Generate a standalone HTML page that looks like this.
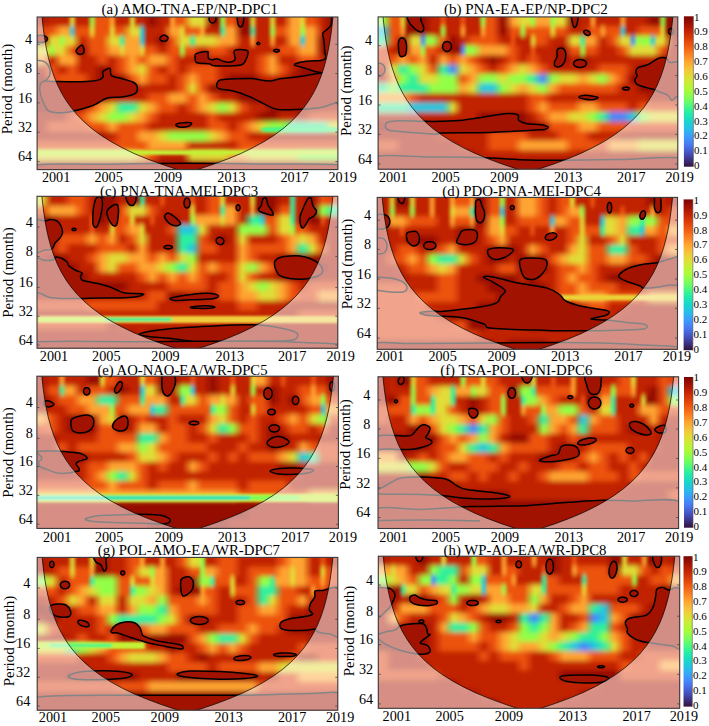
<!DOCTYPE html><html><head><meta charset="utf-8"><style>html,body{margin:0;padding:0;background:#fff;}svg{display:block;}text{font-family:"Liberation Serif",serif;fill:#000;}</style></head><body>
<svg width="709" height="726" viewBox="0 0 709 726">
<defs>
<linearGradient id="cbg" x1="0" y1="0" x2="0" y2="1"><stop offset="0.000" stop-color="#7a0403"/><stop offset="0.050" stop-color="#a11201"/><stop offset="0.100" stop-color="#c32503"/><stop offset="0.150" stop-color="#dd3d08"/><stop offset="0.200" stop-color="#f05b12"/><stop offset="0.250" stop-color="#fb7e21"/><stop offset="0.300" stop-color="#fea431"/><stop offset="0.350" stop-color="#f6c33a"/><stop offset="0.400" stop-color="#e1dd37"/><stop offset="0.450" stop-color="#c3f134"/><stop offset="0.500" stop-color="#a4fc3c"/><stop offset="0.550" stop-color="#79fe59"/><stop offset="0.600" stop-color="#46f884"/><stop offset="0.650" stop-color="#20eaac"/><stop offset="0.700" stop-color="#19d5cd"/><stop offset="0.750" stop-color="#28bceb"/><stop offset="0.800" stop-color="#3e9bfe"/><stop offset="0.850" stop-color="#477bf2"/><stop offset="0.900" stop-color="#4559cb"/><stop offset="0.950" stop-color="#3d358b"/><stop offset="1.000" stop-color="#30123b"/></linearGradient>
<filter id="bl" x="-5%" y="-5%" width="110%" height="110%"><feGaussianBlur stdDeviation="1.2 2.9"/></filter>
<filter id="bl2" x="-5%" y="-50%" width="110%" height="200%"><feGaussianBlur stdDeviation="1.5 1"/></filter>
<clipPath id="cp0"><rect x="37.1" y="17.0" width="300.79999999999995" height="152.6"/></clipPath>
<linearGradient id="g0_0" gradientUnits="userSpaceOnUse" x1="37.1" y1="0" x2="337.9" y2="0"><stop offset="0.017" stop-color="#ac1701"/><stop offset="0.050" stop-color="#c12302"/><stop offset="0.102" stop-color="#c12302"/><stop offset="0.117" stop-color="#e1dd37"/><stop offset="0.132" stop-color="#c12302"/><stop offset="0.168" stop-color="#c12302"/><stop offset="0.183" stop-color="#92ff47"/><stop offset="0.198" stop-color="#ec530f"/><stop offset="0.235" stop-color="#ec530f"/><stop offset="0.250" stop-color="#fea431"/><stop offset="0.265" stop-color="#c12302"/><stop offset="0.302" stop-color="#c12302"/><stop offset="0.317" stop-color="#e1dd37"/><stop offset="0.332" stop-color="#c12302"/><stop offset="0.350" stop-color="#c12302"/><stop offset="0.383" stop-color="#950d01"/><stop offset="0.417" stop-color="#c12302"/><stop offset="0.435" stop-color="#c12302"/><stop offset="0.450" stop-color="#fea431"/><stop offset="0.465" stop-color="#ec530f"/><stop offset="0.483" stop-color="#ec530f"/><stop offset="0.517" stop-color="#e1dd37"/><stop offset="0.550" stop-color="#e1dd37"/><stop offset="0.583" stop-color="#950d01"/><stop offset="0.602" stop-color="#950d01"/><stop offset="0.617" stop-color="#92ff47"/><stop offset="0.632" stop-color="#ec530f"/><stop offset="0.650" stop-color="#ec530f"/><stop offset="0.683" stop-color="#950d01"/><stop offset="0.702" stop-color="#950d01"/><stop offset="0.717" stop-color="#e1dd37"/><stop offset="0.732" stop-color="#c12302"/><stop offset="0.768" stop-color="#c12302"/><stop offset="0.783" stop-color="#e1dd37"/><stop offset="0.798" stop-color="#c12302"/><stop offset="0.817" stop-color="#c12302"/><stop offset="0.850" stop-color="#fea431"/><stop offset="0.868" stop-color="#fea431"/><stop offset="0.883" stop-color="#e1dd37"/><stop offset="0.898" stop-color="#ec530f"/><stop offset="0.917" stop-color="#ec530f"/><stop offset="0.950" stop-color="#c12302"/><stop offset="0.983" stop-color="#8e0a01"/></linearGradient>
<linearGradient id="g0_1" gradientUnits="userSpaceOnUse" x1="37.1" y1="0" x2="337.9" y2="0"><stop offset="0.017" stop-color="#ac1701"/><stop offset="0.050" stop-color="#c12302"/><stop offset="0.102" stop-color="#c12302"/><stop offset="0.117" stop-color="#e1dd37"/><stop offset="0.132" stop-color="#c12302"/><stop offset="0.168" stop-color="#c12302"/><stop offset="0.183" stop-color="#92ff47"/><stop offset="0.198" stop-color="#ec530f"/><stop offset="0.235" stop-color="#ec530f"/><stop offset="0.250" stop-color="#fea431"/><stop offset="0.265" stop-color="#c12302"/><stop offset="0.302" stop-color="#c12302"/><stop offset="0.317" stop-color="#e1dd37"/><stop offset="0.332" stop-color="#c12302"/><stop offset="0.350" stop-color="#c12302"/><stop offset="0.383" stop-color="#950d01"/><stop offset="0.417" stop-color="#c12302"/><stop offset="0.435" stop-color="#c12302"/><stop offset="0.450" stop-color="#fea431"/><stop offset="0.465" stop-color="#ec530f"/><stop offset="0.483" stop-color="#ec530f"/><stop offset="0.517" stop-color="#e1dd37"/><stop offset="0.550" stop-color="#e1dd37"/><stop offset="0.583" stop-color="#950d01"/><stop offset="0.602" stop-color="#950d01"/><stop offset="0.617" stop-color="#92ff47"/><stop offset="0.632" stop-color="#ec530f"/><stop offset="0.650" stop-color="#ec530f"/><stop offset="0.683" stop-color="#950d01"/><stop offset="0.702" stop-color="#950d01"/><stop offset="0.717" stop-color="#e1dd37"/><stop offset="0.732" stop-color="#c12302"/><stop offset="0.768" stop-color="#c12302"/><stop offset="0.783" stop-color="#e1dd37"/><stop offset="0.798" stop-color="#c12302"/><stop offset="0.817" stop-color="#c12302"/><stop offset="0.850" stop-color="#fea431"/><stop offset="0.868" stop-color="#fea431"/><stop offset="0.883" stop-color="#e1dd37"/><stop offset="0.898" stop-color="#ec530f"/><stop offset="0.917" stop-color="#ec530f"/><stop offset="0.950" stop-color="#c12302"/><stop offset="0.983" stop-color="#8e0a01"/></linearGradient>
<linearGradient id="g0_2" gradientUnits="userSpaceOnUse" x1="37.1" y1="0" x2="337.9" y2="0"><stop offset="0.017" stop-color="#e14109"/><stop offset="0.050" stop-color="#ec530f"/><stop offset="0.083" stop-color="#fea431"/><stop offset="0.102" stop-color="#fea431"/><stop offset="0.117" stop-color="#20c7df"/><stop offset="0.132" stop-color="#ec530f"/><stop offset="0.168" stop-color="#ec530f"/><stop offset="0.183" stop-color="#e1dd37"/><stop offset="0.198" stop-color="#ec530f"/><stop offset="0.235" stop-color="#ec530f"/><stop offset="0.250" stop-color="#e1dd37"/><stop offset="0.265" stop-color="#ec530f"/><stop offset="0.283" stop-color="#ec530f"/><stop offset="0.317" stop-color="#e1dd37"/><stop offset="0.335" stop-color="#e1dd37"/><stop offset="0.350" stop-color="#20c7df"/><stop offset="0.365" stop-color="#c12302"/><stop offset="0.417" stop-color="#c12302"/><stop offset="0.450" stop-color="#fea431"/><stop offset="0.468" stop-color="#fea431"/><stop offset="0.483" stop-color="#e1dd37"/><stop offset="0.498" stop-color="#ec530f"/><stop offset="0.535" stop-color="#ec530f"/><stop offset="0.550" stop-color="#fea431"/><stop offset="0.565" stop-color="#c12302"/><stop offset="0.602" stop-color="#c12302"/><stop offset="0.617" stop-color="#2cf09e"/><stop offset="0.632" stop-color="#fea431"/><stop offset="0.650" stop-color="#fea431"/><stop offset="0.683" stop-color="#950d01"/><stop offset="0.702" stop-color="#950d01"/><stop offset="0.717" stop-color="#2cf09e"/><stop offset="0.732" stop-color="#c12302"/><stop offset="0.768" stop-color="#c12302"/><stop offset="0.783" stop-color="#92ff47"/><stop offset="0.798" stop-color="#ec530f"/><stop offset="0.817" stop-color="#ec530f"/><stop offset="0.850" stop-color="#fea431"/><stop offset="0.868" stop-color="#fea431"/><stop offset="0.883" stop-color="#92ff47"/><stop offset="0.898" stop-color="#fea431"/><stop offset="0.917" stop-color="#fea431"/><stop offset="0.950" stop-color="#c12302"/><stop offset="0.983" stop-color="#8e0a01"/></linearGradient>
<linearGradient id="g0_3" gradientUnits="userSpaceOnUse" x1="37.1" y1="0" x2="337.9" y2="0"><stop offset="0.017" stop-color="#8e0a01"/><stop offset="0.050" stop-color="#e1dd37"/><stop offset="0.068" stop-color="#e1dd37"/><stop offset="0.083" stop-color="#92ff47"/><stop offset="0.098" stop-color="#e1dd37"/><stop offset="0.117" stop-color="#e1dd37"/><stop offset="0.150" stop-color="#c12302"/><stop offset="0.183" stop-color="#ec530f"/><stop offset="0.217" stop-color="#ec530f"/><stop offset="0.250" stop-color="#e1dd37"/><stop offset="0.268" stop-color="#e1dd37"/><stop offset="0.283" stop-color="#2cf09e"/><stop offset="0.298" stop-color="#fea431"/><stop offset="0.335" stop-color="#fea431"/><stop offset="0.350" stop-color="#20c7df"/><stop offset="0.365" stop-color="#c12302"/><stop offset="0.383" stop-color="#c12302"/><stop offset="0.417" stop-color="#950d01"/><stop offset="0.450" stop-color="#ec530f"/><stop offset="0.483" stop-color="#e1dd37"/><stop offset="0.502" stop-color="#e1dd37"/><stop offset="0.517" stop-color="#2cf09e"/><stop offset="0.532" stop-color="#e1dd37"/><stop offset="0.583" stop-color="#e1dd37"/><stop offset="0.617" stop-color="#fea431"/><stop offset="0.650" stop-color="#fea431"/><stop offset="0.683" stop-color="#c12302"/><stop offset="0.702" stop-color="#c12302"/><stop offset="0.717" stop-color="#fea431"/><stop offset="0.732" stop-color="#c12302"/><stop offset="0.768" stop-color="#c12302"/><stop offset="0.783" stop-color="#fea431"/><stop offset="0.798" stop-color="#c12302"/><stop offset="0.817" stop-color="#c12302"/><stop offset="0.850" stop-color="#fea431"/><stop offset="0.868" stop-color="#fea431"/><stop offset="0.883" stop-color="#20c7df"/><stop offset="0.898" stop-color="#fea431"/><stop offset="0.917" stop-color="#fea431"/><stop offset="0.950" stop-color="#950d01"/><stop offset="0.983" stop-color="#8e0a01"/></linearGradient>
<linearGradient id="g0_4" gradientUnits="userSpaceOnUse" x1="37.1" y1="0" x2="337.9" y2="0"><stop offset="0.017" stop-color="#e1dd37"/><stop offset="0.035" stop-color="#e1dd37"/><stop offset="0.050" stop-color="#92ff47"/><stop offset="0.065" stop-color="#e1dd37"/><stop offset="0.083" stop-color="#e1dd37"/><stop offset="0.117" stop-color="#ec530f"/><stop offset="0.150" stop-color="#950d01"/><stop offset="0.183" stop-color="#ec530f"/><stop offset="0.217" stop-color="#ec530f"/><stop offset="0.250" stop-color="#fea431"/><stop offset="0.268" stop-color="#fea431"/><stop offset="0.283" stop-color="#e1dd37"/><stop offset="0.298" stop-color="#fea431"/><stop offset="0.335" stop-color="#fea431"/><stop offset="0.350" stop-color="#e1dd37"/><stop offset="0.365" stop-color="#ec530f"/><stop offset="0.383" stop-color="#ec530f"/><stop offset="0.417" stop-color="#c12302"/><stop offset="0.450" stop-color="#ec530f"/><stop offset="0.468" stop-color="#ec530f"/><stop offset="0.483" stop-color="#92ff47"/><stop offset="0.498" stop-color="#ec530f"/><stop offset="0.517" stop-color="#ec530f"/><stop offset="0.550" stop-color="#c12302"/><stop offset="0.583" stop-color="#ec530f"/><stop offset="0.617" stop-color="#ec530f"/><stop offset="0.650" stop-color="#c12302"/><stop offset="0.783" stop-color="#c12302"/><stop offset="0.817" stop-color="#ec530f"/><stop offset="0.850" stop-color="#ec530f"/><stop offset="0.883" stop-color="#fea431"/><stop offset="0.917" stop-color="#fea431"/><stop offset="0.950" stop-color="#950d01"/><stop offset="0.983" stop-color="#8e0a01"/></linearGradient>
<linearGradient id="g0_5" gradientUnits="userSpaceOnUse" x1="37.1" y1="0" x2="337.9" y2="0"><stop offset="0.017" stop-color="#fea431"/><stop offset="0.050" stop-color="#c12302"/><stop offset="0.083" stop-color="#fea431"/><stop offset="0.117" stop-color="#fea431"/><stop offset="0.150" stop-color="#c12302"/><stop offset="0.183" stop-color="#c12302"/><stop offset="0.217" stop-color="#ec530f"/><stop offset="0.250" stop-color="#c12302"/><stop offset="0.283" stop-color="#ec530f"/><stop offset="0.317" stop-color="#fea431"/><stop offset="0.350" stop-color="#ec530f"/><stop offset="0.383" stop-color="#fea431"/><stop offset="0.417" stop-color="#fea431"/><stop offset="0.450" stop-color="#ec530f"/><stop offset="0.483" stop-color="#c12302"/><stop offset="0.717" stop-color="#c12302"/><stop offset="0.750" stop-color="#ec530f"/><stop offset="0.783" stop-color="#fea431"/><stop offset="0.817" stop-color="#c12302"/><stop offset="0.850" stop-color="#c12302"/><stop offset="0.883" stop-color="#ec530f"/><stop offset="0.917" stop-color="#ec530f"/><stop offset="0.950" stop-color="#c12302"/><stop offset="0.983" stop-color="#8e0a01"/></linearGradient>
<linearGradient id="g0_6" gradientUnits="userSpaceOnUse" x1="37.1" y1="0" x2="337.9" y2="0"><stop offset="0.017" stop-color="#ac1701"/><stop offset="0.050" stop-color="#ec530f"/><stop offset="0.083" stop-color="#c12302"/><stop offset="0.117" stop-color="#ec530f"/><stop offset="0.150" stop-color="#c12302"/><stop offset="0.183" stop-color="#c12302"/><stop offset="0.217" stop-color="#950d01"/><stop offset="0.250" stop-color="#c12302"/><stop offset="0.283" stop-color="#ec530f"/><stop offset="0.317" stop-color="#fea431"/><stop offset="0.350" stop-color="#e1dd37"/><stop offset="0.383" stop-color="#ec530f"/><stop offset="0.417" stop-color="#c12302"/><stop offset="0.450" stop-color="#ec530f"/><stop offset="0.483" stop-color="#c12302"/><stop offset="0.517" stop-color="#ec530f"/><stop offset="0.583" stop-color="#ec530f"/><stop offset="0.617" stop-color="#c12302"/><stop offset="0.717" stop-color="#c12302"/><stop offset="0.750" stop-color="#ec530f"/><stop offset="0.783" stop-color="#fea431"/><stop offset="0.817" stop-color="#ec530f"/><stop offset="0.850" stop-color="#c12302"/><stop offset="0.883" stop-color="#950d01"/><stop offset="0.950" stop-color="#950d01"/><stop offset="0.983" stop-color="#8e0a01"/></linearGradient>
<linearGradient id="g0_7" gradientUnits="userSpaceOnUse" x1="37.1" y1="0" x2="337.9" y2="0"><stop offset="0.017" stop-color="#8e0a01"/><stop offset="0.050" stop-color="#e14109"/><stop offset="0.083" stop-color="#ec530f"/><stop offset="0.150" stop-color="#ec530f"/><stop offset="0.183" stop-color="#c12302"/><stop offset="0.217" stop-color="#950d01"/><stop offset="0.283" stop-color="#950d01"/><stop offset="0.317" stop-color="#ec530f"/><stop offset="0.350" stop-color="#fea431"/><stop offset="0.383" stop-color="#ec530f"/><stop offset="0.417" stop-color="#ec530f"/><stop offset="0.450" stop-color="#c12302"/><stop offset="0.483" stop-color="#ec530f"/><stop offset="0.517" stop-color="#fea431"/><stop offset="0.550" stop-color="#ec530f"/><stop offset="0.583" stop-color="#ec530f"/><stop offset="0.617" stop-color="#c12302"/><stop offset="0.650" stop-color="#950d01"/><stop offset="0.717" stop-color="#950d01"/><stop offset="0.750" stop-color="#c12302"/><stop offset="0.817" stop-color="#c12302"/><stop offset="0.850" stop-color="#950d01"/><stop offset="0.917" stop-color="#950d01"/><stop offset="0.950" stop-color="#8e0a01"/><stop offset="0.983" stop-color="#8e0a01"/></linearGradient>
<linearGradient id="g0_8" gradientUnits="userSpaceOnUse" x1="37.1" y1="0" x2="337.9" y2="0"><stop offset="0.017" stop-color="#8e0a01"/><stop offset="0.050" stop-color="#8e0a01"/><stop offset="0.083" stop-color="#950d01"/><stop offset="0.317" stop-color="#950d01"/><stop offset="0.350" stop-color="#c12302"/><stop offset="0.450" stop-color="#c12302"/><stop offset="0.483" stop-color="#ec530f"/><stop offset="0.517" stop-color="#e1dd37"/><stop offset="0.550" stop-color="#ec530f"/><stop offset="0.583" stop-color="#950d01"/><stop offset="0.917" stop-color="#950d01"/><stop offset="0.950" stop-color="#8e0a01"/><stop offset="0.983" stop-color="#8e0a01"/></linearGradient>
<linearGradient id="g0_9" gradientUnits="userSpaceOnUse" x1="37.1" y1="0" x2="337.9" y2="0"><stop offset="0.017" stop-color="#8e0a01"/><stop offset="0.083" stop-color="#8e0a01"/><stop offset="0.117" stop-color="#950d01"/><stop offset="0.217" stop-color="#950d01"/><stop offset="0.250" stop-color="#c12302"/><stop offset="0.350" stop-color="#c12302"/><stop offset="0.383" stop-color="#ec530f"/><stop offset="0.417" stop-color="#ec530f"/><stop offset="0.450" stop-color="#fea431"/><stop offset="0.483" stop-color="#fea431"/><stop offset="0.517" stop-color="#ec530f"/><stop offset="0.550" stop-color="#fea431"/><stop offset="0.583" stop-color="#ec530f"/><stop offset="0.617" stop-color="#c12302"/><stop offset="0.650" stop-color="#c12302"/><stop offset="0.683" stop-color="#950d01"/><stop offset="0.883" stop-color="#950d01"/><stop offset="0.917" stop-color="#8e0a01"/><stop offset="0.983" stop-color="#8e0a01"/></linearGradient>
<linearGradient id="g0_10" gradientUnits="userSpaceOnUse" x1="37.1" y1="0" x2="337.9" y2="0"><stop offset="0.017" stop-color="#8e0a01"/><stop offset="0.083" stop-color="#8e0a01"/><stop offset="0.117" stop-color="#950d01"/><stop offset="0.150" stop-color="#c12302"/><stop offset="0.183" stop-color="#ec530f"/><stop offset="0.217" stop-color="#fea431"/><stop offset="0.250" stop-color="#e1dd37"/><stop offset="0.283" stop-color="#2cf09e"/><stop offset="0.317" stop-color="#2cf09e"/><stop offset="0.350" stop-color="#e1dd37"/><stop offset="0.383" stop-color="#fea431"/><stop offset="0.417" stop-color="#ec530f"/><stop offset="0.450" stop-color="#ec530f"/><stop offset="0.483" stop-color="#c12302"/><stop offset="0.517" stop-color="#ec530f"/><stop offset="0.550" stop-color="#fea431"/><stop offset="0.583" stop-color="#e1dd37"/><stop offset="0.617" stop-color="#92ff47"/><stop offset="0.650" stop-color="#e1dd37"/><stop offset="0.683" stop-color="#ec530f"/><stop offset="0.717" stop-color="#c12302"/><stop offset="0.750" stop-color="#c12302"/><stop offset="0.783" stop-color="#950d01"/><stop offset="0.883" stop-color="#950d01"/><stop offset="0.917" stop-color="#8e0a01"/><stop offset="0.950" stop-color="#ac1701"/><stop offset="0.983" stop-color="#ac1701"/></linearGradient>
<linearGradient id="g0_11" gradientUnits="userSpaceOnUse" x1="37.1" y1="0" x2="337.9" y2="0"><stop offset="0.017" stop-color="#ac1701"/><stop offset="0.083" stop-color="#ac1701"/><stop offset="0.117" stop-color="#e14109"/><stop offset="0.150" stop-color="#ec530f"/><stop offset="0.183" stop-color="#fea431"/><stop offset="0.217" stop-color="#e1dd37"/><stop offset="0.250" stop-color="#92ff47"/><stop offset="0.283" stop-color="#92ff47"/><stop offset="0.317" stop-color="#e1dd37"/><stop offset="0.350" stop-color="#fea431"/><stop offset="0.383" stop-color="#ec530f"/><stop offset="0.417" stop-color="#c12302"/><stop offset="0.550" stop-color="#c12302"/><stop offset="0.583" stop-color="#ec530f"/><stop offset="0.617" stop-color="#c12302"/><stop offset="0.717" stop-color="#c12302"/><stop offset="0.750" stop-color="#950d01"/><stop offset="0.783" stop-color="#950d01"/><stop offset="0.817" stop-color="#c12302"/><stop offset="0.850" stop-color="#c12302"/><stop offset="0.883" stop-color="#ac1701"/><stop offset="0.917" stop-color="#e14109"/><stop offset="0.983" stop-color="#e14109"/></linearGradient>
<linearGradient id="g0_12" gradientUnits="userSpaceOnUse" x1="37.1" y1="0" x2="337.9" y2="0"><stop offset="0.017" stop-color="#ac1701"/><stop offset="0.050" stop-color="#e14109"/><stop offset="0.150" stop-color="#e14109"/><stop offset="0.183" stop-color="#ec530f"/><stop offset="0.217" stop-color="#ec530f"/><stop offset="0.250" stop-color="#fea431"/><stop offset="0.283" stop-color="#ec530f"/><stop offset="0.350" stop-color="#ec530f"/><stop offset="0.383" stop-color="#c12302"/><stop offset="0.550" stop-color="#c12302"/><stop offset="0.583" stop-color="#ec530f"/><stop offset="0.617" stop-color="#ec530f"/><stop offset="0.650" stop-color="#c12302"/><stop offset="0.683" stop-color="#ec530f"/><stop offset="0.717" stop-color="#fea431"/><stop offset="0.750" stop-color="#e1dd37"/><stop offset="0.783" stop-color="#92ff47"/><stop offset="0.817" stop-color="#92ff47"/><stop offset="0.850" stop-color="#2cf09e"/><stop offset="0.950" stop-color="#2cf09e"/><stop offset="0.983" stop-color="#e1dd37"/></linearGradient>
<linearGradient id="g0_13" gradientUnits="userSpaceOnUse" x1="37.1" y1="0" x2="337.9" y2="0"><stop offset="0.017" stop-color="#ac1701"/><stop offset="0.217" stop-color="#ac1701"/><stop offset="0.250" stop-color="#c12302"/><stop offset="0.283" stop-color="#ec530f"/><stop offset="0.317" stop-color="#ec530f"/><stop offset="0.350" stop-color="#fea431"/><stop offset="0.383" stop-color="#fea431"/><stop offset="0.417" stop-color="#e1dd37"/><stop offset="0.450" stop-color="#92ff47"/><stop offset="0.550" stop-color="#92ff47"/><stop offset="0.583" stop-color="#e1dd37"/><stop offset="0.617" stop-color="#fea431"/><stop offset="0.650" stop-color="#ec530f"/><stop offset="0.683" stop-color="#ec530f"/><stop offset="0.717" stop-color="#c12302"/><stop offset="0.750" stop-color="#c12302"/><stop offset="0.783" stop-color="#ac1701"/><stop offset="0.983" stop-color="#ac1701"/></linearGradient>
<linearGradient id="g0_14" gradientUnits="userSpaceOnUse" x1="37.1" y1="0" x2="337.9" y2="0"><stop offset="0.017" stop-color="#e14109"/><stop offset="0.250" stop-color="#e14109"/><stop offset="0.283" stop-color="#ec530f"/><stop offset="0.350" stop-color="#ec530f"/><stop offset="0.383" stop-color="#fea431"/><stop offset="0.483" stop-color="#fea431"/><stop offset="0.517" stop-color="#c12302"/><stop offset="0.650" stop-color="#c12302"/><stop offset="0.683" stop-color="#ec530f"/><stop offset="0.717" stop-color="#ec530f"/><stop offset="0.750" stop-color="#e14109"/><stop offset="0.983" stop-color="#e14109"/></linearGradient>
<linearGradient id="g0_15" gradientUnits="userSpaceOnUse" x1="37.1" y1="0" x2="337.9" y2="0"><stop offset="0.017" stop-color="#e1dd37"/><stop offset="0.317" stop-color="#e1dd37"/><stop offset="0.350" stop-color="#fea431"/><stop offset="0.383" stop-color="#ec530f"/><stop offset="0.417" stop-color="#c12302"/><stop offset="0.483" stop-color="#c12302"/><stop offset="0.517" stop-color="#e1dd37"/><stop offset="0.617" stop-color="#e1dd37"/><stop offset="0.650" stop-color="#fea431"/><stop offset="0.683" stop-color="#fea431"/><stop offset="0.717" stop-color="#e1dd37"/><stop offset="0.850" stop-color="#e1dd37"/><stop offset="0.883" stop-color="#92ff47"/><stop offset="0.983" stop-color="#92ff47"/></linearGradient>
<linearGradient id="g0_16" gradientUnits="userSpaceOnUse" x1="37.1" y1="0" x2="337.9" y2="0"><stop offset="0.017" stop-color="#ac1701"/><stop offset="0.383" stop-color="#ac1701"/><stop offset="0.417" stop-color="#8e0a01"/><stop offset="0.450" stop-color="#950d01"/><stop offset="0.550" stop-color="#950d01"/><stop offset="0.583" stop-color="#ac1701"/><stop offset="0.983" stop-color="#ac1701"/></linearGradient>
<linearGradient id="g0_17" gradientUnits="userSpaceOnUse" x1="37.1" y1="0" x2="337.9" y2="0"><stop offset="0.017" stop-color="#ac1701"/><stop offset="0.383" stop-color="#ac1701"/><stop offset="0.417" stop-color="#8e0a01"/><stop offset="0.450" stop-color="#950d01"/><stop offset="0.550" stop-color="#950d01"/><stop offset="0.583" stop-color="#ac1701"/><stop offset="0.983" stop-color="#ac1701"/></linearGradient>
<clipPath id="cp1"><rect x="378.1" y="16.9" width="299.69999999999993" height="152.29999999999998"/></clipPath>
<linearGradient id="g1_0" gradientUnits="userSpaceOnUse" x1="378.1" y1="0" x2="677.8" y2="0"><stop offset="0.017" stop-color="#92ff47"/><stop offset="0.050" stop-color="#ec530f"/><stop offset="0.068" stop-color="#ec530f"/><stop offset="0.083" stop-color="#e1dd37"/><stop offset="0.098" stop-color="#950d01"/><stop offset="0.150" stop-color="#950d01"/><stop offset="0.183" stop-color="#c12302"/><stop offset="0.202" stop-color="#c12302"/><stop offset="0.217" stop-color="#ec530f"/><stop offset="0.232" stop-color="#c12302"/><stop offset="0.268" stop-color="#c12302"/><stop offset="0.283" stop-color="#ec530f"/><stop offset="0.298" stop-color="#c12302"/><stop offset="0.335" stop-color="#c12302"/><stop offset="0.350" stop-color="#92ff47"/><stop offset="0.365" stop-color="#ec530f"/><stop offset="0.383" stop-color="#ec530f"/><stop offset="0.417" stop-color="#950d01"/><stop offset="0.450" stop-color="#fea431"/><stop offset="0.483" stop-color="#e1dd37"/><stop offset="0.502" stop-color="#e1dd37"/><stop offset="0.517" stop-color="#92ff47"/><stop offset="0.532" stop-color="#fea431"/><stop offset="0.568" stop-color="#fea431"/><stop offset="0.583" stop-color="#92ff47"/><stop offset="0.598" stop-color="#e1dd37"/><stop offset="0.617" stop-color="#e1dd37"/><stop offset="0.650" stop-color="#950d01"/><stop offset="0.683" stop-color="#c12302"/><stop offset="0.702" stop-color="#c12302"/><stop offset="0.717" stop-color="#fea431"/><stop offset="0.732" stop-color="#c12302"/><stop offset="0.802" stop-color="#c12302"/><stop offset="0.817" stop-color="#fea431"/><stop offset="0.832" stop-color="#c12302"/><stop offset="0.883" stop-color="#c12302"/><stop offset="0.917" stop-color="#950d01"/><stop offset="0.935" stop-color="#950d01"/><stop offset="0.950" stop-color="#92ff47"/><stop offset="0.965" stop-color="#950d01"/><stop offset="0.983" stop-color="#8e0a01"/></linearGradient>
<linearGradient id="g1_1" gradientUnits="userSpaceOnUse" x1="378.1" y1="0" x2="677.8" y2="0"><stop offset="0.017" stop-color="#92ff47"/><stop offset="0.050" stop-color="#ec530f"/><stop offset="0.068" stop-color="#ec530f"/><stop offset="0.083" stop-color="#e1dd37"/><stop offset="0.098" stop-color="#950d01"/><stop offset="0.150" stop-color="#950d01"/><stop offset="0.183" stop-color="#c12302"/><stop offset="0.202" stop-color="#c12302"/><stop offset="0.217" stop-color="#ec530f"/><stop offset="0.232" stop-color="#c12302"/><stop offset="0.268" stop-color="#c12302"/><stop offset="0.283" stop-color="#ec530f"/><stop offset="0.298" stop-color="#c12302"/><stop offset="0.335" stop-color="#c12302"/><stop offset="0.350" stop-color="#92ff47"/><stop offset="0.365" stop-color="#ec530f"/><stop offset="0.383" stop-color="#ec530f"/><stop offset="0.417" stop-color="#950d01"/><stop offset="0.450" stop-color="#fea431"/><stop offset="0.483" stop-color="#e1dd37"/><stop offset="0.502" stop-color="#e1dd37"/><stop offset="0.517" stop-color="#92ff47"/><stop offset="0.532" stop-color="#fea431"/><stop offset="0.568" stop-color="#fea431"/><stop offset="0.583" stop-color="#92ff47"/><stop offset="0.598" stop-color="#e1dd37"/><stop offset="0.617" stop-color="#e1dd37"/><stop offset="0.650" stop-color="#950d01"/><stop offset="0.683" stop-color="#c12302"/><stop offset="0.702" stop-color="#c12302"/><stop offset="0.717" stop-color="#fea431"/><stop offset="0.732" stop-color="#c12302"/><stop offset="0.802" stop-color="#c12302"/><stop offset="0.817" stop-color="#fea431"/><stop offset="0.832" stop-color="#c12302"/><stop offset="0.883" stop-color="#c12302"/><stop offset="0.917" stop-color="#950d01"/><stop offset="0.935" stop-color="#950d01"/><stop offset="0.950" stop-color="#92ff47"/><stop offset="0.965" stop-color="#950d01"/><stop offset="0.983" stop-color="#8e0a01"/></linearGradient>
<linearGradient id="g1_2" gradientUnits="userSpaceOnUse" x1="378.1" y1="0" x2="677.8" y2="0"><stop offset="0.017" stop-color="#20c7df"/><stop offset="0.050" stop-color="#ec530f"/><stop offset="0.068" stop-color="#ec530f"/><stop offset="0.083" stop-color="#fea431"/><stop offset="0.098" stop-color="#950d01"/><stop offset="0.150" stop-color="#950d01"/><stop offset="0.183" stop-color="#c12302"/><stop offset="0.202" stop-color="#c12302"/><stop offset="0.217" stop-color="#92ff47"/><stop offset="0.232" stop-color="#c12302"/><stop offset="0.268" stop-color="#c12302"/><stop offset="0.283" stop-color="#fea431"/><stop offset="0.298" stop-color="#c12302"/><stop offset="0.335" stop-color="#c12302"/><stop offset="0.350" stop-color="#fea431"/><stop offset="0.365" stop-color="#ec530f"/><stop offset="0.383" stop-color="#ec530f"/><stop offset="0.417" stop-color="#950d01"/><stop offset="0.450" stop-color="#ec530f"/><stop offset="0.468" stop-color="#ec530f"/><stop offset="0.483" stop-color="#92ff47"/><stop offset="0.498" stop-color="#ec530f"/><stop offset="0.568" stop-color="#ec530f"/><stop offset="0.583" stop-color="#e1dd37"/><stop offset="0.598" stop-color="#ec530f"/><stop offset="0.617" stop-color="#ec530f"/><stop offset="0.650" stop-color="#c12302"/><stop offset="0.683" stop-color="#c12302"/><stop offset="0.717" stop-color="#ec530f"/><stop offset="0.735" stop-color="#ec530f"/><stop offset="0.750" stop-color="#fea431"/><stop offset="0.765" stop-color="#ec530f"/><stop offset="0.802" stop-color="#ec530f"/><stop offset="0.817" stop-color="#20c7df"/><stop offset="0.832" stop-color="#c12302"/><stop offset="0.850" stop-color="#c12302"/><stop offset="0.883" stop-color="#ec530f"/><stop offset="0.935" stop-color="#ec530f"/><stop offset="0.950" stop-color="#e1dd37"/><stop offset="0.965" stop-color="#950d01"/><stop offset="0.983" stop-color="#8e0a01"/></linearGradient>
<linearGradient id="g1_3" gradientUnits="userSpaceOnUse" x1="378.1" y1="0" x2="677.8" y2="0"><stop offset="0.017" stop-color="#2cf09e"/><stop offset="0.050" stop-color="#ec530f"/><stop offset="0.083" stop-color="#950d01"/><stop offset="0.117" stop-color="#e1dd37"/><stop offset="0.135" stop-color="#e1dd37"/><stop offset="0.150" stop-color="#4687fb"/><stop offset="0.165" stop-color="#92ff47"/><stop offset="0.183" stop-color="#92ff47"/><stop offset="0.217" stop-color="#ec530f"/><stop offset="0.250" stop-color="#950d01"/><stop offset="0.283" stop-color="#c12302"/><stop offset="0.317" stop-color="#ec530f"/><stop offset="0.383" stop-color="#ec530f"/><stop offset="0.417" stop-color="#c12302"/><stop offset="0.435" stop-color="#c12302"/><stop offset="0.450" stop-color="#ec530f"/><stop offset="0.465" stop-color="#c12302"/><stop offset="0.502" stop-color="#c12302"/><stop offset="0.517" stop-color="#e1dd37"/><stop offset="0.532" stop-color="#ec530f"/><stop offset="0.550" stop-color="#ec530f"/><stop offset="0.583" stop-color="#c12302"/><stop offset="0.617" stop-color="#c12302"/><stop offset="0.650" stop-color="#e1dd37"/><stop offset="0.668" stop-color="#e1dd37"/><stop offset="0.683" stop-color="#2cf09e"/><stop offset="0.698" stop-color="#fea431"/><stop offset="0.717" stop-color="#fea431"/><stop offset="0.750" stop-color="#c12302"/><stop offset="0.783" stop-color="#ec530f"/><stop offset="0.817" stop-color="#e1dd37"/><stop offset="0.835" stop-color="#e1dd37"/><stop offset="0.850" stop-color="#4687fb"/><stop offset="0.865" stop-color="#92ff47"/><stop offset="0.902" stop-color="#92ff47"/><stop offset="0.917" stop-color="#20c7df"/><stop offset="0.932" stop-color="#e1dd37"/><stop offset="0.950" stop-color="#e1dd37"/><stop offset="0.983" stop-color="#ac1701"/></linearGradient>
<linearGradient id="g1_4" gradientUnits="userSpaceOnUse" x1="378.1" y1="0" x2="677.8" y2="0"><stop offset="0.017" stop-color="#e14109"/><stop offset="0.050" stop-color="#c12302"/><stop offset="0.083" stop-color="#950d01"/><stop offset="0.117" stop-color="#fea431"/><stop offset="0.135" stop-color="#fea431"/><stop offset="0.150" stop-color="#92ff47"/><stop offset="0.165" stop-color="#ec530f"/><stop offset="0.183" stop-color="#ec530f"/><stop offset="0.217" stop-color="#c12302"/><stop offset="0.250" stop-color="#950d01"/><stop offset="0.268" stop-color="#950d01"/><stop offset="0.283" stop-color="#4687fb"/><stop offset="0.298" stop-color="#92ff47"/><stop offset="0.317" stop-color="#92ff47"/><stop offset="0.350" stop-color="#fea431"/><stop offset="0.417" stop-color="#fea431"/><stop offset="0.450" stop-color="#ec530f"/><stop offset="0.483" stop-color="#c12302"/><stop offset="0.502" stop-color="#c12302"/><stop offset="0.517" stop-color="#ec530f"/><stop offset="0.532" stop-color="#c12302"/><stop offset="0.583" stop-color="#c12302"/><stop offset="0.617" stop-color="#950d01"/><stop offset="0.650" stop-color="#ec530f"/><stop offset="0.668" stop-color="#ec530f"/><stop offset="0.683" stop-color="#92ff47"/><stop offset="0.698" stop-color="#ec530f"/><stop offset="0.717" stop-color="#ec530f"/><stop offset="0.750" stop-color="#c12302"/><stop offset="0.783" stop-color="#c12302"/><stop offset="0.817" stop-color="#ec530f"/><stop offset="0.850" stop-color="#e1dd37"/><stop offset="0.917" stop-color="#e1dd37"/><stop offset="0.950" stop-color="#ec530f"/><stop offset="0.983" stop-color="#ac1701"/></linearGradient>
<linearGradient id="g1_5" gradientUnits="userSpaceOnUse" x1="378.1" y1="0" x2="677.8" y2="0"><stop offset="0.017" stop-color="#e14109"/><stop offset="0.050" stop-color="#ec530f"/><stop offset="0.083" stop-color="#fea431"/><stop offset="0.117" stop-color="#ec530f"/><stop offset="0.150" stop-color="#fea431"/><stop offset="0.183" stop-color="#c12302"/><stop offset="0.217" stop-color="#fea431"/><stop offset="0.250" stop-color="#ec530f"/><stop offset="0.283" stop-color="#fea431"/><stop offset="0.317" stop-color="#ec530f"/><stop offset="0.350" stop-color="#c12302"/><stop offset="0.383" stop-color="#950d01"/><stop offset="0.417" stop-color="#c12302"/><stop offset="0.450" stop-color="#ec530f"/><stop offset="0.483" stop-color="#c12302"/><stop offset="0.517" stop-color="#ec530f"/><stop offset="0.550" stop-color="#c12302"/><stop offset="0.583" stop-color="#c12302"/><stop offset="0.617" stop-color="#950d01"/><stop offset="0.650" stop-color="#c12302"/><stop offset="0.683" stop-color="#950d01"/><stop offset="0.717" stop-color="#c12302"/><stop offset="0.917" stop-color="#c12302"/><stop offset="0.950" stop-color="#950d01"/><stop offset="0.983" stop-color="#ac1701"/></linearGradient>
<linearGradient id="g1_6" gradientUnits="userSpaceOnUse" x1="378.1" y1="0" x2="677.8" y2="0"><stop offset="0.017" stop-color="#ac1701"/><stop offset="0.050" stop-color="#e1dd37"/><stop offset="0.083" stop-color="#2cf09e"/><stop offset="0.117" stop-color="#92ff47"/><stop offset="0.150" stop-color="#e1dd37"/><stop offset="0.183" stop-color="#ec530f"/><stop offset="0.217" stop-color="#2cf09e"/><stop offset="0.250" stop-color="#4687fb"/><stop offset="0.283" stop-color="#e1dd37"/><stop offset="0.317" stop-color="#fea431"/><stop offset="0.350" stop-color="#ec530f"/><stop offset="0.383" stop-color="#c12302"/><stop offset="0.417" stop-color="#ec530f"/><stop offset="0.450" stop-color="#fea431"/><stop offset="0.483" stop-color="#e1dd37"/><stop offset="0.517" stop-color="#fea431"/><stop offset="0.550" stop-color="#ec530f"/><stop offset="0.583" stop-color="#c12302"/><stop offset="0.717" stop-color="#c12302"/><stop offset="0.750" stop-color="#ec530f"/><stop offset="0.817" stop-color="#ec530f"/><stop offset="0.850" stop-color="#c12302"/><stop offset="0.883" stop-color="#950d01"/><stop offset="0.950" stop-color="#950d01"/><stop offset="0.983" stop-color="#ac1701"/></linearGradient>
<linearGradient id="g1_7" gradientUnits="userSpaceOnUse" x1="378.1" y1="0" x2="677.8" y2="0"><stop offset="0.017" stop-color="#ac1701"/><stop offset="0.050" stop-color="#fea431"/><stop offset="0.083" stop-color="#92ff47"/><stop offset="0.117" stop-color="#2cf09e"/><stop offset="0.150" stop-color="#e1dd37"/><stop offset="0.183" stop-color="#e1dd37"/><stop offset="0.217" stop-color="#92ff47"/><stop offset="0.250" stop-color="#92ff47"/><stop offset="0.283" stop-color="#ec530f"/><stop offset="0.317" stop-color="#fea431"/><stop offset="0.350" stop-color="#92ff47"/><stop offset="0.383" stop-color="#92ff47"/><stop offset="0.417" stop-color="#e1dd37"/><stop offset="0.450" stop-color="#92ff47"/><stop offset="0.483" stop-color="#92ff47"/><stop offset="0.517" stop-color="#2cf09e"/><stop offset="0.550" stop-color="#4687fb"/><stop offset="0.583" stop-color="#92ff47"/><stop offset="0.617" stop-color="#e1dd37"/><stop offset="0.650" stop-color="#e1dd37"/><stop offset="0.683" stop-color="#fea431"/><stop offset="0.717" stop-color="#e1dd37"/><stop offset="0.750" stop-color="#92ff47"/><stop offset="0.783" stop-color="#fea431"/><stop offset="0.817" stop-color="#ec530f"/><stop offset="0.850" stop-color="#950d01"/><stop offset="0.917" stop-color="#950d01"/><stop offset="0.950" stop-color="#8e0a01"/><stop offset="0.983" stop-color="#ac1701"/></linearGradient>
<linearGradient id="g1_8" gradientUnits="userSpaceOnUse" x1="378.1" y1="0" x2="677.8" y2="0"><stop offset="0.017" stop-color="#2cf09e"/><stop offset="0.050" stop-color="#92ff47"/><stop offset="0.083" stop-color="#2cf09e"/><stop offset="0.150" stop-color="#2cf09e"/><stop offset="0.183" stop-color="#92ff47"/><stop offset="0.250" stop-color="#92ff47"/><stop offset="0.283" stop-color="#fea431"/><stop offset="0.317" stop-color="#e1dd37"/><stop offset="0.350" stop-color="#20c7df"/><stop offset="0.383" stop-color="#20c7df"/><stop offset="0.417" stop-color="#92ff47"/><stop offset="0.450" stop-color="#e1dd37"/><stop offset="0.483" stop-color="#fea431"/><stop offset="0.517" stop-color="#e1dd37"/><stop offset="0.550" stop-color="#92ff47"/><stop offset="0.583" stop-color="#fea431"/><stop offset="0.617" stop-color="#ec530f"/><stop offset="0.783" stop-color="#ec530f"/><stop offset="0.817" stop-color="#c12302"/><stop offset="0.850" stop-color="#c12302"/><stop offset="0.883" stop-color="#950d01"/><stop offset="0.917" stop-color="#950d01"/><stop offset="0.950" stop-color="#ac1701"/><stop offset="0.983" stop-color="#ac1701"/></linearGradient>
<linearGradient id="g1_9" gradientUnits="userSpaceOnUse" x1="378.1" y1="0" x2="677.8" y2="0"><stop offset="0.017" stop-color="#fea431"/><stop offset="0.083" stop-color="#fea431"/><stop offset="0.117" stop-color="#ec530f"/><stop offset="0.150" stop-color="#c12302"/><stop offset="0.483" stop-color="#c12302"/><stop offset="0.517" stop-color="#ec530f"/><stop offset="0.550" stop-color="#ec530f"/><stop offset="0.583" stop-color="#c12302"/><stop offset="0.883" stop-color="#c12302"/><stop offset="0.917" stop-color="#ac1701"/><stop offset="0.983" stop-color="#ac1701"/></linearGradient>
<linearGradient id="g1_10" gradientUnits="userSpaceOnUse" x1="378.1" y1="0" x2="677.8" y2="0"><stop offset="0.017" stop-color="#2cf09e"/><stop offset="0.083" stop-color="#2cf09e"/><stop offset="0.117" stop-color="#20c7df"/><stop offset="0.217" stop-color="#20c7df"/><stop offset="0.250" stop-color="#e1dd37"/><stop offset="0.283" stop-color="#c12302"/><stop offset="0.483" stop-color="#c12302"/><stop offset="0.517" stop-color="#ec530f"/><stop offset="0.550" stop-color="#fea431"/><stop offset="0.583" stop-color="#ec530f"/><stop offset="0.650" stop-color="#ec530f"/><stop offset="0.683" stop-color="#fea431"/><stop offset="0.717" stop-color="#fea431"/><stop offset="0.750" stop-color="#ec530f"/><stop offset="0.817" stop-color="#ec530f"/><stop offset="0.850" stop-color="#c12302"/><stop offset="0.883" stop-color="#ec530f"/><stop offset="0.917" stop-color="#e14109"/><stop offset="0.983" stop-color="#e14109"/></linearGradient>
<linearGradient id="g1_11" gradientUnits="userSpaceOnUse" x1="378.1" y1="0" x2="677.8" y2="0"><stop offset="0.017" stop-color="#ac1701"/><stop offset="0.117" stop-color="#ac1701"/><stop offset="0.150" stop-color="#c12302"/><stop offset="0.317" stop-color="#c12302"/><stop offset="0.350" stop-color="#950d01"/><stop offset="0.483" stop-color="#950d01"/><stop offset="0.517" stop-color="#c12302"/><stop offset="0.550" stop-color="#ec530f"/><stop offset="0.583" stop-color="#fea431"/><stop offset="0.617" stop-color="#fea431"/><stop offset="0.650" stop-color="#e1dd37"/><stop offset="0.683" stop-color="#e1dd37"/><stop offset="0.717" stop-color="#92ff47"/><stop offset="0.750" stop-color="#2cf09e"/><stop offset="0.783" stop-color="#4687fb"/><stop offset="0.817" stop-color="#4687fb"/><stop offset="0.850" stop-color="#20c7df"/><stop offset="0.883" stop-color="#92ff47"/><stop offset="0.917" stop-color="#e1dd37"/><stop offset="0.983" stop-color="#e1dd37"/></linearGradient>
<linearGradient id="g1_12" gradientUnits="userSpaceOnUse" x1="378.1" y1="0" x2="677.8" y2="0"><stop offset="0.017" stop-color="#8e0a01"/><stop offset="0.150" stop-color="#8e0a01"/><stop offset="0.183" stop-color="#950d01"/><stop offset="0.550" stop-color="#950d01"/><stop offset="0.583" stop-color="#ec530f"/><stop offset="0.650" stop-color="#ec530f"/><stop offset="0.683" stop-color="#fea431"/><stop offset="0.717" stop-color="#fea431"/><stop offset="0.750" stop-color="#ec530f"/><stop offset="0.817" stop-color="#ec530f"/><stop offset="0.850" stop-color="#e14109"/><stop offset="0.983" stop-color="#e14109"/></linearGradient>
<linearGradient id="g1_13" gradientUnits="userSpaceOnUse" x1="378.1" y1="0" x2="677.8" y2="0"><stop offset="0.017" stop-color="#ac1701"/><stop offset="0.183" stop-color="#ac1701"/><stop offset="0.217" stop-color="#c12302"/><stop offset="0.350" stop-color="#c12302"/><stop offset="0.383" stop-color="#ec530f"/><stop offset="0.483" stop-color="#ec530f"/><stop offset="0.517" stop-color="#c12302"/><stop offset="0.583" stop-color="#c12302"/><stop offset="0.617" stop-color="#ec530f"/><stop offset="0.683" stop-color="#ec530f"/><stop offset="0.717" stop-color="#c12302"/><stop offset="0.783" stop-color="#c12302"/><stop offset="0.817" stop-color="#ac1701"/><stop offset="0.983" stop-color="#ac1701"/></linearGradient>
<linearGradient id="g1_14" gradientUnits="userSpaceOnUse" x1="378.1" y1="0" x2="677.8" y2="0"><stop offset="0.017" stop-color="#e14109"/><stop offset="0.050" stop-color="#e14109"/><stop offset="0.083" stop-color="#ac1701"/><stop offset="0.250" stop-color="#ac1701"/><stop offset="0.283" stop-color="#c12302"/><stop offset="0.350" stop-color="#c12302"/><stop offset="0.383" stop-color="#ec530f"/><stop offset="0.450" stop-color="#ec530f"/><stop offset="0.483" stop-color="#fea431"/><stop offset="0.617" stop-color="#fea431"/><stop offset="0.650" stop-color="#ec530f"/><stop offset="0.717" stop-color="#ec530f"/><stop offset="0.750" stop-color="#e14109"/><stop offset="0.783" stop-color="#fea431"/><stop offset="0.850" stop-color="#fea431"/><stop offset="0.883" stop-color="#e1dd37"/><stop offset="0.983" stop-color="#e1dd37"/></linearGradient>
<linearGradient id="g1_15" gradientUnits="userSpaceOnUse" x1="378.1" y1="0" x2="677.8" y2="0"><stop offset="0.017" stop-color="#ac1701"/><stop offset="0.317" stop-color="#ac1701"/><stop offset="0.350" stop-color="#c12302"/><stop offset="0.650" stop-color="#c12302"/><stop offset="0.683" stop-color="#ac1701"/><stop offset="0.983" stop-color="#ac1701"/></linearGradient>
<linearGradient id="g1_16" gradientUnits="userSpaceOnUse" x1="378.1" y1="0" x2="677.8" y2="0"><stop offset="0.017" stop-color="#8e0a01"/><stop offset="0.417" stop-color="#8e0a01"/><stop offset="0.450" stop-color="#950d01"/><stop offset="0.550" stop-color="#950d01"/><stop offset="0.583" stop-color="#8e0a01"/><stop offset="0.983" stop-color="#8e0a01"/></linearGradient>
<linearGradient id="g1_17" gradientUnits="userSpaceOnUse" x1="378.1" y1="0" x2="677.8" y2="0"><stop offset="0.017" stop-color="#8e0a01"/><stop offset="0.417" stop-color="#8e0a01"/><stop offset="0.450" stop-color="#950d01"/><stop offset="0.550" stop-color="#950d01"/><stop offset="0.583" stop-color="#8e0a01"/><stop offset="0.983" stop-color="#8e0a01"/></linearGradient>
<clipPath id="cp2"><rect x="37.0" y="196.3" width="300.8" height="151.89999999999998"/></clipPath>
<linearGradient id="g2_0" gradientUnits="userSpaceOnUse" x1="37.0" y1="0" x2="337.8" y2="0"><stop offset="0.017" stop-color="#e1dd37"/><stop offset="0.050" stop-color="#c12302"/><stop offset="0.083" stop-color="#c12302"/><stop offset="0.117" stop-color="#ec530f"/><stop offset="0.150" stop-color="#ec530f"/><stop offset="0.183" stop-color="#c12302"/><stop offset="0.217" stop-color="#950d01"/><stop offset="0.250" stop-color="#950d01"/><stop offset="0.283" stop-color="#c12302"/><stop offset="0.317" stop-color="#950d01"/><stop offset="0.335" stop-color="#950d01"/><stop offset="0.350" stop-color="#2cf09e"/><stop offset="0.365" stop-color="#c12302"/><stop offset="0.402" stop-color="#c12302"/><stop offset="0.417" stop-color="#ec530f"/><stop offset="0.432" stop-color="#c12302"/><stop offset="0.502" stop-color="#c12302"/><stop offset="0.517" stop-color="#ec530f"/><stop offset="0.532" stop-color="#c12302"/><stop offset="0.550" stop-color="#c12302"/><stop offset="0.583" stop-color="#ec530f"/><stop offset="0.602" stop-color="#ec530f"/><stop offset="0.617" stop-color="#e1dd37"/><stop offset="0.632" stop-color="#c12302"/><stop offset="0.702" stop-color="#c12302"/><stop offset="0.717" stop-color="#e1dd37"/><stop offset="0.732" stop-color="#950d01"/><stop offset="0.783" stop-color="#950d01"/><stop offset="0.817" stop-color="#c12302"/><stop offset="0.835" stop-color="#c12302"/><stop offset="0.850" stop-color="#2cf09e"/><stop offset="0.865" stop-color="#c12302"/><stop offset="0.883" stop-color="#c12302"/><stop offset="0.917" stop-color="#950d01"/><stop offset="0.950" stop-color="#ec530f"/><stop offset="0.983" stop-color="#e14109"/></linearGradient>
<linearGradient id="g2_1" gradientUnits="userSpaceOnUse" x1="37.0" y1="0" x2="337.8" y2="0"><stop offset="0.017" stop-color="#e1dd37"/><stop offset="0.050" stop-color="#c12302"/><stop offset="0.083" stop-color="#c12302"/><stop offset="0.117" stop-color="#ec530f"/><stop offset="0.150" stop-color="#ec530f"/><stop offset="0.183" stop-color="#c12302"/><stop offset="0.217" stop-color="#950d01"/><stop offset="0.250" stop-color="#950d01"/><stop offset="0.283" stop-color="#c12302"/><stop offset="0.317" stop-color="#950d01"/><stop offset="0.335" stop-color="#950d01"/><stop offset="0.350" stop-color="#2cf09e"/><stop offset="0.365" stop-color="#c12302"/><stop offset="0.402" stop-color="#c12302"/><stop offset="0.417" stop-color="#ec530f"/><stop offset="0.432" stop-color="#c12302"/><stop offset="0.502" stop-color="#c12302"/><stop offset="0.517" stop-color="#ec530f"/><stop offset="0.532" stop-color="#c12302"/><stop offset="0.550" stop-color="#c12302"/><stop offset="0.583" stop-color="#ec530f"/><stop offset="0.602" stop-color="#ec530f"/><stop offset="0.617" stop-color="#e1dd37"/><stop offset="0.632" stop-color="#c12302"/><stop offset="0.702" stop-color="#c12302"/><stop offset="0.717" stop-color="#e1dd37"/><stop offset="0.732" stop-color="#950d01"/><stop offset="0.783" stop-color="#950d01"/><stop offset="0.817" stop-color="#c12302"/><stop offset="0.835" stop-color="#c12302"/><stop offset="0.850" stop-color="#2cf09e"/><stop offset="0.865" stop-color="#c12302"/><stop offset="0.883" stop-color="#c12302"/><stop offset="0.917" stop-color="#950d01"/><stop offset="0.950" stop-color="#ec530f"/><stop offset="0.983" stop-color="#e14109"/></linearGradient>
<linearGradient id="g2_2" gradientUnits="userSpaceOnUse" x1="37.0" y1="0" x2="337.8" y2="0"><stop offset="0.017" stop-color="#e14109"/><stop offset="0.050" stop-color="#fea431"/><stop offset="0.117" stop-color="#fea431"/><stop offset="0.150" stop-color="#ec530f"/><stop offset="0.183" stop-color="#c12302"/><stop offset="0.217" stop-color="#950d01"/><stop offset="0.250" stop-color="#950d01"/><stop offset="0.283" stop-color="#ec530f"/><stop offset="0.317" stop-color="#e1dd37"/><stop offset="0.350" stop-color="#e1dd37"/><stop offset="0.383" stop-color="#ec530f"/><stop offset="0.417" stop-color="#c12302"/><stop offset="0.502" stop-color="#c12302"/><stop offset="0.517" stop-color="#e1dd37"/><stop offset="0.532" stop-color="#c12302"/><stop offset="0.550" stop-color="#c12302"/><stop offset="0.583" stop-color="#ec530f"/><stop offset="0.602" stop-color="#ec530f"/><stop offset="0.617" stop-color="#2cf09e"/><stop offset="0.632" stop-color="#fea431"/><stop offset="0.650" stop-color="#fea431"/><stop offset="0.683" stop-color="#c12302"/><stop offset="0.702" stop-color="#c12302"/><stop offset="0.717" stop-color="#fea431"/><stop offset="0.732" stop-color="#950d01"/><stop offset="0.783" stop-color="#950d01"/><stop offset="0.817" stop-color="#ec530f"/><stop offset="0.835" stop-color="#ec530f"/><stop offset="0.850" stop-color="#2cf09e"/><stop offset="0.865" stop-color="#c12302"/><stop offset="0.883" stop-color="#c12302"/><stop offset="0.917" stop-color="#950d01"/><stop offset="0.950" stop-color="#92ff47"/><stop offset="0.983" stop-color="#2cf09e"/></linearGradient>
<linearGradient id="g2_3" gradientUnits="userSpaceOnUse" x1="37.0" y1="0" x2="337.8" y2="0"><stop offset="0.017" stop-color="#8e0a01"/><stop offset="0.050" stop-color="#950d01"/><stop offset="0.083" stop-color="#c12302"/><stop offset="0.168" stop-color="#c12302"/><stop offset="0.183" stop-color="#ec530f"/><stop offset="0.198" stop-color="#950d01"/><stop offset="0.217" stop-color="#950d01"/><stop offset="0.250" stop-color="#c12302"/><stop offset="0.283" stop-color="#ec530f"/><stop offset="0.302" stop-color="#ec530f"/><stop offset="0.317" stop-color="#e1dd37"/><stop offset="0.332" stop-color="#c12302"/><stop offset="0.368" stop-color="#c12302"/><stop offset="0.383" stop-color="#ec530f"/><stop offset="0.398" stop-color="#c12302"/><stop offset="0.417" stop-color="#c12302"/><stop offset="0.450" stop-color="#950d01"/><stop offset="0.483" stop-color="#c12302"/><stop offset="0.502" stop-color="#c12302"/><stop offset="0.517" stop-color="#92ff47"/><stop offset="0.532" stop-color="#fea431"/><stop offset="0.602" stop-color="#fea431"/><stop offset="0.617" stop-color="#e1dd37"/><stop offset="0.632" stop-color="#fea431"/><stop offset="0.650" stop-color="#fea431"/><stop offset="0.683" stop-color="#c12302"/><stop offset="0.717" stop-color="#2cf09e"/><stop offset="0.735" stop-color="#2cf09e"/><stop offset="0.750" stop-color="#20c7df"/><stop offset="0.765" stop-color="#ec530f"/><stop offset="0.783" stop-color="#ec530f"/><stop offset="0.817" stop-color="#e1dd37"/><stop offset="0.835" stop-color="#e1dd37"/><stop offset="0.850" stop-color="#2cf09e"/><stop offset="0.865" stop-color="#c12302"/><stop offset="0.883" stop-color="#c12302"/><stop offset="0.917" stop-color="#950d01"/><stop offset="0.935" stop-color="#950d01"/><stop offset="0.950" stop-color="#ec530f"/><stop offset="0.965" stop-color="#c12302"/><stop offset="0.983" stop-color="#ac1701"/></linearGradient>
<linearGradient id="g2_4" gradientUnits="userSpaceOnUse" x1="37.0" y1="0" x2="337.8" y2="0"><stop offset="0.017" stop-color="#8e0a01"/><stop offset="0.050" stop-color="#950d01"/><stop offset="0.083" stop-color="#c12302"/><stop offset="0.168" stop-color="#c12302"/><stop offset="0.183" stop-color="#ec530f"/><stop offset="0.198" stop-color="#c12302"/><stop offset="0.235" stop-color="#c12302"/><stop offset="0.250" stop-color="#e1dd37"/><stop offset="0.265" stop-color="#ec530f"/><stop offset="0.283" stop-color="#ec530f"/><stop offset="0.317" stop-color="#fea431"/><stop offset="0.335" stop-color="#fea431"/><stop offset="0.350" stop-color="#e1dd37"/><stop offset="0.365" stop-color="#c12302"/><stop offset="0.417" stop-color="#c12302"/><stop offset="0.450" stop-color="#ec530f"/><stop offset="0.483" stop-color="#20c7df"/><stop offset="0.517" stop-color="#20c7df"/><stop offset="0.550" stop-color="#e1dd37"/><stop offset="0.583" stop-color="#c12302"/><stop offset="0.650" stop-color="#c12302"/><stop offset="0.683" stop-color="#92ff47"/><stop offset="0.750" stop-color="#92ff47"/><stop offset="0.783" stop-color="#ec530f"/><stop offset="0.817" stop-color="#e1dd37"/><stop offset="0.835" stop-color="#e1dd37"/><stop offset="0.850" stop-color="#92ff47"/><stop offset="0.865" stop-color="#ec530f"/><stop offset="0.883" stop-color="#ec530f"/><stop offset="0.917" stop-color="#c12302"/><stop offset="0.950" stop-color="#c12302"/><stop offset="0.983" stop-color="#ac1701"/></linearGradient>
<linearGradient id="g2_5" gradientUnits="userSpaceOnUse" x1="37.0" y1="0" x2="337.8" y2="0"><stop offset="0.017" stop-color="#8e0a01"/><stop offset="0.050" stop-color="#950d01"/><stop offset="0.083" stop-color="#ec530f"/><stop offset="0.150" stop-color="#ec530f"/><stop offset="0.183" stop-color="#fea431"/><stop offset="0.217" stop-color="#ec530f"/><stop offset="0.250" stop-color="#fea431"/><stop offset="0.283" stop-color="#c12302"/><stop offset="0.317" stop-color="#ec530f"/><stop offset="0.350" stop-color="#e1dd37"/><stop offset="0.383" stop-color="#c12302"/><stop offset="0.450" stop-color="#c12302"/><stop offset="0.483" stop-color="#2cf09e"/><stop offset="0.517" stop-color="#2cf09e"/><stop offset="0.550" stop-color="#ec530f"/><stop offset="0.583" stop-color="#c12302"/><stop offset="0.617" stop-color="#950d01"/><stop offset="0.650" stop-color="#c12302"/><stop offset="0.683" stop-color="#e1dd37"/><stop offset="0.717" stop-color="#c12302"/><stop offset="0.783" stop-color="#c12302"/><stop offset="0.817" stop-color="#ec530f"/><stop offset="0.850" stop-color="#fea431"/><stop offset="0.883" stop-color="#e1dd37"/><stop offset="0.917" stop-color="#fea431"/><stop offset="0.950" stop-color="#c12302"/><stop offset="0.983" stop-color="#ac1701"/></linearGradient>
<linearGradient id="g2_6" gradientUnits="userSpaceOnUse" x1="37.0" y1="0" x2="337.8" y2="0"><stop offset="0.017" stop-color="#ac1701"/><stop offset="0.050" stop-color="#c12302"/><stop offset="0.083" stop-color="#ec530f"/><stop offset="0.117" stop-color="#c12302"/><stop offset="0.183" stop-color="#c12302"/><stop offset="0.217" stop-color="#ec530f"/><stop offset="0.283" stop-color="#ec530f"/><stop offset="0.317" stop-color="#c12302"/><stop offset="0.350" stop-color="#fea431"/><stop offset="0.383" stop-color="#c12302"/><stop offset="0.450" stop-color="#c12302"/><stop offset="0.483" stop-color="#2cf09e"/><stop offset="0.517" stop-color="#20c7df"/><stop offset="0.550" stop-color="#ec530f"/><stop offset="0.583" stop-color="#ec530f"/><stop offset="0.617" stop-color="#c12302"/><stop offset="0.650" stop-color="#c12302"/><stop offset="0.683" stop-color="#fea431"/><stop offset="0.717" stop-color="#ec530f"/><stop offset="0.817" stop-color="#ec530f"/><stop offset="0.850" stop-color="#fea431"/><stop offset="0.883" stop-color="#2cf09e"/><stop offset="0.917" stop-color="#e1dd37"/><stop offset="0.950" stop-color="#ec530f"/><stop offset="0.983" stop-color="#ac1701"/></linearGradient>
<linearGradient id="g2_7" gradientUnits="userSpaceOnUse" x1="37.0" y1="0" x2="337.8" y2="0"><stop offset="0.017" stop-color="#ac1701"/><stop offset="0.050" stop-color="#8e0a01"/><stop offset="0.083" stop-color="#950d01"/><stop offset="0.117" stop-color="#c12302"/><stop offset="0.150" stop-color="#c12302"/><stop offset="0.183" stop-color="#ec530f"/><stop offset="0.217" stop-color="#fea431"/><stop offset="0.250" stop-color="#e1dd37"/><stop offset="0.283" stop-color="#e1dd37"/><stop offset="0.317" stop-color="#fea431"/><stop offset="0.350" stop-color="#fea431"/><stop offset="0.383" stop-color="#ec530f"/><stop offset="0.417" stop-color="#fea431"/><stop offset="0.450" stop-color="#ec530f"/><stop offset="0.483" stop-color="#e1dd37"/><stop offset="0.517" stop-color="#92ff47"/><stop offset="0.550" stop-color="#c12302"/><stop offset="0.650" stop-color="#c12302"/><stop offset="0.683" stop-color="#fea431"/><stop offset="0.717" stop-color="#ec530f"/><stop offset="0.750" stop-color="#c12302"/><stop offset="0.783" stop-color="#c12302"/><stop offset="0.817" stop-color="#950d01"/><stop offset="0.917" stop-color="#950d01"/><stop offset="0.950" stop-color="#ac1701"/><stop offset="0.983" stop-color="#ac1701"/></linearGradient>
<linearGradient id="g2_8" gradientUnits="userSpaceOnUse" x1="37.0" y1="0" x2="337.8" y2="0"><stop offset="0.017" stop-color="#8e0a01"/><stop offset="0.050" stop-color="#8e0a01"/><stop offset="0.083" stop-color="#950d01"/><stop offset="0.117" stop-color="#950d01"/><stop offset="0.150" stop-color="#c12302"/><stop offset="0.183" stop-color="#c12302"/><stop offset="0.217" stop-color="#fea431"/><stop offset="0.250" stop-color="#e1dd37"/><stop offset="0.283" stop-color="#ec530f"/><stop offset="0.317" stop-color="#ec530f"/><stop offset="0.350" stop-color="#fea431"/><stop offset="0.383" stop-color="#fea431"/><stop offset="0.417" stop-color="#e1dd37"/><stop offset="0.450" stop-color="#92ff47"/><stop offset="0.483" stop-color="#2cf09e"/><stop offset="0.517" stop-color="#e1dd37"/><stop offset="0.550" stop-color="#ec530f"/><stop offset="0.583" stop-color="#fea431"/><stop offset="0.617" stop-color="#ec530f"/><stop offset="0.650" stop-color="#ec530f"/><stop offset="0.683" stop-color="#e1dd37"/><stop offset="0.717" stop-color="#92ff47"/><stop offset="0.750" stop-color="#fea431"/><stop offset="0.783" stop-color="#ec530f"/><stop offset="0.817" stop-color="#950d01"/><stop offset="0.917" stop-color="#950d01"/><stop offset="0.950" stop-color="#8e0a01"/><stop offset="0.983" stop-color="#ac1701"/></linearGradient>
<linearGradient id="g2_9" gradientUnits="userSpaceOnUse" x1="37.0" y1="0" x2="337.8" y2="0"><stop offset="0.017" stop-color="#8e0a01"/><stop offset="0.083" stop-color="#8e0a01"/><stop offset="0.117" stop-color="#950d01"/><stop offset="0.150" stop-color="#950d01"/><stop offset="0.183" stop-color="#c12302"/><stop offset="0.317" stop-color="#c12302"/><stop offset="0.350" stop-color="#ec530f"/><stop offset="0.383" stop-color="#fea431"/><stop offset="0.417" stop-color="#ec530f"/><stop offset="0.450" stop-color="#fea431"/><stop offset="0.483" stop-color="#ec530f"/><stop offset="0.517" stop-color="#fea431"/><stop offset="0.550" stop-color="#ec530f"/><stop offset="0.583" stop-color="#c12302"/><stop offset="0.617" stop-color="#c12302"/><stop offset="0.650" stop-color="#ec530f"/><stop offset="0.683" stop-color="#e1dd37"/><stop offset="0.717" stop-color="#ec530f"/><stop offset="0.750" stop-color="#c12302"/><stop offset="0.783" stop-color="#c12302"/><stop offset="0.817" stop-color="#950d01"/><stop offset="0.883" stop-color="#950d01"/><stop offset="0.917" stop-color="#8e0a01"/><stop offset="0.950" stop-color="#ac1701"/><stop offset="0.983" stop-color="#ac1701"/></linearGradient>
<linearGradient id="g2_10" gradientUnits="userSpaceOnUse" x1="37.0" y1="0" x2="337.8" y2="0"><stop offset="0.017" stop-color="#8e0a01"/><stop offset="0.083" stop-color="#8e0a01"/><stop offset="0.117" stop-color="#950d01"/><stop offset="0.283" stop-color="#950d01"/><stop offset="0.317" stop-color="#c12302"/><stop offset="0.417" stop-color="#c12302"/><stop offset="0.450" stop-color="#ec530f"/><stop offset="0.550" stop-color="#ec530f"/><stop offset="0.583" stop-color="#c12302"/><stop offset="0.617" stop-color="#ec530f"/><stop offset="0.650" stop-color="#ec530f"/><stop offset="0.683" stop-color="#fea431"/><stop offset="0.717" stop-color="#e1dd37"/><stop offset="0.750" stop-color="#92ff47"/><stop offset="0.783" stop-color="#e1dd37"/><stop offset="0.817" stop-color="#fea431"/><stop offset="0.850" stop-color="#ec530f"/><stop offset="0.883" stop-color="#c12302"/><stop offset="0.917" stop-color="#e14109"/><stop offset="0.983" stop-color="#e14109"/></linearGradient>
<linearGradient id="g2_11" gradientUnits="userSpaceOnUse" x1="37.0" y1="0" x2="337.8" y2="0"><stop offset="0.017" stop-color="#ac1701"/><stop offset="0.117" stop-color="#ac1701"/><stop offset="0.150" stop-color="#c12302"/><stop offset="0.350" stop-color="#c12302"/><stop offset="0.383" stop-color="#ec530f"/><stop offset="0.417" stop-color="#ec530f"/><stop offset="0.450" stop-color="#950d01"/><stop offset="0.483" stop-color="#950d01"/><stop offset="0.517" stop-color="#c12302"/><stop offset="0.550" stop-color="#950d01"/><stop offset="0.583" stop-color="#c12302"/><stop offset="0.617" stop-color="#ec530f"/><stop offset="0.650" stop-color="#ec530f"/><stop offset="0.683" stop-color="#fea431"/><stop offset="0.717" stop-color="#fea431"/><stop offset="0.750" stop-color="#e1dd37"/><stop offset="0.783" stop-color="#e1dd37"/><stop offset="0.817" stop-color="#fea431"/><stop offset="0.850" stop-color="#ec530f"/><stop offset="0.883" stop-color="#e14109"/><stop offset="0.917" stop-color="#e14109"/><stop offset="0.950" stop-color="#fea431"/><stop offset="0.983" stop-color="#fea431"/></linearGradient>
<linearGradient id="g2_12" gradientUnits="userSpaceOnUse" x1="37.0" y1="0" x2="337.8" y2="0"><stop offset="0.017" stop-color="#e14109"/><stop offset="0.150" stop-color="#e14109"/><stop offset="0.183" stop-color="#ec530f"/><stop offset="0.383" stop-color="#ec530f"/><stop offset="0.417" stop-color="#c12302"/><stop offset="0.650" stop-color="#c12302"/><stop offset="0.683" stop-color="#ec530f"/><stop offset="0.717" stop-color="#ec530f"/><stop offset="0.750" stop-color="#c12302"/><stop offset="0.817" stop-color="#c12302"/><stop offset="0.850" stop-color="#ac1701"/><stop offset="0.983" stop-color="#ac1701"/></linearGradient>
<linearGradient id="g2_13" gradientUnits="userSpaceOnUse" x1="37.0" y1="0" x2="337.8" y2="0"><stop offset="0.017" stop-color="#ac1701"/><stop offset="0.183" stop-color="#ac1701"/><stop offset="0.217" stop-color="#c12302"/><stop offset="0.783" stop-color="#c12302"/><stop offset="0.817" stop-color="#ac1701"/><stop offset="0.850" stop-color="#ac1701"/><stop offset="0.883" stop-color="#e14109"/><stop offset="0.983" stop-color="#e14109"/></linearGradient>
<linearGradient id="g2_14" gradientUnits="userSpaceOnUse" x1="37.0" y1="0" x2="337.8" y2="0"><stop offset="0.017" stop-color="#e14109"/><stop offset="0.217" stop-color="#e14109"/><stop offset="0.250" stop-color="#ac1701"/><stop offset="0.283" stop-color="#c12302"/><stop offset="0.717" stop-color="#c12302"/><stop offset="0.750" stop-color="#ac1701"/><stop offset="0.983" stop-color="#ac1701"/></linearGradient>
<linearGradient id="g2_15" gradientUnits="userSpaceOnUse" x1="37.0" y1="0" x2="337.8" y2="0"><stop offset="0.017" stop-color="#ac1701"/><stop offset="0.317" stop-color="#ac1701"/><stop offset="0.350" stop-color="#c12302"/><stop offset="0.383" stop-color="#950d01"/><stop offset="0.650" stop-color="#950d01"/><stop offset="0.683" stop-color="#8e0a01"/><stop offset="0.717" stop-color="#ac1701"/><stop offset="0.983" stop-color="#ac1701"/></linearGradient>
<linearGradient id="g2_16" gradientUnits="userSpaceOnUse" x1="37.0" y1="0" x2="337.8" y2="0"><stop offset="0.017" stop-color="#ac1701"/><stop offset="0.383" stop-color="#ac1701"/><stop offset="0.417" stop-color="#c12302"/><stop offset="0.450" stop-color="#950d01"/><stop offset="0.550" stop-color="#950d01"/><stop offset="0.583" stop-color="#c12302"/><stop offset="0.617" stop-color="#ac1701"/><stop offset="0.983" stop-color="#ac1701"/></linearGradient>
<linearGradient id="g2_17" gradientUnits="userSpaceOnUse" x1="37.0" y1="0" x2="337.8" y2="0"><stop offset="0.017" stop-color="#ac1701"/><stop offset="0.383" stop-color="#ac1701"/><stop offset="0.417" stop-color="#c12302"/><stop offset="0.450" stop-color="#950d01"/><stop offset="0.550" stop-color="#950d01"/><stop offset="0.583" stop-color="#c12302"/><stop offset="0.617" stop-color="#ac1701"/><stop offset="0.983" stop-color="#ac1701"/></linearGradient>
<clipPath id="cp3"><rect x="377.2" y="197.4" width="300.3" height="151.9"/></clipPath>
<linearGradient id="g3_0" gradientUnits="userSpaceOnUse" x1="377.2" y1="0" x2="677.5" y2="0"><stop offset="0.017" stop-color="#ac1701"/><stop offset="0.035" stop-color="#c12302"/><stop offset="0.050" stop-color="#e1dd37"/><stop offset="0.065" stop-color="#950d01"/><stop offset="0.102" stop-color="#950d01"/><stop offset="0.117" stop-color="#e1dd37"/><stop offset="0.132" stop-color="#c12302"/><stop offset="0.168" stop-color="#c12302"/><stop offset="0.183" stop-color="#fea431"/><stop offset="0.198" stop-color="#c12302"/><stop offset="0.235" stop-color="#c12302"/><stop offset="0.250" stop-color="#fea431"/><stop offset="0.265" stop-color="#ec530f"/><stop offset="0.302" stop-color="#ec530f"/><stop offset="0.317" stop-color="#fea431"/><stop offset="0.332" stop-color="#950d01"/><stop offset="0.350" stop-color="#950d01"/><stop offset="0.383" stop-color="#ec530f"/><stop offset="0.402" stop-color="#ec530f"/><stop offset="0.417" stop-color="#92ff47"/><stop offset="0.432" stop-color="#c12302"/><stop offset="0.450" stop-color="#c12302"/><stop offset="0.483" stop-color="#fea431"/><stop offset="0.517" stop-color="#fea431"/><stop offset="0.550" stop-color="#ec530f"/><stop offset="0.583" stop-color="#c12302"/><stop offset="0.617" stop-color="#ec530f"/><stop offset="0.635" stop-color="#ec530f"/><stop offset="0.650" stop-color="#e1dd37"/><stop offset="0.665" stop-color="#c12302"/><stop offset="0.702" stop-color="#c12302"/><stop offset="0.717" stop-color="#ec530f"/><stop offset="0.732" stop-color="#c12302"/><stop offset="0.883" stop-color="#c12302"/><stop offset="0.917" stop-color="#950d01"/><stop offset="0.950" stop-color="#c12302"/><stop offset="0.983" stop-color="#ac1701"/></linearGradient>
<linearGradient id="g3_1" gradientUnits="userSpaceOnUse" x1="377.2" y1="0" x2="677.5" y2="0"><stop offset="0.017" stop-color="#ac1701"/><stop offset="0.035" stop-color="#c12302"/><stop offset="0.050" stop-color="#e1dd37"/><stop offset="0.065" stop-color="#950d01"/><stop offset="0.102" stop-color="#950d01"/><stop offset="0.117" stop-color="#e1dd37"/><stop offset="0.132" stop-color="#c12302"/><stop offset="0.168" stop-color="#c12302"/><stop offset="0.183" stop-color="#fea431"/><stop offset="0.198" stop-color="#c12302"/><stop offset="0.235" stop-color="#c12302"/><stop offset="0.250" stop-color="#fea431"/><stop offset="0.265" stop-color="#ec530f"/><stop offset="0.302" stop-color="#ec530f"/><stop offset="0.317" stop-color="#fea431"/><stop offset="0.332" stop-color="#950d01"/><stop offset="0.350" stop-color="#950d01"/><stop offset="0.383" stop-color="#ec530f"/><stop offset="0.402" stop-color="#ec530f"/><stop offset="0.417" stop-color="#92ff47"/><stop offset="0.432" stop-color="#c12302"/><stop offset="0.450" stop-color="#c12302"/><stop offset="0.483" stop-color="#fea431"/><stop offset="0.517" stop-color="#fea431"/><stop offset="0.550" stop-color="#ec530f"/><stop offset="0.583" stop-color="#c12302"/><stop offset="0.617" stop-color="#ec530f"/><stop offset="0.635" stop-color="#ec530f"/><stop offset="0.650" stop-color="#e1dd37"/><stop offset="0.665" stop-color="#c12302"/><stop offset="0.702" stop-color="#c12302"/><stop offset="0.717" stop-color="#ec530f"/><stop offset="0.732" stop-color="#c12302"/><stop offset="0.883" stop-color="#c12302"/><stop offset="0.917" stop-color="#950d01"/><stop offset="0.950" stop-color="#c12302"/><stop offset="0.983" stop-color="#ac1701"/></linearGradient>
<linearGradient id="g3_2" gradientUnits="userSpaceOnUse" x1="377.2" y1="0" x2="677.5" y2="0"><stop offset="0.017" stop-color="#ac1701"/><stop offset="0.035" stop-color="#c12302"/><stop offset="0.050" stop-color="#92ff47"/><stop offset="0.065" stop-color="#c12302"/><stop offset="0.102" stop-color="#c12302"/><stop offset="0.117" stop-color="#92ff47"/><stop offset="0.132" stop-color="#c12302"/><stop offset="0.168" stop-color="#c12302"/><stop offset="0.183" stop-color="#fea431"/><stop offset="0.198" stop-color="#c12302"/><stop offset="0.235" stop-color="#c12302"/><stop offset="0.250" stop-color="#e1dd37"/><stop offset="0.265" stop-color="#fea431"/><stop offset="0.302" stop-color="#fea431"/><stop offset="0.317" stop-color="#2cf09e"/><stop offset="0.332" stop-color="#950d01"/><stop offset="0.350" stop-color="#950d01"/><stop offset="0.383" stop-color="#ec530f"/><stop offset="0.402" stop-color="#ec530f"/><stop offset="0.417" stop-color="#20c7df"/><stop offset="0.432" stop-color="#c12302"/><stop offset="0.450" stop-color="#c12302"/><stop offset="0.483" stop-color="#fea431"/><stop offset="0.517" stop-color="#fea431"/><stop offset="0.550" stop-color="#ec530f"/><stop offset="0.583" stop-color="#c12302"/><stop offset="0.617" stop-color="#ec530f"/><stop offset="0.650" stop-color="#fea431"/><stop offset="0.668" stop-color="#fea431"/><stop offset="0.683" stop-color="#92ff47"/><stop offset="0.698" stop-color="#c12302"/><stop offset="0.802" stop-color="#c12302"/><stop offset="0.817" stop-color="#ec530f"/><stop offset="0.832" stop-color="#c12302"/><stop offset="0.902" stop-color="#c12302"/><stop offset="0.917" stop-color="#fea431"/><stop offset="0.932" stop-color="#c12302"/><stop offset="0.950" stop-color="#c12302"/><stop offset="0.983" stop-color="#e14109"/></linearGradient>
<linearGradient id="g3_3" gradientUnits="userSpaceOnUse" x1="377.2" y1="0" x2="677.5" y2="0"><stop offset="0.017" stop-color="#8e0a01"/><stop offset="0.050" stop-color="#fea431"/><stop offset="0.083" stop-color="#fea431"/><stop offset="0.117" stop-color="#ec530f"/><stop offset="0.183" stop-color="#ec530f"/><stop offset="0.217" stop-color="#c12302"/><stop offset="0.235" stop-color="#c12302"/><stop offset="0.250" stop-color="#fea431"/><stop offset="0.265" stop-color="#ec530f"/><stop offset="0.302" stop-color="#ec530f"/><stop offset="0.317" stop-color="#fea431"/><stop offset="0.332" stop-color="#950d01"/><stop offset="0.350" stop-color="#950d01"/><stop offset="0.383" stop-color="#fea431"/><stop offset="0.402" stop-color="#fea431"/><stop offset="0.417" stop-color="#92ff47"/><stop offset="0.432" stop-color="#c12302"/><stop offset="0.450" stop-color="#c12302"/><stop offset="0.483" stop-color="#ec530f"/><stop offset="0.568" stop-color="#ec530f"/><stop offset="0.583" stop-color="#20c7df"/><stop offset="0.598" stop-color="#fea431"/><stop offset="0.617" stop-color="#fea431"/><stop offset="0.650" stop-color="#ec530f"/><stop offset="0.668" stop-color="#ec530f"/><stop offset="0.683" stop-color="#e1dd37"/><stop offset="0.698" stop-color="#c12302"/><stop offset="0.735" stop-color="#c12302"/><stop offset="0.750" stop-color="#20c7df"/><stop offset="0.765" stop-color="#e1dd37"/><stop offset="0.783" stop-color="#e1dd37"/><stop offset="0.817" stop-color="#fea431"/><stop offset="0.850" stop-color="#92ff47"/><stop offset="0.868" stop-color="#92ff47"/><stop offset="0.883" stop-color="#2cf09e"/><stop offset="0.898" stop-color="#92ff47"/><stop offset="0.917" stop-color="#92ff47"/><stop offset="0.950" stop-color="#ec530f"/><stop offset="0.983" stop-color="#e14109"/></linearGradient>
<linearGradient id="g3_4" gradientUnits="userSpaceOnUse" x1="377.2" y1="0" x2="677.5" y2="0"><stop offset="0.017" stop-color="#ac1701"/><stop offset="0.050" stop-color="#c12302"/><stop offset="0.068" stop-color="#c12302"/><stop offset="0.083" stop-color="#ec530f"/><stop offset="0.098" stop-color="#c12302"/><stop offset="0.250" stop-color="#c12302"/><stop offset="0.283" stop-color="#950d01"/><stop offset="0.317" stop-color="#950d01"/><stop offset="0.350" stop-color="#c12302"/><stop offset="0.383" stop-color="#fea431"/><stop offset="0.402" stop-color="#fea431"/><stop offset="0.417" stop-color="#e1dd37"/><stop offset="0.432" stop-color="#ec530f"/><stop offset="0.450" stop-color="#ec530f"/><stop offset="0.483" stop-color="#c12302"/><stop offset="0.502" stop-color="#c12302"/><stop offset="0.517" stop-color="#ec530f"/><stop offset="0.532" stop-color="#c12302"/><stop offset="0.568" stop-color="#c12302"/><stop offset="0.583" stop-color="#fea431"/><stop offset="0.598" stop-color="#c12302"/><stop offset="0.617" stop-color="#c12302"/><stop offset="0.650" stop-color="#ec530f"/><stop offset="0.668" stop-color="#ec530f"/><stop offset="0.683" stop-color="#e1dd37"/><stop offset="0.698" stop-color="#ec530f"/><stop offset="0.735" stop-color="#ec530f"/><stop offset="0.750" stop-color="#2cf09e"/><stop offset="0.765" stop-color="#e1dd37"/><stop offset="0.783" stop-color="#e1dd37"/><stop offset="0.817" stop-color="#fea431"/><stop offset="0.850" stop-color="#2cf09e"/><stop offset="0.868" stop-color="#2cf09e"/><stop offset="0.883" stop-color="#20c7df"/><stop offset="0.898" stop-color="#fea431"/><stop offset="0.917" stop-color="#fea431"/><stop offset="0.950" stop-color="#ec530f"/><stop offset="0.983" stop-color="#fea431"/></linearGradient>
<linearGradient id="g3_5" gradientUnits="userSpaceOnUse" x1="377.2" y1="0" x2="677.5" y2="0"><stop offset="0.017" stop-color="#ac1701"/><stop offset="0.050" stop-color="#c12302"/><stop offset="0.083" stop-color="#c12302"/><stop offset="0.117" stop-color="#950d01"/><stop offset="0.183" stop-color="#950d01"/><stop offset="0.217" stop-color="#c12302"/><stop offset="0.250" stop-color="#c12302"/><stop offset="0.283" stop-color="#950d01"/><stop offset="0.317" stop-color="#950d01"/><stop offset="0.350" stop-color="#c12302"/><stop offset="0.383" stop-color="#ec530f"/><stop offset="0.417" stop-color="#fea431"/><stop offset="0.450" stop-color="#c12302"/><stop offset="0.617" stop-color="#c12302"/><stop offset="0.650" stop-color="#ec530f"/><stop offset="0.683" stop-color="#e1dd37"/><stop offset="0.717" stop-color="#c12302"/><stop offset="0.750" stop-color="#c12302"/><stop offset="0.783" stop-color="#ec530f"/><stop offset="0.817" stop-color="#e1dd37"/><stop offset="0.850" stop-color="#c12302"/><stop offset="0.917" stop-color="#c12302"/><stop offset="0.950" stop-color="#ec530f"/><stop offset="0.983" stop-color="#e14109"/></linearGradient>
<linearGradient id="g3_6" gradientUnits="userSpaceOnUse" x1="377.2" y1="0" x2="677.5" y2="0"><stop offset="0.017" stop-color="#ac1701"/><stop offset="0.050" stop-color="#c12302"/><stop offset="0.083" stop-color="#ec530f"/><stop offset="0.117" stop-color="#ec530f"/><stop offset="0.150" stop-color="#c12302"/><stop offset="0.183" stop-color="#c12302"/><stop offset="0.217" stop-color="#ec530f"/><stop offset="0.250" stop-color="#fea431"/><stop offset="0.283" stop-color="#c12302"/><stop offset="0.350" stop-color="#c12302"/><stop offset="0.383" stop-color="#950d01"/><stop offset="0.450" stop-color="#950d01"/><stop offset="0.483" stop-color="#c12302"/><stop offset="0.517" stop-color="#fea431"/><stop offset="0.550" stop-color="#ec530f"/><stop offset="0.583" stop-color="#c12302"/><stop offset="0.617" stop-color="#c12302"/><stop offset="0.650" stop-color="#fea431"/><stop offset="0.683" stop-color="#e1dd37"/><stop offset="0.717" stop-color="#ec530f"/><stop offset="0.750" stop-color="#ec530f"/><stop offset="0.783" stop-color="#2cf09e"/><stop offset="0.817" stop-color="#2cf09e"/><stop offset="0.850" stop-color="#ec530f"/><stop offset="0.883" stop-color="#c12302"/><stop offset="0.917" stop-color="#c12302"/><stop offset="0.950" stop-color="#ec530f"/><stop offset="0.983" stop-color="#fea431"/></linearGradient>
<linearGradient id="g3_7" gradientUnits="userSpaceOnUse" x1="377.2" y1="0" x2="677.5" y2="0"><stop offset="0.017" stop-color="#ac1701"/><stop offset="0.050" stop-color="#e14109"/><stop offset="0.083" stop-color="#ec530f"/><stop offset="0.117" stop-color="#fea431"/><stop offset="0.150" stop-color="#ec530f"/><stop offset="0.183" stop-color="#92ff47"/><stop offset="0.217" stop-color="#2cf09e"/><stop offset="0.250" stop-color="#2cf09e"/><stop offset="0.283" stop-color="#e1dd37"/><stop offset="0.317" stop-color="#ec530f"/><stop offset="0.350" stop-color="#c12302"/><stop offset="0.383" stop-color="#950d01"/><stop offset="0.417" stop-color="#950d01"/><stop offset="0.450" stop-color="#c12302"/><stop offset="0.483" stop-color="#950d01"/><stop offset="0.550" stop-color="#950d01"/><stop offset="0.583" stop-color="#ec530f"/><stop offset="0.617" stop-color="#fea431"/><stop offset="0.650" stop-color="#e1dd37"/><stop offset="0.683" stop-color="#e1dd37"/><stop offset="0.717" stop-color="#ec530f"/><stop offset="0.750" stop-color="#ec530f"/><stop offset="0.783" stop-color="#fea431"/><stop offset="0.817" stop-color="#fea431"/><stop offset="0.850" stop-color="#ec530f"/><stop offset="0.883" stop-color="#ec530f"/><stop offset="0.917" stop-color="#c12302"/><stop offset="0.950" stop-color="#8e0a01"/><stop offset="0.983" stop-color="#ac1701"/></linearGradient>
<linearGradient id="g3_8" gradientUnits="userSpaceOnUse" x1="377.2" y1="0" x2="677.5" y2="0"><stop offset="0.017" stop-color="#ac1701"/><stop offset="0.050" stop-color="#ac1701"/><stop offset="0.083" stop-color="#c12302"/><stop offset="0.117" stop-color="#ec530f"/><stop offset="0.150" stop-color="#ec530f"/><stop offset="0.183" stop-color="#fea431"/><stop offset="0.217" stop-color="#e1dd37"/><stop offset="0.250" stop-color="#fea431"/><stop offset="0.283" stop-color="#c12302"/><stop offset="0.383" stop-color="#c12302"/><stop offset="0.417" stop-color="#ec530f"/><stop offset="0.450" stop-color="#ec530f"/><stop offset="0.483" stop-color="#950d01"/><stop offset="0.550" stop-color="#950d01"/><stop offset="0.583" stop-color="#c12302"/><stop offset="0.617" stop-color="#ec530f"/><stop offset="0.650" stop-color="#ec530f"/><stop offset="0.683" stop-color="#fea431"/><stop offset="0.717" stop-color="#ec530f"/><stop offset="0.750" stop-color="#c12302"/><stop offset="0.817" stop-color="#c12302"/><stop offset="0.850" stop-color="#950d01"/><stop offset="0.917" stop-color="#950d01"/><stop offset="0.950" stop-color="#8e0a01"/><stop offset="0.983" stop-color="#ac1701"/></linearGradient>
<linearGradient id="g3_9" gradientUnits="userSpaceOnUse" x1="377.2" y1="0" x2="677.5" y2="0"><stop offset="0.017" stop-color="#ac1701"/><stop offset="0.083" stop-color="#ac1701"/><stop offset="0.117" stop-color="#c12302"/><stop offset="0.183" stop-color="#c12302"/><stop offset="0.217" stop-color="#ec530f"/><stop offset="0.250" stop-color="#ec530f"/><stop offset="0.283" stop-color="#c12302"/><stop offset="0.317" stop-color="#c12302"/><stop offset="0.350" stop-color="#950d01"/><stop offset="0.450" stop-color="#950d01"/><stop offset="0.483" stop-color="#c12302"/><stop offset="0.517" stop-color="#950d01"/><stop offset="0.550" stop-color="#c12302"/><stop offset="0.583" stop-color="#c12302"/><stop offset="0.617" stop-color="#ec530f"/><stop offset="0.650" stop-color="#fea431"/><stop offset="0.683" stop-color="#ec530f"/><stop offset="0.717" stop-color="#ec530f"/><stop offset="0.750" stop-color="#c12302"/><stop offset="0.783" stop-color="#950d01"/><stop offset="0.883" stop-color="#950d01"/><stop offset="0.917" stop-color="#8e0a01"/><stop offset="0.983" stop-color="#8e0a01"/></linearGradient>
<linearGradient id="g3_10" gradientUnits="userSpaceOnUse" x1="377.2" y1="0" x2="677.5" y2="0"><stop offset="0.017" stop-color="#e14109"/><stop offset="0.083" stop-color="#e14109"/><stop offset="0.117" stop-color="#c12302"/><stop offset="0.183" stop-color="#c12302"/><stop offset="0.217" stop-color="#ec530f"/><stop offset="0.250" stop-color="#ec530f"/><stop offset="0.283" stop-color="#c12302"/><stop offset="0.350" stop-color="#c12302"/><stop offset="0.383" stop-color="#950d01"/><stop offset="0.550" stop-color="#950d01"/><stop offset="0.583" stop-color="#c12302"/><stop offset="0.617" stop-color="#ec530f"/><stop offset="0.650" stop-color="#ec530f"/><stop offset="0.683" stop-color="#fea431"/><stop offset="0.717" stop-color="#ec530f"/><stop offset="0.783" stop-color="#ec530f"/><stop offset="0.817" stop-color="#c12302"/><stop offset="0.883" stop-color="#c12302"/><stop offset="0.917" stop-color="#ac1701"/><stop offset="0.983" stop-color="#ac1701"/></linearGradient>
<linearGradient id="g3_11" gradientUnits="userSpaceOnUse" x1="377.2" y1="0" x2="677.5" y2="0"><stop offset="0.017" stop-color="#e14109"/><stop offset="0.117" stop-color="#e14109"/><stop offset="0.150" stop-color="#ec530f"/><stop offset="0.250" stop-color="#ec530f"/><stop offset="0.283" stop-color="#c12302"/><stop offset="0.383" stop-color="#c12302"/><stop offset="0.417" stop-color="#950d01"/><stop offset="0.550" stop-color="#950d01"/><stop offset="0.583" stop-color="#c12302"/><stop offset="0.617" stop-color="#ec530f"/><stop offset="0.650" stop-color="#ec530f"/><stop offset="0.683" stop-color="#fea431"/><stop offset="0.750" stop-color="#fea431"/><stop offset="0.783" stop-color="#ec530f"/><stop offset="0.850" stop-color="#ec530f"/><stop offset="0.883" stop-color="#e14109"/><stop offset="0.917" stop-color="#fea431"/><stop offset="0.983" stop-color="#fea431"/></linearGradient>
<linearGradient id="g3_12" gradientUnits="userSpaceOnUse" x1="377.2" y1="0" x2="677.5" y2="0"><stop offset="0.017" stop-color="#e14109"/><stop offset="0.150" stop-color="#e14109"/><stop offset="0.183" stop-color="#c12302"/><stop offset="0.317" stop-color="#c12302"/><stop offset="0.350" stop-color="#950d01"/><stop offset="0.617" stop-color="#950d01"/><stop offset="0.650" stop-color="#c12302"/><stop offset="0.683" stop-color="#c12302"/><stop offset="0.717" stop-color="#ec530f"/><stop offset="0.750" stop-color="#ec530f"/><stop offset="0.783" stop-color="#c12302"/><stop offset="0.817" stop-color="#c12302"/><stop offset="0.850" stop-color="#ac1701"/><stop offset="0.983" stop-color="#ac1701"/></linearGradient>
<linearGradient id="g3_13" gradientUnits="userSpaceOnUse" x1="377.2" y1="0" x2="677.5" y2="0"><stop offset="0.017" stop-color="#e14109"/><stop offset="0.183" stop-color="#e14109"/><stop offset="0.217" stop-color="#c12302"/><stop offset="0.250" stop-color="#950d01"/><stop offset="0.717" stop-color="#950d01"/><stop offset="0.750" stop-color="#c12302"/><stop offset="0.783" stop-color="#c12302"/><stop offset="0.817" stop-color="#ac1701"/><stop offset="0.983" stop-color="#ac1701"/></linearGradient>
<linearGradient id="g3_14" gradientUnits="userSpaceOnUse" x1="377.2" y1="0" x2="677.5" y2="0"><stop offset="0.017" stop-color="#e14109"/><stop offset="0.250" stop-color="#e14109"/><stop offset="0.283" stop-color="#ec530f"/><stop offset="0.317" stop-color="#950d01"/><stop offset="0.350" stop-color="#950d01"/><stop offset="0.383" stop-color="#c12302"/><stop offset="0.483" stop-color="#c12302"/><stop offset="0.517" stop-color="#950d01"/><stop offset="0.650" stop-color="#950d01"/><stop offset="0.683" stop-color="#c12302"/><stop offset="0.717" stop-color="#c12302"/><stop offset="0.750" stop-color="#ac1701"/><stop offset="0.983" stop-color="#ac1701"/></linearGradient>
<linearGradient id="g3_15" gradientUnits="userSpaceOnUse" x1="377.2" y1="0" x2="677.5" y2="0"><stop offset="0.017" stop-color="#e14109"/><stop offset="0.317" stop-color="#e14109"/><stop offset="0.350" stop-color="#c12302"/><stop offset="0.650" stop-color="#c12302"/><stop offset="0.683" stop-color="#ac1701"/><stop offset="0.983" stop-color="#ac1701"/></linearGradient>
<linearGradient id="g3_16" gradientUnits="userSpaceOnUse" x1="377.2" y1="0" x2="677.5" y2="0"><stop offset="0.017" stop-color="#ac1701"/><stop offset="0.383" stop-color="#ac1701"/><stop offset="0.417" stop-color="#c12302"/><stop offset="0.450" stop-color="#950d01"/><stop offset="0.550" stop-color="#950d01"/><stop offset="0.583" stop-color="#c12302"/><stop offset="0.617" stop-color="#ac1701"/><stop offset="0.983" stop-color="#ac1701"/></linearGradient>
<linearGradient id="g3_17" gradientUnits="userSpaceOnUse" x1="377.2" y1="0" x2="677.5" y2="0"><stop offset="0.017" stop-color="#ac1701"/><stop offset="0.383" stop-color="#ac1701"/><stop offset="0.417" stop-color="#c12302"/><stop offset="0.450" stop-color="#950d01"/><stop offset="0.550" stop-color="#950d01"/><stop offset="0.583" stop-color="#c12302"/><stop offset="0.617" stop-color="#ac1701"/><stop offset="0.983" stop-color="#ac1701"/></linearGradient>
<clipPath id="cp4"><rect x="36.9" y="376.2" width="301.5" height="152.2"/></clipPath>
<linearGradient id="g4_0" gradientUnits="userSpaceOnUse" x1="36.9" y1="0" x2="338.4" y2="0"><stop offset="0.017" stop-color="#ac1701"/><stop offset="0.050" stop-color="#c12302"/><stop offset="0.068" stop-color="#c12302"/><stop offset="0.083" stop-color="#fea431"/><stop offset="0.098" stop-color="#c12302"/><stop offset="0.150" stop-color="#c12302"/><stop offset="0.183" stop-color="#950d01"/><stop offset="0.202" stop-color="#950d01"/><stop offset="0.217" stop-color="#e1dd37"/><stop offset="0.232" stop-color="#ec530f"/><stop offset="0.250" stop-color="#ec530f"/><stop offset="0.283" stop-color="#c12302"/><stop offset="0.335" stop-color="#c12302"/><stop offset="0.350" stop-color="#e1dd37"/><stop offset="0.365" stop-color="#ec530f"/><stop offset="0.383" stop-color="#ec530f"/><stop offset="0.417" stop-color="#950d01"/><stop offset="0.450" stop-color="#950d01"/><stop offset="0.483" stop-color="#c12302"/><stop offset="0.502" stop-color="#c12302"/><stop offset="0.517" stop-color="#ec530f"/><stop offset="0.532" stop-color="#c12302"/><stop offset="0.550" stop-color="#c12302"/><stop offset="0.583" stop-color="#950d01"/><stop offset="0.617" stop-color="#c12302"/><stop offset="0.635" stop-color="#c12302"/><stop offset="0.650" stop-color="#ec530f"/><stop offset="0.665" stop-color="#c12302"/><stop offset="0.702" stop-color="#c12302"/><stop offset="0.717" stop-color="#e1dd37"/><stop offset="0.732" stop-color="#fea431"/><stop offset="0.750" stop-color="#fea431"/><stop offset="0.783" stop-color="#c12302"/><stop offset="0.802" stop-color="#c12302"/><stop offset="0.817" stop-color="#ec530f"/><stop offset="0.832" stop-color="#c12302"/><stop offset="0.902" stop-color="#c12302"/><stop offset="0.917" stop-color="#ec530f"/><stop offset="0.932" stop-color="#c12302"/><stop offset="0.950" stop-color="#c12302"/><stop offset="0.983" stop-color="#8e0a01"/></linearGradient>
<linearGradient id="g4_1" gradientUnits="userSpaceOnUse" x1="36.9" y1="0" x2="338.4" y2="0"><stop offset="0.017" stop-color="#ac1701"/><stop offset="0.050" stop-color="#c12302"/><stop offset="0.068" stop-color="#c12302"/><stop offset="0.083" stop-color="#fea431"/><stop offset="0.098" stop-color="#c12302"/><stop offset="0.150" stop-color="#c12302"/><stop offset="0.183" stop-color="#950d01"/><stop offset="0.202" stop-color="#950d01"/><stop offset="0.217" stop-color="#e1dd37"/><stop offset="0.232" stop-color="#ec530f"/><stop offset="0.250" stop-color="#ec530f"/><stop offset="0.283" stop-color="#c12302"/><stop offset="0.335" stop-color="#c12302"/><stop offset="0.350" stop-color="#e1dd37"/><stop offset="0.365" stop-color="#ec530f"/><stop offset="0.383" stop-color="#ec530f"/><stop offset="0.417" stop-color="#950d01"/><stop offset="0.450" stop-color="#950d01"/><stop offset="0.483" stop-color="#c12302"/><stop offset="0.502" stop-color="#c12302"/><stop offset="0.517" stop-color="#ec530f"/><stop offset="0.532" stop-color="#c12302"/><stop offset="0.550" stop-color="#c12302"/><stop offset="0.583" stop-color="#950d01"/><stop offset="0.617" stop-color="#c12302"/><stop offset="0.635" stop-color="#c12302"/><stop offset="0.650" stop-color="#ec530f"/><stop offset="0.665" stop-color="#c12302"/><stop offset="0.702" stop-color="#c12302"/><stop offset="0.717" stop-color="#e1dd37"/><stop offset="0.732" stop-color="#fea431"/><stop offset="0.750" stop-color="#fea431"/><stop offset="0.783" stop-color="#c12302"/><stop offset="0.802" stop-color="#c12302"/><stop offset="0.817" stop-color="#ec530f"/><stop offset="0.832" stop-color="#c12302"/><stop offset="0.902" stop-color="#c12302"/><stop offset="0.917" stop-color="#ec530f"/><stop offset="0.932" stop-color="#c12302"/><stop offset="0.950" stop-color="#c12302"/><stop offset="0.983" stop-color="#8e0a01"/></linearGradient>
<linearGradient id="g4_2" gradientUnits="userSpaceOnUse" x1="36.9" y1="0" x2="338.4" y2="0"><stop offset="0.017" stop-color="#ac1701"/><stop offset="0.050" stop-color="#ec530f"/><stop offset="0.068" stop-color="#ec530f"/><stop offset="0.083" stop-color="#2cf09e"/><stop offset="0.098" stop-color="#fea431"/><stop offset="0.117" stop-color="#fea431"/><stop offset="0.150" stop-color="#c12302"/><stop offset="0.183" stop-color="#ec530f"/><stop offset="0.217" stop-color="#ec530f"/><stop offset="0.250" stop-color="#c12302"/><stop offset="0.283" stop-color="#950d01"/><stop offset="0.317" stop-color="#c12302"/><stop offset="0.335" stop-color="#c12302"/><stop offset="0.350" stop-color="#20c7df"/><stop offset="0.365" stop-color="#e1dd37"/><stop offset="0.383" stop-color="#e1dd37"/><stop offset="0.417" stop-color="#950d01"/><stop offset="0.450" stop-color="#c12302"/><stop offset="0.483" stop-color="#92ff47"/><stop offset="0.502" stop-color="#92ff47"/><stop offset="0.517" stop-color="#20c7df"/><stop offset="0.532" stop-color="#c12302"/><stop offset="0.550" stop-color="#c12302"/><stop offset="0.583" stop-color="#950d01"/><stop offset="0.617" stop-color="#c12302"/><stop offset="0.635" stop-color="#c12302"/><stop offset="0.650" stop-color="#e1dd37"/><stop offset="0.665" stop-color="#c12302"/><stop offset="0.702" stop-color="#c12302"/><stop offset="0.717" stop-color="#92ff47"/><stop offset="0.732" stop-color="#c12302"/><stop offset="0.750" stop-color="#c12302"/><stop offset="0.783" stop-color="#950d01"/><stop offset="0.817" stop-color="#c12302"/><stop offset="0.850" stop-color="#c12302"/><stop offset="0.883" stop-color="#ec530f"/><stop offset="0.902" stop-color="#ec530f"/><stop offset="0.917" stop-color="#fea431"/><stop offset="0.932" stop-color="#ec530f"/><stop offset="0.950" stop-color="#ec530f"/><stop offset="0.983" stop-color="#8e0a01"/></linearGradient>
<linearGradient id="g4_3" gradientUnits="userSpaceOnUse" x1="36.9" y1="0" x2="338.4" y2="0"><stop offset="0.017" stop-color="#8e0a01"/><stop offset="0.050" stop-color="#c12302"/><stop offset="0.083" stop-color="#ec530f"/><stop offset="0.117" stop-color="#ec530f"/><stop offset="0.150" stop-color="#fea431"/><stop offset="0.183" stop-color="#fea431"/><stop offset="0.217" stop-color="#2cf09e"/><stop offset="0.250" stop-color="#2cf09e"/><stop offset="0.283" stop-color="#ec530f"/><stop offset="0.335" stop-color="#ec530f"/><stop offset="0.350" stop-color="#2cf09e"/><stop offset="0.365" stop-color="#fea431"/><stop offset="0.417" stop-color="#fea431"/><stop offset="0.450" stop-color="#c12302"/><stop offset="0.468" stop-color="#c12302"/><stop offset="0.483" stop-color="#2cf09e"/><stop offset="0.498" stop-color="#e1dd37"/><stop offset="0.517" stop-color="#e1dd37"/><stop offset="0.550" stop-color="#ec530f"/><stop offset="0.583" stop-color="#fea431"/><stop offset="0.602" stop-color="#fea431"/><stop offset="0.617" stop-color="#e1dd37"/><stop offset="0.632" stop-color="#fea431"/><stop offset="0.650" stop-color="#fea431"/><stop offset="0.683" stop-color="#c12302"/><stop offset="0.717" stop-color="#ec530f"/><stop offset="0.750" stop-color="#ec530f"/><stop offset="0.783" stop-color="#950d01"/><stop offset="0.817" stop-color="#c12302"/><stop offset="0.850" stop-color="#950d01"/><stop offset="0.883" stop-color="#ec530f"/><stop offset="0.917" stop-color="#fea431"/><stop offset="0.935" stop-color="#fea431"/><stop offset="0.950" stop-color="#92ff47"/><stop offset="0.965" stop-color="#ec530f"/><stop offset="0.983" stop-color="#e14109"/></linearGradient>
<linearGradient id="g4_4" gradientUnits="userSpaceOnUse" x1="36.9" y1="0" x2="338.4" y2="0"><stop offset="0.017" stop-color="#ac1701"/><stop offset="0.050" stop-color="#c12302"/><stop offset="0.083" stop-color="#c12302"/><stop offset="0.117" stop-color="#ec530f"/><stop offset="0.150" stop-color="#ec530f"/><stop offset="0.183" stop-color="#fea431"/><stop offset="0.235" stop-color="#fea431"/><stop offset="0.250" stop-color="#92ff47"/><stop offset="0.265" stop-color="#ec530f"/><stop offset="0.283" stop-color="#ec530f"/><stop offset="0.317" stop-color="#fea431"/><stop offset="0.368" stop-color="#fea431"/><stop offset="0.383" stop-color="#20c7df"/><stop offset="0.398" stop-color="#2cf09e"/><stop offset="0.417" stop-color="#2cf09e"/><stop offset="0.450" stop-color="#ec530f"/><stop offset="0.568" stop-color="#ec530f"/><stop offset="0.583" stop-color="#2cf09e"/><stop offset="0.598" stop-color="#92ff47"/><stop offset="0.617" stop-color="#92ff47"/><stop offset="0.650" stop-color="#ec530f"/><stop offset="0.683" stop-color="#c12302"/><stop offset="0.702" stop-color="#c12302"/><stop offset="0.717" stop-color="#e1dd37"/><stop offset="0.732" stop-color="#ec530f"/><stop offset="0.750" stop-color="#ec530f"/><stop offset="0.783" stop-color="#c12302"/><stop offset="0.883" stop-color="#c12302"/><stop offset="0.917" stop-color="#ec530f"/><stop offset="0.935" stop-color="#ec530f"/><stop offset="0.950" stop-color="#20c7df"/><stop offset="0.965" stop-color="#fea431"/><stop offset="0.983" stop-color="#fea431"/></linearGradient>
<linearGradient id="g4_5" gradientUnits="userSpaceOnUse" x1="36.9" y1="0" x2="338.4" y2="0"><stop offset="0.017" stop-color="#fea431"/><stop offset="0.050" stop-color="#ec530f"/><stop offset="0.083" stop-color="#c12302"/><stop offset="0.117" stop-color="#950d01"/><stop offset="0.183" stop-color="#950d01"/><stop offset="0.217" stop-color="#fea431"/><stop offset="0.250" stop-color="#e1dd37"/><stop offset="0.283" stop-color="#950d01"/><stop offset="0.317" stop-color="#c12302"/><stop offset="0.350" stop-color="#ec530f"/><stop offset="0.383" stop-color="#c12302"/><stop offset="0.417" stop-color="#c12302"/><stop offset="0.450" stop-color="#ec530f"/><stop offset="0.483" stop-color="#c12302"/><stop offset="0.550" stop-color="#c12302"/><stop offset="0.583" stop-color="#fea431"/><stop offset="0.617" stop-color="#e1dd37"/><stop offset="0.650" stop-color="#ec530f"/><stop offset="0.683" stop-color="#c12302"/><stop offset="0.717" stop-color="#ec530f"/><stop offset="0.750" stop-color="#c12302"/><stop offset="0.783" stop-color="#c12302"/><stop offset="0.817" stop-color="#ec530f"/><stop offset="0.850" stop-color="#fea431"/><stop offset="0.883" stop-color="#ec530f"/><stop offset="0.917" stop-color="#e1dd37"/><stop offset="0.950" stop-color="#92ff47"/><stop offset="0.983" stop-color="#e14109"/></linearGradient>
<linearGradient id="g4_6" gradientUnits="userSpaceOnUse" x1="36.9" y1="0" x2="338.4" y2="0"><stop offset="0.017" stop-color="#e14109"/><stop offset="0.050" stop-color="#ec530f"/><stop offset="0.083" stop-color="#c12302"/><stop offset="0.117" stop-color="#950d01"/><stop offset="0.183" stop-color="#950d01"/><stop offset="0.217" stop-color="#ec530f"/><stop offset="0.250" stop-color="#ec530f"/><stop offset="0.283" stop-color="#950d01"/><stop offset="0.317" stop-color="#c12302"/><stop offset="0.350" stop-color="#fea431"/><stop offset="0.383" stop-color="#fea431"/><stop offset="0.417" stop-color="#c12302"/><stop offset="0.450" stop-color="#ec530f"/><stop offset="0.483" stop-color="#ec530f"/><stop offset="0.517" stop-color="#c12302"/><stop offset="0.550" stop-color="#ec530f"/><stop offset="0.583" stop-color="#e1dd37"/><stop offset="0.617" stop-color="#2cf09e"/><stop offset="0.650" stop-color="#92ff47"/><stop offset="0.683" stop-color="#ec530f"/><stop offset="0.717" stop-color="#ec530f"/><stop offset="0.750" stop-color="#c12302"/><stop offset="0.783" stop-color="#950d01"/><stop offset="0.817" stop-color="#c12302"/><stop offset="0.850" stop-color="#ec530f"/><stop offset="0.883" stop-color="#ec530f"/><stop offset="0.917" stop-color="#c12302"/><stop offset="0.950" stop-color="#ec530f"/><stop offset="0.983" stop-color="#ac1701"/></linearGradient>
<linearGradient id="g4_7" gradientUnits="userSpaceOnUse" x1="36.9" y1="0" x2="338.4" y2="0"><stop offset="0.017" stop-color="#ac1701"/><stop offset="0.050" stop-color="#ac1701"/><stop offset="0.083" stop-color="#c12302"/><stop offset="0.183" stop-color="#c12302"/><stop offset="0.217" stop-color="#ec530f"/><stop offset="0.317" stop-color="#ec530f"/><stop offset="0.350" stop-color="#2cf09e"/><stop offset="0.383" stop-color="#2cf09e"/><stop offset="0.417" stop-color="#fea431"/><stop offset="0.450" stop-color="#ec530f"/><stop offset="0.483" stop-color="#ec530f"/><stop offset="0.517" stop-color="#c12302"/><stop offset="0.550" stop-color="#c12302"/><stop offset="0.583" stop-color="#ec530f"/><stop offset="0.617" stop-color="#c12302"/><stop offset="0.683" stop-color="#c12302"/><stop offset="0.717" stop-color="#ec530f"/><stop offset="0.750" stop-color="#c12302"/><stop offset="0.783" stop-color="#950d01"/><stop offset="0.817" stop-color="#950d01"/><stop offset="0.850" stop-color="#c12302"/><stop offset="0.917" stop-color="#c12302"/><stop offset="0.950" stop-color="#ac1701"/><stop offset="0.983" stop-color="#ac1701"/></linearGradient>
<linearGradient id="g4_8" gradientUnits="userSpaceOnUse" x1="36.9" y1="0" x2="338.4" y2="0"><stop offset="0.017" stop-color="#ac1701"/><stop offset="0.050" stop-color="#ac1701"/><stop offset="0.083" stop-color="#ec530f"/><stop offset="0.117" stop-color="#c12302"/><stop offset="0.150" stop-color="#ec530f"/><stop offset="0.250" stop-color="#ec530f"/><stop offset="0.283" stop-color="#fea431"/><stop offset="0.317" stop-color="#fea431"/><stop offset="0.350" stop-color="#92ff47"/><stop offset="0.383" stop-color="#e1dd37"/><stop offset="0.417" stop-color="#ec530f"/><stop offset="0.550" stop-color="#ec530f"/><stop offset="0.583" stop-color="#c12302"/><stop offset="0.650" stop-color="#c12302"/><stop offset="0.683" stop-color="#ec530f"/><stop offset="0.717" stop-color="#c12302"/><stop offset="0.750" stop-color="#c12302"/><stop offset="0.783" stop-color="#950d01"/><stop offset="0.817" stop-color="#c12302"/><stop offset="0.850" stop-color="#c12302"/><stop offset="0.883" stop-color="#fea431"/><stop offset="0.917" stop-color="#ec530f"/><stop offset="0.950" stop-color="#e14109"/><stop offset="0.983" stop-color="#e14109"/></linearGradient>
<linearGradient id="g4_9" gradientUnits="userSpaceOnUse" x1="36.9" y1="0" x2="338.4" y2="0"><stop offset="0.017" stop-color="#8e0a01"/><stop offset="0.083" stop-color="#8e0a01"/><stop offset="0.117" stop-color="#950d01"/><stop offset="0.150" stop-color="#950d01"/><stop offset="0.183" stop-color="#c12302"/><stop offset="0.283" stop-color="#c12302"/><stop offset="0.317" stop-color="#ec530f"/><stop offset="0.350" stop-color="#e1dd37"/><stop offset="0.383" stop-color="#e1dd37"/><stop offset="0.417" stop-color="#fea431"/><stop offset="0.450" stop-color="#ec530f"/><stop offset="0.483" stop-color="#c12302"/><stop offset="0.550" stop-color="#c12302"/><stop offset="0.583" stop-color="#ec530f"/><stop offset="0.617" stop-color="#c12302"/><stop offset="0.650" stop-color="#ec530f"/><stop offset="0.683" stop-color="#c12302"/><stop offset="0.717" stop-color="#ec530f"/><stop offset="0.783" stop-color="#ec530f"/><stop offset="0.817" stop-color="#fea431"/><stop offset="0.850" stop-color="#e1dd37"/><stop offset="0.883" stop-color="#20c7df"/><stop offset="0.917" stop-color="#2cf09e"/><stop offset="0.950" stop-color="#e14109"/><stop offset="0.983" stop-color="#e14109"/></linearGradient>
<linearGradient id="g4_10" gradientUnits="userSpaceOnUse" x1="36.9" y1="0" x2="338.4" y2="0"><stop offset="0.017" stop-color="#8e0a01"/><stop offset="0.083" stop-color="#8e0a01"/><stop offset="0.117" stop-color="#c12302"/><stop offset="0.150" stop-color="#c12302"/><stop offset="0.183" stop-color="#ec530f"/><stop offset="0.217" stop-color="#ec530f"/><stop offset="0.250" stop-color="#fea431"/><stop offset="0.317" stop-color="#fea431"/><stop offset="0.350" stop-color="#ec530f"/><stop offset="0.383" stop-color="#c12302"/><stop offset="0.417" stop-color="#ec530f"/><stop offset="0.450" stop-color="#c12302"/><stop offset="0.483" stop-color="#c12302"/><stop offset="0.517" stop-color="#fea431"/><stop offset="0.550" stop-color="#ec530f"/><stop offset="0.583" stop-color="#c12302"/><stop offset="0.783" stop-color="#c12302"/><stop offset="0.817" stop-color="#950d01"/><stop offset="0.850" stop-color="#950d01"/><stop offset="0.883" stop-color="#c12302"/><stop offset="0.917" stop-color="#ac1701"/><stop offset="0.983" stop-color="#ac1701"/></linearGradient>
<linearGradient id="g4_11" gradientUnits="userSpaceOnUse" x1="36.9" y1="0" x2="338.4" y2="0"><stop offset="0.017" stop-color="#ac1701"/><stop offset="0.117" stop-color="#ac1701"/><stop offset="0.150" stop-color="#c12302"/><stop offset="0.183" stop-color="#ec530f"/><stop offset="0.217" stop-color="#fea431"/><stop offset="0.250" stop-color="#92ff47"/><stop offset="0.283" stop-color="#2cf09e"/><stop offset="0.317" stop-color="#e1dd37"/><stop offset="0.350" stop-color="#ec530f"/><stop offset="0.383" stop-color="#c12302"/><stop offset="0.850" stop-color="#c12302"/><stop offset="0.883" stop-color="#ac1701"/><stop offset="0.983" stop-color="#ac1701"/></linearGradient>
<linearGradient id="g4_12" gradientUnits="userSpaceOnUse" x1="36.9" y1="0" x2="338.4" y2="0"><stop offset="0.017" stop-color="#e14109"/><stop offset="0.150" stop-color="#e14109"/><stop offset="0.183" stop-color="#ec530f"/><stop offset="0.217" stop-color="#ec530f"/><stop offset="0.250" stop-color="#fea431"/><stop offset="0.283" stop-color="#ec530f"/><stop offset="0.350" stop-color="#ec530f"/><stop offset="0.383" stop-color="#c12302"/><stop offset="0.417" stop-color="#ec530f"/><stop offset="0.483" stop-color="#ec530f"/><stop offset="0.517" stop-color="#fea431"/><stop offset="0.550" stop-color="#ec530f"/><stop offset="0.650" stop-color="#ec530f"/><stop offset="0.683" stop-color="#c12302"/><stop offset="0.717" stop-color="#ec530f"/><stop offset="0.817" stop-color="#ec530f"/><stop offset="0.850" stop-color="#ac1701"/><stop offset="0.983" stop-color="#ac1701"/></linearGradient>
<linearGradient id="g4_13" gradientUnits="userSpaceOnUse" x1="36.9" y1="0" x2="338.4" y2="0"><stop offset="0.017" stop-color="#fea431"/><stop offset="0.650" stop-color="#fea431"/><stop offset="0.683" stop-color="#ec530f"/><stop offset="0.783" stop-color="#ec530f"/><stop offset="0.817" stop-color="#e14109"/><stop offset="0.883" stop-color="#e14109"/><stop offset="0.917" stop-color="#fea431"/><stop offset="0.983" stop-color="#fea431"/></linearGradient>
<linearGradient id="g4_14" gradientUnits="userSpaceOnUse" x1="36.9" y1="0" x2="338.4" y2="0"><stop offset="0.017" stop-color="#ac1701"/><stop offset="0.250" stop-color="#ac1701"/><stop offset="0.283" stop-color="#950d01"/><stop offset="0.717" stop-color="#950d01"/><stop offset="0.750" stop-color="#ac1701"/><stop offset="0.983" stop-color="#ac1701"/></linearGradient>
<linearGradient id="g4_15" gradientUnits="userSpaceOnUse" x1="36.9" y1="0" x2="338.4" y2="0"><stop offset="0.017" stop-color="#ac1701"/><stop offset="0.283" stop-color="#ac1701"/><stop offset="0.317" stop-color="#8e0a01"/><stop offset="0.350" stop-color="#950d01"/><stop offset="0.650" stop-color="#950d01"/><stop offset="0.683" stop-color="#8e0a01"/><stop offset="0.717" stop-color="#ac1701"/><stop offset="0.983" stop-color="#ac1701"/></linearGradient>
<linearGradient id="g4_16" gradientUnits="userSpaceOnUse" x1="36.9" y1="0" x2="338.4" y2="0"><stop offset="0.017" stop-color="#ac1701"/><stop offset="0.350" stop-color="#ac1701"/><stop offset="0.383" stop-color="#8e0a01"/><stop offset="0.417" stop-color="#950d01"/><stop offset="0.583" stop-color="#950d01"/><stop offset="0.617" stop-color="#8e0a01"/><stop offset="0.650" stop-color="#ac1701"/><stop offset="0.983" stop-color="#ac1701"/></linearGradient>
<linearGradient id="g4_17" gradientUnits="userSpaceOnUse" x1="36.9" y1="0" x2="338.4" y2="0"><stop offset="0.017" stop-color="#ac1701"/><stop offset="0.350" stop-color="#ac1701"/><stop offset="0.383" stop-color="#8e0a01"/><stop offset="0.417" stop-color="#950d01"/><stop offset="0.583" stop-color="#950d01"/><stop offset="0.617" stop-color="#8e0a01"/><stop offset="0.650" stop-color="#ac1701"/><stop offset="0.983" stop-color="#ac1701"/></linearGradient>
<clipPath id="cp5"><rect x="378.0" y="376.8" width="300.6" height="151.7"/></clipPath>
<linearGradient id="g5_0" gradientUnits="userSpaceOnUse" x1="378.0" y1="0" x2="678.6" y2="0"><stop offset="0.017" stop-color="#ac1701"/><stop offset="0.050" stop-color="#c12302"/><stop offset="0.083" stop-color="#950d01"/><stop offset="0.102" stop-color="#950d01"/><stop offset="0.117" stop-color="#e1dd37"/><stop offset="0.132" stop-color="#ec530f"/><stop offset="0.150" stop-color="#ec530f"/><stop offset="0.183" stop-color="#c12302"/><stop offset="0.268" stop-color="#c12302"/><stop offset="0.283" stop-color="#92ff47"/><stop offset="0.298" stop-color="#ec530f"/><stop offset="0.335" stop-color="#ec530f"/><stop offset="0.350" stop-color="#e1dd37"/><stop offset="0.365" stop-color="#ec530f"/><stop offset="0.383" stop-color="#ec530f"/><stop offset="0.417" stop-color="#c12302"/><stop offset="0.502" stop-color="#c12302"/><stop offset="0.517" stop-color="#e1dd37"/><stop offset="0.532" stop-color="#c12302"/><stop offset="0.568" stop-color="#c12302"/><stop offset="0.583" stop-color="#ec530f"/><stop offset="0.598" stop-color="#c12302"/><stop offset="0.635" stop-color="#c12302"/><stop offset="0.650" stop-color="#fea431"/><stop offset="0.665" stop-color="#c12302"/><stop offset="0.683" stop-color="#c12302"/><stop offset="0.717" stop-color="#950d01"/><stop offset="0.750" stop-color="#c12302"/><stop offset="0.783" stop-color="#c12302"/><stop offset="0.817" stop-color="#ec530f"/><stop offset="0.835" stop-color="#ec530f"/><stop offset="0.850" stop-color="#e1dd37"/><stop offset="0.865" stop-color="#c12302"/><stop offset="0.917" stop-color="#c12302"/><stop offset="0.950" stop-color="#ec530f"/><stop offset="0.983" stop-color="#e14109"/></linearGradient>
<linearGradient id="g5_1" gradientUnits="userSpaceOnUse" x1="378.0" y1="0" x2="678.6" y2="0"><stop offset="0.017" stop-color="#ac1701"/><stop offset="0.050" stop-color="#c12302"/><stop offset="0.083" stop-color="#950d01"/><stop offset="0.102" stop-color="#950d01"/><stop offset="0.117" stop-color="#e1dd37"/><stop offset="0.132" stop-color="#ec530f"/><stop offset="0.150" stop-color="#ec530f"/><stop offset="0.183" stop-color="#c12302"/><stop offset="0.268" stop-color="#c12302"/><stop offset="0.283" stop-color="#92ff47"/><stop offset="0.298" stop-color="#ec530f"/><stop offset="0.335" stop-color="#ec530f"/><stop offset="0.350" stop-color="#e1dd37"/><stop offset="0.365" stop-color="#ec530f"/><stop offset="0.383" stop-color="#ec530f"/><stop offset="0.417" stop-color="#c12302"/><stop offset="0.502" stop-color="#c12302"/><stop offset="0.517" stop-color="#e1dd37"/><stop offset="0.532" stop-color="#c12302"/><stop offset="0.568" stop-color="#c12302"/><stop offset="0.583" stop-color="#ec530f"/><stop offset="0.598" stop-color="#c12302"/><stop offset="0.635" stop-color="#c12302"/><stop offset="0.650" stop-color="#fea431"/><stop offset="0.665" stop-color="#c12302"/><stop offset="0.683" stop-color="#c12302"/><stop offset="0.717" stop-color="#950d01"/><stop offset="0.750" stop-color="#c12302"/><stop offset="0.783" stop-color="#c12302"/><stop offset="0.817" stop-color="#ec530f"/><stop offset="0.835" stop-color="#ec530f"/><stop offset="0.850" stop-color="#e1dd37"/><stop offset="0.865" stop-color="#c12302"/><stop offset="0.917" stop-color="#c12302"/><stop offset="0.950" stop-color="#ec530f"/><stop offset="0.983" stop-color="#e14109"/></linearGradient>
<linearGradient id="g5_2" gradientUnits="userSpaceOnUse" x1="378.0" y1="0" x2="678.6" y2="0"><stop offset="0.017" stop-color="#ac1701"/><stop offset="0.050" stop-color="#c12302"/><stop offset="0.102" stop-color="#c12302"/><stop offset="0.117" stop-color="#92ff47"/><stop offset="0.132" stop-color="#ec530f"/><stop offset="0.150" stop-color="#ec530f"/><stop offset="0.183" stop-color="#fea431"/><stop offset="0.217" stop-color="#e1dd37"/><stop offset="0.235" stop-color="#e1dd37"/><stop offset="0.250" stop-color="#2cf09e"/><stop offset="0.265" stop-color="#fea431"/><stop offset="0.302" stop-color="#fea431"/><stop offset="0.317" stop-color="#92ff47"/><stop offset="0.332" stop-color="#e1dd37"/><stop offset="0.350" stop-color="#e1dd37"/><stop offset="0.383" stop-color="#ec530f"/><stop offset="0.417" stop-color="#ec530f"/><stop offset="0.450" stop-color="#950d01"/><stop offset="0.483" stop-color="#92ff47"/><stop offset="0.502" stop-color="#92ff47"/><stop offset="0.517" stop-color="#2cf09e"/><stop offset="0.532" stop-color="#ec530f"/><stop offset="0.635" stop-color="#ec530f"/><stop offset="0.650" stop-color="#fea431"/><stop offset="0.665" stop-color="#c12302"/><stop offset="0.683" stop-color="#c12302"/><stop offset="0.717" stop-color="#950d01"/><stop offset="0.750" stop-color="#ec530f"/><stop offset="0.768" stop-color="#ec530f"/><stop offset="0.783" stop-color="#92ff47"/><stop offset="0.798" stop-color="#ec530f"/><stop offset="0.835" stop-color="#ec530f"/><stop offset="0.850" stop-color="#fea431"/><stop offset="0.865" stop-color="#c12302"/><stop offset="0.883" stop-color="#c12302"/><stop offset="0.917" stop-color="#950d01"/><stop offset="0.950" stop-color="#ec530f"/><stop offset="0.983" stop-color="#20c7df"/></linearGradient>
<linearGradient id="g5_3" gradientUnits="userSpaceOnUse" x1="378.0" y1="0" x2="678.6" y2="0"><stop offset="0.017" stop-color="#ac1701"/><stop offset="0.050" stop-color="#950d01"/><stop offset="0.083" stop-color="#ec530f"/><stop offset="0.102" stop-color="#ec530f"/><stop offset="0.117" stop-color="#92ff47"/><stop offset="0.132" stop-color="#ec530f"/><stop offset="0.168" stop-color="#ec530f"/><stop offset="0.183" stop-color="#2cf09e"/><stop offset="0.198" stop-color="#e1dd37"/><stop offset="0.235" stop-color="#e1dd37"/><stop offset="0.250" stop-color="#2cf09e"/><stop offset="0.265" stop-color="#c12302"/><stop offset="0.283" stop-color="#c12302"/><stop offset="0.317" stop-color="#950d01"/><stop offset="0.350" stop-color="#c12302"/><stop offset="0.383" stop-color="#ec530f"/><stop offset="0.402" stop-color="#ec530f"/><stop offset="0.417" stop-color="#92ff47"/><stop offset="0.432" stop-color="#c12302"/><stop offset="0.468" stop-color="#c12302"/><stop offset="0.483" stop-color="#2cf09e"/><stop offset="0.498" stop-color="#92ff47"/><stop offset="0.517" stop-color="#92ff47"/><stop offset="0.550" stop-color="#fea431"/><stop offset="0.583" stop-color="#ec530f"/><stop offset="0.617" stop-color="#c12302"/><stop offset="0.668" stop-color="#c12302"/><stop offset="0.683" stop-color="#ec530f"/><stop offset="0.698" stop-color="#950d01"/><stop offset="0.717" stop-color="#950d01"/><stop offset="0.750" stop-color="#fea431"/><stop offset="0.768" stop-color="#fea431"/><stop offset="0.783" stop-color="#2cf09e"/><stop offset="0.798" stop-color="#c12302"/><stop offset="0.868" stop-color="#c12302"/><stop offset="0.883" stop-color="#e1dd37"/><stop offset="0.898" stop-color="#950d01"/><stop offset="0.917" stop-color="#950d01"/><stop offset="0.950" stop-color="#ec530f"/><stop offset="0.983" stop-color="#92ff47"/></linearGradient>
<linearGradient id="g5_4" gradientUnits="userSpaceOnUse" x1="378.0" y1="0" x2="678.6" y2="0"><stop offset="0.017" stop-color="#e14109"/><stop offset="0.050" stop-color="#ec530f"/><stop offset="0.102" stop-color="#ec530f"/><stop offset="0.117" stop-color="#2cf09e"/><stop offset="0.132" stop-color="#92ff47"/><stop offset="0.168" stop-color="#92ff47"/><stop offset="0.183" stop-color="#2cf09e"/><stop offset="0.198" stop-color="#e1dd37"/><stop offset="0.217" stop-color="#e1dd37"/><stop offset="0.250" stop-color="#ec530f"/><stop offset="0.283" stop-color="#c12302"/><stop offset="0.317" stop-color="#950d01"/><stop offset="0.350" stop-color="#c12302"/><stop offset="0.383" stop-color="#ec530f"/><stop offset="0.402" stop-color="#ec530f"/><stop offset="0.417" stop-color="#92ff47"/><stop offset="0.432" stop-color="#c12302"/><stop offset="0.468" stop-color="#c12302"/><stop offset="0.483" stop-color="#fea431"/><stop offset="0.498" stop-color="#ec530f"/><stop offset="0.535" stop-color="#ec530f"/><stop offset="0.550" stop-color="#92ff47"/><stop offset="0.565" stop-color="#fea431"/><stop offset="0.583" stop-color="#fea431"/><stop offset="0.617" stop-color="#92ff47"/><stop offset="0.650" stop-color="#92ff47"/><stop offset="0.683" stop-color="#ec530f"/><stop offset="0.717" stop-color="#c12302"/><stop offset="0.750" stop-color="#e1dd37"/><stop offset="0.768" stop-color="#e1dd37"/><stop offset="0.783" stop-color="#2cf09e"/><stop offset="0.798" stop-color="#c12302"/><stop offset="0.850" stop-color="#c12302"/><stop offset="0.883" stop-color="#fea431"/><stop offset="0.917" stop-color="#fea431"/><stop offset="0.950" stop-color="#ec530f"/><stop offset="0.983" stop-color="#e14109"/></linearGradient>
<linearGradient id="g5_5" gradientUnits="userSpaceOnUse" x1="378.0" y1="0" x2="678.6" y2="0"><stop offset="0.017" stop-color="#e14109"/><stop offset="0.050" stop-color="#c12302"/><stop offset="0.083" stop-color="#c12302"/><stop offset="0.117" stop-color="#fea431"/><stop offset="0.150" stop-color="#ec530f"/><stop offset="0.183" stop-color="#fea431"/><stop offset="0.217" stop-color="#e1dd37"/><stop offset="0.250" stop-color="#e1dd37"/><stop offset="0.283" stop-color="#fea431"/><stop offset="0.317" stop-color="#ec530f"/><stop offset="0.350" stop-color="#e1dd37"/><stop offset="0.383" stop-color="#92ff47"/><stop offset="0.417" stop-color="#ec530f"/><stop offset="0.450" stop-color="#c12302"/><stop offset="0.483" stop-color="#c12302"/><stop offset="0.517" stop-color="#ec530f"/><stop offset="0.550" stop-color="#2cf09e"/><stop offset="0.583" stop-color="#fea431"/><stop offset="0.617" stop-color="#fea431"/><stop offset="0.650" stop-color="#ec530f"/><stop offset="0.683" stop-color="#20c7df"/><stop offset="0.717" stop-color="#fea431"/><stop offset="0.750" stop-color="#ec530f"/><stop offset="0.783" stop-color="#ec530f"/><stop offset="0.817" stop-color="#c12302"/><stop offset="0.883" stop-color="#c12302"/><stop offset="0.917" stop-color="#fea431"/><stop offset="0.950" stop-color="#c12302"/><stop offset="0.983" stop-color="#ac1701"/></linearGradient>
<linearGradient id="g5_6" gradientUnits="userSpaceOnUse" x1="378.0" y1="0" x2="678.6" y2="0"><stop offset="0.017" stop-color="#ac1701"/><stop offset="0.050" stop-color="#c12302"/><stop offset="0.083" stop-color="#c12302"/><stop offset="0.117" stop-color="#950d01"/><stop offset="0.150" stop-color="#950d01"/><stop offset="0.183" stop-color="#ec530f"/><stop offset="0.217" stop-color="#e1dd37"/><stop offset="0.250" stop-color="#92ff47"/><stop offset="0.283" stop-color="#2cf09e"/><stop offset="0.317" stop-color="#4687fb"/><stop offset="0.350" stop-color="#2cf09e"/><stop offset="0.383" stop-color="#fea431"/><stop offset="0.417" stop-color="#ec530f"/><stop offset="0.450" stop-color="#c12302"/><stop offset="0.517" stop-color="#c12302"/><stop offset="0.550" stop-color="#92ff47"/><stop offset="0.583" stop-color="#fea431"/><stop offset="0.617" stop-color="#ec530f"/><stop offset="0.650" stop-color="#fea431"/><stop offset="0.683" stop-color="#2cf09e"/><stop offset="0.717" stop-color="#ec530f"/><stop offset="0.783" stop-color="#ec530f"/><stop offset="0.817" stop-color="#c12302"/><stop offset="0.850" stop-color="#950d01"/><stop offset="0.883" stop-color="#950d01"/><stop offset="0.917" stop-color="#c12302"/><stop offset="0.950" stop-color="#950d01"/><stop offset="0.983" stop-color="#ac1701"/></linearGradient>
<linearGradient id="g5_7" gradientUnits="userSpaceOnUse" x1="378.0" y1="0" x2="678.6" y2="0"><stop offset="0.017" stop-color="#8e0a01"/><stop offset="0.050" stop-color="#8e0a01"/><stop offset="0.083" stop-color="#950d01"/><stop offset="0.183" stop-color="#950d01"/><stop offset="0.217" stop-color="#ec530f"/><stop offset="0.250" stop-color="#fea431"/><stop offset="0.283" stop-color="#ec530f"/><stop offset="0.317" stop-color="#fea431"/><stop offset="0.350" stop-color="#92ff47"/><stop offset="0.383" stop-color="#fea431"/><stop offset="0.417" stop-color="#c12302"/><stop offset="0.450" stop-color="#950d01"/><stop offset="0.483" stop-color="#950d01"/><stop offset="0.517" stop-color="#ec530f"/><stop offset="0.550" stop-color="#ec530f"/><stop offset="0.583" stop-color="#c12302"/><stop offset="0.617" stop-color="#c12302"/><stop offset="0.650" stop-color="#ec530f"/><stop offset="0.683" stop-color="#c12302"/><stop offset="0.917" stop-color="#c12302"/><stop offset="0.950" stop-color="#ac1701"/><stop offset="0.983" stop-color="#ac1701"/></linearGradient>
<linearGradient id="g5_8" gradientUnits="userSpaceOnUse" x1="378.0" y1="0" x2="678.6" y2="0"><stop offset="0.017" stop-color="#ac1701"/><stop offset="0.050" stop-color="#8e0a01"/><stop offset="0.083" stop-color="#950d01"/><stop offset="0.150" stop-color="#950d01"/><stop offset="0.183" stop-color="#c12302"/><stop offset="0.217" stop-color="#ec530f"/><stop offset="0.250" stop-color="#ec530f"/><stop offset="0.283" stop-color="#e1dd37"/><stop offset="0.317" stop-color="#2cf09e"/><stop offset="0.350" stop-color="#20c7df"/><stop offset="0.383" stop-color="#2cf09e"/><stop offset="0.417" stop-color="#fea431"/><stop offset="0.450" stop-color="#ec530f"/><stop offset="0.550" stop-color="#ec530f"/><stop offset="0.583" stop-color="#c12302"/><stop offset="0.617" stop-color="#950d01"/><stop offset="0.650" stop-color="#950d01"/><stop offset="0.683" stop-color="#c12302"/><stop offset="0.717" stop-color="#ec530f"/><stop offset="0.817" stop-color="#ec530f"/><stop offset="0.850" stop-color="#c12302"/><stop offset="0.917" stop-color="#c12302"/><stop offset="0.950" stop-color="#ac1701"/><stop offset="0.983" stop-color="#ac1701"/></linearGradient>
<linearGradient id="g5_9" gradientUnits="userSpaceOnUse" x1="378.0" y1="0" x2="678.6" y2="0"><stop offset="0.017" stop-color="#fea431"/><stop offset="0.050" stop-color="#fea431"/><stop offset="0.083" stop-color="#ac1701"/><stop offset="0.117" stop-color="#c12302"/><stop offset="0.150" stop-color="#ec530f"/><stop offset="0.183" stop-color="#c12302"/><stop offset="0.217" stop-color="#ec530f"/><stop offset="0.250" stop-color="#fea431"/><stop offset="0.283" stop-color="#fea431"/><stop offset="0.317" stop-color="#ec530f"/><stop offset="0.350" stop-color="#ec530f"/><stop offset="0.383" stop-color="#c12302"/><stop offset="0.417" stop-color="#ec530f"/><stop offset="0.450" stop-color="#c12302"/><stop offset="0.517" stop-color="#c12302"/><stop offset="0.550" stop-color="#950d01"/><stop offset="0.617" stop-color="#950d01"/><stop offset="0.650" stop-color="#c12302"/><stop offset="0.683" stop-color="#ec530f"/><stop offset="0.717" stop-color="#fea431"/><stop offset="0.750" stop-color="#ec530f"/><stop offset="0.783" stop-color="#c12302"/><stop offset="0.817" stop-color="#ec530f"/><stop offset="0.850" stop-color="#c12302"/><stop offset="0.883" stop-color="#ec530f"/><stop offset="0.917" stop-color="#ac1701"/><stop offset="0.983" stop-color="#ac1701"/></linearGradient>
<linearGradient id="g5_10" gradientUnits="userSpaceOnUse" x1="378.0" y1="0" x2="678.6" y2="0"><stop offset="0.017" stop-color="#e1dd37"/><stop offset="0.083" stop-color="#e1dd37"/><stop offset="0.117" stop-color="#92ff47"/><stop offset="0.150" stop-color="#92ff47"/><stop offset="0.183" stop-color="#e1dd37"/><stop offset="0.217" stop-color="#ec530f"/><stop offset="0.250" stop-color="#c12302"/><stop offset="0.283" stop-color="#c12302"/><stop offset="0.317" stop-color="#ec530f"/><stop offset="0.383" stop-color="#ec530f"/><stop offset="0.417" stop-color="#c12302"/><stop offset="0.450" stop-color="#c12302"/><stop offset="0.483" stop-color="#ec530f"/><stop offset="0.517" stop-color="#c12302"/><stop offset="0.583" stop-color="#c12302"/><stop offset="0.617" stop-color="#ec530f"/><stop offset="0.650" stop-color="#ec530f"/><stop offset="0.683" stop-color="#c12302"/><stop offset="0.717" stop-color="#ec530f"/><stop offset="0.750" stop-color="#ec530f"/><stop offset="0.783" stop-color="#c12302"/><stop offset="0.817" stop-color="#c12302"/><stop offset="0.850" stop-color="#ec530f"/><stop offset="0.883" stop-color="#c12302"/><stop offset="0.917" stop-color="#ac1701"/><stop offset="0.983" stop-color="#ac1701"/></linearGradient>
<linearGradient id="g5_11" gradientUnits="userSpaceOnUse" x1="378.0" y1="0" x2="678.6" y2="0"><stop offset="0.017" stop-color="#ac1701"/><stop offset="0.117" stop-color="#ac1701"/><stop offset="0.150" stop-color="#950d01"/><stop offset="0.183" stop-color="#c12302"/><stop offset="0.217" stop-color="#c12302"/><stop offset="0.250" stop-color="#ec530f"/><stop offset="0.283" stop-color="#ec530f"/><stop offset="0.317" stop-color="#c12302"/><stop offset="0.350" stop-color="#ec530f"/><stop offset="0.383" stop-color="#c12302"/><stop offset="0.417" stop-color="#c12302"/><stop offset="0.450" stop-color="#ec530f"/><stop offset="0.483" stop-color="#c12302"/><stop offset="0.517" stop-color="#c12302"/><stop offset="0.550" stop-color="#ec530f"/><stop offset="0.583" stop-color="#fea431"/><stop offset="0.683" stop-color="#fea431"/><stop offset="0.717" stop-color="#ec530f"/><stop offset="0.783" stop-color="#ec530f"/><stop offset="0.817" stop-color="#c12302"/><stop offset="0.850" stop-color="#ec530f"/><stop offset="0.883" stop-color="#e14109"/><stop offset="0.983" stop-color="#e14109"/></linearGradient>
<linearGradient id="g5_12" gradientUnits="userSpaceOnUse" x1="378.0" y1="0" x2="678.6" y2="0"><stop offset="0.017" stop-color="#8e0a01"/><stop offset="0.150" stop-color="#8e0a01"/><stop offset="0.183" stop-color="#950d01"/><stop offset="0.250" stop-color="#950d01"/><stop offset="0.283" stop-color="#c12302"/><stop offset="0.817" stop-color="#c12302"/><stop offset="0.850" stop-color="#ac1701"/><stop offset="0.983" stop-color="#ac1701"/></linearGradient>
<linearGradient id="g5_13" gradientUnits="userSpaceOnUse" x1="378.0" y1="0" x2="678.6" y2="0"><stop offset="0.017" stop-color="#ac1701"/><stop offset="0.183" stop-color="#ac1701"/><stop offset="0.217" stop-color="#950d01"/><stop offset="0.417" stop-color="#950d01"/><stop offset="0.450" stop-color="#c12302"/><stop offset="0.783" stop-color="#c12302"/><stop offset="0.817" stop-color="#ac1701"/><stop offset="0.950" stop-color="#ac1701"/><stop offset="0.983" stop-color="#e14109"/></linearGradient>
<linearGradient id="g5_14" gradientUnits="userSpaceOnUse" x1="378.0" y1="0" x2="678.6" y2="0"><stop offset="0.017" stop-color="#ac1701"/><stop offset="0.250" stop-color="#ac1701"/><stop offset="0.283" stop-color="#950d01"/><stop offset="0.683" stop-color="#950d01"/><stop offset="0.717" stop-color="#c12302"/><stop offset="0.750" stop-color="#ac1701"/><stop offset="0.983" stop-color="#ac1701"/></linearGradient>
<linearGradient id="g5_15" gradientUnits="userSpaceOnUse" x1="378.0" y1="0" x2="678.6" y2="0"><stop offset="0.017" stop-color="#ac1701"/><stop offset="0.283" stop-color="#ac1701"/><stop offset="0.317" stop-color="#8e0a01"/><stop offset="0.350" stop-color="#950d01"/><stop offset="0.650" stop-color="#950d01"/><stop offset="0.683" stop-color="#ac1701"/><stop offset="0.983" stop-color="#ac1701"/></linearGradient>
<linearGradient id="g5_16" gradientUnits="userSpaceOnUse" x1="378.0" y1="0" x2="678.6" y2="0"><stop offset="0.017" stop-color="#ac1701"/><stop offset="0.383" stop-color="#ac1701"/><stop offset="0.417" stop-color="#950d01"/><stop offset="0.583" stop-color="#950d01"/><stop offset="0.617" stop-color="#ac1701"/><stop offset="0.983" stop-color="#ac1701"/></linearGradient>
<linearGradient id="g5_17" gradientUnits="userSpaceOnUse" x1="378.0" y1="0" x2="678.6" y2="0"><stop offset="0.017" stop-color="#ac1701"/><stop offset="0.383" stop-color="#ac1701"/><stop offset="0.417" stop-color="#950d01"/><stop offset="0.583" stop-color="#950d01"/><stop offset="0.617" stop-color="#ac1701"/><stop offset="0.983" stop-color="#ac1701"/></linearGradient>
<clipPath id="cp6"><rect x="37.2" y="557.4" width="300.6" height="152.80000000000007"/></clipPath>
<linearGradient id="g6_0" gradientUnits="userSpaceOnUse" x1="37.2" y1="0" x2="337.8" y2="0"><stop offset="0.017" stop-color="#ac1701"/><stop offset="0.050" stop-color="#c12302"/><stop offset="0.102" stop-color="#c12302"/><stop offset="0.117" stop-color="#e1dd37"/><stop offset="0.132" stop-color="#c12302"/><stop offset="0.168" stop-color="#c12302"/><stop offset="0.183" stop-color="#e1dd37"/><stop offset="0.198" stop-color="#950d01"/><stop offset="0.217" stop-color="#950d01"/><stop offset="0.250" stop-color="#c12302"/><stop offset="0.283" stop-color="#c12302"/><stop offset="0.317" stop-color="#ec530f"/><stop offset="0.335" stop-color="#ec530f"/><stop offset="0.350" stop-color="#fea431"/><stop offset="0.365" stop-color="#c12302"/><stop offset="0.402" stop-color="#c12302"/><stop offset="0.417" stop-color="#fea431"/><stop offset="0.432" stop-color="#c12302"/><stop offset="0.450" stop-color="#c12302"/><stop offset="0.483" stop-color="#ec530f"/><stop offset="0.517" stop-color="#e1dd37"/><stop offset="0.535" stop-color="#e1dd37"/><stop offset="0.550" stop-color="#92ff47"/><stop offset="0.565" stop-color="#c12302"/><stop offset="0.583" stop-color="#c12302"/><stop offset="0.617" stop-color="#ec530f"/><stop offset="0.650" stop-color="#ec530f"/><stop offset="0.683" stop-color="#c12302"/><stop offset="0.783" stop-color="#c12302"/><stop offset="0.817" stop-color="#ec530f"/><stop offset="0.850" stop-color="#fea431"/><stop offset="0.883" stop-color="#fea431"/><stop offset="0.917" stop-color="#c12302"/><stop offset="0.935" stop-color="#c12302"/><stop offset="0.950" stop-color="#ec530f"/><stop offset="0.965" stop-color="#c12302"/><stop offset="0.983" stop-color="#ac1701"/></linearGradient>
<linearGradient id="g6_1" gradientUnits="userSpaceOnUse" x1="37.2" y1="0" x2="337.8" y2="0"><stop offset="0.017" stop-color="#ac1701"/><stop offset="0.050" stop-color="#c12302"/><stop offset="0.102" stop-color="#c12302"/><stop offset="0.117" stop-color="#e1dd37"/><stop offset="0.132" stop-color="#c12302"/><stop offset="0.168" stop-color="#c12302"/><stop offset="0.183" stop-color="#e1dd37"/><stop offset="0.198" stop-color="#950d01"/><stop offset="0.217" stop-color="#950d01"/><stop offset="0.250" stop-color="#c12302"/><stop offset="0.283" stop-color="#c12302"/><stop offset="0.317" stop-color="#ec530f"/><stop offset="0.335" stop-color="#ec530f"/><stop offset="0.350" stop-color="#fea431"/><stop offset="0.365" stop-color="#c12302"/><stop offset="0.402" stop-color="#c12302"/><stop offset="0.417" stop-color="#fea431"/><stop offset="0.432" stop-color="#c12302"/><stop offset="0.450" stop-color="#c12302"/><stop offset="0.483" stop-color="#ec530f"/><stop offset="0.517" stop-color="#e1dd37"/><stop offset="0.535" stop-color="#e1dd37"/><stop offset="0.550" stop-color="#92ff47"/><stop offset="0.565" stop-color="#c12302"/><stop offset="0.583" stop-color="#c12302"/><stop offset="0.617" stop-color="#ec530f"/><stop offset="0.650" stop-color="#ec530f"/><stop offset="0.683" stop-color="#c12302"/><stop offset="0.783" stop-color="#c12302"/><stop offset="0.817" stop-color="#ec530f"/><stop offset="0.850" stop-color="#fea431"/><stop offset="0.883" stop-color="#fea431"/><stop offset="0.917" stop-color="#c12302"/><stop offset="0.935" stop-color="#c12302"/><stop offset="0.950" stop-color="#ec530f"/><stop offset="0.965" stop-color="#c12302"/><stop offset="0.983" stop-color="#ac1701"/></linearGradient>
<linearGradient id="g6_2" gradientUnits="userSpaceOnUse" x1="37.2" y1="0" x2="337.8" y2="0"><stop offset="0.017" stop-color="#ac1701"/><stop offset="0.050" stop-color="#c12302"/><stop offset="0.083" stop-color="#ec530f"/><stop offset="0.102" stop-color="#ec530f"/><stop offset="0.117" stop-color="#e1dd37"/><stop offset="0.132" stop-color="#ec530f"/><stop offset="0.168" stop-color="#ec530f"/><stop offset="0.183" stop-color="#fea431"/><stop offset="0.198" stop-color="#950d01"/><stop offset="0.217" stop-color="#950d01"/><stop offset="0.250" stop-color="#c12302"/><stop offset="0.283" stop-color="#c12302"/><stop offset="0.317" stop-color="#ec530f"/><stop offset="0.350" stop-color="#e1dd37"/><stop offset="0.368" stop-color="#e1dd37"/><stop offset="0.383" stop-color="#92ff47"/><stop offset="0.398" stop-color="#fea431"/><stop offset="0.417" stop-color="#fea431"/><stop offset="0.450" stop-color="#c12302"/><stop offset="0.483" stop-color="#c12302"/><stop offset="0.517" stop-color="#ec530f"/><stop offset="0.535" stop-color="#ec530f"/><stop offset="0.550" stop-color="#92ff47"/><stop offset="0.565" stop-color="#fea431"/><stop offset="0.583" stop-color="#fea431"/><stop offset="0.617" stop-color="#ec530f"/><stop offset="0.650" stop-color="#ec530f"/><stop offset="0.683" stop-color="#c12302"/><stop offset="0.717" stop-color="#ec530f"/><stop offset="0.783" stop-color="#ec530f"/><stop offset="0.817" stop-color="#fea431"/><stop offset="0.835" stop-color="#fea431"/><stop offset="0.850" stop-color="#e1dd37"/><stop offset="0.865" stop-color="#fea431"/><stop offset="0.883" stop-color="#fea431"/><stop offset="0.917" stop-color="#c12302"/><stop offset="0.935" stop-color="#c12302"/><stop offset="0.950" stop-color="#e1dd37"/><stop offset="0.965" stop-color="#ec530f"/><stop offset="0.983" stop-color="#e14109"/></linearGradient>
<linearGradient id="g6_3" gradientUnits="userSpaceOnUse" x1="37.2" y1="0" x2="337.8" y2="0"><stop offset="0.017" stop-color="#92ff47"/><stop offset="0.050" stop-color="#e1dd37"/><stop offset="0.083" stop-color="#c12302"/><stop offset="0.117" stop-color="#ec530f"/><stop offset="0.168" stop-color="#ec530f"/><stop offset="0.183" stop-color="#2cf09e"/><stop offset="0.198" stop-color="#92ff47"/><stop offset="0.250" stop-color="#92ff47"/><stop offset="0.283" stop-color="#ec530f"/><stop offset="0.302" stop-color="#ec530f"/><stop offset="0.317" stop-color="#e1dd37"/><stop offset="0.332" stop-color="#ec530f"/><stop offset="0.368" stop-color="#ec530f"/><stop offset="0.383" stop-color="#e1dd37"/><stop offset="0.398" stop-color="#fea431"/><stop offset="0.417" stop-color="#fea431"/><stop offset="0.450" stop-color="#c12302"/><stop offset="0.483" stop-color="#c12302"/><stop offset="0.517" stop-color="#950d01"/><stop offset="0.550" stop-color="#92ff47"/><stop offset="0.568" stop-color="#92ff47"/><stop offset="0.583" stop-color="#2cf09e"/><stop offset="0.598" stop-color="#ec530f"/><stop offset="0.635" stop-color="#ec530f"/><stop offset="0.650" stop-color="#e1dd37"/><stop offset="0.665" stop-color="#c12302"/><stop offset="0.683" stop-color="#c12302"/><stop offset="0.717" stop-color="#ec530f"/><stop offset="0.750" stop-color="#92ff47"/><stop offset="0.768" stop-color="#92ff47"/><stop offset="0.783" stop-color="#2cf09e"/><stop offset="0.798" stop-color="#fea431"/><stop offset="0.835" stop-color="#fea431"/><stop offset="0.850" stop-color="#e1dd37"/><stop offset="0.865" stop-color="#fea431"/><stop offset="0.883" stop-color="#fea431"/><stop offset="0.917" stop-color="#ec530f"/><stop offset="0.935" stop-color="#ec530f"/><stop offset="0.950" stop-color="#fea431"/><stop offset="0.965" stop-color="#ec530f"/><stop offset="0.983" stop-color="#e14109"/></linearGradient>
<linearGradient id="g6_4" gradientUnits="userSpaceOnUse" x1="37.2" y1="0" x2="337.8" y2="0"><stop offset="0.017" stop-color="#e14109"/><stop offset="0.050" stop-color="#ec530f"/><stop offset="0.083" stop-color="#c12302"/><stop offset="0.117" stop-color="#ec530f"/><stop offset="0.150" stop-color="#fea431"/><stop offset="0.183" stop-color="#e1dd37"/><stop offset="0.217" stop-color="#92ff47"/><stop offset="0.250" stop-color="#92ff47"/><stop offset="0.283" stop-color="#ec530f"/><stop offset="0.302" stop-color="#ec530f"/><stop offset="0.317" stop-color="#2cf09e"/><stop offset="0.332" stop-color="#92ff47"/><stop offset="0.350" stop-color="#92ff47"/><stop offset="0.383" stop-color="#e1dd37"/><stop offset="0.417" stop-color="#fea431"/><stop offset="0.450" stop-color="#c12302"/><stop offset="0.483" stop-color="#950d01"/><stop offset="0.535" stop-color="#950d01"/><stop offset="0.550" stop-color="#fea431"/><stop offset="0.565" stop-color="#ec530f"/><stop offset="0.583" stop-color="#ec530f"/><stop offset="0.617" stop-color="#c12302"/><stop offset="0.635" stop-color="#c12302"/><stop offset="0.650" stop-color="#e1dd37"/><stop offset="0.665" stop-color="#ec530f"/><stop offset="0.717" stop-color="#ec530f"/><stop offset="0.750" stop-color="#2cf09e"/><stop offset="0.783" stop-color="#2cf09e"/><stop offset="0.817" stop-color="#ec530f"/><stop offset="0.850" stop-color="#ec530f"/><stop offset="0.883" stop-color="#c12302"/><stop offset="0.902" stop-color="#c12302"/><stop offset="0.917" stop-color="#fea431"/><stop offset="0.932" stop-color="#ec530f"/><stop offset="0.950" stop-color="#ec530f"/><stop offset="0.983" stop-color="#ac1701"/></linearGradient>
<linearGradient id="g6_5" gradientUnits="userSpaceOnUse" x1="37.2" y1="0" x2="337.8" y2="0"><stop offset="0.017" stop-color="#ac1701"/><stop offset="0.050" stop-color="#c12302"/><stop offset="0.083" stop-color="#ec530f"/><stop offset="0.117" stop-color="#e1dd37"/><stop offset="0.150" stop-color="#fea431"/><stop offset="0.183" stop-color="#c12302"/><stop offset="0.217" stop-color="#e1dd37"/><stop offset="0.250" stop-color="#e1dd37"/><stop offset="0.283" stop-color="#c12302"/><stop offset="0.317" stop-color="#e1dd37"/><stop offset="0.350" stop-color="#e1dd37"/><stop offset="0.383" stop-color="#fea431"/><stop offset="0.417" stop-color="#92ff47"/><stop offset="0.450" stop-color="#ec530f"/><stop offset="0.517" stop-color="#ec530f"/><stop offset="0.550" stop-color="#fea431"/><stop offset="0.583" stop-color="#ec530f"/><stop offset="0.617" stop-color="#c12302"/><stop offset="0.683" stop-color="#c12302"/><stop offset="0.717" stop-color="#ec530f"/><stop offset="0.750" stop-color="#2cf09e"/><stop offset="0.783" stop-color="#e1dd37"/><stop offset="0.817" stop-color="#ec530f"/><stop offset="0.850" stop-color="#ec530f"/><stop offset="0.883" stop-color="#fea431"/><stop offset="0.917" stop-color="#c12302"/><stop offset="0.950" stop-color="#950d01"/><stop offset="0.983" stop-color="#8e0a01"/></linearGradient>
<linearGradient id="g6_6" gradientUnits="userSpaceOnUse" x1="37.2" y1="0" x2="337.8" y2="0"><stop offset="0.017" stop-color="#8e0a01"/><stop offset="0.050" stop-color="#950d01"/><stop offset="0.083" stop-color="#950d01"/><stop offset="0.117" stop-color="#c12302"/><stop offset="0.150" stop-color="#ec530f"/><stop offset="0.183" stop-color="#ec530f"/><stop offset="0.217" stop-color="#fea431"/><stop offset="0.250" stop-color="#fea431"/><stop offset="0.283" stop-color="#c12302"/><stop offset="0.317" stop-color="#fea431"/><stop offset="0.350" stop-color="#92ff47"/><stop offset="0.383" stop-color="#92ff47"/><stop offset="0.417" stop-color="#2cf09e"/><stop offset="0.450" stop-color="#fea431"/><stop offset="0.483" stop-color="#ec530f"/><stop offset="0.583" stop-color="#ec530f"/><stop offset="0.617" stop-color="#c12302"/><stop offset="0.650" stop-color="#c12302"/><stop offset="0.683" stop-color="#ec530f"/><stop offset="0.717" stop-color="#ec530f"/><stop offset="0.750" stop-color="#fea431"/><stop offset="0.783" stop-color="#fea431"/><stop offset="0.817" stop-color="#ec530f"/><stop offset="0.850" stop-color="#c12302"/><stop offset="0.883" stop-color="#c12302"/><stop offset="0.917" stop-color="#950d01"/><stop offset="0.950" stop-color="#950d01"/><stop offset="0.983" stop-color="#8e0a01"/></linearGradient>
<linearGradient id="g6_7" gradientUnits="userSpaceOnUse" x1="37.2" y1="0" x2="337.8" y2="0"><stop offset="0.017" stop-color="#ac1701"/><stop offset="0.050" stop-color="#8e0a01"/><stop offset="0.083" stop-color="#c12302"/><stop offset="0.183" stop-color="#c12302"/><stop offset="0.217" stop-color="#ec530f"/><stop offset="0.250" stop-color="#92ff47"/><stop offset="0.283" stop-color="#2cf09e"/><stop offset="0.383" stop-color="#2cf09e"/><stop offset="0.417" stop-color="#92ff47"/><stop offset="0.450" stop-color="#e1dd37"/><stop offset="0.483" stop-color="#ec530f"/><stop offset="0.517" stop-color="#950d01"/><stop offset="0.550" stop-color="#950d01"/><stop offset="0.583" stop-color="#c12302"/><stop offset="0.650" stop-color="#c12302"/><stop offset="0.683" stop-color="#ec530f"/><stop offset="0.817" stop-color="#ec530f"/><stop offset="0.850" stop-color="#950d01"/><stop offset="0.917" stop-color="#950d01"/><stop offset="0.950" stop-color="#8e0a01"/><stop offset="0.983" stop-color="#8e0a01"/></linearGradient>
<linearGradient id="g6_8" gradientUnits="userSpaceOnUse" x1="37.2" y1="0" x2="337.8" y2="0"><stop offset="0.017" stop-color="#e1dd37"/><stop offset="0.050" stop-color="#e14109"/><stop offset="0.083" stop-color="#c12302"/><stop offset="0.183" stop-color="#c12302"/><stop offset="0.217" stop-color="#ec530f"/><stop offset="0.250" stop-color="#c12302"/><stop offset="0.283" stop-color="#950d01"/><stop offset="0.317" stop-color="#950d01"/><stop offset="0.350" stop-color="#ec530f"/><stop offset="0.383" stop-color="#fea431"/><stop offset="0.417" stop-color="#fea431"/><stop offset="0.450" stop-color="#ec530f"/><stop offset="0.517" stop-color="#ec530f"/><stop offset="0.550" stop-color="#c12302"/><stop offset="0.583" stop-color="#c12302"/><stop offset="0.617" stop-color="#ec530f"/><stop offset="0.683" stop-color="#ec530f"/><stop offset="0.717" stop-color="#fea431"/><stop offset="0.750" stop-color="#ec530f"/><stop offset="0.783" stop-color="#ec530f"/><stop offset="0.817" stop-color="#c12302"/><stop offset="0.850" stop-color="#950d01"/><stop offset="0.917" stop-color="#950d01"/><stop offset="0.950" stop-color="#8e0a01"/><stop offset="0.983" stop-color="#ac1701"/></linearGradient>
<linearGradient id="g6_9" gradientUnits="userSpaceOnUse" x1="37.2" y1="0" x2="337.8" y2="0"><stop offset="0.017" stop-color="#ac1701"/><stop offset="0.083" stop-color="#ac1701"/><stop offset="0.117" stop-color="#c12302"/><stop offset="0.150" stop-color="#ec530f"/><stop offset="0.183" stop-color="#c12302"/><stop offset="0.217" stop-color="#c12302"/><stop offset="0.250" stop-color="#ec530f"/><stop offset="0.283" stop-color="#950d01"/><stop offset="0.317" stop-color="#950d01"/><stop offset="0.350" stop-color="#c12302"/><stop offset="0.383" stop-color="#950d01"/><stop offset="0.483" stop-color="#950d01"/><stop offset="0.517" stop-color="#ec530f"/><stop offset="0.550" stop-color="#fea431"/><stop offset="0.583" stop-color="#92ff47"/><stop offset="0.617" stop-color="#2cf09e"/><stop offset="0.650" stop-color="#2cf09e"/><stop offset="0.683" stop-color="#e1dd37"/><stop offset="0.717" stop-color="#ec530f"/><stop offset="0.750" stop-color="#c12302"/><stop offset="0.883" stop-color="#c12302"/><stop offset="0.917" stop-color="#ac1701"/><stop offset="0.983" stop-color="#ac1701"/></linearGradient>
<linearGradient id="g6_10" gradientUnits="userSpaceOnUse" x1="37.2" y1="0" x2="337.8" y2="0"><stop offset="0.017" stop-color="#e1dd37"/><stop offset="0.083" stop-color="#e1dd37"/><stop offset="0.117" stop-color="#2cf09e"/><stop offset="0.150" stop-color="#92ff47"/><stop offset="0.183" stop-color="#e1dd37"/><stop offset="0.217" stop-color="#fea431"/><stop offset="0.250" stop-color="#ec530f"/><stop offset="0.350" stop-color="#ec530f"/><stop offset="0.383" stop-color="#c12302"/><stop offset="0.417" stop-color="#c12302"/><stop offset="0.450" stop-color="#950d01"/><stop offset="0.483" stop-color="#c12302"/><stop offset="0.517" stop-color="#c12302"/><stop offset="0.550" stop-color="#ec530f"/><stop offset="0.583" stop-color="#fea431"/><stop offset="0.617" stop-color="#ec530f"/><stop offset="0.650" stop-color="#fea431"/><stop offset="0.683" stop-color="#ec530f"/><stop offset="0.717" stop-color="#c12302"/><stop offset="0.850" stop-color="#c12302"/><stop offset="0.883" stop-color="#ec530f"/><stop offset="0.917" stop-color="#e14109"/><stop offset="0.983" stop-color="#e14109"/></linearGradient>
<linearGradient id="g6_11" gradientUnits="userSpaceOnUse" x1="37.2" y1="0" x2="337.8" y2="0"><stop offset="0.017" stop-color="#e14109"/><stop offset="0.117" stop-color="#e14109"/><stop offset="0.150" stop-color="#c12302"/><stop offset="0.217" stop-color="#c12302"/><stop offset="0.250" stop-color="#ec530f"/><stop offset="0.283" stop-color="#fea431"/><stop offset="0.317" stop-color="#e1dd37"/><stop offset="0.383" stop-color="#e1dd37"/><stop offset="0.417" stop-color="#fea431"/><stop offset="0.450" stop-color="#ec530f"/><stop offset="0.483" stop-color="#ec530f"/><stop offset="0.517" stop-color="#c12302"/><stop offset="0.550" stop-color="#950d01"/><stop offset="0.583" stop-color="#c12302"/><stop offset="0.817" stop-color="#c12302"/><stop offset="0.850" stop-color="#ec530f"/><stop offset="0.883" stop-color="#ac1701"/><stop offset="0.917" stop-color="#ac1701"/><stop offset="0.950" stop-color="#e14109"/><stop offset="0.983" stop-color="#e14109"/></linearGradient>
<linearGradient id="g6_12" gradientUnits="userSpaceOnUse" x1="37.2" y1="0" x2="337.8" y2="0"><stop offset="0.017" stop-color="#ac1701"/><stop offset="0.150" stop-color="#ac1701"/><stop offset="0.183" stop-color="#c12302"/><stop offset="0.417" stop-color="#c12302"/><stop offset="0.450" stop-color="#ec530f"/><stop offset="0.550" stop-color="#ec530f"/><stop offset="0.583" stop-color="#c12302"/><stop offset="0.617" stop-color="#ec530f"/><stop offset="0.717" stop-color="#ec530f"/><stop offset="0.750" stop-color="#fea431"/><stop offset="0.783" stop-color="#fea431"/><stop offset="0.817" stop-color="#e1dd37"/><stop offset="0.983" stop-color="#e1dd37"/></linearGradient>
<linearGradient id="g6_13" gradientUnits="userSpaceOnUse" x1="37.2" y1="0" x2="337.8" y2="0"><stop offset="0.017" stop-color="#ac1701"/><stop offset="0.083" stop-color="#ac1701"/><stop offset="0.117" stop-color="#8e0a01"/><stop offset="0.217" stop-color="#8e0a01"/><stop offset="0.250" stop-color="#950d01"/><stop offset="0.317" stop-color="#950d01"/><stop offset="0.350" stop-color="#c12302"/><stop offset="0.450" stop-color="#c12302"/><stop offset="0.483" stop-color="#950d01"/><stop offset="0.717" stop-color="#950d01"/><stop offset="0.750" stop-color="#c12302"/><stop offset="0.783" stop-color="#ac1701"/><stop offset="0.817" stop-color="#e14109"/><stop offset="0.850" stop-color="#e14109"/><stop offset="0.883" stop-color="#fea431"/><stop offset="0.983" stop-color="#fea431"/></linearGradient>
<linearGradient id="g6_14" gradientUnits="userSpaceOnUse" x1="37.2" y1="0" x2="337.8" y2="0"><stop offset="0.017" stop-color="#e14109"/><stop offset="0.250" stop-color="#e14109"/><stop offset="0.283" stop-color="#ec530f"/><stop offset="0.350" stop-color="#ec530f"/><stop offset="0.383" stop-color="#fea431"/><stop offset="0.717" stop-color="#fea431"/><stop offset="0.750" stop-color="#e14109"/><stop offset="0.983" stop-color="#e14109"/></linearGradient>
<linearGradient id="g6_15" gradientUnits="userSpaceOnUse" x1="37.2" y1="0" x2="337.8" y2="0"><stop offset="0.017" stop-color="#ac1701"/><stop offset="0.283" stop-color="#ac1701"/><stop offset="0.317" stop-color="#8e0a01"/><stop offset="0.350" stop-color="#950d01"/><stop offset="0.650" stop-color="#950d01"/><stop offset="0.683" stop-color="#8e0a01"/><stop offset="0.717" stop-color="#ac1701"/><stop offset="0.983" stop-color="#ac1701"/></linearGradient>
<linearGradient id="g6_16" gradientUnits="userSpaceOnUse" x1="37.2" y1="0" x2="337.8" y2="0"><stop offset="0.017" stop-color="#ac1701"/><stop offset="0.383" stop-color="#ac1701"/><stop offset="0.417" stop-color="#8e0a01"/><stop offset="0.450" stop-color="#950d01"/><stop offset="0.550" stop-color="#950d01"/><stop offset="0.583" stop-color="#8e0a01"/><stop offset="0.650" stop-color="#8e0a01"/><stop offset="0.683" stop-color="#ac1701"/><stop offset="0.983" stop-color="#ac1701"/></linearGradient>
<linearGradient id="g6_17" gradientUnits="userSpaceOnUse" x1="37.2" y1="0" x2="337.8" y2="0"><stop offset="0.017" stop-color="#ac1701"/><stop offset="0.383" stop-color="#ac1701"/><stop offset="0.417" stop-color="#8e0a01"/><stop offset="0.450" stop-color="#950d01"/><stop offset="0.550" stop-color="#950d01"/><stop offset="0.583" stop-color="#8e0a01"/><stop offset="0.650" stop-color="#8e0a01"/><stop offset="0.683" stop-color="#ac1701"/><stop offset="0.983" stop-color="#ac1701"/></linearGradient>
<clipPath id="cp7"><rect x="378.3" y="556.2" width="301.40000000000003" height="152.0999999999999"/></clipPath>
<linearGradient id="g7_0" gradientUnits="userSpaceOnUse" x1="378.3" y1="0" x2="679.7" y2="0"><stop offset="0.017" stop-color="#ac1701"/><stop offset="0.050" stop-color="#c12302"/><stop offset="0.117" stop-color="#c12302"/><stop offset="0.150" stop-color="#950d01"/><stop offset="0.183" stop-color="#c12302"/><stop offset="0.202" stop-color="#c12302"/><stop offset="0.217" stop-color="#e1dd37"/><stop offset="0.232" stop-color="#c12302"/><stop offset="0.302" stop-color="#c12302"/><stop offset="0.317" stop-color="#92ff47"/><stop offset="0.332" stop-color="#ec530f"/><stop offset="0.350" stop-color="#ec530f"/><stop offset="0.383" stop-color="#c12302"/><stop offset="0.402" stop-color="#c12302"/><stop offset="0.417" stop-color="#fea431"/><stop offset="0.432" stop-color="#c12302"/><stop offset="0.502" stop-color="#c12302"/><stop offset="0.517" stop-color="#fea431"/><stop offset="0.532" stop-color="#c12302"/><stop offset="0.550" stop-color="#c12302"/><stop offset="0.583" stop-color="#950d01"/><stop offset="0.617" stop-color="#c12302"/><stop offset="0.635" stop-color="#c12302"/><stop offset="0.650" stop-color="#ec530f"/><stop offset="0.665" stop-color="#c12302"/><stop offset="0.750" stop-color="#c12302"/><stop offset="0.783" stop-color="#950d01"/><stop offset="0.802" stop-color="#950d01"/><stop offset="0.817" stop-color="#e1dd37"/><stop offset="0.832" stop-color="#c12302"/><stop offset="0.868" stop-color="#c12302"/><stop offset="0.883" stop-color="#fea431"/><stop offset="0.898" stop-color="#950d01"/><stop offset="0.917" stop-color="#950d01"/><stop offset="0.950" stop-color="#c12302"/><stop offset="0.983" stop-color="#ac1701"/></linearGradient>
<linearGradient id="g7_1" gradientUnits="userSpaceOnUse" x1="378.3" y1="0" x2="679.7" y2="0"><stop offset="0.017" stop-color="#ac1701"/><stop offset="0.050" stop-color="#c12302"/><stop offset="0.117" stop-color="#c12302"/><stop offset="0.150" stop-color="#950d01"/><stop offset="0.183" stop-color="#c12302"/><stop offset="0.202" stop-color="#c12302"/><stop offset="0.217" stop-color="#e1dd37"/><stop offset="0.232" stop-color="#c12302"/><stop offset="0.302" stop-color="#c12302"/><stop offset="0.317" stop-color="#92ff47"/><stop offset="0.332" stop-color="#ec530f"/><stop offset="0.350" stop-color="#ec530f"/><stop offset="0.383" stop-color="#c12302"/><stop offset="0.402" stop-color="#c12302"/><stop offset="0.417" stop-color="#fea431"/><stop offset="0.432" stop-color="#c12302"/><stop offset="0.502" stop-color="#c12302"/><stop offset="0.517" stop-color="#fea431"/><stop offset="0.532" stop-color="#c12302"/><stop offset="0.550" stop-color="#c12302"/><stop offset="0.583" stop-color="#950d01"/><stop offset="0.617" stop-color="#c12302"/><stop offset="0.635" stop-color="#c12302"/><stop offset="0.650" stop-color="#ec530f"/><stop offset="0.665" stop-color="#c12302"/><stop offset="0.750" stop-color="#c12302"/><stop offset="0.783" stop-color="#950d01"/><stop offset="0.802" stop-color="#950d01"/><stop offset="0.817" stop-color="#e1dd37"/><stop offset="0.832" stop-color="#c12302"/><stop offset="0.868" stop-color="#c12302"/><stop offset="0.883" stop-color="#fea431"/><stop offset="0.898" stop-color="#950d01"/><stop offset="0.917" stop-color="#950d01"/><stop offset="0.950" stop-color="#c12302"/><stop offset="0.983" stop-color="#ac1701"/></linearGradient>
<linearGradient id="g7_2" gradientUnits="userSpaceOnUse" x1="378.3" y1="0" x2="679.7" y2="0"><stop offset="0.017" stop-color="#fea431"/><stop offset="0.035" stop-color="#fea431"/><stop offset="0.050" stop-color="#e1dd37"/><stop offset="0.065" stop-color="#fea431"/><stop offset="0.083" stop-color="#fea431"/><stop offset="0.117" stop-color="#c12302"/><stop offset="0.150" stop-color="#c12302"/><stop offset="0.183" stop-color="#92ff47"/><stop offset="0.217" stop-color="#2cf09e"/><stop offset="0.250" stop-color="#2cf09e"/><stop offset="0.283" stop-color="#ec530f"/><stop offset="0.317" stop-color="#e1dd37"/><stop offset="0.350" stop-color="#e1dd37"/><stop offset="0.383" stop-color="#c12302"/><stop offset="0.402" stop-color="#c12302"/><stop offset="0.417" stop-color="#fea431"/><stop offset="0.432" stop-color="#ec530f"/><stop offset="0.450" stop-color="#ec530f"/><stop offset="0.483" stop-color="#c12302"/><stop offset="0.535" stop-color="#c12302"/><stop offset="0.550" stop-color="#ec530f"/><stop offset="0.565" stop-color="#950d01"/><stop offset="0.583" stop-color="#950d01"/><stop offset="0.617" stop-color="#c12302"/><stop offset="0.635" stop-color="#c12302"/><stop offset="0.650" stop-color="#fea431"/><stop offset="0.665" stop-color="#ec530f"/><stop offset="0.750" stop-color="#ec530f"/><stop offset="0.783" stop-color="#950d01"/><stop offset="0.817" stop-color="#e1dd37"/><stop offset="0.850" stop-color="#e1dd37"/><stop offset="0.883" stop-color="#ec530f"/><stop offset="0.917" stop-color="#c12302"/><stop offset="0.950" stop-color="#ec530f"/><stop offset="0.983" stop-color="#e14109"/></linearGradient>
<linearGradient id="g7_3" gradientUnits="userSpaceOnUse" x1="378.3" y1="0" x2="679.7" y2="0"><stop offset="0.017" stop-color="#92ff47"/><stop offset="0.050" stop-color="#e1dd37"/><stop offset="0.083" stop-color="#fea431"/><stop offset="0.117" stop-color="#ec530f"/><stop offset="0.150" stop-color="#92ff47"/><stop offset="0.168" stop-color="#92ff47"/><stop offset="0.183" stop-color="#4687fb"/><stop offset="0.198" stop-color="#2cf09e"/><stop offset="0.217" stop-color="#2cf09e"/><stop offset="0.250" stop-color="#92ff47"/><stop offset="0.283" stop-color="#c12302"/><stop offset="0.317" stop-color="#92ff47"/><stop offset="0.335" stop-color="#92ff47"/><stop offset="0.350" stop-color="#20c7df"/><stop offset="0.365" stop-color="#ec530f"/><stop offset="0.435" stop-color="#ec530f"/><stop offset="0.450" stop-color="#fea431"/><stop offset="0.465" stop-color="#c12302"/><stop offset="0.535" stop-color="#c12302"/><stop offset="0.550" stop-color="#2cf09e"/><stop offset="0.565" stop-color="#ec530f"/><stop offset="0.583" stop-color="#ec530f"/><stop offset="0.617" stop-color="#c12302"/><stop offset="0.668" stop-color="#c12302"/><stop offset="0.683" stop-color="#2cf09e"/><stop offset="0.698" stop-color="#ec530f"/><stop offset="0.835" stop-color="#ec530f"/><stop offset="0.850" stop-color="#92ff47"/><stop offset="0.865" stop-color="#c12302"/><stop offset="0.883" stop-color="#c12302"/><stop offset="0.917" stop-color="#ec530f"/><stop offset="0.950" stop-color="#ec530f"/><stop offset="0.983" stop-color="#fea431"/></linearGradient>
<linearGradient id="g7_4" gradientUnits="userSpaceOnUse" x1="378.3" y1="0" x2="679.7" y2="0"><stop offset="0.017" stop-color="#8e0a01"/><stop offset="0.050" stop-color="#950d01"/><stop offset="0.068" stop-color="#950d01"/><stop offset="0.083" stop-color="#2cf09e"/><stop offset="0.098" stop-color="#e1dd37"/><stop offset="0.117" stop-color="#e1dd37"/><stop offset="0.150" stop-color="#ec530f"/><stop offset="0.183" stop-color="#fea431"/><stop offset="0.217" stop-color="#e1dd37"/><stop offset="0.235" stop-color="#e1dd37"/><stop offset="0.250" stop-color="#2cf09e"/><stop offset="0.265" stop-color="#92ff47"/><stop offset="0.283" stop-color="#92ff47"/><stop offset="0.317" stop-color="#e1dd37"/><stop offset="0.335" stop-color="#e1dd37"/><stop offset="0.350" stop-color="#20c7df"/><stop offset="0.365" stop-color="#fea431"/><stop offset="0.402" stop-color="#fea431"/><stop offset="0.417" stop-color="#92ff47"/><stop offset="0.432" stop-color="#ec530f"/><stop offset="0.483" stop-color="#ec530f"/><stop offset="0.517" stop-color="#e1dd37"/><stop offset="0.535" stop-color="#e1dd37"/><stop offset="0.550" stop-color="#2cf09e"/><stop offset="0.565" stop-color="#ec530f"/><stop offset="0.668" stop-color="#ec530f"/><stop offset="0.683" stop-color="#e1dd37"/><stop offset="0.698" stop-color="#ec530f"/><stop offset="0.783" stop-color="#ec530f"/><stop offset="0.817" stop-color="#c12302"/><stop offset="0.917" stop-color="#c12302"/><stop offset="0.950" stop-color="#950d01"/><stop offset="0.983" stop-color="#8e0a01"/></linearGradient>
<linearGradient id="g7_5" gradientUnits="userSpaceOnUse" x1="378.3" y1="0" x2="679.7" y2="0"><stop offset="0.017" stop-color="#8e0a01"/><stop offset="0.050" stop-color="#950d01"/><stop offset="0.083" stop-color="#c12302"/><stop offset="0.117" stop-color="#950d01"/><stop offset="0.150" stop-color="#950d01"/><stop offset="0.183" stop-color="#c12302"/><stop offset="0.217" stop-color="#ec530f"/><stop offset="0.250" stop-color="#92ff47"/><stop offset="0.283" stop-color="#c12302"/><stop offset="0.317" stop-color="#950d01"/><stop offset="0.350" stop-color="#c12302"/><stop offset="0.383" stop-color="#fea431"/><stop offset="0.417" stop-color="#fea431"/><stop offset="0.450" stop-color="#ec530f"/><stop offset="0.483" stop-color="#ec530f"/><stop offset="0.517" stop-color="#92ff47"/><stop offset="0.550" stop-color="#fea431"/><stop offset="0.583" stop-color="#c12302"/><stop offset="0.617" stop-color="#c12302"/><stop offset="0.650" stop-color="#ec530f"/><stop offset="0.683" stop-color="#fea431"/><stop offset="0.717" stop-color="#c12302"/><stop offset="0.917" stop-color="#c12302"/><stop offset="0.950" stop-color="#950d01"/><stop offset="0.983" stop-color="#8e0a01"/></linearGradient>
<linearGradient id="g7_6" gradientUnits="userSpaceOnUse" x1="378.3" y1="0" x2="679.7" y2="0"><stop offset="0.017" stop-color="#ac1701"/><stop offset="0.050" stop-color="#c12302"/><stop offset="0.083" stop-color="#fea431"/><stop offset="0.150" stop-color="#fea431"/><stop offset="0.183" stop-color="#ec530f"/><stop offset="0.250" stop-color="#ec530f"/><stop offset="0.283" stop-color="#c12302"/><stop offset="0.317" stop-color="#ec530f"/><stop offset="0.350" stop-color="#fea431"/><stop offset="0.383" stop-color="#e1dd37"/><stop offset="0.417" stop-color="#e1dd37"/><stop offset="0.450" stop-color="#fea431"/><stop offset="0.483" stop-color="#fea431"/><stop offset="0.517" stop-color="#e1dd37"/><stop offset="0.550" stop-color="#c12302"/><stop offset="0.583" stop-color="#c12302"/><stop offset="0.617" stop-color="#ec530f"/><stop offset="0.650" stop-color="#fea431"/><stop offset="0.683" stop-color="#fea431"/><stop offset="0.717" stop-color="#2cf09e"/><stop offset="0.750" stop-color="#20c7df"/><stop offset="0.783" stop-color="#ec530f"/><stop offset="0.850" stop-color="#ec530f"/><stop offset="0.883" stop-color="#c12302"/><stop offset="0.917" stop-color="#950d01"/><stop offset="0.950" stop-color="#950d01"/><stop offset="0.983" stop-color="#8e0a01"/></linearGradient>
<linearGradient id="g7_7" gradientUnits="userSpaceOnUse" x1="378.3" y1="0" x2="679.7" y2="0"><stop offset="0.017" stop-color="#ac1701"/><stop offset="0.050" stop-color="#fea431"/><stop offset="0.083" stop-color="#ec530f"/><stop offset="0.117" stop-color="#c12302"/><stop offset="0.183" stop-color="#c12302"/><stop offset="0.217" stop-color="#ec530f"/><stop offset="0.250" stop-color="#e1dd37"/><stop offset="0.283" stop-color="#fea431"/><stop offset="0.317" stop-color="#ec530f"/><stop offset="0.350" stop-color="#c12302"/><stop offset="0.383" stop-color="#950d01"/><stop offset="0.417" stop-color="#950d01"/><stop offset="0.450" stop-color="#c12302"/><stop offset="0.483" stop-color="#2cf09e"/><stop offset="0.517" stop-color="#4687fb"/><stop offset="0.550" stop-color="#2cf09e"/><stop offset="0.583" stop-color="#fea431"/><stop offset="0.617" stop-color="#c12302"/><stop offset="0.650" stop-color="#c12302"/><stop offset="0.683" stop-color="#ec530f"/><stop offset="0.717" stop-color="#4687fb"/><stop offset="0.750" stop-color="#20c7df"/><stop offset="0.783" stop-color="#fea431"/><stop offset="0.817" stop-color="#ec530f"/><stop offset="0.850" stop-color="#950d01"/><stop offset="0.917" stop-color="#950d01"/><stop offset="0.950" stop-color="#8e0a01"/><stop offset="0.983" stop-color="#8e0a01"/></linearGradient>
<linearGradient id="g7_8" gradientUnits="userSpaceOnUse" x1="378.3" y1="0" x2="679.7" y2="0"><stop offset="0.017" stop-color="#ac1701"/><stop offset="0.050" stop-color="#ac1701"/><stop offset="0.083" stop-color="#950d01"/><stop offset="0.150" stop-color="#950d01"/><stop offset="0.183" stop-color="#c12302"/><stop offset="0.217" stop-color="#fea431"/><stop offset="0.250" stop-color="#2cf09e"/><stop offset="0.283" stop-color="#2cf09e"/><stop offset="0.317" stop-color="#92ff47"/><stop offset="0.350" stop-color="#ec530f"/><stop offset="0.383" stop-color="#c12302"/><stop offset="0.417" stop-color="#c12302"/><stop offset="0.450" stop-color="#ec530f"/><stop offset="0.483" stop-color="#92ff47"/><stop offset="0.517" stop-color="#2cf09e"/><stop offset="0.550" stop-color="#92ff47"/><stop offset="0.583" stop-color="#fea431"/><stop offset="0.617" stop-color="#c12302"/><stop offset="0.650" stop-color="#ec530f"/><stop offset="0.683" stop-color="#fea431"/><stop offset="0.717" stop-color="#2cf09e"/><stop offset="0.750" stop-color="#2cf09e"/><stop offset="0.783" stop-color="#ec530f"/><stop offset="0.817" stop-color="#c12302"/><stop offset="0.850" stop-color="#950d01"/><stop offset="0.917" stop-color="#950d01"/><stop offset="0.950" stop-color="#8e0a01"/><stop offset="0.983" stop-color="#8e0a01"/></linearGradient>
<linearGradient id="g7_9" gradientUnits="userSpaceOnUse" x1="378.3" y1="0" x2="679.7" y2="0"><stop offset="0.017" stop-color="#8e0a01"/><stop offset="0.083" stop-color="#8e0a01"/><stop offset="0.117" stop-color="#950d01"/><stop offset="0.150" stop-color="#950d01"/><stop offset="0.183" stop-color="#c12302"/><stop offset="0.217" stop-color="#ec530f"/><stop offset="0.283" stop-color="#ec530f"/><stop offset="0.317" stop-color="#fea431"/><stop offset="0.350" stop-color="#ec530f"/><stop offset="0.383" stop-color="#ec530f"/><stop offset="0.417" stop-color="#fea431"/><stop offset="0.450" stop-color="#e1dd37"/><stop offset="0.483" stop-color="#92ff47"/><stop offset="0.517" stop-color="#92ff47"/><stop offset="0.550" stop-color="#e1dd37"/><stop offset="0.583" stop-color="#fea431"/><stop offset="0.617" stop-color="#e1dd37"/><stop offset="0.650" stop-color="#92ff47"/><stop offset="0.683" stop-color="#2cf09e"/><stop offset="0.717" stop-color="#2cf09e"/><stop offset="0.750" stop-color="#92ff47"/><stop offset="0.783" stop-color="#fea431"/><stop offset="0.817" stop-color="#ec530f"/><stop offset="0.850" stop-color="#c12302"/><stop offset="0.883" stop-color="#950d01"/><stop offset="0.917" stop-color="#8e0a01"/><stop offset="0.983" stop-color="#8e0a01"/></linearGradient>
<linearGradient id="g7_10" gradientUnits="userSpaceOnUse" x1="378.3" y1="0" x2="679.7" y2="0"><stop offset="0.017" stop-color="#8e0a01"/><stop offset="0.083" stop-color="#8e0a01"/><stop offset="0.117" stop-color="#950d01"/><stop offset="0.150" stop-color="#950d01"/><stop offset="0.183" stop-color="#c12302"/><stop offset="0.217" stop-color="#ec530f"/><stop offset="0.317" stop-color="#ec530f"/><stop offset="0.350" stop-color="#c12302"/><stop offset="0.383" stop-color="#ec530f"/><stop offset="0.417" stop-color="#fea431"/><stop offset="0.450" stop-color="#e1dd37"/><stop offset="0.483" stop-color="#fea431"/><stop offset="0.517" stop-color="#fea431"/><stop offset="0.550" stop-color="#e1dd37"/><stop offset="0.583" stop-color="#92ff47"/><stop offset="0.617" stop-color="#2cf09e"/><stop offset="0.650" stop-color="#20c7df"/><stop offset="0.683" stop-color="#4687fb"/><stop offset="0.717" stop-color="#20c7df"/><stop offset="0.750" stop-color="#2cf09e"/><stop offset="0.783" stop-color="#e1dd37"/><stop offset="0.817" stop-color="#ec530f"/><stop offset="0.850" stop-color="#c12302"/><stop offset="0.883" stop-color="#c12302"/><stop offset="0.917" stop-color="#ac1701"/><stop offset="0.983" stop-color="#ac1701"/></linearGradient>
<linearGradient id="g7_11" gradientUnits="userSpaceOnUse" x1="378.3" y1="0" x2="679.7" y2="0"><stop offset="0.017" stop-color="#e14109"/><stop offset="0.050" stop-color="#ac1701"/><stop offset="0.117" stop-color="#ac1701"/><stop offset="0.150" stop-color="#c12302"/><stop offset="0.317" stop-color="#c12302"/><stop offset="0.350" stop-color="#ec530f"/><stop offset="0.383" stop-color="#c12302"/><stop offset="0.417" stop-color="#ec530f"/><stop offset="0.483" stop-color="#ec530f"/><stop offset="0.517" stop-color="#c12302"/><stop offset="0.550" stop-color="#c12302"/><stop offset="0.583" stop-color="#ec530f"/><stop offset="0.617" stop-color="#fea431"/><stop offset="0.683" stop-color="#fea431"/><stop offset="0.717" stop-color="#ec530f"/><stop offset="0.783" stop-color="#ec530f"/><stop offset="0.817" stop-color="#c12302"/><stop offset="0.850" stop-color="#c12302"/><stop offset="0.883" stop-color="#e14109"/><stop offset="0.983" stop-color="#e14109"/></linearGradient>
<linearGradient id="g7_12" gradientUnits="userSpaceOnUse" x1="378.3" y1="0" x2="679.7" y2="0"><stop offset="0.017" stop-color="#e14109"/><stop offset="0.050" stop-color="#ac1701"/><stop offset="0.150" stop-color="#ac1701"/><stop offset="0.183" stop-color="#c12302"/><stop offset="0.450" stop-color="#c12302"/><stop offset="0.483" stop-color="#ec530f"/><stop offset="0.517" stop-color="#c12302"/><stop offset="0.783" stop-color="#c12302"/><stop offset="0.817" stop-color="#ec530f"/><stop offset="0.850" stop-color="#e14109"/><stop offset="0.917" stop-color="#e14109"/><stop offset="0.950" stop-color="#fea431"/><stop offset="0.983" stop-color="#fea431"/></linearGradient>
<linearGradient id="g7_13" gradientUnits="userSpaceOnUse" x1="378.3" y1="0" x2="679.7" y2="0"><stop offset="0.017" stop-color="#e14109"/><stop offset="0.183" stop-color="#e14109"/><stop offset="0.217" stop-color="#c12302"/><stop offset="0.583" stop-color="#c12302"/><stop offset="0.617" stop-color="#950d01"/><stop offset="0.783" stop-color="#950d01"/><stop offset="0.817" stop-color="#e14109"/><stop offset="0.983" stop-color="#e14109"/></linearGradient>
<linearGradient id="g7_14" gradientUnits="userSpaceOnUse" x1="378.3" y1="0" x2="679.7" y2="0"><stop offset="0.017" stop-color="#ac1701"/><stop offset="0.250" stop-color="#ac1701"/><stop offset="0.283" stop-color="#c12302"/><stop offset="0.717" stop-color="#c12302"/><stop offset="0.750" stop-color="#ac1701"/><stop offset="0.983" stop-color="#ac1701"/></linearGradient>
<linearGradient id="g7_15" gradientUnits="userSpaceOnUse" x1="378.3" y1="0" x2="679.7" y2="0"><stop offset="0.017" stop-color="#ac1701"/><stop offset="0.317" stop-color="#ac1701"/><stop offset="0.350" stop-color="#c12302"/><stop offset="0.650" stop-color="#c12302"/><stop offset="0.683" stop-color="#ac1701"/><stop offset="0.983" stop-color="#ac1701"/></linearGradient>
<linearGradient id="g7_16" gradientUnits="userSpaceOnUse" x1="378.3" y1="0" x2="679.7" y2="0"><stop offset="0.017" stop-color="#ac1701"/><stop offset="0.383" stop-color="#ac1701"/><stop offset="0.417" stop-color="#c12302"/><stop offset="0.583" stop-color="#c12302"/><stop offset="0.617" stop-color="#ac1701"/><stop offset="0.983" stop-color="#ac1701"/></linearGradient>
<linearGradient id="g7_17" gradientUnits="userSpaceOnUse" x1="378.3" y1="0" x2="679.7" y2="0"><stop offset="0.017" stop-color="#ac1701"/><stop offset="0.383" stop-color="#ac1701"/><stop offset="0.417" stop-color="#c12302"/><stop offset="0.583" stop-color="#c12302"/><stop offset="0.617" stop-color="#ac1701"/><stop offset="0.983" stop-color="#ac1701"/></linearGradient>
</defs>
<g clip-path="url(#cp0)">
<rect x="37.1" y="17.0" width="300.79999999999995" height="152.6" fill="#f05b12"/>
<g filter="url(#bl)">
<rect x="33.1" y="7.46" width="308.79999999999995" height="10.04" fill="url(#g0_0)"/>
<rect x="33.1" y="17.00" width="308.79999999999995" height="10.04" fill="url(#g0_1)"/>
<rect x="33.1" y="26.54" width="308.79999999999995" height="10.04" fill="url(#g0_2)"/>
<rect x="33.1" y="36.08" width="308.79999999999995" height="10.04" fill="url(#g0_3)"/>
<rect x="33.1" y="45.61" width="308.79999999999995" height="10.04" fill="url(#g0_4)"/>
<rect x="33.1" y="55.15" width="308.79999999999995" height="10.04" fill="url(#g0_5)"/>
<rect x="33.1" y="64.69" width="308.79999999999995" height="10.04" fill="url(#g0_6)"/>
<rect x="33.1" y="74.22" width="308.79999999999995" height="10.04" fill="url(#g0_7)"/>
<rect x="33.1" y="83.76" width="308.79999999999995" height="10.04" fill="url(#g0_8)"/>
<rect x="33.1" y="93.30" width="308.79999999999995" height="10.04" fill="url(#g0_9)"/>
<rect x="33.1" y="102.84" width="308.79999999999995" height="10.04" fill="url(#g0_10)"/>
<rect x="33.1" y="112.38" width="308.79999999999995" height="10.04" fill="url(#g0_11)"/>
<rect x="33.1" y="121.91" width="308.79999999999995" height="10.04" fill="url(#g0_12)"/>
<rect x="33.1" y="131.45" width="308.79999999999995" height="10.04" fill="url(#g0_13)"/>
<rect x="33.1" y="140.99" width="308.79999999999995" height="10.04" fill="url(#g0_14)"/>
<rect x="33.1" y="150.53" width="308.79999999999995" height="10.04" fill="url(#g0_15)"/>
<rect x="33.1" y="160.06" width="308.79999999999995" height="10.04" fill="url(#g0_16)"/>
<rect x="33.1" y="169.60" width="308.79999999999995" height="10.04" fill="url(#g0_17)"/>
</g>
<g filter="url(#bl2)">
<rect x="37" y="150.2" width="301" height="4.6" fill="#c3f134"/>
<rect x="262" y="127.3" width="76" height="4.4" fill="#46f884"/>
</g>
<path d="M37.0,36.5 C38.0,35.5 41.3,35.3 43.0,35.5 C44.7,35.7 46.3,36.7 47.0,37.5 C47.7,38.3 47.4,39.8 47.0,40.5 C46.6,41.2 45.5,41.7 44.5,42.0 C43.5,42.3 42.2,42.6 41.0,42.5 C39.8,42.4 37.7,42.5 37.0,41.5 C36.3,40.5 36.0,37.5 37.0,36.5 Z" fill="#a11201" stroke="none"/>
<path d="M37.0,36.5 C38.0,35.5 41.3,35.3 43.0,35.5 C44.7,35.7 46.3,36.7 47.0,37.5 C47.7,38.3 47.4,39.8 47.0,40.5 C46.6,41.2 45.5,41.7 44.5,42.0 C43.5,42.3 42.2,42.6 41.0,42.5 C39.8,42.4 37.7,42.5 37.0,41.5 C36.3,40.5 36.0,37.5 37.0,36.5 Z" fill="none" stroke="#000" stroke-width="1.5" stroke-linejoin="round"/>
<path d="M76.0,51.0 C76.3,49.4 80.7,44.8 82.0,45.0 C83.3,45.2 84.3,50.4 84.0,52.0 C83.7,53.6 81.3,54.7 80.0,54.5 C78.7,54.3 75.7,52.6 76.0,51.0 Z" fill="#a11201" stroke="none"/>
<path d="M76.0,51.0 C76.3,49.4 80.7,44.8 82.0,45.0 C83.3,45.2 84.3,50.4 84.0,52.0 C83.7,53.6 81.3,54.7 80.0,54.5 C78.7,54.3 75.7,52.6 76.0,51.0 Z" fill="none" stroke="#000" stroke-width="1.5" stroke-linejoin="round"/>
<path d="M160.0,38.0 C160.5,37.1 162.7,35.1 164.0,35.0 C165.3,34.9 167.7,36.5 168.0,37.5 C168.3,38.5 167.2,40.5 166.0,41.0 C164.8,41.5 162.0,41.0 161.0,40.5 C160.0,40.0 159.5,38.9 160.0,38.0 Z" fill="#a11201" stroke="none"/>
<path d="M160.0,38.0 C160.5,37.1 162.7,35.1 164.0,35.0 C165.3,34.9 167.7,36.5 168.0,37.5 C168.3,38.5 167.2,40.5 166.0,41.0 C164.8,41.5 162.0,41.0 161.0,40.5 C160.0,40.0 159.5,38.9 160.0,38.0 Z" fill="none" stroke="#000" stroke-width="1.5" stroke-linejoin="round"/>
<path d="M209.0,16.0 C209.1,16.8 208.9,19.8 209.5,21.0 C210.1,22.2 211.5,23.0 212.5,23.0 C213.5,23.0 214.9,22.2 215.5,21.0 C216.1,19.8 215.9,16.8 216.0,16.0" fill="#a11201" stroke="none"/>
<path d="M209.0,16.0 C209.1,16.8 208.9,19.8 209.5,21.0 C210.1,22.2 211.5,23.0 212.5,23.0 C213.5,23.0 214.9,22.2 215.5,21.0 C216.1,19.8 215.9,16.8 216.0,16.0" fill="none" stroke="#000" stroke-width="1.5" stroke-linejoin="round"/>
<path d="M237.0,16.0 C237.2,17.3 237.4,22.2 238.0,24.0 C238.6,25.8 239.7,27.0 240.5,27.0 C241.3,27.0 242.4,25.8 243.0,24.0 C243.6,22.2 243.8,17.3 244.0,16.0" fill="#a11201" stroke="none"/>
<path d="M237.0,16.0 C237.2,17.3 237.4,22.2 238.0,24.0 C238.6,25.8 239.7,27.0 240.5,27.0 C241.3,27.0 242.4,25.8 243.0,24.0 C243.6,22.2 243.8,17.3 244.0,16.0" fill="none" stroke="#000" stroke-width="1.5" stroke-linejoin="round"/>
<path d="M196.2,53.6 C198.2,52.6 204.9,51.5 206.9,51.4 C208.9,51.3 207.8,51.8 208.1,53.0 C208.4,54.2 207.8,57.6 208.6,58.7 C209.3,59.8 211.2,59.8 212.6,59.8 C214.0,59.8 215.2,58.4 217.1,58.7 C219.0,59.0 221.7,60.9 223.9,61.5 C226.2,62.1 228.7,62.5 230.6,62.1 C232.5,61.7 234.5,61.0 235.1,59.3 C235.7,57.6 233.8,53.5 234.0,51.9 C234.2,50.3 234.2,50.0 236.3,49.7 C238.4,49.4 244.4,49.7 246.4,50.2 C248.4,50.8 248.3,51.2 248.1,53.0 C247.9,54.8 246.5,59.0 245.3,61.0 C244.1,63.0 244.4,64.1 240.8,64.9 C237.2,65.7 228.6,65.9 223.9,66.0 C219.2,66.1 215.1,65.9 212.6,65.5 C210.1,65.1 211.8,64.3 209.2,63.8 C206.6,63.3 199.2,63.7 196.8,62.7 C194.5,61.7 195.2,59.1 195.1,57.6 C195.0,56.1 194.2,54.6 196.2,53.6 Z" fill="#a11201" stroke="none"/>
<path d="M196.2,53.6 C198.2,52.6 204.9,51.5 206.9,51.4 C208.9,51.3 207.8,51.8 208.1,53.0 C208.4,54.2 207.8,57.6 208.6,58.7 C209.3,59.8 211.2,59.8 212.6,59.8 C214.0,59.8 215.2,58.4 217.1,58.7 C219.0,59.0 221.7,60.9 223.9,61.5 C226.2,62.1 228.7,62.5 230.6,62.1 C232.5,61.7 234.5,61.0 235.1,59.3 C235.7,57.6 233.8,53.5 234.0,51.9 C234.2,50.3 234.2,50.0 236.3,49.7 C238.4,49.4 244.4,49.7 246.4,50.2 C248.4,50.8 248.3,51.2 248.1,53.0 C247.9,54.8 246.5,59.0 245.3,61.0 C244.1,63.0 244.4,64.1 240.8,64.9 C237.2,65.7 228.6,65.9 223.9,66.0 C219.2,66.1 215.1,65.9 212.6,65.5 C210.1,65.1 211.8,64.3 209.2,63.8 C206.6,63.3 199.2,63.7 196.8,62.7 C194.5,61.7 195.2,59.1 195.1,57.6 C195.0,56.1 194.2,54.6 196.2,53.6 Z" fill="none" stroke="#000" stroke-width="1.5" stroke-linejoin="round"/>
<path d="M256.8,43.5 C256.8,43.1 257.8,42.3 258.3,42.3 C258.8,42.3 259.8,43.1 259.8,43.5 C259.8,43.9 258.8,44.7 258.3,44.7 C257.8,44.7 256.8,43.9 256.8,43.5 Z" fill="#a11201" stroke="none"/>
<path d="M256.8,43.5 C256.8,43.1 257.8,42.3 258.3,42.3 C258.8,42.3 259.8,43.1 259.8,43.5 C259.8,43.9 258.8,44.7 258.3,44.7 C257.8,44.7 256.8,43.9 256.8,43.5 Z" fill="none" stroke="#000" stroke-width="1.5" stroke-linejoin="round"/>
<path d="M273.5,50.7 C273.5,50.2 275.6,49.2 276.6,49.2 C277.6,49.2 279.5,50.2 279.5,50.7 C279.5,51.2 277.6,52.2 276.6,52.2 C275.6,52.2 273.5,51.2 273.5,50.7 Z" fill="#a11201" stroke="none"/>
<path d="M273.5,50.7 C273.5,50.2 275.6,49.2 276.6,49.2 C277.6,49.2 279.5,50.2 279.5,50.7 C279.5,51.2 277.6,52.2 276.6,52.2 C275.6,52.2 273.5,51.2 273.5,50.7 Z" fill="none" stroke="#000" stroke-width="1.5" stroke-linejoin="round"/>
<path d="M176.0,124.5 C176.7,123.8 180.4,123.0 183.0,122.8 C185.6,122.5 190.7,122.4 191.5,123.0 C192.3,123.6 190.1,125.8 188.0,126.5 C185.9,127.2 181.0,127.3 179.0,127.0 C177.0,126.7 175.3,125.2 176.0,124.5 Z" fill="#a11201" stroke="none"/>
<path d="M176.0,124.5 C176.7,123.8 180.4,123.0 183.0,122.8 C185.6,122.5 190.7,122.4 191.5,123.0 C192.3,123.6 190.1,125.8 188.0,126.5 C185.9,127.2 181.0,127.3 179.0,127.0 C177.0,126.7 175.3,125.2 176.0,124.5 Z" fill="none" stroke="#000" stroke-width="1.5" stroke-linejoin="round"/>
<path d="M45.3,80.8 C46.6,80.8 49.1,81.4 50.8,81.5 C52.5,81.6 52.6,81.5 55.6,81.5 C58.6,81.5 63.1,81.8 68.8,81.7 C74.5,81.7 84.9,81.6 90.0,81.2 C95.1,80.8 97.4,80.4 99.6,79.6 C101.8,78.8 102.8,77.7 103.3,76.4 C103.8,75.2 102.2,73.2 102.7,72.1 C103.2,70.9 104.8,70.1 106.0,69.5 C107.2,68.9 109.3,67.4 110.2,68.4 C111.1,69.4 109.5,73.9 111.5,75.6 C113.5,77.3 118.7,77.7 122.2,78.8 C125.8,79.9 130.3,80.8 132.8,82.0 C135.3,83.2 136.7,84.3 137.1,86.3 C137.5,88.2 137.5,91.9 135.0,93.7 C132.5,95.5 126.8,96.2 122.2,96.9 C117.6,97.6 111.5,96.9 107.3,98.0 C103.1,99.1 99.8,102.1 97.0,103.5 C94.2,104.9 94.1,105.2 90.2,106.5 C86.3,107.8 77.8,110.1 73.5,111.1 C69.2,112.1 67.6,112.3 64.5,112.5 C61.4,112.7 57.6,112.8 54.9,112.5 C52.1,112.2 49.8,111.9 48.0,110.4 C46.2,108.9 45.0,105.8 43.9,103.5 C42.8,101.2 41.8,98.9 41.1,96.6 C40.4,94.3 39.9,91.8 39.8,89.7 C39.7,87.6 39.8,85.6 40.4,84.2 C41.0,82.8 42.4,82.1 43.2,81.5 C44.0,80.9 44.0,80.8 45.3,80.8 Z" fill="#a11201" stroke="none"/>
<path d="M45.3,80.8 C46.6,80.8 49.1,81.4 50.8,81.5 C52.5,81.6 52.6,81.5 55.6,81.5 C58.6,81.5 63.1,81.8 68.8,81.7 C74.5,81.7 84.9,81.6 90.0,81.2 C95.1,80.8 97.4,80.4 99.6,79.6 C101.8,78.8 102.8,77.7 103.3,76.4 C103.8,75.2 102.2,73.2 102.7,72.1 C103.2,70.9 104.8,70.1 106.0,69.5 C107.2,68.9 109.3,67.4 110.2,68.4 C111.1,69.4 109.5,73.9 111.5,75.6 C113.5,77.3 118.7,77.7 122.2,78.8 C125.8,79.9 130.3,80.8 132.8,82.0 C135.3,83.2 136.7,84.3 137.1,86.3 C137.5,88.2 137.5,91.9 135.0,93.7 C132.5,95.5 126.8,96.2 122.2,96.9 C117.6,97.6 111.5,96.9 107.3,98.0 C103.1,99.1 99.8,102.1 97.0,103.5 C94.2,104.9 94.1,105.2 90.2,106.5 C86.3,107.8 77.8,110.1 73.5,111.1 C69.2,112.1 67.6,112.3 64.5,112.5 C61.4,112.7 57.6,112.8 54.9,112.5 C52.1,112.2 49.8,111.9 48.0,110.4 C46.2,108.9 45.0,105.8 43.9,103.5 C42.8,101.2 41.8,98.9 41.1,96.6 C40.4,94.3 39.9,91.8 39.8,89.7 C39.7,87.6 39.8,85.6 40.4,84.2 C41.0,82.8 42.4,82.1 43.2,81.5 C44.0,80.9 44.0,80.8 45.3,80.8 Z" fill="none" stroke="#000" stroke-width="1.5" stroke-linejoin="round"/>
<path d="M35.0,60.1 C36.5,60.3 41.7,60.7 43.9,61.5 C46.1,62.3 47.0,63.5 48.0,65.0 C49.0,66.5 49.8,68.7 50.0,70.5 C50.2,72.3 50.0,74.5 49.4,76.0 C48.8,77.5 47.3,78.6 46.6,79.4 C45.9,80.2 45.5,80.6 45.3,80.8" fill="none" stroke="#000" stroke-width="1.5" stroke-linejoin="round"/>
<path d="M217.9,81.7 C219.0,80.5 217.7,80.1 223.2,79.6 C228.7,79.1 245.1,78.5 250.9,78.5 C256.7,78.5 254.8,79.2 258.0,79.6 C261.2,80.0 266.9,81.1 270.4,81.0 C273.8,80.9 275.0,79.6 278.7,79.0 C282.4,78.4 287.1,78.3 292.4,77.6 C297.7,76.9 306.2,75.5 310.3,74.8 C314.4,74.1 315.1,73.8 317.2,73.5 C319.3,73.2 322.7,73.0 322.7,72.8 C322.7,72.6 319.9,72.8 317.2,72.1 C314.4,71.4 309.6,69.6 306.2,68.6 C302.8,67.6 298.6,66.6 296.6,65.9 C294.7,65.2 294.1,65.1 294.5,64.5 C294.9,63.9 296.7,63.0 299.3,62.4 C301.9,61.8 306.6,61.4 310.3,61.1 C314.0,60.8 318.8,60.9 321.3,60.4 C323.8,59.9 324.9,59.8 325.5,58.3 C326.1,56.8 325.0,54.1 324.8,51.4 C324.6,48.6 324.5,44.8 324.1,41.8 C323.8,38.8 322.5,35.3 322.7,33.5 C322.9,31.7 324.1,32.2 325.5,30.8 C326.9,29.4 329.9,27.8 331.0,25.3 C332.1,22.8 330.9,17.6 332.4,16.0 C333.9,14.4 338.7,1.7 340.0,16.0 C341.3,30.3 340.7,87.6 340.0,102.0 C339.3,116.4 338.8,101.8 336.0,102.6 C333.2,103.4 328.2,105.8 323.3,106.9 C318.4,108.0 311.3,108.5 306.3,109.0 C301.3,109.5 298.1,109.5 293.5,109.6 C288.9,109.7 282.5,110.0 278.6,109.6 C274.7,109.1 273.2,108.2 270.0,106.9 C266.8,105.6 262.6,103.1 259.4,101.5 C256.2,99.9 254.1,98.7 250.9,97.3 C247.7,95.9 243.8,94.2 240.2,93.0 C236.6,91.8 232.8,90.9 229.6,90.3 C226.4,89.7 223.1,89.8 221.0,89.2 C218.9,88.7 217.3,88.2 216.8,87.0 C216.3,85.8 216.8,82.9 217.9,81.7 Z" fill="#a11201" stroke="none"/>
<path d="M217.9,81.7 C219.0,80.5 217.7,80.1 223.2,79.6 C228.7,79.1 245.1,78.5 250.9,78.5 C256.7,78.5 254.8,79.2 258.0,79.6 C261.2,80.0 266.9,81.1 270.4,81.0 C273.8,80.9 275.0,79.6 278.7,79.0 C282.4,78.4 287.1,78.3 292.4,77.6 C297.7,76.9 306.2,75.5 310.3,74.8 C314.4,74.1 315.1,73.8 317.2,73.5 C319.3,73.2 322.7,73.0 322.7,72.8 C322.7,72.6 319.9,72.8 317.2,72.1 C314.4,71.4 309.6,69.6 306.2,68.6 C302.8,67.6 298.6,66.6 296.6,65.9 C294.7,65.2 294.1,65.1 294.5,64.5 C294.9,63.9 296.7,63.0 299.3,62.4 C301.9,61.8 306.6,61.4 310.3,61.1 C314.0,60.8 318.8,60.9 321.3,60.4 C323.8,59.9 324.9,59.8 325.5,58.3 C326.1,56.8 325.0,54.1 324.8,51.4 C324.6,48.6 324.5,44.8 324.1,41.8 C323.8,38.8 322.5,35.3 322.7,33.5 C322.9,31.7 324.1,32.2 325.5,30.8 C326.9,29.4 329.9,27.8 331.0,25.3 C332.1,22.8 330.9,17.6 332.4,16.0 C333.9,14.4 338.7,1.7 340.0,16.0 C341.3,30.3 340.7,87.6 340.0,102.0 C339.3,116.4 338.8,101.8 336.0,102.6 C333.2,103.4 328.2,105.8 323.3,106.9 C318.4,108.0 311.3,108.5 306.3,109.0 C301.3,109.5 298.1,109.5 293.5,109.6 C288.9,109.7 282.5,110.0 278.6,109.6 C274.7,109.1 273.2,108.2 270.0,106.9 C266.8,105.6 262.6,103.1 259.4,101.5 C256.2,99.9 254.1,98.7 250.9,97.3 C247.7,95.9 243.8,94.2 240.2,93.0 C236.6,91.8 232.8,90.9 229.6,90.3 C226.4,89.7 223.1,89.8 221.0,89.2 C218.9,88.7 217.3,88.2 216.8,87.0 C216.3,85.8 216.8,82.9 217.9,81.7 Z" fill="none" stroke="#000" stroke-width="1.5" stroke-linejoin="round"/>
<path d="M35.0,164.9 C45.8,163.1 74.7,164.5 100.0,164.2 C125.3,163.9 160.3,163.3 187.0,163.3 C213.7,163.3 234.5,163.7 260.0,164.0 C285.5,164.3 326.7,163.2 340.0,165.0 C353.3,166.8 390.8,173.3 340.0,175.0 C289.2,176.7 85.8,176.7 35.0,175.0 C-15.8,173.3 24.2,166.7 35.0,164.9 Z" fill="#a11201" stroke="none"/>
<path d="M35.0,164.9 C45.8,163.1 74.7,164.5 100.0,164.2 C125.3,163.9 160.3,163.3 187.0,163.3 C213.7,163.3 234.5,163.7 260.0,164.0 C285.5,164.3 326.7,163.2 340.0,165.0 C353.3,166.8 390.8,173.3 340.0,175.0 C289.2,176.7 85.8,176.7 35.0,175.0 C-15.8,173.3 24.2,166.7 35.0,164.9 Z" fill="none" stroke="#000" stroke-width="1.5" stroke-linejoin="round"/>
<path d="M38.3,-13.0 L38.7,-13.0 L39.2,-13.0 L39.8,-13.0 L40.5,-3.6 L41.3,8.3 L42.3,19.8 L43.5,30.4 L44.9,40.1 L46.6,49.6 L48.6,58.6 L51.1,67.7 L54.1,76.6 L57.6,85.1 L61.6,93.1 L66.1,100.6 L71.1,107.6 L77.1,114.8 L84.1,121.9 L92.1,128.8 L101.1,135.4 L111.1,141.7 L122.1,147.7 L134.1,153.5 L147.1,158.9 L161.1,164.1 L175.1,168.8 L187.5,172.5 L199.9,168.8 L213.9,164.1 L227.9,158.9 L240.9,153.5 L252.9,147.7 L263.9,141.7 L273.9,135.4 L282.9,128.8 L290.9,121.9 L297.9,114.8 L303.9,107.6 L308.9,100.6 L313.4,93.1 L317.4,85.1 L320.9,76.6 L323.9,67.7 L326.4,58.6 L328.4,49.6 L330.1,40.1 L331.5,30.4 L332.7,19.8 L333.7,8.3 L334.5,-3.6 L335.2,-13.0 L335.8,-13.0 L336.3,-13.0 L336.7,-13.0 L342.9,-13.0 L342.9,174.6 L32.1,174.6 L32.1,-13.0 Z" fill="#fff" fill-opacity="0.52" fill-rule="evenodd"/>
<path d="M38.3,-13.0 L38.7,-13.0 L39.2,-13.0 L39.8,-13.0 L40.5,-3.6 L41.3,8.3 L42.3,19.8 L43.5,30.4 L44.9,40.1 L46.6,49.6 L48.6,58.6 L51.1,67.7 L54.1,76.6 L57.6,85.1 L61.6,93.1 L66.1,100.6 L71.1,107.6 L77.1,114.8 L84.1,121.9 L92.1,128.8 L101.1,135.4 L111.1,141.7 L122.1,147.7 L134.1,153.5 L147.1,158.9 L161.1,164.1 L175.1,168.8 L187.5,172.5 L199.9,168.8 L213.9,164.1 L227.9,158.9 L240.9,153.5 L252.9,147.7 L263.9,141.7 L273.9,135.4 L282.9,128.8 L290.9,121.9 L297.9,114.8 L303.9,107.6 L308.9,100.6 L313.4,93.1 L317.4,85.1 L320.9,76.6 L323.9,67.7 L326.4,58.6 L328.4,49.6 L330.1,40.1 L331.5,30.4 L332.7,19.8 L333.7,8.3 L334.5,-3.6 L335.2,-13.0 L335.8,-13.0 L336.3,-13.0 L336.7,-13.0" fill="none" stroke="#000" stroke-width="0.7"/>
</g>
<rect x="37.1" y="17.0" width="300.79999999999995" height="152.6" fill="none" stroke="#3a3a3a" stroke-width="1.1"/>
<path d="M37.1,44.3h2.5M337.9,44.3h-2.5M37.1,73.6h2.5M337.9,73.6h-2.5M37.1,102.9h2.5M337.9,102.9h-2.5M37.1,132.2h2.5M337.9,132.2h-2.5M37.1,161.6h2.5M337.9,161.6h-2.5" stroke="#444" stroke-width="0.8" fill="none"/>
<text x="32.2" y="44.0" font-size="14.2" text-anchor="end">4</text>
<text x="32.2" y="73.3" font-size="14.2" text-anchor="end">8</text>
<text x="32.2" y="102.6" font-size="14.2" text-anchor="end">16</text>
<text x="32.2" y="131.9" font-size="14.2" text-anchor="end">32</text>
<text x="32.2" y="161.3" font-size="14.2" text-anchor="end">64</text>
<text transform="translate(12.1,134.2) rotate(-90)" font-size="14.4" textLength="90.4" lengthAdjust="spacingAndGlyphs">Period (month)</text>
<text x="56.1" y="181.8" font-size="14.2" text-anchor="middle">2001</text>
<text x="108.6" y="181.8" font-size="14.2" text-anchor="middle">2005</text>
<text x="167.9" y="181.8" font-size="14.2" text-anchor="middle">2009</text>
<text x="231.5" y="181.8" font-size="14.2" text-anchor="middle">2013</text>
<text x="294.7" y="181.8" font-size="14.2" text-anchor="middle">2017</text>
<text x="342.7" y="181.8" font-size="14.2" text-anchor="middle">2019</text>
<text x="101.6" y="13.8" font-size="14.6" textLength="176.4" lengthAdjust="spacingAndGlyphs">(a) AMO-TNA-EP/NP-DPC1</text>
<g clip-path="url(#cp1)">
<rect x="378.1" y="16.9" width="299.69999999999993" height="152.29999999999998" fill="#f05b12"/>
<g filter="url(#bl)">
<rect x="374.1" y="7.38" width="307.69999999999993" height="10.02" fill="url(#g1_0)"/>
<rect x="374.1" y="16.90" width="307.69999999999993" height="10.02" fill="url(#g1_1)"/>
<rect x="374.1" y="26.42" width="307.69999999999993" height="10.02" fill="url(#g1_2)"/>
<rect x="374.1" y="35.94" width="307.69999999999993" height="10.02" fill="url(#g1_3)"/>
<rect x="374.1" y="45.46" width="307.69999999999993" height="10.02" fill="url(#g1_4)"/>
<rect x="374.1" y="54.97" width="307.69999999999993" height="10.02" fill="url(#g1_5)"/>
<rect x="374.1" y="64.49" width="307.69999999999993" height="10.02" fill="url(#g1_6)"/>
<rect x="374.1" y="74.01" width="307.69999999999993" height="10.02" fill="url(#g1_7)"/>
<rect x="374.1" y="83.53" width="307.69999999999993" height="10.02" fill="url(#g1_8)"/>
<rect x="374.1" y="93.05" width="307.69999999999993" height="10.02" fill="url(#g1_9)"/>
<rect x="374.1" y="102.57" width="307.69999999999993" height="10.02" fill="url(#g1_10)"/>
<rect x="374.1" y="112.09" width="307.69999999999993" height="10.02" fill="url(#g1_11)"/>
<rect x="374.1" y="121.61" width="307.69999999999993" height="10.02" fill="url(#g1_12)"/>
<rect x="374.1" y="131.12" width="307.69999999999993" height="10.02" fill="url(#g1_13)"/>
<rect x="374.1" y="140.64" width="307.69999999999993" height="10.02" fill="url(#g1_14)"/>
<rect x="374.1" y="150.16" width="307.69999999999993" height="10.02" fill="url(#g1_15)"/>
<rect x="374.1" y="159.68" width="307.69999999999993" height="10.02" fill="url(#g1_16)"/>
<rect x="374.1" y="169.20" width="307.69999999999993" height="10.02" fill="url(#g1_17)"/>
</g>
<path d="M407.5,15.0 C405.8,16.2 408.1,20.0 409.0,22.0 C409.9,24.0 411.5,25.5 413.0,27.0 C414.5,28.5 416.4,30.2 418.0,31.0 C419.6,31.8 421.6,32.2 422.5,31.5 C423.4,30.8 423.8,28.8 423.5,27.0 C423.2,25.2 421.7,23.0 421.0,21.0 C420.3,19.0 421.8,16.0 419.5,15.0 C417.2,14.0 409.2,13.8 407.5,15.0 Z" fill="#a11201" stroke="none"/>
<path d="M407.5,15.0 C405.8,16.2 408.1,20.0 409.0,22.0 C409.9,24.0 411.5,25.5 413.0,27.0 C414.5,28.5 416.4,30.2 418.0,31.0 C419.6,31.8 421.6,32.2 422.5,31.5 C423.4,30.8 423.8,28.8 423.5,27.0 C423.2,25.2 421.7,23.0 421.0,21.0 C420.3,19.0 421.8,16.0 419.5,15.0 C417.2,14.0 409.2,13.8 407.5,15.0 Z" fill="none" stroke="#000" stroke-width="1.5" stroke-linejoin="round"/>
<path d="M399.0,40.0 C399.8,38.3 401.8,37.7 403.0,38.0 C404.2,38.3 405.4,40.0 406.0,42.0 C406.6,44.0 406.7,47.8 406.5,50.0 C406.3,52.2 406.1,54.5 405.0,55.5 C403.9,56.5 401.1,57.2 400.0,56.0 C398.9,54.8 398.7,50.7 398.5,48.0 C398.3,45.3 398.2,41.7 399.0,40.0 Z" fill="#a11201" stroke="none"/>
<path d="M399.0,40.0 C399.8,38.3 401.8,37.7 403.0,38.0 C404.2,38.3 405.4,40.0 406.0,42.0 C406.6,44.0 406.7,47.8 406.5,50.0 C406.3,52.2 406.1,54.5 405.0,55.5 C403.9,56.5 401.1,57.2 400.0,56.0 C398.9,54.8 398.7,50.7 398.5,48.0 C398.3,45.3 398.2,41.7 399.0,40.0 Z" fill="none" stroke="#000" stroke-width="1.5" stroke-linejoin="round"/>
<path d="M451.5,46.5 C451.5,47.5 451.2,48.6 450.6,49.4 C450.1,50.2 449.2,51.0 448.4,51.3 C447.6,51.6 446.4,51.6 445.6,51.3 C444.8,51.0 443.9,50.2 443.4,49.4 C442.8,48.6 442.5,47.5 442.5,46.5 C442.5,45.5 442.8,44.4 443.4,43.6 C443.9,42.8 444.8,42.0 445.6,41.7 C446.4,41.4 447.6,41.4 448.4,41.7 C449.2,42.0 450.1,42.8 450.6,43.6 C451.2,44.4 451.5,45.5 451.5,46.5 Z" fill="#a11201" stroke="none"/>
<path d="M451.5,46.5 C451.5,47.5 451.2,48.6 450.6,49.4 C450.1,50.2 449.2,51.0 448.4,51.3 C447.6,51.6 446.4,51.6 445.6,51.3 C444.8,51.0 443.9,50.2 443.4,49.4 C442.8,48.6 442.5,47.5 442.5,46.5 C442.5,45.5 442.8,44.4 443.4,43.6 C443.9,42.8 444.8,42.0 445.6,41.7 C446.4,41.4 447.6,41.4 448.4,41.7 C449.2,42.0 450.1,42.8 450.6,43.6 C451.2,44.4 451.5,45.5 451.5,46.5 Z" fill="none" stroke="#000" stroke-width="1.5" stroke-linejoin="round"/>
<path d="M571.5,15.0 C570.7,16.3 572.0,20.9 572.5,23.0 C573.0,25.1 573.8,27.3 574.5,27.5 C575.2,27.7 576.5,26.1 577.0,24.0 C577.5,21.9 578.4,16.5 577.5,15.0 C576.6,13.5 572.3,13.7 571.5,15.0 Z" fill="#a11201" stroke="none"/>
<path d="M571.5,15.0 C570.7,16.3 572.0,20.9 572.5,23.0 C573.0,25.1 573.8,27.3 574.5,27.5 C575.2,27.7 576.5,26.1 577.0,24.0 C577.5,21.9 578.4,16.5 577.5,15.0 C576.6,13.5 572.3,13.7 571.5,15.0 Z" fill="none" stroke="#000" stroke-width="1.5" stroke-linejoin="round"/>
<path d="M590.1,34.5 C589.9,34.9 589.4,35.2 588.8,35.3 C588.3,35.5 587.5,35.4 586.9,35.2 C586.3,35.0 585.5,34.6 585.0,34.2 C584.5,33.8 584.0,33.1 583.9,32.6 C583.7,32.1 583.7,31.5 583.9,31.1 C584.1,30.7 584.6,30.4 585.2,30.3 C585.7,30.1 586.5,30.2 587.1,30.4 C587.7,30.6 588.5,31.0 589.0,31.4 C589.5,31.8 590.0,32.5 590.1,33.0 C590.3,33.5 590.3,34.1 590.1,34.5 Z" fill="#a11201" stroke="none"/>
<path d="M590.1,34.5 C589.9,34.9 589.4,35.2 588.8,35.3 C588.3,35.5 587.5,35.4 586.9,35.2 C586.3,35.0 585.5,34.6 585.0,34.2 C584.5,33.8 584.0,33.1 583.9,32.6 C583.7,32.1 583.7,31.5 583.9,31.1 C584.1,30.7 584.6,30.4 585.2,30.3 C585.7,30.1 586.5,30.2 587.1,30.4 C587.7,30.6 588.5,31.0 589.0,31.4 C589.5,31.8 590.0,32.5 590.1,33.0 C590.3,33.5 590.3,34.1 590.1,34.5 Z" fill="none" stroke="#000" stroke-width="1.5" stroke-linejoin="round"/>
<path d="M558.0,49.0 C559.0,48.4 561.8,48.0 563.0,48.5 C564.2,49.0 565.1,50.4 565.5,52.0 C565.9,53.6 565.8,56.2 565.5,58.0 C565.2,59.8 564.9,61.6 564.0,63.0 C563.1,64.4 561.5,66.0 560.0,66.5 C558.5,67.0 555.9,66.8 555.0,66.0 C554.1,65.2 554.2,63.5 554.5,62.0 C554.8,60.5 556.6,58.7 557.0,57.0 C557.4,55.3 556.8,53.3 557.0,52.0 C557.2,50.7 557.0,49.6 558.0,49.0 Z" fill="#a11201" stroke="none"/>
<path d="M558.0,49.0 C559.0,48.4 561.8,48.0 563.0,48.5 C564.2,49.0 565.1,50.4 565.5,52.0 C565.9,53.6 565.8,56.2 565.5,58.0 C565.2,59.8 564.9,61.6 564.0,63.0 C563.1,64.4 561.5,66.0 560.0,66.5 C558.5,67.0 555.9,66.8 555.0,66.0 C554.1,65.2 554.2,63.5 554.5,62.0 C554.8,60.5 556.6,58.7 557.0,57.0 C557.4,55.3 556.8,53.3 557.0,52.0 C557.2,50.7 557.0,49.6 558.0,49.0 Z" fill="none" stroke="#000" stroke-width="1.5" stroke-linejoin="round"/>
<path d="M586.5,63.5 C586.5,64.3 586.0,65.2 585.3,65.9 C584.5,66.5 583.2,67.1 582.0,67.3 C580.8,67.5 579.2,67.5 578.0,67.3 C576.8,67.1 575.5,66.5 574.7,65.9 C574.0,65.2 573.5,64.3 573.5,63.5 C573.5,62.7 574.0,61.8 574.7,61.1 C575.5,60.5 576.8,59.9 578.0,59.7 C579.2,59.5 580.8,59.5 582.0,59.7 C583.2,59.9 584.5,60.5 585.3,61.1 C586.0,61.8 586.5,62.7 586.5,63.5 Z" fill="#a11201" stroke="none"/>
<path d="M586.5,63.5 C586.5,64.3 586.0,65.2 585.3,65.9 C584.5,66.5 583.2,67.1 582.0,67.3 C580.8,67.5 579.2,67.5 578.0,67.3 C576.8,67.1 575.5,66.5 574.7,65.9 C574.0,65.2 573.5,64.3 573.5,63.5 C573.5,62.7 574.0,61.8 574.7,61.1 C575.5,60.5 576.8,59.9 578.0,59.7 C579.2,59.5 580.8,59.5 582.0,59.7 C583.2,59.9 584.5,60.5 585.3,61.1 C586.0,61.8 586.5,62.7 586.5,63.5 Z" fill="none" stroke="#000" stroke-width="1.5" stroke-linejoin="round"/>
<path d="M673.5,31.5 C673.5,32.1 673.3,32.8 673.0,33.3 C672.7,33.7 672.2,34.2 671.8,34.4 C671.3,34.5 670.7,34.5 670.2,34.4 C669.8,34.2 669.3,33.7 669.0,33.3 C668.7,32.8 668.5,32.1 668.5,31.5 C668.5,30.9 668.7,30.2 669.0,29.7 C669.3,29.3 669.8,28.8 670.2,28.6 C670.7,28.5 671.3,28.5 671.8,28.6 C672.2,28.8 672.7,29.3 673.0,29.7 C673.3,30.2 673.5,30.9 673.5,31.5 Z" fill="#a11201" stroke="none"/>
<path d="M673.5,31.5 C673.5,32.1 673.3,32.8 673.0,33.3 C672.7,33.7 672.2,34.2 671.8,34.4 C671.3,34.5 670.7,34.5 670.2,34.4 C669.8,34.2 669.3,33.7 669.0,33.3 C668.7,32.8 668.5,32.1 668.5,31.5 C668.5,30.9 668.7,30.2 669.0,29.7 C669.3,29.3 669.8,28.8 670.2,28.6 C670.7,28.5 671.3,28.5 671.8,28.6 C672.2,28.8 672.7,29.3 673.0,29.7 C673.3,30.2 673.5,30.9 673.5,31.5 Z" fill="none" stroke="#000" stroke-width="1.5" stroke-linejoin="round"/>
<path d="M681.0,64.4 C679.1,59.3 672.0,63.3 669.6,62.3 C667.2,61.2 668.2,58.8 666.4,58.1 C664.6,57.4 662.0,57.0 659.0,58.1 C656.0,59.2 652.0,62.8 648.5,64.4 C645.0,66.0 640.1,66.4 638.0,67.6 C635.9,68.8 636.1,70.4 635.9,71.8 C635.7,73.2 637.2,74.6 637.0,76.0 C636.8,77.4 634.8,78.8 634.8,80.2 C634.8,81.6 635.1,83.2 637.0,84.4 C638.9,85.6 643.4,86.7 646.4,87.6 C649.4,88.5 652.7,89.0 654.8,89.7 C656.9,90.4 656.9,90.9 659.0,91.8 C661.1,92.7 665.4,93.6 667.5,95.0 C669.6,96.4 670.3,99.9 671.7,100.2 C673.1,100.5 674.4,98.3 675.9,97.1 C677.4,95.9 680.1,98.4 681.0,92.9 C681.9,87.5 682.9,69.5 681.0,64.4 Z" fill="#a11201" stroke="none"/>
<path d="M681.0,64.4 C679.1,59.3 672.0,63.3 669.6,62.3 C667.2,61.2 668.2,58.8 666.4,58.1 C664.6,57.4 662.0,57.0 659.0,58.1 C656.0,59.2 652.0,62.8 648.5,64.4 C645.0,66.0 640.1,66.4 638.0,67.6 C635.9,68.8 636.1,70.4 635.9,71.8 C635.7,73.2 637.2,74.6 637.0,76.0 C636.8,77.4 634.8,78.8 634.8,80.2 C634.8,81.6 635.1,83.2 637.0,84.4 C638.9,85.6 643.4,86.7 646.4,87.6 C649.4,88.5 652.7,89.0 654.8,89.7 C656.9,90.4 656.9,90.9 659.0,91.8 C661.1,92.7 665.4,93.6 667.5,95.0 C669.6,96.4 670.3,99.9 671.7,100.2 C673.1,100.5 674.4,98.3 675.9,97.1 C677.4,95.9 680.1,98.4 681.0,92.9 C681.9,87.5 682.9,69.5 681.0,64.4 Z" fill="none" stroke="#000" stroke-width="1.5" stroke-linejoin="round"/>
<path d="M629.5,88.6 C629.5,88.9 629.2,89.2 628.8,89.5 C628.4,89.7 627.7,89.9 627.1,90.0 C626.4,90.1 625.6,90.1 624.9,90.0 C624.3,89.9 623.6,89.7 623.2,89.5 C622.8,89.2 622.5,88.9 622.5,88.6 C622.5,88.3 622.8,88.0 623.2,87.7 C623.6,87.5 624.3,87.3 624.9,87.2 C625.6,87.1 626.4,87.1 627.1,87.2 C627.7,87.3 628.4,87.5 628.8,87.7 C629.2,88.0 629.5,88.3 629.5,88.6 Z" fill="#a11201" stroke="none"/>
<path d="M629.5,88.6 C629.5,88.9 629.2,89.2 628.8,89.5 C628.4,89.7 627.7,89.9 627.1,90.0 C626.4,90.1 625.6,90.1 624.9,90.0 C624.3,89.9 623.6,89.7 623.2,89.5 C622.8,89.2 622.5,88.9 622.5,88.6 C622.5,88.3 622.8,88.0 623.2,87.7 C623.6,87.5 624.3,87.3 624.9,87.2 C625.6,87.1 626.4,87.1 627.1,87.2 C627.7,87.3 628.4,87.5 628.8,87.7 C629.2,88.0 629.5,88.3 629.5,88.6 Z" fill="none" stroke="#000" stroke-width="1.5" stroke-linejoin="round"/>
<path d="M579.0,97.0 C579.0,96.3 582.8,95.5 585.0,95.3 C587.2,95.1 589.8,95.6 592.0,96.0 C594.2,96.4 597.7,96.9 598.0,97.5 C598.3,98.1 596.2,99.2 594.0,99.5 C591.8,99.8 587.5,99.6 585.0,99.2 C582.5,98.8 579.0,97.7 579.0,97.0 Z" fill="#a11201" stroke="none"/>
<path d="M579.0,97.0 C579.0,96.3 582.8,95.5 585.0,95.3 C587.2,95.1 589.8,95.6 592.0,96.0 C594.2,96.4 597.7,96.9 598.0,97.5 C598.3,98.1 596.2,99.2 594.0,99.5 C591.8,99.8 587.5,99.6 585.0,99.2 C582.5,98.8 579.0,97.7 579.0,97.0 Z" fill="none" stroke="#000" stroke-width="1.5" stroke-linejoin="round"/>
<path d="M385.4,126.7 C385.2,125.4 385.2,123.3 387.5,122.3 C389.8,121.3 393.4,121.0 399.2,120.8 C405.0,120.6 415.3,121.2 422.4,121.3 C429.4,121.4 434.8,121.5 441.5,121.3 C448.2,121.1 455.6,120.9 462.6,120.2 C469.7,119.5 476.7,118.1 483.8,117.0 C490.9,115.9 499.4,114.1 505.0,113.7 C510.6,113.3 515.3,113.7 517.6,114.8 C519.9,115.9 517.3,118.8 518.7,120.2 C520.1,121.6 522.3,122.7 526.0,123.4 C529.7,124.2 537.0,124.1 540.7,124.7 C544.4,125.3 547.3,126.0 548.0,126.8 C548.7,127.6 546.9,128.9 545.0,129.4 C543.1,129.9 539.3,129.8 536.5,130.0 C533.7,130.2 535.8,130.1 528.0,130.5 C520.2,130.9 504.4,132.1 490.0,132.5 C475.6,132.9 450.7,132.8 441.5,133.1 C432.3,133.4 442.8,134.5 435.0,134.2 C427.2,133.8 402.7,131.7 395.0,131.0 C387.3,130.3 390.2,130.7 388.6,130.0 C387.0,129.3 385.6,128.0 385.4,126.7 Z" fill="#a11201" stroke="none"/>
<path d="M385.4,126.7 C385.2,125.4 385.2,123.3 387.5,122.3 C389.8,121.3 393.4,121.0 399.2,120.8 C405.0,120.6 415.3,121.2 422.4,121.3 C429.4,121.4 434.8,121.5 441.5,121.3 C448.2,121.1 455.6,120.9 462.6,120.2 C469.7,119.5 476.7,118.1 483.8,117.0 C490.9,115.9 499.4,114.1 505.0,113.7 C510.6,113.3 515.3,113.7 517.6,114.8 C519.9,115.9 517.3,118.8 518.7,120.2 C520.1,121.6 522.3,122.7 526.0,123.4 C529.7,124.2 537.0,124.1 540.7,124.7 C544.4,125.3 547.3,126.0 548.0,126.8 C548.7,127.6 546.9,128.9 545.0,129.4 C543.1,129.9 539.3,129.8 536.5,130.0 C533.7,130.2 535.8,130.1 528.0,130.5 C520.2,130.9 504.4,132.1 490.0,132.5 C475.6,132.9 450.7,132.8 441.5,133.1 C432.3,133.4 442.8,134.5 435.0,134.2 C427.2,133.8 402.7,131.7 395.0,131.0 C387.3,130.3 390.2,130.7 388.6,130.0 C387.0,129.3 385.6,128.0 385.4,126.7 Z" fill="none" stroke="#000" stroke-width="1.5" stroke-linejoin="round"/>
<path d="M376.0,156.5 C385.0,153.5 412.7,156.8 430.0,157.0 C447.3,157.2 463.3,157.0 479.6,157.5 C495.9,158.0 513.6,159.6 528.0,160.0 C542.4,160.4 550.7,160.3 566.0,160.2 C581.3,160.1 600.8,159.8 620.0,159.5 C639.2,159.2 670.8,155.7 681.0,158.3 C691.2,160.9 731.8,172.2 681.0,175.0 C630.2,177.8 426.8,178.1 376.0,175.0 C325.2,171.9 367.0,159.5 376.0,156.5 Z" fill="#a11201" stroke="none"/>
<path d="M376.0,156.5 C385.0,153.5 412.7,156.8 430.0,157.0 C447.3,157.2 463.3,157.0 479.6,157.5 C495.9,158.0 513.6,159.6 528.0,160.0 C542.4,160.4 550.7,160.3 566.0,160.2 C581.3,160.1 600.8,159.8 620.0,159.5 C639.2,159.2 670.8,155.7 681.0,158.3 C691.2,160.9 731.8,172.2 681.0,175.0 C630.2,177.8 426.8,178.1 376.0,175.0 C325.2,171.9 367.0,159.5 376.0,156.5 Z" fill="none" stroke="#000" stroke-width="1.5" stroke-linejoin="round"/>
<path d="M376.0,64.0 C376.8,63.9 379.6,63.0 381.0,63.5 C382.4,64.0 384.0,65.4 384.5,67.0 C385.0,68.6 384.8,71.5 384.0,73.0 C383.2,74.5 381.3,75.5 380.0,76.0 C378.7,76.5 376.7,76.0 376.0,76.0" fill="none" stroke="#000" stroke-width="1.5" stroke-linejoin="round"/>
<path d="M379.3,-13.1 L379.7,-13.1 L380.2,-13.1 L380.8,-13.1 L381.5,-3.7 L382.3,8.2 L383.3,19.7 L384.5,30.3 L385.9,40.0 L387.6,49.5 L389.6,58.5 L392.1,67.6 L395.1,76.5 L398.6,85.0 L402.6,93.0 L407.1,100.5 L412.1,107.5 L418.1,114.7 L425.1,121.8 L433.1,128.7 L442.1,135.3 L452.1,141.6 L463.1,147.6 L475.1,153.4 L488.1,158.8 L502.1,164.0 L516.1,168.7 L528.0,172.2 L539.8,168.7 L553.8,164.0 L567.8,158.8 L580.8,153.4 L592.8,147.6 L603.8,141.6 L613.8,135.3 L622.8,128.7 L630.8,121.8 L637.8,114.7 L643.8,107.5 L648.8,100.5 L653.3,93.0 L657.3,85.0 L660.8,76.5 L663.8,67.6 L666.3,58.5 L668.3,49.5 L670.0,40.0 L671.4,30.3 L672.6,19.7 L673.6,8.2 L674.4,-3.7 L675.1,-13.1 L675.7,-13.1 L676.2,-13.1 L676.6,-13.1 L682.8,-13.100000000000001 L682.8,174.2 L373.1,174.2 L373.1,-13.100000000000001 Z" fill="#fff" fill-opacity="0.52" fill-rule="evenodd"/>
<path d="M379.3,-13.1 L379.7,-13.1 L380.2,-13.1 L380.8,-13.1 L381.5,-3.7 L382.3,8.2 L383.3,19.7 L384.5,30.3 L385.9,40.0 L387.6,49.5 L389.6,58.5 L392.1,67.6 L395.1,76.5 L398.6,85.0 L402.6,93.0 L407.1,100.5 L412.1,107.5 L418.1,114.7 L425.1,121.8 L433.1,128.7 L442.1,135.3 L452.1,141.6 L463.1,147.6 L475.1,153.4 L488.1,158.8 L502.1,164.0 L516.1,168.7 L528.0,172.2 L539.8,168.7 L553.8,164.0 L567.8,158.8 L580.8,153.4 L592.8,147.6 L603.8,141.6 L613.8,135.3 L622.8,128.7 L630.8,121.8 L637.8,114.7 L643.8,107.5 L648.8,100.5 L653.3,93.0 L657.3,85.0 L660.8,76.5 L663.8,67.6 L666.3,58.5 L668.3,49.5 L670.0,40.0 L671.4,30.3 L672.6,19.7 L673.6,8.2 L674.4,-3.7 L675.1,-13.1 L675.7,-13.1 L676.2,-13.1 L676.6,-13.1" fill="none" stroke="#000" stroke-width="0.7"/>
</g>
<rect x="378.1" y="16.9" width="299.69999999999993" height="152.29999999999998" fill="none" stroke="#3a3a3a" stroke-width="1.1"/>
<path d="M378.1,45.6h2.5M677.8,45.6h-2.5M378.1,75.6h2.5M677.8,75.6h-2.5M378.1,105.0h2.5M677.8,105.0h-2.5M378.1,134.3h2.5M677.8,134.3h-2.5M378.1,164.0h2.5M677.8,164.0h-2.5" stroke="#444" stroke-width="0.8" fill="none"/>
<text x="372.2" y="45.3" font-size="14.2" text-anchor="end">4</text>
<text x="372.2" y="75.3" font-size="14.2" text-anchor="end">8</text>
<text x="372.2" y="104.7" font-size="14.2" text-anchor="end">16</text>
<text x="372.2" y="134.0" font-size="14.2" text-anchor="end">32</text>
<text x="372.2" y="163.7" font-size="14.2" text-anchor="end">64</text>
<text transform="translate(351.3,135.9) rotate(-90)" font-size="14.4" textLength="90.4" lengthAdjust="spacingAndGlyphs">Period (month)</text>
<text x="393.2" y="181.8" font-size="14.2" text-anchor="middle">2001</text>
<text x="445.6" y="181.8" font-size="14.2" text-anchor="middle">2005</text>
<text x="504.3" y="181.8" font-size="14.2" text-anchor="middle">2009</text>
<text x="568.2" y="181.8" font-size="14.2" text-anchor="middle">2013</text>
<text x="631.3" y="181.8" font-size="14.2" text-anchor="middle">2017</text>
<text x="679.6" y="181.8" font-size="14.2" text-anchor="middle">2019</text>
<text x="443.9" y="13.8" font-size="14.6" textLength="163.9" lengthAdjust="spacingAndGlyphs">(b) PNA-EA-EP/NP-DPC2</text>
<g clip-path="url(#cp2)">
<rect x="37.0" y="196.3" width="300.8" height="151.89999999999998" fill="#f05b12"/>
<g filter="url(#bl)">
<rect x="33.0" y="186.81" width="308.8" height="9.99" fill="url(#g2_0)"/>
<rect x="33.0" y="196.30" width="308.8" height="9.99" fill="url(#g2_1)"/>
<rect x="33.0" y="205.79" width="308.8" height="9.99" fill="url(#g2_2)"/>
<rect x="33.0" y="215.29" width="308.8" height="9.99" fill="url(#g2_3)"/>
<rect x="33.0" y="224.78" width="308.8" height="9.99" fill="url(#g2_4)"/>
<rect x="33.0" y="234.28" width="308.8" height="9.99" fill="url(#g2_5)"/>
<rect x="33.0" y="243.77" width="308.8" height="9.99" fill="url(#g2_6)"/>
<rect x="33.0" y="253.26" width="308.8" height="9.99" fill="url(#g2_7)"/>
<rect x="33.0" y="262.76" width="308.8" height="9.99" fill="url(#g2_8)"/>
<rect x="33.0" y="272.25" width="308.8" height="9.99" fill="url(#g2_9)"/>
<rect x="33.0" y="281.74" width="308.8" height="9.99" fill="url(#g2_10)"/>
<rect x="33.0" y="291.24" width="308.8" height="9.99" fill="url(#g2_11)"/>
<rect x="33.0" y="300.73" width="308.8" height="9.99" fill="url(#g2_12)"/>
<rect x="33.0" y="310.23" width="308.8" height="9.99" fill="url(#g2_13)"/>
<rect x="33.0" y="319.72" width="308.8" height="9.99" fill="url(#g2_14)"/>
<rect x="33.0" y="329.21" width="308.8" height="9.99" fill="url(#g2_15)"/>
<rect x="33.0" y="338.71" width="308.8" height="9.99" fill="url(#g2_16)"/>
<rect x="33.0" y="348.20" width="308.8" height="9.99" fill="url(#g2_17)"/>
</g>
<g filter="url(#bl2)">
<rect x="37" y="315.9" width="301" height="7.2" fill="#efcd3a"/>
<rect x="37" y="317.7" width="68" height="3.6" fill="#b1f936"/>
<rect x="105" y="317.7" width="67" height="3.6" fill="#35f394"/>
</g>
<path d="M96.5,198.0 C97.6,197.1 100.0,196.7 101.0,197.5 C102.0,198.3 102.4,200.6 102.5,203.0 C102.6,205.4 102.1,208.8 101.5,212.0 C100.9,215.2 99.9,219.4 99.0,222.0 C98.1,224.6 97.0,227.2 96.0,227.5 C95.0,227.8 93.5,226.6 93.0,224.0 C92.5,221.4 92.8,215.5 93.0,212.0 C93.2,208.5 93.9,205.3 94.5,203.0 C95.1,200.7 95.4,198.9 96.5,198.0 Z" fill="#a11201" stroke="none"/>
<path d="M96.5,198.0 C97.6,197.1 100.0,196.7 101.0,197.5 C102.0,198.3 102.4,200.6 102.5,203.0 C102.6,205.4 102.1,208.8 101.5,212.0 C100.9,215.2 99.9,219.4 99.0,222.0 C98.1,224.6 97.0,227.2 96.0,227.5 C95.0,227.8 93.5,226.6 93.0,224.0 C92.5,221.4 92.8,215.5 93.0,212.0 C93.2,208.5 93.9,205.3 94.5,203.0 C95.1,200.7 95.4,198.9 96.5,198.0 Z" fill="none" stroke="#000" stroke-width="1.5" stroke-linejoin="round"/>
<path d="M107.0,211.0 C107.8,209.3 110.3,207.1 112.0,206.0 C113.7,204.9 115.9,204.0 117.0,204.5 C118.1,205.0 118.3,206.8 118.5,209.0 C118.7,211.2 118.3,215.3 118.0,218.0 C117.7,220.7 117.3,223.8 116.5,225.0 C115.7,226.2 114.2,226.3 113.0,225.5 C111.8,224.7 109.9,221.6 109.0,220.0 C108.1,218.4 107.8,217.5 107.5,216.0 C107.2,214.5 106.2,212.7 107.0,211.0 Z" fill="#a11201" stroke="none"/>
<path d="M107.0,211.0 C107.8,209.3 110.3,207.1 112.0,206.0 C113.7,204.9 115.9,204.0 117.0,204.5 C118.1,205.0 118.3,206.8 118.5,209.0 C118.7,211.2 118.3,215.3 118.0,218.0 C117.7,220.7 117.3,223.8 116.5,225.0 C115.7,226.2 114.2,226.3 113.0,225.5 C111.8,224.7 109.9,221.6 109.0,220.0 C108.1,218.4 107.8,217.5 107.5,216.0 C107.2,214.5 106.2,212.7 107.0,211.0 Z" fill="none" stroke="#000" stroke-width="1.5" stroke-linejoin="round"/>
<path d="M126.0,194.0 C124.6,195.2 126.2,199.1 127.0,201.0 C127.8,202.9 129.7,205.2 131.0,205.5 C132.3,205.8 134.2,204.9 135.0,203.0 C135.8,201.1 137.0,195.5 135.5,194.0 C134.0,192.5 127.4,192.8 126.0,194.0 Z" fill="#a11201" stroke="none"/>
<path d="M126.0,194.0 C124.6,195.2 126.2,199.1 127.0,201.0 C127.8,202.9 129.7,205.2 131.0,205.5 C132.3,205.8 134.2,204.9 135.0,203.0 C135.8,201.1 137.0,195.5 135.5,194.0 C134.0,192.5 127.4,192.8 126.0,194.0 Z" fill="none" stroke="#000" stroke-width="1.5" stroke-linejoin="round"/>
<path d="M164.5,216.0 C164.7,214.7 166.8,213.2 168.0,213.0 C169.2,212.8 170.5,214.0 172.0,215.0 C173.5,216.0 175.6,217.7 177.0,219.0 C178.4,220.3 180.3,221.9 180.5,223.0 C180.7,224.1 179.4,225.2 178.0,225.5 C176.6,225.8 173.8,225.8 172.0,225.0 C170.2,224.2 168.2,222.5 167.0,221.0 C165.8,219.5 164.3,217.3 164.5,216.0 Z" fill="#a11201" stroke="none"/>
<path d="M164.5,216.0 C164.7,214.7 166.8,213.2 168.0,213.0 C169.2,212.8 170.5,214.0 172.0,215.0 C173.5,216.0 175.6,217.7 177.0,219.0 C178.4,220.3 180.3,221.9 180.5,223.0 C180.7,224.1 179.4,225.2 178.0,225.5 C176.6,225.8 173.8,225.8 172.0,225.0 C170.2,224.2 168.2,222.5 167.0,221.0 C165.8,219.5 164.3,217.3 164.5,216.0 Z" fill="none" stroke="#000" stroke-width="1.5" stroke-linejoin="round"/>
<path d="M35.0,222.0 C36.8,217.1 43.0,221.4 45.5,221.0 C48.0,220.6 48.1,219.5 50.0,219.5 C51.9,219.5 55.2,219.9 57.0,221.0 C58.8,222.1 60.1,224.0 61.0,226.0 C61.9,228.0 62.7,231.0 62.5,233.0 C62.3,235.0 61.2,236.3 60.0,238.0 C58.8,239.7 56.3,241.2 55.0,243.0 C53.7,244.8 53.7,247.8 52.0,249.0 C50.3,250.2 47.8,249.8 45.0,250.0 C42.2,250.2 36.7,255.2 35.0,250.5 C33.3,245.8 33.2,226.9 35.0,222.0 Z" fill="#a11201" stroke="none"/>
<path d="M35.0,222.0 C36.8,217.1 43.0,221.4 45.5,221.0 C48.0,220.6 48.1,219.5 50.0,219.5 C51.9,219.5 55.2,219.9 57.0,221.0 C58.8,222.1 60.1,224.0 61.0,226.0 C61.9,228.0 62.7,231.0 62.5,233.0 C62.3,235.0 61.2,236.3 60.0,238.0 C58.8,239.7 56.3,241.2 55.0,243.0 C53.7,244.8 53.7,247.8 52.0,249.0 C50.3,250.2 47.8,249.8 45.0,250.0 C42.2,250.2 36.7,255.2 35.0,250.5 C33.3,245.8 33.2,226.9 35.0,222.0 Z" fill="none" stroke="#000" stroke-width="1.5" stroke-linejoin="round"/>
<path d="M76.0,229.4 C76.0,229.6 75.8,229.9 75.6,230.1 C75.4,230.3 75.0,230.5 74.6,230.5 C74.2,230.6 73.8,230.6 73.4,230.5 C73.0,230.5 72.6,230.3 72.4,230.1 C72.2,229.9 72.0,229.6 72.0,229.4 C72.0,229.2 72.2,228.9 72.4,228.7 C72.6,228.5 73.0,228.3 73.4,228.3 C73.8,228.2 74.2,228.2 74.6,228.3 C75.0,228.3 75.4,228.5 75.6,228.7 C75.8,228.9 76.0,229.2 76.0,229.4 Z" fill="#a11201" stroke="none"/>
<path d="M76.0,229.4 C76.0,229.6 75.8,229.9 75.6,230.1 C75.4,230.3 75.0,230.5 74.6,230.5 C74.2,230.6 73.8,230.6 73.4,230.5 C73.0,230.5 72.6,230.3 72.4,230.1 C72.2,229.9 72.0,229.6 72.0,229.4 C72.0,229.2 72.2,228.9 72.4,228.7 C72.6,228.5 73.0,228.3 73.4,228.3 C73.8,228.2 74.2,228.2 74.6,228.3 C75.0,228.3 75.4,228.5 75.6,228.7 C75.8,228.9 76.0,229.2 76.0,229.4 Z" fill="none" stroke="#000" stroke-width="1.5" stroke-linejoin="round"/>
<path d="M190.0,203.0 C190.0,204.0 189.8,205.1 189.4,205.9 C189.1,206.7 188.5,207.5 187.9,207.8 C187.4,208.1 186.6,208.1 186.1,207.8 C185.5,207.5 184.9,206.7 184.6,205.9 C184.2,205.1 184.0,204.0 184.0,203.0 C184.0,202.0 184.2,200.9 184.6,200.1 C184.9,199.3 185.5,198.5 186.1,198.2 C186.6,197.9 187.4,197.9 187.9,198.2 C188.5,198.5 189.1,199.3 189.4,200.1 C189.8,200.9 190.0,202.0 190.0,203.0 Z" fill="#a11201" stroke="none"/>
<path d="M190.0,203.0 C190.0,204.0 189.8,205.1 189.4,205.9 C189.1,206.7 188.5,207.5 187.9,207.8 C187.4,208.1 186.6,208.1 186.1,207.8 C185.5,207.5 184.9,206.7 184.6,205.9 C184.2,205.1 184.0,204.0 184.0,203.0 C184.0,202.0 184.2,200.9 184.6,200.1 C184.9,199.3 185.5,198.5 186.1,198.2 C186.6,197.9 187.4,197.9 187.9,198.2 C188.5,198.5 189.1,199.3 189.4,200.1 C189.8,200.9 190.0,202.0 190.0,203.0 Z" fill="none" stroke="#000" stroke-width="1.5" stroke-linejoin="round"/>
<path d="M240.1,207.7 C240.1,208.3 239.9,209.0 239.7,209.5 C239.5,209.9 239.1,210.4 238.7,210.6 C238.3,210.7 237.9,210.7 237.5,210.6 C237.1,210.4 236.7,209.9 236.5,209.5 C236.3,209.0 236.1,208.3 236.1,207.7 C236.1,207.1 236.3,206.4 236.5,205.9 C236.7,205.5 237.1,205.0 237.5,204.8 C237.9,204.7 238.3,204.7 238.7,204.8 C239.1,205.0 239.5,205.5 239.7,205.9 C239.9,206.4 240.1,207.1 240.1,207.7 Z" fill="#a11201" stroke="none"/>
<path d="M240.1,207.7 C240.1,208.3 239.9,209.0 239.7,209.5 C239.5,209.9 239.1,210.4 238.7,210.6 C238.3,210.7 237.9,210.7 237.5,210.6 C237.1,210.4 236.7,209.9 236.5,209.5 C236.3,209.0 236.1,208.3 236.1,207.7 C236.1,207.1 236.3,206.4 236.5,205.9 C236.7,205.5 237.1,205.0 237.5,204.8 C237.9,204.7 238.3,204.7 238.7,204.8 C239.1,205.0 239.5,205.5 239.7,205.9 C239.9,206.4 240.1,207.1 240.1,207.7 Z" fill="none" stroke="#000" stroke-width="1.5" stroke-linejoin="round"/>
<path d="M263.0,199.0 C263.8,197.7 265.2,197.0 266.0,198.0 C266.8,199.0 267.0,202.8 268.0,205.0 C269.0,207.2 271.2,209.3 272.0,211.0 C272.8,212.7 273.8,214.5 273.0,215.0 C272.2,215.5 269.2,214.6 267.0,214.0 C264.8,213.4 261.4,212.3 260.0,211.5 C258.6,210.7 258.3,209.9 258.5,209.0 C258.7,208.1 260.2,207.7 261.0,206.0 C261.8,204.3 262.2,200.3 263.0,199.0 Z" fill="#a11201" stroke="none"/>
<path d="M263.0,199.0 C263.8,197.7 265.2,197.0 266.0,198.0 C266.8,199.0 267.0,202.8 268.0,205.0 C269.0,207.2 271.2,209.3 272.0,211.0 C272.8,212.7 273.8,214.5 273.0,215.0 C272.2,215.5 269.2,214.6 267.0,214.0 C264.8,213.4 261.4,212.3 260.0,211.5 C258.6,210.7 258.3,209.9 258.5,209.0 C258.7,208.1 260.2,207.7 261.0,206.0 C261.8,204.3 262.2,200.3 263.0,199.0 Z" fill="none" stroke="#000" stroke-width="1.5" stroke-linejoin="round"/>
<path d="M308.0,198.5 C309.0,197.5 310.2,196.8 311.0,198.0 C311.8,199.2 312.1,203.8 313.0,206.0 C313.9,208.2 316.3,209.3 316.5,211.0 C316.7,212.7 315.2,214.7 314.0,216.0 C312.8,217.3 310.3,217.7 309.0,219.0 C307.7,220.3 307.0,222.5 306.0,224.0 C305.0,225.5 303.9,227.8 303.0,228.0 C302.1,228.2 301.0,226.8 300.5,225.0 C300.0,223.2 299.8,219.3 300.0,217.0 C300.2,214.7 301.2,213.2 302.0,211.0 C302.8,208.8 304.0,206.1 305.0,204.0 C306.0,201.9 307.0,199.5 308.0,198.5 Z" fill="#a11201" stroke="none"/>
<path d="M308.0,198.5 C309.0,197.5 310.2,196.8 311.0,198.0 C311.8,199.2 312.1,203.8 313.0,206.0 C313.9,208.2 316.3,209.3 316.5,211.0 C316.7,212.7 315.2,214.7 314.0,216.0 C312.8,217.3 310.3,217.7 309.0,219.0 C307.7,220.3 307.0,222.5 306.0,224.0 C305.0,225.5 303.9,227.8 303.0,228.0 C302.1,228.2 301.0,226.8 300.5,225.0 C300.0,223.2 299.8,219.3 300.0,217.0 C300.2,214.7 301.2,213.2 302.0,211.0 C302.8,208.8 304.0,206.1 305.0,204.0 C306.0,201.9 307.0,199.5 308.0,198.5 Z" fill="none" stroke="#000" stroke-width="1.5" stroke-linejoin="round"/>
<path d="M172.4,247.2 C172.4,247.5 172.1,247.9 171.6,248.2 C171.1,248.5 170.3,248.7 169.5,248.8 C168.7,248.9 167.7,248.9 166.9,248.8 C166.1,248.7 165.3,248.5 164.8,248.2 C164.3,247.9 164.0,247.5 164.0,247.2 C164.0,246.9 164.3,246.5 164.8,246.2 C165.3,245.9 166.1,245.7 166.9,245.6 C167.7,245.5 168.7,245.5 169.5,245.6 C170.3,245.7 171.1,245.9 171.6,246.2 C172.1,246.5 172.4,246.9 172.4,247.2 Z" fill="#a11201" stroke="none"/>
<path d="M172.4,247.2 C172.4,247.5 172.1,247.9 171.6,248.2 C171.1,248.5 170.3,248.7 169.5,248.8 C168.7,248.9 167.7,248.9 166.9,248.8 C166.1,248.7 165.3,248.5 164.8,248.2 C164.3,247.9 164.0,247.5 164.0,247.2 C164.0,246.9 164.3,246.5 164.8,246.2 C165.3,245.9 166.1,245.7 166.9,245.6 C167.7,245.5 168.7,245.5 169.5,245.6 C170.3,245.7 171.1,245.9 171.6,246.2 C172.1,246.5 172.4,246.9 172.4,247.2 Z" fill="none" stroke="#000" stroke-width="1.5" stroke-linejoin="round"/>
<path d="M223.3,243.3 C222.9,243.8 222.2,244.3 221.5,244.5 C220.8,244.7 219.9,244.7 219.1,244.4 C218.4,244.2 217.6,243.6 217.1,243.0 C216.6,242.5 216.2,241.6 216.2,240.9 C216.1,240.2 216.3,239.3 216.7,238.7 C217.1,238.2 217.8,237.7 218.5,237.5 C219.2,237.3 220.1,237.3 220.9,237.6 C221.6,237.8 222.4,238.4 222.9,239.0 C223.4,239.5 223.8,240.4 223.8,241.1 C223.9,241.8 223.7,242.7 223.3,243.3 Z" fill="#a11201" stroke="none"/>
<path d="M223.3,243.3 C222.9,243.8 222.2,244.3 221.5,244.5 C220.8,244.7 219.9,244.7 219.1,244.4 C218.4,244.2 217.6,243.6 217.1,243.0 C216.6,242.5 216.2,241.6 216.2,240.9 C216.1,240.2 216.3,239.3 216.7,238.7 C217.1,238.2 217.8,237.7 218.5,237.5 C219.2,237.3 220.1,237.3 220.9,237.6 C221.6,237.8 222.4,238.4 222.9,239.0 C223.4,239.5 223.8,240.4 223.8,241.1 C223.9,241.8 223.7,242.7 223.3,243.3 Z" fill="none" stroke="#000" stroke-width="1.5" stroke-linejoin="round"/>
<path d="M35.0,260.0 C36.7,255.2 42.0,260.5 45.0,260.5 C48.0,260.5 51.2,260.6 53.0,260.0 C54.8,259.4 54.5,257.2 56.0,257.0 C57.5,256.8 60.2,257.7 62.0,258.5 C63.8,259.3 65.8,260.8 67.0,262.0 C68.2,263.2 67.7,264.7 69.0,266.0 C70.3,267.3 72.8,268.8 75.0,270.0 C77.2,271.2 81.1,272.0 82.0,273.0 C82.9,274.0 80.5,274.8 80.5,276.0 C80.5,277.2 80.4,279.0 82.0,280.0 C83.6,281.0 87.0,281.3 90.0,282.0 C93.0,282.7 96.7,283.2 100.0,284.0 C103.3,284.8 107.0,285.9 110.0,287.0 C113.0,288.1 115.5,289.5 118.0,290.5 C120.5,291.5 121.0,292.5 125.0,293.0 C129.0,293.5 139.1,293.4 142.0,293.7 C144.9,294.0 143.7,294.4 142.5,295.0 C141.3,295.6 138.8,296.5 135.0,297.0 C131.2,297.5 125.8,297.8 120.0,298.0 C114.2,298.2 106.7,297.9 100.0,298.0 C93.3,298.1 86.3,298.4 80.0,298.5 C73.7,298.6 67.0,298.7 62.0,298.5 C57.0,298.3 53.3,298.2 50.0,297.5 C46.7,296.8 44.5,295.4 42.0,294.0 C39.5,292.6 36.2,294.7 35.0,289.0 C33.8,283.3 33.3,264.8 35.0,260.0 Z" fill="#a11201" stroke="none"/>
<path d="M35.0,260.0 C36.7,255.2 42.0,260.5 45.0,260.5 C48.0,260.5 51.2,260.6 53.0,260.0 C54.8,259.4 54.5,257.2 56.0,257.0 C57.5,256.8 60.2,257.7 62.0,258.5 C63.8,259.3 65.8,260.8 67.0,262.0 C68.2,263.2 67.7,264.7 69.0,266.0 C70.3,267.3 72.8,268.8 75.0,270.0 C77.2,271.2 81.1,272.0 82.0,273.0 C82.9,274.0 80.5,274.8 80.5,276.0 C80.5,277.2 80.4,279.0 82.0,280.0 C83.6,281.0 87.0,281.3 90.0,282.0 C93.0,282.7 96.7,283.2 100.0,284.0 C103.3,284.8 107.0,285.9 110.0,287.0 C113.0,288.1 115.5,289.5 118.0,290.5 C120.5,291.5 121.0,292.5 125.0,293.0 C129.0,293.5 139.1,293.4 142.0,293.7 C144.9,294.0 143.7,294.4 142.5,295.0 C141.3,295.6 138.8,296.5 135.0,297.0 C131.2,297.5 125.8,297.8 120.0,298.0 C114.2,298.2 106.7,297.9 100.0,298.0 C93.3,298.1 86.3,298.4 80.0,298.5 C73.7,298.6 67.0,298.7 62.0,298.5 C57.0,298.3 53.3,298.2 50.0,297.5 C46.7,296.8 44.5,295.4 42.0,294.0 C39.5,292.6 36.2,294.7 35.0,289.0 C33.8,283.3 33.3,264.8 35.0,260.0 Z" fill="none" stroke="#000" stroke-width="1.5" stroke-linejoin="round"/>
<path d="M274.5,265.0 C274.3,263.5 274.1,262.2 275.0,261.0 C275.9,259.8 277.5,258.3 280.0,257.5 C282.5,256.7 286.7,256.2 290.0,256.0 C293.3,255.8 296.7,255.6 300.0,256.0 C303.3,256.4 307.0,257.3 310.0,258.5 C313.0,259.7 316.0,261.4 318.0,263.0 C320.0,264.6 321.3,266.3 322.0,268.0 C322.7,269.7 322.7,271.7 322.0,273.0 C321.3,274.3 319.6,275.2 318.0,276.0 C316.4,276.8 314.9,277.0 312.7,277.5 C310.5,278.0 307.9,278.8 305.0,279.0 C302.1,279.2 298.3,279.2 295.0,279.0 C291.7,278.8 287.7,278.2 285.0,277.5 C282.3,276.8 280.5,276.2 279.0,275.0 C277.5,273.8 276.8,271.7 276.0,270.0 C275.2,268.3 274.7,266.5 274.5,265.0 Z" fill="#a11201" stroke="none"/>
<path d="M274.5,265.0 C274.3,263.5 274.1,262.2 275.0,261.0 C275.9,259.8 277.5,258.3 280.0,257.5 C282.5,256.7 286.7,256.2 290.0,256.0 C293.3,255.8 296.7,255.6 300.0,256.0 C303.3,256.4 307.0,257.3 310.0,258.5 C313.0,259.7 316.0,261.4 318.0,263.0 C320.0,264.6 321.3,266.3 322.0,268.0 C322.7,269.7 322.7,271.7 322.0,273.0 C321.3,274.3 319.6,275.2 318.0,276.0 C316.4,276.8 314.9,277.0 312.7,277.5 C310.5,278.0 307.9,278.8 305.0,279.0 C302.1,279.2 298.3,279.2 295.0,279.0 C291.7,278.8 287.7,278.2 285.0,277.5 C282.3,276.8 280.5,276.2 279.0,275.0 C277.5,273.8 276.8,271.7 276.0,270.0 C275.2,268.3 274.7,266.5 274.5,265.0 Z" fill="none" stroke="#000" stroke-width="1.5" stroke-linejoin="round"/>
<path d="M170.0,298.5 C170.5,297.8 175.2,297.1 178.0,296.5 C180.8,295.9 183.3,295.5 187.0,295.0 C190.7,294.5 195.8,293.8 200.0,293.5 C204.2,293.2 208.9,293.1 212.0,293.5 C215.1,293.9 218.2,295.2 218.5,296.0 C218.8,296.8 217.1,297.9 214.0,298.5 C210.9,299.1 204.5,299.2 200.0,299.5 C195.5,299.8 191.2,299.8 187.0,300.0 C182.8,300.2 177.8,300.8 175.0,300.5 C172.2,300.2 169.5,299.2 170.0,298.5 Z" fill="#a11201" stroke="none"/>
<path d="M170.0,298.5 C170.5,297.8 175.2,297.1 178.0,296.5 C180.8,295.9 183.3,295.5 187.0,295.0 C190.7,294.5 195.8,293.8 200.0,293.5 C204.2,293.2 208.9,293.1 212.0,293.5 C215.1,293.9 218.2,295.2 218.5,296.0 C218.8,296.8 217.1,297.9 214.0,298.5 C210.9,299.1 204.5,299.2 200.0,299.5 C195.5,299.8 191.2,299.8 187.0,300.0 C182.8,300.2 177.8,300.8 175.0,300.5 C172.2,300.2 169.5,299.2 170.0,298.5 Z" fill="none" stroke="#000" stroke-width="1.5" stroke-linejoin="round"/>
<path d="M191.0,307.0 C192.3,306.7 196.8,306.2 200.0,306.0 C203.2,305.8 207.5,305.8 210.0,306.0 C212.5,306.2 215.0,306.6 215.0,307.0 C215.0,307.4 212.5,308.1 210.0,308.3 C207.5,308.5 203.0,308.4 200.0,308.4 C197.0,308.3 193.5,308.2 192.0,308.0 C190.5,307.8 189.7,307.3 191.0,307.0 Z" fill="#a11201" stroke="none"/>
<path d="M191.0,307.0 C192.3,306.7 196.8,306.2 200.0,306.0 C203.2,305.8 207.5,305.8 210.0,306.0 C212.5,306.2 215.0,306.6 215.0,307.0 C215.0,307.4 212.5,308.1 210.0,308.3 C207.5,308.5 203.0,308.4 200.0,308.4 C197.0,308.3 193.5,308.2 192.0,308.0 C190.5,307.8 189.7,307.3 191.0,307.0 Z" fill="none" stroke="#000" stroke-width="1.5" stroke-linejoin="round"/>
<path d="M35.0,342.0 C52.5,340.3 113.7,341.9 140.0,341.8 C166.3,341.7 170.2,341.2 193.0,341.2 C215.8,341.1 252.8,341.0 277.0,341.5 C301.2,342.0 327.3,343.6 338.0,344.0 C348.7,344.4 340.5,342.7 341.0,344.0 C341.5,345.3 392.0,350.7 341.0,352.0 C290.0,353.3 86.0,353.7 35.0,352.0 C-16.0,350.3 17.5,343.7 35.0,342.0 Z" fill="#a11201" stroke="none"/>
<path d="M35.0,342.0 C52.5,340.3 113.7,341.9 140.0,341.8 C166.3,341.7 170.2,341.2 193.0,341.2 C215.8,341.1 252.8,341.0 277.0,341.5 C301.2,342.0 327.3,343.6 338.0,344.0 C348.7,344.4 340.5,342.7 341.0,344.0 C341.5,345.3 392.0,350.7 341.0,352.0 C290.0,353.3 86.0,353.7 35.0,352.0 C-16.0,350.3 17.5,343.7 35.0,342.0 Z" fill="none" stroke="#000" stroke-width="1.5" stroke-linejoin="round"/>
<path d="M252.4,324.8 C241.4,324.7 222.8,325.5 209.0,326.2 C195.2,326.9 181.0,327.6 169.5,328.8 C158.0,330.1 143.2,332.4 139.9,333.7 C136.6,335.0 144.8,335.9 149.7,336.7 C154.6,337.4 162.2,337.4 169.5,338.2 C176.8,338.9 181.4,340.7 193.2,341.2 C204.9,341.7 226.0,341.0 240.0,341.0 C254.0,341.0 268.1,341.2 277.0,341.0 C285.9,340.8 290.0,341.0 293.5,340.0 C297.0,339.0 297.8,336.4 297.8,335.0 C297.8,333.6 297.3,332.6 293.5,331.3 C289.7,330.0 281.9,328.1 275.0,327.0 C268.1,325.9 263.4,324.9 252.4,324.8 Z" fill="#a11201" stroke="none"/>
<path d="M252.4,324.8 C241.4,324.7 222.8,325.5 209.0,326.2 C195.2,326.9 181.0,327.6 169.5,328.8 C158.0,330.1 143.2,332.4 139.9,333.7 C136.6,335.0 144.8,335.9 149.7,336.7 C154.6,337.4 162.2,337.4 169.5,338.2 C176.8,338.9 181.4,340.7 193.2,341.2 C204.9,341.7 226.0,341.0 240.0,341.0 C254.0,341.0 268.1,341.2 277.0,341.0 C285.9,340.8 290.0,341.0 293.5,340.0 C297.0,339.0 297.8,336.4 297.8,335.0 C297.8,333.6 297.3,332.6 293.5,331.3 C289.7,330.0 281.9,328.1 275.0,327.0 C268.1,325.9 263.4,324.9 252.4,324.8 Z" fill="none" stroke="#000" stroke-width="1.5" stroke-linejoin="round"/>
<path d="M38.2,166.3 L38.6,166.3 L39.1,166.3 L39.7,166.3 L40.4,175.7 L41.2,187.6 L42.2,199.1 L43.4,209.7 L44.8,219.4 L46.5,228.9 L48.5,237.9 L51.0,247.0 L54.0,255.9 L57.5,264.4 L61.5,272.4 L66.0,279.9 L71.0,286.9 L77.0,294.1 L84.0,301.2 L92.0,308.1 L101.0,314.7 L111.0,321.0 L122.0,327.0 L134.0,332.8 L147.0,338.2 L161.0,343.4 L175.0,348.1 L187.4,351.8 L199.8,348.1 L213.8,343.4 L227.8,338.2 L240.8,332.8 L252.8,327.0 L263.8,321.0 L273.8,314.7 L282.8,308.1 L290.8,301.2 L297.8,294.1 L303.8,286.9 L308.8,279.9 L313.3,272.4 L317.3,264.4 L320.8,255.9 L323.8,247.0 L326.3,237.9 L328.3,228.9 L330.0,219.4 L331.4,209.7 L332.6,199.1 L333.6,187.6 L334.4,175.7 L335.1,166.3 L335.7,166.3 L336.2,166.3 L336.6,166.3 L342.8,166.3 L342.8,353.2 L32.0,353.2 L32.0,166.3 Z" fill="#fff" fill-opacity="0.52" fill-rule="evenodd"/>
<path d="M38.2,166.3 L38.6,166.3 L39.1,166.3 L39.7,166.3 L40.4,175.7 L41.2,187.6 L42.2,199.1 L43.4,209.7 L44.8,219.4 L46.5,228.9 L48.5,237.9 L51.0,247.0 L54.0,255.9 L57.5,264.4 L61.5,272.4 L66.0,279.9 L71.0,286.9 L77.0,294.1 L84.0,301.2 L92.0,308.1 L101.0,314.7 L111.0,321.0 L122.0,327.0 L134.0,332.8 L147.0,338.2 L161.0,343.4 L175.0,348.1 L187.4,351.8 L199.8,348.1 L213.8,343.4 L227.8,338.2 L240.8,332.8 L252.8,327.0 L263.8,321.0 L273.8,314.7 L282.8,308.1 L290.8,301.2 L297.8,294.1 L303.8,286.9 L308.8,279.9 L313.3,272.4 L317.3,264.4 L320.8,255.9 L323.8,247.0 L326.3,237.9 L328.3,228.9 L330.0,219.4 L331.4,209.7 L332.6,199.1 L333.6,187.6 L334.4,175.7 L335.1,166.3 L335.7,166.3 L336.2,166.3 L336.6,166.3" fill="none" stroke="#000" stroke-width="0.7"/>
</g>
<rect x="37.0" y="196.3" width="300.8" height="151.89999999999998" fill="none" stroke="#3a3a3a" stroke-width="1.1"/>
<path d="M37.0,227.1h2.5M337.8,227.1h-2.5M37.0,256.6h2.5M337.8,256.6h-2.5M37.0,287.4h2.5M337.8,287.4h-2.5M37.0,316.2h2.5M337.8,316.2h-2.5M37.0,345.0h2.5M337.8,345.0h-2.5" stroke="#444" stroke-width="0.8" fill="none"/>
<text x="32.9" y="226.8" font-size="14.2" text-anchor="end">4</text>
<text x="32.9" y="256.3" font-size="14.2" text-anchor="end">8</text>
<text x="32.9" y="287.1" font-size="14.2" text-anchor="end">16</text>
<text x="32.9" y="315.9" font-size="14.2" text-anchor="end">32</text>
<text x="32.9" y="344.7" font-size="14.2" text-anchor="end">64</text>
<text transform="translate(12.7,317.7) rotate(-90)" font-size="14.4" textLength="90.4" lengthAdjust="spacingAndGlyphs">Period (month)</text>
<text x="54" y="360.7" font-size="14.2" text-anchor="middle">2001</text>
<text x="106.3" y="360.7" font-size="14.2" text-anchor="middle">2005</text>
<text x="165.5" y="360.7" font-size="14.2" text-anchor="middle">2009</text>
<text x="229.8" y="360.7" font-size="14.2" text-anchor="middle">2013</text>
<text x="292.1" y="360.7" font-size="14.2" text-anchor="middle">2017</text>
<text x="340.6" y="360.7" font-size="14.2" text-anchor="middle">2019</text>
<text x="100.1" y="195.6" font-size="14.6" textLength="158.1" lengthAdjust="spacingAndGlyphs">(c) PNA-TNA-MEI-DPC3</text>
<g clip-path="url(#cp3)">
<rect x="377.2" y="197.4" width="300.3" height="151.9" fill="#f05b12"/>
<g filter="url(#bl)">
<rect x="373.2" y="187.91" width="308.3" height="9.99" fill="url(#g3_0)"/>
<rect x="373.2" y="197.40" width="308.3" height="9.99" fill="url(#g3_1)"/>
<rect x="373.2" y="206.89" width="308.3" height="9.99" fill="url(#g3_2)"/>
<rect x="373.2" y="216.39" width="308.3" height="9.99" fill="url(#g3_3)"/>
<rect x="373.2" y="225.88" width="308.3" height="9.99" fill="url(#g3_4)"/>
<rect x="373.2" y="235.38" width="308.3" height="9.99" fill="url(#g3_5)"/>
<rect x="373.2" y="244.87" width="308.3" height="9.99" fill="url(#g3_6)"/>
<rect x="373.2" y="254.36" width="308.3" height="9.99" fill="url(#g3_7)"/>
<rect x="373.2" y="263.86" width="308.3" height="9.99" fill="url(#g3_8)"/>
<rect x="373.2" y="273.35" width="308.3" height="9.99" fill="url(#g3_9)"/>
<rect x="373.2" y="282.84" width="308.3" height="9.99" fill="url(#g3_10)"/>
<rect x="373.2" y="292.34" width="308.3" height="9.99" fill="url(#g3_11)"/>
<rect x="373.2" y="301.83" width="308.3" height="9.99" fill="url(#g3_12)"/>
<rect x="373.2" y="311.33" width="308.3" height="9.99" fill="url(#g3_13)"/>
<rect x="373.2" y="320.82" width="308.3" height="9.99" fill="url(#g3_14)"/>
<rect x="373.2" y="330.31" width="308.3" height="9.99" fill="url(#g3_15)"/>
<rect x="373.2" y="339.81" width="308.3" height="9.99" fill="url(#g3_16)"/>
<rect x="373.2" y="349.30" width="308.3" height="9.99" fill="url(#g3_17)"/>
</g>
<g filter="url(#bl2)">
<rect x="560" y="294.7" width="118" height="5.6" fill="#ebd339"/>
</g>
<path d="M398.0,194.0 C397.1,195.2 398.4,199.4 399.0,201.0 C399.6,202.6 400.7,203.5 401.5,203.5 C402.3,203.5 403.5,202.6 404.0,201.0 C404.5,199.4 405.5,195.2 404.5,194.0 C403.5,192.8 398.9,192.8 398.0,194.0 Z" fill="#a11201" stroke="none"/>
<path d="M398.0,194.0 C397.1,195.2 398.4,199.4 399.0,201.0 C399.6,202.6 400.7,203.5 401.5,203.5 C402.3,203.5 403.5,202.6 404.0,201.0 C404.5,199.4 405.5,195.2 404.5,194.0 C403.5,192.8 398.9,192.8 398.0,194.0 Z" fill="none" stroke="#000" stroke-width="1.5" stroke-linejoin="round"/>
<path d="M476.0,201.0 C476.8,199.8 479.0,199.2 480.0,200.0 C481.0,200.8 481.2,204.0 482.0,206.0 C482.8,208.0 484.2,209.8 484.5,212.0 C484.8,214.2 484.6,217.2 484.0,219.0 C483.4,220.8 482.2,222.2 481.0,222.5 C479.8,222.8 477.9,222.4 477.0,221.0 C476.1,219.6 475.8,216.3 475.5,214.0 C475.2,211.7 475.4,209.2 475.5,207.0 C475.6,204.8 475.2,202.2 476.0,201.0 Z" fill="#a11201" stroke="none"/>
<path d="M476.0,201.0 C476.8,199.8 479.0,199.2 480.0,200.0 C481.0,200.8 481.2,204.0 482.0,206.0 C482.8,208.0 484.2,209.8 484.5,212.0 C484.8,214.2 484.6,217.2 484.0,219.0 C483.4,220.8 482.2,222.2 481.0,222.5 C479.8,222.8 477.9,222.4 477.0,221.0 C476.1,219.6 475.8,216.3 475.5,214.0 C475.2,211.7 475.4,209.2 475.5,207.0 C475.6,204.8 475.2,202.2 476.0,201.0 Z" fill="none" stroke="#000" stroke-width="1.5" stroke-linejoin="round"/>
<path d="M514.3,207.6 C514.3,208.0 514.1,208.5 513.9,208.8 C513.7,209.1 513.3,209.4 512.9,209.5 C512.5,209.6 512.1,209.6 511.7,209.5 C511.3,209.4 510.9,209.1 510.7,208.8 C510.5,208.5 510.3,208.0 510.3,207.6 C510.3,207.2 510.5,206.7 510.7,206.4 C510.9,206.1 511.3,205.8 511.7,205.7 C512.1,205.6 512.5,205.6 512.9,205.7 C513.3,205.8 513.7,206.1 513.9,206.4 C514.1,206.7 514.3,207.2 514.3,207.6 Z" fill="#a11201" stroke="none"/>
<path d="M514.3,207.6 C514.3,208.0 514.1,208.5 513.9,208.8 C513.7,209.1 513.3,209.4 512.9,209.5 C512.5,209.6 512.1,209.6 511.7,209.5 C511.3,209.4 510.9,209.1 510.7,208.8 C510.5,208.5 510.3,208.0 510.3,207.6 C510.3,207.2 510.5,206.7 510.7,206.4 C510.9,206.1 511.3,205.8 511.7,205.7 C512.1,205.6 512.5,205.6 512.9,205.7 C513.3,205.8 513.7,206.1 513.9,206.4 C514.1,206.7 514.3,207.2 514.3,207.6 Z" fill="none" stroke="#000" stroke-width="1.5" stroke-linejoin="round"/>
<path d="M376.0,216.0 C377.3,213.8 381.8,214.2 384.0,214.5 C386.2,214.8 388.1,216.4 389.0,218.0 C389.9,219.6 390.0,222.3 389.5,224.0 C389.0,225.7 388.2,227.3 386.0,228.0 C383.8,228.7 377.7,230.0 376.0,228.0 C374.3,226.0 374.7,218.2 376.0,216.0 Z" fill="#a11201" stroke="none"/>
<path d="M376.0,216.0 C377.3,213.8 381.8,214.2 384.0,214.5 C386.2,214.8 388.1,216.4 389.0,218.0 C389.9,219.6 390.0,222.3 389.5,224.0 C389.0,225.7 388.2,227.3 386.0,228.0 C383.8,228.7 377.7,230.0 376.0,228.0 C374.3,226.0 374.7,218.2 376.0,216.0 Z" fill="none" stroke="#000" stroke-width="1.5" stroke-linejoin="round"/>
<path d="M407.0,233.0 C407.9,232.1 410.3,231.7 412.0,231.5 C413.7,231.3 415.8,230.9 417.0,232.0 C418.2,233.1 419.3,236.0 419.5,238.0 C419.7,240.0 419.1,242.7 418.0,244.0 C416.9,245.3 414.7,246.3 413.0,246.0 C411.3,245.7 409.1,243.5 408.0,242.0 C406.9,240.5 406.7,238.5 406.5,237.0 C406.3,235.5 406.1,233.9 407.0,233.0 Z" fill="#a11201" stroke="none"/>
<path d="M407.0,233.0 C407.9,232.1 410.3,231.7 412.0,231.5 C413.7,231.3 415.8,230.9 417.0,232.0 C418.2,233.1 419.3,236.0 419.5,238.0 C419.7,240.0 419.1,242.7 418.0,244.0 C416.9,245.3 414.7,246.3 413.0,246.0 C411.3,245.7 409.1,243.5 408.0,242.0 C406.9,240.5 406.7,238.5 406.5,237.0 C406.3,235.5 406.1,233.9 407.0,233.0 Z" fill="none" stroke="#000" stroke-width="1.5" stroke-linejoin="round"/>
<path d="M436.0,245.6 C436.0,246.4 435.5,247.3 434.8,248.0 C434.1,248.6 432.9,249.2 431.7,249.4 C430.6,249.6 429.0,249.6 427.9,249.4 C426.7,249.2 425.5,248.6 424.8,248.0 C424.1,247.3 423.6,246.4 423.6,245.6 C423.6,244.8 424.1,243.9 424.8,243.2 C425.5,242.6 426.7,242.0 427.9,241.8 C429.0,241.6 430.6,241.6 431.7,241.8 C432.9,242.0 434.1,242.6 434.8,243.2 C435.5,243.9 436.0,244.8 436.0,245.6 Z" fill="#a11201" stroke="none"/>
<path d="M436.0,245.6 C436.0,246.4 435.5,247.3 434.8,248.0 C434.1,248.6 432.9,249.2 431.7,249.4 C430.6,249.6 429.0,249.6 427.9,249.4 C426.7,249.2 425.5,248.6 424.8,248.0 C424.1,247.3 423.6,246.4 423.6,245.6 C423.6,244.8 424.1,243.9 424.8,243.2 C425.5,242.6 426.7,242.0 427.9,241.8 C429.0,241.6 430.6,241.6 431.7,241.8 C432.9,242.0 434.1,242.6 434.8,243.2 C435.5,243.9 436.0,244.8 436.0,245.6 Z" fill="none" stroke="#000" stroke-width="1.5" stroke-linejoin="round"/>
<path d="M462.0,231.0 C463.8,229.9 467.7,229.5 470.0,229.5 C472.3,229.5 474.8,229.9 476.0,231.0 C477.2,232.1 477.7,234.2 477.5,236.0 C477.3,237.8 476.6,240.6 475.0,242.0 C473.4,243.4 470.5,244.2 468.0,244.5 C465.5,244.8 461.9,244.4 460.0,244.0 C458.1,243.6 456.7,243.3 456.5,242.0 C456.3,240.7 458.1,237.8 459.0,236.0 C459.9,234.2 460.2,232.1 462.0,231.0 Z" fill="#a11201" stroke="none"/>
<path d="M462.0,231.0 C463.8,229.9 467.7,229.5 470.0,229.5 C472.3,229.5 474.8,229.9 476.0,231.0 C477.2,232.1 477.7,234.2 477.5,236.0 C477.3,237.8 476.6,240.6 475.0,242.0 C473.4,243.4 470.5,244.2 468.0,244.5 C465.5,244.8 461.9,244.4 460.0,244.0 C458.1,243.6 456.7,243.3 456.5,242.0 C456.3,240.7 458.1,237.8 459.0,236.0 C459.9,234.2 460.2,232.1 462.0,231.0 Z" fill="none" stroke="#000" stroke-width="1.5" stroke-linejoin="round"/>
<path d="M488.0,250.0 C489.0,248.7 492.2,248.3 495.0,248.0 C497.8,247.7 502.0,247.8 505.0,248.0 C508.0,248.2 512.2,248.5 513.0,249.5 C513.8,250.5 511.7,252.6 510.0,254.0 C508.3,255.4 505.5,257.1 503.0,258.0 C500.5,258.9 497.3,259.8 495.0,259.5 C492.7,259.2 490.2,257.6 489.0,256.0 C487.8,254.4 487.0,251.3 488.0,250.0 Z" fill="#a11201" stroke="none"/>
<path d="M488.0,250.0 C489.0,248.7 492.2,248.3 495.0,248.0 C497.8,247.7 502.0,247.8 505.0,248.0 C508.0,248.2 512.2,248.5 513.0,249.5 C513.8,250.5 511.7,252.6 510.0,254.0 C508.3,255.4 505.5,257.1 503.0,258.0 C500.5,258.9 497.3,259.8 495.0,259.5 C492.7,259.2 490.2,257.6 489.0,256.0 C487.8,254.4 487.0,251.3 488.0,250.0 Z" fill="none" stroke="#000" stroke-width="1.5" stroke-linejoin="round"/>
<path d="M611.7,207.6 C611.7,208.6 611.5,209.9 611.3,210.7 C611.0,211.6 610.6,212.3 610.2,212.6 C609.8,213.0 609.2,213.0 608.8,212.6 C608.4,212.3 608.0,211.6 607.7,210.7 C607.5,209.9 607.3,208.6 607.3,207.6 C607.3,206.6 607.5,205.3 607.7,204.5 C608.0,203.6 608.4,202.9 608.8,202.6 C609.2,202.2 609.8,202.2 610.2,202.6 C610.6,202.9 611.0,203.6 611.3,204.5 C611.5,205.3 611.7,206.6 611.7,207.6 Z" fill="#a11201" stroke="none"/>
<path d="M611.7,207.6 C611.7,208.6 611.5,209.9 611.3,210.7 C611.0,211.6 610.6,212.3 610.2,212.6 C609.8,213.0 609.2,213.0 608.8,212.6 C608.4,212.3 608.0,211.6 607.7,210.7 C607.5,209.9 607.3,208.6 607.3,207.6 C607.3,206.6 607.5,205.3 607.7,204.5 C608.0,203.6 608.4,202.9 608.8,202.6 C609.2,202.2 609.8,202.2 610.2,202.6 C610.6,202.9 611.0,203.6 611.3,204.5 C611.5,205.3 611.7,206.6 611.7,207.6 Z" fill="none" stroke="#000" stroke-width="1.5" stroke-linejoin="round"/>
<path d="M655.0,195.0 C655.9,193.8 659.0,193.3 660.0,195.0 C661.0,196.7 660.9,202.3 661.0,205.0 C661.1,207.7 661.2,209.8 660.5,211.0 C659.8,212.2 658.0,213.0 657.0,212.5 C656.0,212.0 654.9,209.8 654.5,208.0 C654.1,206.2 654.4,204.2 654.5,202.0 C654.6,199.8 654.1,196.2 655.0,195.0 Z" fill="#a11201" stroke="none"/>
<path d="M655.0,195.0 C655.9,193.8 659.0,193.3 660.0,195.0 C661.0,196.7 660.9,202.3 661.0,205.0 C661.1,207.7 661.2,209.8 660.5,211.0 C659.8,212.2 658.0,213.0 657.0,212.5 C656.0,212.0 654.9,209.8 654.5,208.0 C654.1,206.2 654.4,204.2 654.5,202.0 C654.6,199.8 654.1,196.2 655.0,195.0 Z" fill="none" stroke="#000" stroke-width="1.5" stroke-linejoin="round"/>
<path d="M645.3,215.8 C645.0,216.6 644.5,217.5 644.0,218.1 C643.5,218.6 642.8,219.1 642.3,219.2 C641.7,219.3 641.1,219.1 640.7,218.7 C640.3,218.3 640.0,217.5 639.9,216.8 C639.8,216.0 639.9,215.0 640.1,214.2 C640.4,213.4 640.9,212.5 641.4,211.9 C641.9,211.4 642.6,210.9 643.1,210.8 C643.7,210.7 644.3,210.9 644.7,211.3 C645.1,211.7 645.4,212.5 645.5,213.2 C645.6,214.0 645.5,215.0 645.3,215.8 Z" fill="#a11201" stroke="none"/>
<path d="M645.3,215.8 C645.0,216.6 644.5,217.5 644.0,218.1 C643.5,218.6 642.8,219.1 642.3,219.2 C641.7,219.3 641.1,219.1 640.7,218.7 C640.3,218.3 640.0,217.5 639.9,216.8 C639.8,216.0 639.9,215.0 640.1,214.2 C640.4,213.4 640.9,212.5 641.4,211.9 C641.9,211.4 642.6,210.9 643.1,210.8 C643.7,210.7 644.3,210.9 644.7,211.3 C645.1,211.7 645.4,212.5 645.5,213.2 C645.6,214.0 645.5,215.0 645.3,215.8 Z" fill="none" stroke="#000" stroke-width="1.5" stroke-linejoin="round"/>
<path d="M556.7,234.7 C556.9,235.4 556.7,236.3 556.2,237.0 C555.7,237.8 554.8,238.6 553.8,239.1 C552.7,239.7 551.3,240.1 550.2,240.2 C549.1,240.4 547.8,240.2 547.0,239.9 C546.1,239.6 545.5,238.9 545.3,238.3 C545.1,237.6 545.3,236.7 545.8,236.0 C546.3,235.2 547.2,234.4 548.2,233.9 C549.3,233.3 550.7,232.9 551.8,232.8 C552.9,232.6 554.2,232.8 555.0,233.1 C555.9,233.4 556.5,234.1 556.7,234.7 Z" fill="#a11201" stroke="none"/>
<path d="M556.7,234.7 C556.9,235.4 556.7,236.3 556.2,237.0 C555.7,237.8 554.8,238.6 553.8,239.1 C552.7,239.7 551.3,240.1 550.2,240.2 C549.1,240.4 547.8,240.2 547.0,239.9 C546.1,239.6 545.5,238.9 545.3,238.3 C545.1,237.6 545.3,236.7 545.8,236.0 C546.3,235.2 547.2,234.4 548.2,233.9 C549.3,233.3 550.7,232.9 551.8,232.8 C552.9,232.6 554.2,232.8 555.0,233.1 C555.9,233.4 556.5,234.1 556.7,234.7 Z" fill="none" stroke="#000" stroke-width="1.5" stroke-linejoin="round"/>
<path d="M520.0,260.0 C521.5,258.0 525.8,258.1 530.0,258.0 C534.2,257.9 542.2,258.3 545.0,259.5 C547.8,260.7 547.3,262.8 547.0,265.0 C546.7,267.2 545.0,270.7 543.0,273.0 C541.0,275.3 538.0,278.2 535.0,279.0 C532.0,279.8 527.3,279.5 525.0,278.0 C522.7,276.5 521.8,273.0 521.0,270.0 C520.2,267.0 518.5,262.0 520.0,260.0 Z" fill="#a11201" stroke="none"/>
<path d="M520.0,260.0 C521.5,258.0 525.8,258.1 530.0,258.0 C534.2,257.9 542.2,258.3 545.0,259.5 C547.8,260.7 547.3,262.8 547.0,265.0 C546.7,267.2 545.0,270.7 543.0,273.0 C541.0,275.3 538.0,278.2 535.0,279.0 C532.0,279.8 527.3,279.5 525.0,278.0 C522.7,276.5 521.8,273.0 521.0,270.0 C520.2,267.0 518.5,262.0 520.0,260.0 Z" fill="none" stroke="#000" stroke-width="1.5" stroke-linejoin="round"/>
<path d="M619.0,275.0 C619.8,273.7 622.8,271.3 625.0,270.0 C627.2,268.7 628.7,268.0 632.0,267.0 C635.3,266.0 640.8,264.7 645.0,264.0 C649.2,263.3 654.3,263.2 657.3,262.7 C660.3,262.2 660.9,261.6 663.0,261.0 C665.1,260.4 667.0,259.5 670.0,259.0 C673.0,258.5 679.2,254.0 681.0,258.0 C682.8,262.0 682.8,278.5 681.0,283.0 C679.2,287.5 674.3,284.2 670.0,285.0 C665.7,285.8 659.5,287.0 655.0,287.5 C650.5,288.0 645.4,288.2 643.0,288.0 C640.6,287.8 642.9,287.1 640.4,286.0 C637.9,284.9 631.1,283.0 627.7,281.7 C624.3,280.4 621.5,279.1 620.0,278.0 C618.5,276.9 618.2,276.3 619.0,275.0 Z" fill="#a11201" stroke="none"/>
<path d="M619.0,275.0 C619.8,273.7 622.8,271.3 625.0,270.0 C627.2,268.7 628.7,268.0 632.0,267.0 C635.3,266.0 640.8,264.7 645.0,264.0 C649.2,263.3 654.3,263.2 657.3,262.7 C660.3,262.2 660.9,261.6 663.0,261.0 C665.1,260.4 667.0,259.5 670.0,259.0 C673.0,258.5 679.2,254.0 681.0,258.0 C682.8,262.0 682.8,278.5 681.0,283.0 C679.2,287.5 674.3,284.2 670.0,285.0 C665.7,285.8 659.5,287.0 655.0,287.5 C650.5,288.0 645.4,288.2 643.0,288.0 C640.6,287.8 642.9,287.1 640.4,286.0 C637.9,284.9 631.1,283.0 627.7,281.7 C624.3,280.4 621.5,279.1 620.0,278.0 C618.5,276.9 618.2,276.3 619.0,275.0 Z" fill="none" stroke="#000" stroke-width="1.5" stroke-linejoin="round"/>
<path d="M488.0,276.2 C490.8,276.4 495.8,277.7 500.7,278.8 C505.6,279.9 509.9,281.4 517.7,283.0 C525.5,284.6 540.2,286.1 547.3,288.1 C554.3,290.1 557.0,292.9 560.0,295.0 C563.0,297.1 562.2,298.8 565.0,300.5 C567.8,302.2 571.9,303.7 576.6,305.0 C581.3,306.3 588.6,307.5 593.3,308.3 C598.0,309.1 602.4,309.4 605.0,310.0 C607.6,310.6 608.8,310.8 609.1,311.6 C609.4,312.4 609.2,313.9 606.6,315.0 C604.0,316.1 595.8,317.6 593.3,318.3 C590.8,319.0 590.2,318.8 591.6,319.1 C593.0,319.4 598.5,319.8 601.6,320.0 C604.7,320.2 605.8,319.9 610.0,320.3 C614.2,320.7 621.1,321.8 626.6,322.4 C632.1,323.0 639.7,323.4 643.2,324.1 C646.7,324.8 647.4,325.8 647.4,326.6 C647.4,327.4 646.7,328.5 643.2,329.1 C639.7,329.7 634.9,329.7 626.6,330.0 C618.3,330.3 604.4,330.7 593.3,330.8 C582.2,330.9 567.7,330.9 560.0,330.8 C552.3,330.7 558.6,330.8 547.3,330.4 C536.0,330.0 502.9,329.4 492.3,328.3 C481.7,327.2 488.8,325.8 483.8,324.0 C478.9,322.2 470.7,319.0 462.6,317.7 C454.5,316.4 441.3,316.4 435.0,316.0 C428.7,315.6 427.4,315.6 425.0,315.0 C422.6,314.4 418.6,313.2 420.3,312.5 C422.0,311.8 431.6,311.2 435.1,311.0 C438.6,310.8 434.1,312.0 441.5,311.4 C448.9,310.8 470.4,308.5 479.6,307.1 C488.8,305.7 493.0,304.7 496.5,302.9 C500.0,301.1 499.3,298.6 500.7,296.5 C502.1,294.4 506.4,292.7 505.0,290.2 C503.6,287.7 495.8,283.8 492.3,281.7 C488.8,279.6 484.5,278.4 483.8,277.5 C483.1,276.6 485.2,276.0 488.0,276.2 Z" fill="#a11201" stroke="none"/>
<path d="M488.0,276.2 C490.8,276.4 495.8,277.7 500.7,278.8 C505.6,279.9 509.9,281.4 517.7,283.0 C525.5,284.6 540.2,286.1 547.3,288.1 C554.3,290.1 557.0,292.9 560.0,295.0 C563.0,297.1 562.2,298.8 565.0,300.5 C567.8,302.2 571.9,303.7 576.6,305.0 C581.3,306.3 588.6,307.5 593.3,308.3 C598.0,309.1 602.4,309.4 605.0,310.0 C607.6,310.6 608.8,310.8 609.1,311.6 C609.4,312.4 609.2,313.9 606.6,315.0 C604.0,316.1 595.8,317.6 593.3,318.3 C590.8,319.0 590.2,318.8 591.6,319.1 C593.0,319.4 598.5,319.8 601.6,320.0 C604.7,320.2 605.8,319.9 610.0,320.3 C614.2,320.7 621.1,321.8 626.6,322.4 C632.1,323.0 639.7,323.4 643.2,324.1 C646.7,324.8 647.4,325.8 647.4,326.6 C647.4,327.4 646.7,328.5 643.2,329.1 C639.7,329.7 634.9,329.7 626.6,330.0 C618.3,330.3 604.4,330.7 593.3,330.8 C582.2,330.9 567.7,330.9 560.0,330.8 C552.3,330.7 558.6,330.8 547.3,330.4 C536.0,330.0 502.9,329.4 492.3,328.3 C481.7,327.2 488.8,325.8 483.8,324.0 C478.9,322.2 470.7,319.0 462.6,317.7 C454.5,316.4 441.3,316.4 435.0,316.0 C428.7,315.6 427.4,315.6 425.0,315.0 C422.6,314.4 418.6,313.2 420.3,312.5 C422.0,311.8 431.6,311.2 435.1,311.0 C438.6,310.8 434.1,312.0 441.5,311.4 C448.9,310.8 470.4,308.5 479.6,307.1 C488.8,305.7 493.0,304.7 496.5,302.9 C500.0,301.1 499.3,298.6 500.7,296.5 C502.1,294.4 506.4,292.7 505.0,290.2 C503.6,287.7 495.8,283.8 492.3,281.7 C488.8,279.6 484.5,278.4 483.8,277.5 C483.1,276.6 485.2,276.0 488.0,276.2 Z" fill="none" stroke="#000" stroke-width="1.5" stroke-linejoin="round"/>
<path d="M376.0,343.0 C383.3,341.1 389.3,343.6 420.0,343.5 C450.7,343.4 528.3,342.4 560.0,342.4 C591.7,342.3 596.1,342.8 610.0,343.2 C623.9,343.6 631.4,344.3 643.2,345.0 C655.0,345.7 674.7,345.7 681.0,347.4 C687.3,349.1 731.8,353.7 681.0,355.0 C630.2,356.3 426.8,357.0 376.0,355.0 C325.2,353.0 368.7,344.9 376.0,343.0 Z" fill="#a11201" stroke="none"/>
<path d="M376.0,343.0 C383.3,341.1 389.3,343.6 420.0,343.5 C450.7,343.4 528.3,342.4 560.0,342.4 C591.7,342.3 596.1,342.8 610.0,343.2 C623.9,343.6 631.4,344.3 643.2,345.0 C655.0,345.7 674.7,345.7 681.0,347.4 C687.3,349.1 731.8,353.7 681.0,355.0 C630.2,356.3 426.8,357.0 376.0,355.0 C325.2,353.0 368.7,344.9 376.0,343.0 Z" fill="none" stroke="#000" stroke-width="1.5" stroke-linejoin="round"/>
<path d="M378.0,238.0 C379.0,238.2 382.5,237.7 384.0,239.0 C385.5,240.3 387.0,243.7 387.0,246.0 C387.0,248.3 385.5,251.7 384.0,253.0 C382.5,254.3 379.0,253.8 378.0,254.0" fill="none" stroke="#000" stroke-width="1.5" stroke-linejoin="round"/>
<path d="M376.0,277.0 C378.3,277.2 385.5,277.2 390.0,278.0 C394.5,278.8 400.2,280.3 403.0,282.0 C405.8,283.7 407.0,286.3 407.0,288.0 C407.0,289.7 405.8,291.3 403.0,292.0 C400.2,292.7 394.5,292.3 390.0,292.0 C385.5,291.7 378.3,290.3 376.0,290.0" fill="none" stroke="#000" stroke-width="1.5" stroke-linejoin="round"/>
<path d="M378.4,167.4 L378.8,167.4 L379.3,167.4 L379.9,167.4 L380.6,176.8 L381.4,188.7 L382.4,200.2 L383.6,210.8 L385.0,220.5 L386.7,230.0 L388.7,239.0 L391.2,248.1 L394.2,257.0 L397.7,265.5 L401.7,273.5 L406.2,281.0 L411.2,288.0 L417.2,295.2 L424.2,302.3 L432.2,309.2 L441.2,315.8 L451.2,322.1 L462.2,328.1 L474.2,333.9 L487.2,339.3 L501.2,344.5 L515.2,349.2 L527.4,352.8 L539.5,349.2 L553.5,344.5 L567.5,339.3 L580.5,333.9 L592.5,328.1 L603.5,322.1 L613.5,315.8 L622.5,309.2 L630.5,302.3 L637.5,295.2 L643.5,288.0 L648.5,281.0 L653.0,273.5 L657.0,265.5 L660.5,257.0 L663.5,248.1 L666.0,239.0 L668.0,230.0 L669.7,220.5 L671.1,210.8 L672.3,200.2 L673.3,188.7 L674.1,176.8 L674.8,167.4 L675.4,167.4 L675.9,167.4 L676.3,167.4 L682.5,167.4 L682.5,354.3 L372.2,354.3 L372.2,167.4 Z" fill="#fff" fill-opacity="0.52" fill-rule="evenodd"/>
<path d="M378.4,167.4 L378.8,167.4 L379.3,167.4 L379.9,167.4 L380.6,176.8 L381.4,188.7 L382.4,200.2 L383.6,210.8 L385.0,220.5 L386.7,230.0 L388.7,239.0 L391.2,248.1 L394.2,257.0 L397.7,265.5 L401.7,273.5 L406.2,281.0 L411.2,288.0 L417.2,295.2 L424.2,302.3 L432.2,309.2 L441.2,315.8 L451.2,322.1 L462.2,328.1 L474.2,333.9 L487.2,339.3 L501.2,344.5 L515.2,349.2 L527.4,352.8 L539.5,349.2 L553.5,344.5 L567.5,339.3 L580.5,333.9 L592.5,328.1 L603.5,322.1 L613.5,315.8 L622.5,309.2 L630.5,302.3 L637.5,295.2 L643.5,288.0 L648.5,281.0 L653.0,273.5 L657.0,265.5 L660.5,257.0 L663.5,248.1 L666.0,239.0 L668.0,230.0 L669.7,220.5 L671.1,210.8 L672.3,200.2 L673.3,188.7 L674.1,176.8 L674.8,167.4 L675.4,167.4 L675.9,167.4 L676.3,167.4" fill="none" stroke="#000" stroke-width="0.7"/>
</g>
<rect x="377.2" y="197.4" width="300.3" height="151.9" fill="none" stroke="#3a3a3a" stroke-width="1.1"/>
<path d="M377.2,220.2h2.5M677.5,220.2h-2.5M377.2,249.4h2.5M677.5,249.4h-2.5M377.2,279.1h2.5M677.5,279.1h-2.5M377.2,308.3h2.5M677.5,308.3h-2.5M377.2,338.1h2.5M677.5,338.1h-2.5" stroke="#444" stroke-width="0.8" fill="none"/>
<text x="371" y="219.9" font-size="14.2" text-anchor="end">4</text>
<text x="371" y="249.1" font-size="14.2" text-anchor="end">8</text>
<text x="371" y="278.8" font-size="14.2" text-anchor="end">16</text>
<text x="371" y="308.0" font-size="14.2" text-anchor="end">32</text>
<text x="371" y="337.8" font-size="14.2" text-anchor="end">64</text>
<text transform="translate(351.8,309.2) rotate(-90)" font-size="14.4" textLength="90.4" lengthAdjust="spacingAndGlyphs">Period (month)</text>
<text x="389.9" y="361.2" font-size="14.2" text-anchor="middle">2001</text>
<text x="442.6" y="361.2" font-size="14.2" text-anchor="middle">2005</text>
<text x="501.6" y="361.2" font-size="14.2" text-anchor="middle">2009</text>
<text x="565.2" y="361.2" font-size="14.2" text-anchor="middle">2013</text>
<text x="628.5" y="361.2" font-size="14.2" text-anchor="middle">2017</text>
<text x="676.9" y="361.2" font-size="14.2" text-anchor="middle">2019</text>
<text x="442.3" y="195.8" font-size="14.6" textLength="158.5" lengthAdjust="spacingAndGlyphs">(d) PDO-PNA-MEI-DPC4</text>
<g clip-path="url(#cp4)">
<rect x="36.9" y="376.2" width="301.5" height="152.2" fill="#f05b12"/>
<g filter="url(#bl)">
<rect x="32.9" y="366.69" width="309.5" height="10.01" fill="url(#g4_0)"/>
<rect x="32.9" y="376.20" width="309.5" height="10.01" fill="url(#g4_1)"/>
<rect x="32.9" y="385.71" width="309.5" height="10.01" fill="url(#g4_2)"/>
<rect x="32.9" y="395.22" width="309.5" height="10.01" fill="url(#g4_3)"/>
<rect x="32.9" y="404.74" width="309.5" height="10.01" fill="url(#g4_4)"/>
<rect x="32.9" y="414.25" width="309.5" height="10.01" fill="url(#g4_5)"/>
<rect x="32.9" y="423.76" width="309.5" height="10.01" fill="url(#g4_6)"/>
<rect x="32.9" y="433.27" width="309.5" height="10.01" fill="url(#g4_7)"/>
<rect x="32.9" y="442.79" width="309.5" height="10.01" fill="url(#g4_8)"/>
<rect x="32.9" y="452.30" width="309.5" height="10.01" fill="url(#g4_9)"/>
<rect x="32.9" y="461.81" width="309.5" height="10.01" fill="url(#g4_10)"/>
<rect x="32.9" y="471.32" width="309.5" height="10.01" fill="url(#g4_11)"/>
<rect x="32.9" y="480.84" width="309.5" height="10.01" fill="url(#g4_12)"/>
<rect x="32.9" y="490.35" width="309.5" height="10.01" fill="url(#g4_13)"/>
<rect x="32.9" y="499.86" width="309.5" height="10.01" fill="url(#g4_14)"/>
<rect x="32.9" y="509.38" width="309.5" height="10.01" fill="url(#g4_15)"/>
<rect x="32.9" y="518.89" width="309.5" height="10.01" fill="url(#g4_16)"/>
<rect x="32.9" y="528.40" width="309.5" height="10.01" fill="url(#g4_17)"/>
</g>
<g filter="url(#bl2)">
<rect x="37" y="493.6" width="301" height="8.4" fill="#cbed34"/>
<rect x="37" y="495.8" width="213" height="4.0" fill="#19e3b9"/>
<rect x="250" y="495.8" width="50" height="4.0" fill="#79fe59"/>
</g>
<path d="M89.9,391.3 C89.9,392.0 89.7,392.9 89.3,393.5 C88.9,394.1 88.3,394.6 87.7,394.8 C87.1,395.0 86.3,395.0 85.7,394.8 C85.1,394.6 84.5,394.1 84.1,393.5 C83.7,392.9 83.5,392.0 83.5,391.3 C83.5,390.6 83.7,389.7 84.1,389.1 C84.5,388.5 85.1,388.0 85.7,387.8 C86.3,387.6 87.1,387.6 87.7,387.8 C88.3,388.0 88.9,388.5 89.3,389.1 C89.7,389.7 89.9,390.6 89.9,391.3 Z" fill="#a11201" stroke="none"/>
<path d="M89.9,391.3 C89.9,392.0 89.7,392.9 89.3,393.5 C88.9,394.1 88.3,394.6 87.7,394.8 C87.1,395.0 86.3,395.0 85.7,394.8 C85.1,394.6 84.5,394.1 84.1,393.5 C83.7,392.9 83.5,392.0 83.5,391.3 C83.5,390.6 83.7,389.7 84.1,389.1 C84.5,388.5 85.1,388.0 85.7,387.8 C86.3,387.6 87.1,387.6 87.7,387.8 C88.3,388.0 88.9,388.5 89.3,389.1 C89.7,389.7 89.9,390.6 89.9,391.3 Z" fill="none" stroke="#000" stroke-width="1.5" stroke-linejoin="round"/>
<path d="M120.0,381.5 C121.1,381.2 122.3,382.8 122.5,384.0 C122.7,385.2 121.9,387.5 121.0,389.0 C120.1,390.5 118.1,392.7 117.0,393.0 C115.9,393.3 114.7,392.2 114.5,391.0 C114.3,389.8 115.1,387.6 116.0,386.0 C116.9,384.4 118.9,381.8 120.0,381.5 Z" fill="#a11201" stroke="none"/>
<path d="M120.0,381.5 C121.1,381.2 122.3,382.8 122.5,384.0 C122.7,385.2 121.9,387.5 121.0,389.0 C120.1,390.5 118.1,392.7 117.0,393.0 C115.9,393.3 114.7,392.2 114.5,391.0 C114.3,389.8 115.1,387.6 116.0,386.0 C116.9,384.4 118.9,381.8 120.0,381.5 Z" fill="none" stroke="#000" stroke-width="1.5" stroke-linejoin="round"/>
<path d="M163.0,374.0 C164.8,372.0 170.9,373.0 173.0,374.0 C175.1,375.0 175.3,377.7 175.5,380.0 C175.7,382.3 175.1,385.4 174.0,388.0 C172.9,390.6 170.7,394.5 169.0,395.5 C167.3,396.5 165.2,395.6 164.0,394.0 C162.8,392.4 162.2,389.3 162.0,386.0 C161.8,382.7 161.2,376.0 163.0,374.0 Z" fill="#a11201" stroke="none"/>
<path d="M163.0,374.0 C164.8,372.0 170.9,373.0 173.0,374.0 C175.1,375.0 175.3,377.7 175.5,380.0 C175.7,382.3 175.1,385.4 174.0,388.0 C172.9,390.6 170.7,394.5 169.0,395.5 C167.3,396.5 165.2,395.6 164.0,394.0 C162.8,392.4 162.2,389.3 162.0,386.0 C161.8,382.7 161.2,376.0 163.0,374.0 Z" fill="none" stroke="#000" stroke-width="1.5" stroke-linejoin="round"/>
<path d="M44.0,402.0 C44.7,401.2 47.3,400.7 49.0,401.0 C50.7,401.3 53.7,403.1 54.0,404.0 C54.3,404.9 52.5,406.3 51.0,406.6 C49.5,406.9 46.2,406.8 45.0,406.0 C43.8,405.2 43.3,402.8 44.0,402.0 Z" fill="#a11201" stroke="none"/>
<path d="M44.0,402.0 C44.7,401.2 47.3,400.7 49.0,401.0 C50.7,401.3 53.7,403.1 54.0,404.0 C54.3,404.9 52.5,406.3 51.0,406.6 C49.5,406.9 46.2,406.8 45.0,406.0 C43.8,405.2 43.3,402.8 44.0,402.0 Z" fill="none" stroke="#000" stroke-width="1.5" stroke-linejoin="round"/>
<path d="M272.2,393.5 C272.2,394.6 271.9,396.0 271.4,396.9 C270.9,397.8 270.1,398.7 269.3,399.0 C268.5,399.4 267.5,399.4 266.7,399.0 C265.9,398.7 265.1,397.8 264.6,396.9 C264.1,396.0 263.8,394.6 263.8,393.5 C263.8,392.4 264.1,391.0 264.6,390.1 C265.1,389.2 265.9,388.3 266.7,388.0 C267.5,387.6 268.5,387.6 269.3,388.0 C270.1,388.3 270.9,389.2 271.4,390.1 C271.9,391.0 272.2,392.4 272.2,393.5 Z" fill="#a11201" stroke="none"/>
<path d="M272.2,393.5 C272.2,394.6 271.9,396.0 271.4,396.9 C270.9,397.8 270.1,398.7 269.3,399.0 C268.5,399.4 267.5,399.4 266.7,399.0 C265.9,398.7 265.1,397.8 264.6,396.9 C264.1,396.0 263.8,394.6 263.8,393.5 C263.8,392.4 264.1,391.0 264.6,390.1 C265.1,389.2 265.9,388.3 266.7,388.0 C267.5,387.6 268.5,387.6 269.3,388.0 C270.1,388.3 270.9,389.2 271.4,390.1 C271.9,391.0 272.2,392.4 272.2,393.5 Z" fill="none" stroke="#000" stroke-width="1.5" stroke-linejoin="round"/>
<path d="M298.8,400.4 C298.8,401.2 298.6,402.2 298.2,402.9 C297.8,403.5 297.2,404.1 296.6,404.4 C296.0,404.6 295.2,404.6 294.6,404.4 C294.0,404.1 293.4,403.5 293.0,402.9 C292.6,402.2 292.4,401.2 292.4,400.4 C292.4,399.6 292.6,398.6 293.0,397.9 C293.4,397.3 294.0,396.7 294.6,396.4 C295.2,396.2 296.0,396.2 296.6,396.4 C297.2,396.7 297.8,397.3 298.2,397.9 C298.6,398.6 298.8,399.6 298.8,400.4 Z" fill="#a11201" stroke="none"/>
<path d="M298.8,400.4 C298.8,401.2 298.6,402.2 298.2,402.9 C297.8,403.5 297.2,404.1 296.6,404.4 C296.0,404.6 295.2,404.6 294.6,404.4 C294.0,404.1 293.4,403.5 293.0,402.9 C292.6,402.2 292.4,401.2 292.4,400.4 C292.4,399.6 292.6,398.6 293.0,397.9 C293.4,397.3 294.0,396.7 294.6,396.4 C295.2,396.2 296.0,396.2 296.6,396.4 C297.2,396.7 297.8,397.3 298.2,397.9 C298.6,398.6 298.8,399.6 298.8,400.4 Z" fill="none" stroke="#000" stroke-width="1.5" stroke-linejoin="round"/>
<path d="M275.3,412.0 C275.3,412.5 275.0,413.2 274.6,413.6 C274.1,414.1 273.4,414.5 272.7,414.7 C272.0,414.8 271.0,414.8 270.3,414.7 C269.6,414.5 268.9,414.1 268.4,413.6 C268.0,413.2 267.7,412.5 267.7,412.0 C267.7,411.5 268.0,410.8 268.4,410.4 C268.9,409.9 269.6,409.5 270.3,409.3 C271.0,409.2 272.0,409.2 272.7,409.3 C273.4,409.5 274.1,409.9 274.6,410.4 C275.0,410.8 275.3,411.5 275.3,412.0 Z" fill="#a11201" stroke="none"/>
<path d="M275.3,412.0 C275.3,412.5 275.0,413.2 274.6,413.6 C274.1,414.1 273.4,414.5 272.7,414.7 C272.0,414.8 271.0,414.8 270.3,414.7 C269.6,414.5 268.9,414.1 268.4,413.6 C268.0,413.2 267.7,412.5 267.7,412.0 C267.7,411.5 268.0,410.8 268.4,410.4 C268.9,409.9 269.6,409.5 270.3,409.3 C271.0,409.2 272.0,409.2 272.7,409.3 C273.4,409.5 274.1,409.9 274.6,410.4 C275.0,410.8 275.3,411.5 275.3,412.0 Z" fill="none" stroke="#000" stroke-width="1.5" stroke-linejoin="round"/>
<path d="M334.5,386.5 C334.5,387.4 334.3,388.4 334.0,389.1 C333.7,389.9 333.2,390.5 332.8,390.8 C332.3,391.1 331.7,391.1 331.2,390.8 C330.8,390.5 330.3,389.9 330.0,389.1 C329.7,388.4 329.5,387.4 329.5,386.5 C329.5,385.6 329.7,384.6 330.0,383.9 C330.3,383.1 330.8,382.5 331.2,382.2 C331.7,381.9 332.3,381.9 332.8,382.2 C333.2,382.5 333.7,383.1 334.0,383.9 C334.3,384.6 334.5,385.6 334.5,386.5 Z" fill="#a11201" stroke="none"/>
<path d="M334.5,386.5 C334.5,387.4 334.3,388.4 334.0,389.1 C333.7,389.9 333.2,390.5 332.8,390.8 C332.3,391.1 331.7,391.1 331.2,390.8 C330.8,390.5 330.3,389.9 330.0,389.1 C329.7,388.4 329.5,387.4 329.5,386.5 C329.5,385.6 329.7,384.6 330.0,383.9 C330.3,383.1 330.8,382.5 331.2,382.2 C331.7,381.9 332.3,381.9 332.8,382.2 C333.2,382.5 333.7,383.1 334.0,383.9 C334.3,384.6 334.5,385.6 334.5,386.5 Z" fill="none" stroke="#000" stroke-width="1.5" stroke-linejoin="round"/>
<path d="M72.0,419.0 C73.5,417.5 77.3,416.7 80.0,416.0 C82.7,415.3 85.8,414.7 88.0,415.0 C90.2,415.3 92.1,416.3 93.0,418.0 C93.9,419.7 94.2,422.8 93.5,425.0 C92.8,427.2 91.2,429.7 89.0,431.0 C86.8,432.3 82.7,433.0 80.0,433.0 C77.3,433.0 74.5,432.3 73.0,431.0 C71.5,429.7 71.2,427.0 71.0,425.0 C70.8,423.0 70.5,420.5 72.0,419.0 Z" fill="#a11201" stroke="none"/>
<path d="M72.0,419.0 C73.5,417.5 77.3,416.7 80.0,416.0 C82.7,415.3 85.8,414.7 88.0,415.0 C90.2,415.3 92.1,416.3 93.0,418.0 C93.9,419.7 94.2,422.8 93.5,425.0 C92.8,427.2 91.2,429.7 89.0,431.0 C86.8,432.3 82.7,433.0 80.0,433.0 C77.3,433.0 74.5,432.3 73.0,431.0 C71.5,429.7 71.2,427.0 71.0,425.0 C70.8,423.0 70.5,420.5 72.0,419.0 Z" fill="none" stroke="#000" stroke-width="1.5" stroke-linejoin="round"/>
<path d="M115.0,421.0 C116.4,419.3 119.2,417.8 121.0,417.0 C122.8,416.2 124.8,415.8 126.0,416.5 C127.2,417.2 127.8,419.1 128.0,421.0 C128.2,422.9 128.0,426.3 127.0,428.0 C126.0,429.7 123.8,430.7 122.0,431.0 C120.2,431.3 117.6,430.7 116.0,430.0 C114.4,429.3 112.7,428.5 112.5,427.0 C112.3,425.5 113.6,422.7 115.0,421.0 Z" fill="#a11201" stroke="none"/>
<path d="M115.0,421.0 C116.4,419.3 119.2,417.8 121.0,417.0 C122.8,416.2 124.8,415.8 126.0,416.5 C127.2,417.2 127.8,419.1 128.0,421.0 C128.2,422.9 128.0,426.3 127.0,428.0 C126.0,429.7 123.8,430.7 122.0,431.0 C120.2,431.3 117.6,430.7 116.0,430.0 C114.4,429.3 112.7,428.5 112.5,427.0 C112.3,425.5 113.6,422.7 115.0,421.0 Z" fill="none" stroke="#000" stroke-width="1.5" stroke-linejoin="round"/>
<path d="M198.8,423.0 C198.8,423.4 198.4,423.8 197.9,424.1 C197.3,424.3 196.4,424.6 195.5,424.7 C194.6,424.8 193.4,424.8 192.5,424.7 C191.6,424.6 190.7,424.3 190.1,424.1 C189.6,423.8 189.2,423.4 189.2,423.0 C189.2,422.6 189.6,422.2 190.1,421.9 C190.7,421.7 191.6,421.4 192.5,421.3 C193.4,421.2 194.6,421.2 195.5,421.3 C196.4,421.4 197.3,421.7 197.9,421.9 C198.4,422.2 198.8,422.6 198.8,423.0 Z" fill="#a11201" stroke="none"/>
<path d="M198.8,423.0 C198.8,423.4 198.4,423.8 197.9,424.1 C197.3,424.3 196.4,424.6 195.5,424.7 C194.6,424.8 193.4,424.8 192.5,424.7 C191.6,424.6 190.7,424.3 190.1,424.1 C189.6,423.8 189.2,423.4 189.2,423.0 C189.2,422.6 189.6,422.2 190.1,421.9 C190.7,421.7 191.6,421.4 192.5,421.3 C193.4,421.2 194.6,421.2 195.5,421.3 C196.4,421.4 197.3,421.7 197.9,421.9 C198.4,422.2 198.8,422.6 198.8,423.0 Z" fill="none" stroke="#000" stroke-width="1.5" stroke-linejoin="round"/>
<path d="M279.6,428.3 C279.6,429.0 279.2,429.8 278.6,430.4 C278.0,431.0 276.9,431.5 275.9,431.7 C275.0,431.9 273.6,431.9 272.7,431.7 C271.7,431.5 270.6,431.0 270.0,430.4 C269.4,429.8 269.0,429.0 269.0,428.3 C269.0,427.6 269.4,426.8 270.0,426.2 C270.6,425.6 271.7,425.1 272.7,424.9 C273.6,424.7 275.0,424.7 275.9,424.9 C276.9,425.1 278.0,425.6 278.6,426.2 C279.2,426.8 279.6,427.6 279.6,428.3 Z" fill="#a11201" stroke="none"/>
<path d="M279.6,428.3 C279.6,429.0 279.2,429.8 278.6,430.4 C278.0,431.0 276.9,431.5 275.9,431.7 C275.0,431.9 273.6,431.9 272.7,431.7 C271.7,431.5 270.6,431.0 270.0,430.4 C269.4,429.8 269.0,429.0 269.0,428.3 C269.0,427.6 269.4,426.8 270.0,426.2 C270.6,425.6 271.7,425.1 272.7,424.9 C273.6,424.7 275.0,424.7 275.9,424.9 C276.9,425.1 278.0,425.6 278.6,426.2 C279.2,426.8 279.6,427.6 279.6,428.3 Z" fill="none" stroke="#000" stroke-width="1.5" stroke-linejoin="round"/>
<path d="M267.0,443.0 C267.0,441.5 270.0,439.1 272.0,438.0 C274.0,436.9 276.7,436.3 279.0,436.5 C281.3,436.7 284.3,438.0 286.0,439.0 C287.7,440.0 289.7,441.2 289.0,442.5 C288.3,443.8 284.8,445.8 282.0,446.5 C279.2,447.2 274.5,447.6 272.0,447.0 C269.5,446.4 267.0,444.5 267.0,443.0 Z" fill="#a11201" stroke="none"/>
<path d="M267.0,443.0 C267.0,441.5 270.0,439.1 272.0,438.0 C274.0,436.9 276.7,436.3 279.0,436.5 C281.3,436.7 284.3,438.0 286.0,439.0 C287.7,440.0 289.7,441.2 289.0,442.5 C288.3,443.8 284.8,445.8 282.0,446.5 C279.2,447.2 274.5,447.6 272.0,447.0 C269.5,446.4 267.0,444.5 267.0,443.0 Z" fill="none" stroke="#000" stroke-width="1.5" stroke-linejoin="round"/>
<path d="M39.0,451.2 C42.5,450.6 55.1,451.1 59.7,451.2 C64.3,451.3 63.5,451.4 66.6,451.7 C69.7,452.0 75.7,452.6 78.5,453.1 C81.3,453.6 81.9,453.8 83.4,454.6 C84.9,455.4 87.1,457.3 87.3,458.1 C87.5,458.9 85.9,459.0 84.4,459.6 C82.9,460.2 79.9,460.8 78.5,461.5 C77.1,462.2 76.0,463.0 76.0,464.0 C76.0,465.0 77.9,466.3 78.5,467.4 C79.1,468.5 79.7,469.7 79.4,470.4 C79.1,471.1 77.4,471.1 76.5,471.4 C75.6,471.6 75.2,471.6 74.0,471.9 C72.8,472.1 71.6,472.6 69.6,472.9 C67.5,473.1 64.2,473.5 61.7,473.4 C59.2,473.3 57.3,473.1 54.8,472.4 C52.3,471.7 49.4,470.4 46.9,469.4 C44.4,468.4 41.3,467.8 40.0,466.5 C38.7,465.2 38.8,462.6 39.0,461.5 C39.2,460.4 41.0,460.4 41.4,459.6 C41.8,458.8 41.8,457.4 41.4,456.6 C41.0,455.8 39.4,455.5 39.0,454.6 C38.6,453.7 35.5,451.8 39.0,451.2 Z" fill="#a11201" stroke="none"/>
<path d="M39.0,451.2 C42.5,450.6 55.1,451.1 59.7,451.2 C64.3,451.3 63.5,451.4 66.6,451.7 C69.7,452.0 75.7,452.6 78.5,453.1 C81.3,453.6 81.9,453.8 83.4,454.6 C84.9,455.4 87.1,457.3 87.3,458.1 C87.5,458.9 85.9,459.0 84.4,459.6 C82.9,460.2 79.9,460.8 78.5,461.5 C77.1,462.2 76.0,463.0 76.0,464.0 C76.0,465.0 77.9,466.3 78.5,467.4 C79.1,468.5 79.7,469.7 79.4,470.4 C79.1,471.1 77.4,471.1 76.5,471.4 C75.6,471.6 75.2,471.6 74.0,471.9 C72.8,472.1 71.6,472.6 69.6,472.9 C67.5,473.1 64.2,473.5 61.7,473.4 C59.2,473.3 57.3,473.1 54.8,472.4 C52.3,471.7 49.4,470.4 46.9,469.4 C44.4,468.4 41.3,467.8 40.0,466.5 C38.7,465.2 38.8,462.6 39.0,461.5 C39.2,460.4 41.0,460.4 41.4,459.6 C41.8,458.8 41.8,457.4 41.4,456.6 C41.0,455.8 39.4,455.5 39.0,454.6 C38.6,453.7 35.5,451.8 39.0,451.2 Z" fill="none" stroke="#000" stroke-width="1.5" stroke-linejoin="round"/>
<path d="M270.0,471.0 C270.3,470.1 275.8,469.0 280.0,468.5 C284.2,468.0 290.0,467.9 295.0,468.0 C300.0,468.1 307.0,468.5 310.0,469.0 C313.0,469.5 313.8,470.2 313.0,471.0 C312.2,471.8 308.8,472.9 305.0,473.5 C301.2,474.1 294.5,474.3 290.0,474.4 C285.5,474.5 281.3,474.6 278.0,474.0 C274.7,473.4 269.7,471.9 270.0,471.0 Z" fill="#a11201" stroke="none"/>
<path d="M270.0,471.0 C270.3,470.1 275.8,469.0 280.0,468.5 C284.2,468.0 290.0,467.9 295.0,468.0 C300.0,468.1 307.0,468.5 310.0,469.0 C313.0,469.5 313.8,470.2 313.0,471.0 C312.2,471.8 308.8,472.9 305.0,473.5 C301.2,474.1 294.5,474.3 290.0,474.4 C285.5,474.5 281.3,474.6 278.0,474.0 C274.7,473.4 269.7,471.9 270.0,471.0 Z" fill="none" stroke="#000" stroke-width="1.5" stroke-linejoin="round"/>
<path d="M86.0,518.5 C88.0,517.7 92.7,516.2 100.0,515.5 C107.3,514.8 121.7,514.7 130.0,514.5 C138.3,514.3 144.7,514.3 150.0,514.5 C155.3,514.7 158.8,514.8 162.0,515.5 C165.2,516.2 167.7,517.5 169.0,518.5 C170.3,519.5 170.7,520.6 170.0,521.5 C169.3,522.4 168.3,523.7 165.0,524.0 C161.7,524.3 155.8,523.7 150.0,523.5 C144.2,523.3 138.3,523.2 130.0,523.0 C121.7,522.8 107.0,522.4 100.0,522.0 C93.0,521.6 90.3,521.1 88.0,520.5 C85.7,519.9 84.0,519.3 86.0,518.5 Z" fill="#a11201" stroke="none"/>
<path d="M86.0,518.5 C88.0,517.7 92.7,516.2 100.0,515.5 C107.3,514.8 121.7,514.7 130.0,514.5 C138.3,514.3 144.7,514.3 150.0,514.5 C155.3,514.7 158.8,514.8 162.0,515.5 C165.2,516.2 167.7,517.5 169.0,518.5 C170.3,519.5 170.7,520.6 170.0,521.5 C169.3,522.4 168.3,523.7 165.0,524.0 C161.7,524.3 155.8,523.7 150.0,523.5 C144.2,523.3 138.3,523.2 130.0,523.0 C121.7,522.8 107.0,522.4 100.0,522.0 C93.0,521.6 90.3,521.1 88.0,520.5 C85.7,519.9 84.0,519.3 86.0,518.5 Z" fill="none" stroke="#000" stroke-width="1.5" stroke-linejoin="round"/>
<path d="M38.1,346.2 L38.5,346.2 L39.0,346.2 L39.6,346.2 L40.3,355.6 L41.1,367.5 L42.1,379.0 L43.3,389.6 L44.7,399.3 L46.4,408.8 L48.4,417.8 L50.9,426.9 L53.9,435.8 L57.4,444.3 L61.4,452.3 L65.9,459.8 L70.9,466.8 L76.9,474.0 L83.9,481.1 L91.9,488.0 L100.9,494.6 L110.9,500.9 L121.9,506.9 L133.9,512.7 L146.9,518.1 L160.9,523.3 L174.9,528.0 L187.7,531.8 L200.4,528.0 L214.4,523.3 L228.4,518.1 L241.4,512.7 L253.4,506.9 L264.4,500.9 L274.4,494.6 L283.4,488.0 L291.4,481.1 L298.4,474.0 L304.4,466.8 L309.4,459.8 L313.9,452.3 L317.9,444.3 L321.4,435.8 L324.4,426.9 L326.9,417.8 L328.9,408.8 L330.6,399.3 L332.0,389.6 L333.2,379.0 L334.2,367.5 L335.0,355.6 L335.7,346.2 L336.3,346.2 L336.8,346.2 L337.2,346.2 L343.4,346.2 L343.4,533.4 L31.9,533.4 L31.9,346.2 Z" fill="#fff" fill-opacity="0.52" fill-rule="evenodd"/>
<path d="M38.1,346.2 L38.5,346.2 L39.0,346.2 L39.6,346.2 L40.3,355.6 L41.1,367.5 L42.1,379.0 L43.3,389.6 L44.7,399.3 L46.4,408.8 L48.4,417.8 L50.9,426.9 L53.9,435.8 L57.4,444.3 L61.4,452.3 L65.9,459.8 L70.9,466.8 L76.9,474.0 L83.9,481.1 L91.9,488.0 L100.9,494.6 L110.9,500.9 L121.9,506.9 L133.9,512.7 L146.9,518.1 L160.9,523.3 L174.9,528.0 L187.7,531.8 L200.4,528.0 L214.4,523.3 L228.4,518.1 L241.4,512.7 L253.4,506.9 L264.4,500.9 L274.4,494.6 L283.4,488.0 L291.4,481.1 L298.4,474.0 L304.4,466.8 L309.4,459.8 L313.9,452.3 L317.9,444.3 L321.4,435.8 L324.4,426.9 L326.9,417.8 L328.9,408.8 L330.6,399.3 L332.0,389.6 L333.2,379.0 L334.2,367.5 L335.0,355.6 L335.7,346.2 L336.3,346.2 L336.8,346.2 L337.2,346.2" fill="none" stroke="#000" stroke-width="0.7"/>
</g>
<rect x="36.9" y="376.2" width="301.5" height="152.2" fill="none" stroke="#3a3a3a" stroke-width="1.1"/>
<path d="M36.9,407.5h2.5M338.4,407.5h-2.5M36.9,438.4h2.5M338.4,438.4h-2.5M36.9,466.5h2.5M338.4,466.5h-2.5M36.9,495.3h2.5M338.4,495.3h-2.5M36.9,524.3h2.5M338.4,524.3h-2.5" stroke="#444" stroke-width="0.8" fill="none"/>
<text x="32.9" y="407.2" font-size="14.2" text-anchor="end">4</text>
<text x="32.9" y="438.1" font-size="14.2" text-anchor="end">8</text>
<text x="32.9" y="466.2" font-size="14.2" text-anchor="end">16</text>
<text x="32.9" y="495.0" font-size="14.2" text-anchor="end">32</text>
<text x="32.9" y="524.0" font-size="14.2" text-anchor="end">64</text>
<text transform="translate(12.9,497.7) rotate(-90)" font-size="14.4" textLength="90.4" lengthAdjust="spacingAndGlyphs">Period (month)</text>
<text x="57.1" y="541.5" font-size="14.2" text-anchor="middle">2001</text>
<text x="109.1" y="541.5" font-size="14.2" text-anchor="middle">2005</text>
<text x="169" y="541.5" font-size="14.2" text-anchor="middle">2009</text>
<text x="231.9" y="541.5" font-size="14.2" text-anchor="middle">2013</text>
<text x="295.5" y="541.5" font-size="14.2" text-anchor="middle">2017</text>
<text x="343" y="541.5" font-size="14.2" text-anchor="middle">2019</text>
<text x="97.4" y="375.2" font-size="14.6" textLength="170.1" lengthAdjust="spacingAndGlyphs">(e) AO-NAO-EA/WR-DPC5</text>
<g clip-path="url(#cp5)">
<rect x="378.0" y="376.8" width="300.6" height="151.7" fill="#f05b12"/>
<g filter="url(#bl)">
<rect x="374.0" y="367.32" width="308.6" height="9.98" fill="url(#g5_0)"/>
<rect x="374.0" y="376.80" width="308.6" height="9.98" fill="url(#g5_1)"/>
<rect x="374.0" y="386.28" width="308.6" height="9.98" fill="url(#g5_2)"/>
<rect x="374.0" y="395.76" width="308.6" height="9.98" fill="url(#g5_3)"/>
<rect x="374.0" y="405.24" width="308.6" height="9.98" fill="url(#g5_4)"/>
<rect x="374.0" y="414.73" width="308.6" height="9.98" fill="url(#g5_5)"/>
<rect x="374.0" y="424.21" width="308.6" height="9.98" fill="url(#g5_6)"/>
<rect x="374.0" y="433.69" width="308.6" height="9.98" fill="url(#g5_7)"/>
<rect x="374.0" y="443.17" width="308.6" height="9.98" fill="url(#g5_8)"/>
<rect x="374.0" y="452.65" width="308.6" height="9.98" fill="url(#g5_9)"/>
<rect x="374.0" y="462.13" width="308.6" height="9.98" fill="url(#g5_10)"/>
<rect x="374.0" y="471.61" width="308.6" height="9.98" fill="url(#g5_11)"/>
<rect x="374.0" y="481.09" width="308.6" height="9.98" fill="url(#g5_12)"/>
<rect x="374.0" y="490.57" width="308.6" height="9.98" fill="url(#g5_13)"/>
<rect x="374.0" y="500.06" width="308.6" height="9.98" fill="url(#g5_14)"/>
<rect x="374.0" y="509.54" width="308.6" height="9.98" fill="url(#g5_15)"/>
<rect x="374.0" y="519.02" width="308.6" height="9.98" fill="url(#g5_16)"/>
<rect x="374.0" y="528.50" width="308.6" height="9.98" fill="url(#g5_17)"/>
</g>
<path d="M403.9,381.3 C403.6,382.1 403.2,382.9 402.7,383.4 C402.2,383.9 401.5,384.3 400.9,384.4 C400.3,384.5 399.7,384.3 399.2,383.9 C398.8,383.5 398.5,382.8 398.3,382.1 C398.2,381.4 398.3,380.4 398.5,379.7 C398.8,378.9 399.2,378.1 399.7,377.6 C400.2,377.1 400.9,376.7 401.5,376.6 C402.1,376.5 402.7,376.7 403.2,377.1 C403.6,377.5 403.9,378.2 404.1,378.9 C404.2,379.6 404.1,380.6 403.9,381.3 Z" fill="#a11201" stroke="none"/>
<path d="M403.9,381.3 C403.6,382.1 403.2,382.9 402.7,383.4 C402.2,383.9 401.5,384.3 400.9,384.4 C400.3,384.5 399.7,384.3 399.2,383.9 C398.8,383.5 398.5,382.8 398.3,382.1 C398.2,381.4 398.3,380.4 398.5,379.7 C398.8,378.9 399.2,378.1 399.7,377.6 C400.2,377.1 400.9,376.7 401.5,376.6 C402.1,376.5 402.7,376.7 403.2,377.1 C403.6,377.5 403.9,378.2 404.1,378.9 C404.2,379.6 404.1,380.6 403.9,381.3 Z" fill="none" stroke="#000" stroke-width="1.5" stroke-linejoin="round"/>
<path d="M515.6,393.0 C515.6,394.0 515.3,395.3 514.9,396.1 C514.4,397.0 513.7,397.7 513.0,398.0 C512.3,398.4 511.3,398.4 510.6,398.0 C509.9,397.7 509.2,397.0 508.7,396.1 C508.3,395.3 508.0,394.0 508.0,393.0 C508.0,392.0 508.3,390.7 508.7,389.9 C509.2,389.0 509.9,388.3 510.6,388.0 C511.3,387.6 512.3,387.6 513.0,388.0 C513.7,388.3 514.4,389.0 514.9,389.9 C515.3,390.7 515.6,392.0 515.6,393.0 Z" fill="#a11201" stroke="none"/>
<path d="M515.6,393.0 C515.6,394.0 515.3,395.3 514.9,396.1 C514.4,397.0 513.7,397.7 513.0,398.0 C512.3,398.4 511.3,398.4 510.6,398.0 C509.9,397.7 509.2,397.0 508.7,396.1 C508.3,395.3 508.0,394.0 508.0,393.0 C508.0,392.0 508.3,390.7 508.7,389.9 C509.2,389.0 509.9,388.3 510.6,388.0 C511.3,387.6 512.3,387.6 513.0,388.0 C513.7,388.3 514.4,389.0 514.9,389.9 C515.3,390.7 515.6,392.0 515.6,393.0 Z" fill="none" stroke="#000" stroke-width="1.5" stroke-linejoin="round"/>
<path d="M397.5,401.3 C397.5,401.6 397.4,401.9 397.2,402.2 C397.0,402.4 396.7,402.6 396.5,402.7 C396.2,402.8 395.8,402.8 395.5,402.7 C395.3,402.6 395.0,402.4 394.8,402.2 C394.6,401.9 394.5,401.6 394.5,401.3 C394.5,401.0 394.6,400.7 394.8,400.4 C395.0,400.2 395.3,400.0 395.5,399.9 C395.8,399.8 396.2,399.8 396.5,399.9 C396.7,400.0 397.0,400.2 397.2,400.4 C397.4,400.7 397.5,401.0 397.5,401.3 Z" fill="#a11201" stroke="none"/>
<path d="M397.5,401.3 C397.5,401.6 397.4,401.9 397.2,402.2 C397.0,402.4 396.7,402.6 396.5,402.7 C396.2,402.8 395.8,402.8 395.5,402.7 C395.3,402.6 395.0,402.4 394.8,402.2 C394.6,401.9 394.5,401.6 394.5,401.3 C394.5,401.0 394.6,400.7 394.8,400.4 C395.0,400.2 395.3,400.0 395.5,399.9 C395.8,399.8 396.2,399.8 396.5,399.9 C396.7,400.0 397.0,400.2 397.2,400.4 C397.4,400.7 397.5,401.0 397.5,401.3 Z" fill="none" stroke="#000" stroke-width="1.5" stroke-linejoin="round"/>
<path d="M469.0,409.0 C469.8,407.9 472.6,408.2 474.0,408.5 C475.4,408.8 477.0,409.8 477.5,411.0 C478.0,412.2 477.8,414.8 477.0,416.0 C476.2,417.2 474.2,418.2 473.0,418.0 C471.8,417.8 470.2,416.5 469.5,415.0 C468.8,413.5 468.2,410.1 469.0,409.0 Z" fill="#a11201" stroke="none"/>
<path d="M469.0,409.0 C469.8,407.9 472.6,408.2 474.0,408.5 C475.4,408.8 477.0,409.8 477.5,411.0 C478.0,412.2 477.8,414.8 477.0,416.0 C476.2,417.2 474.2,418.2 473.0,418.0 C471.8,417.8 470.2,416.5 469.5,415.0 C468.8,413.5 468.2,410.1 469.0,409.0 Z" fill="none" stroke="#000" stroke-width="1.5" stroke-linejoin="round"/>
<path d="M522.0,374.0 C520.6,375.0 522.2,378.5 523.0,380.0 C523.8,381.5 525.7,383.0 527.0,383.0 C528.3,383.0 530.2,381.5 531.0,380.0 C531.8,378.5 533.0,375.0 531.5,374.0 C530.0,373.0 523.4,373.0 522.0,374.0 Z" fill="#a11201" stroke="none"/>
<path d="M522.0,374.0 C520.6,375.0 522.2,378.5 523.0,380.0 C523.8,381.5 525.7,383.0 527.0,383.0 C528.3,383.0 530.2,381.5 531.0,380.0 C531.8,378.5 533.0,375.0 531.5,374.0 C530.0,373.0 523.4,373.0 522.0,374.0 Z" fill="none" stroke="#000" stroke-width="1.5" stroke-linejoin="round"/>
<path d="M585.0,374.0 C587.2,372.0 597.3,372.7 600.0,374.0 C602.7,375.3 601.0,379.3 601.0,382.0 C601.0,384.7 600.7,388.0 600.0,390.0 C599.3,392.0 598.7,393.5 597.0,394.0 C595.3,394.5 591.7,394.3 590.0,393.0 C588.3,391.7 587.8,389.2 587.0,386.0 C586.2,382.8 582.8,376.0 585.0,374.0 Z" fill="#a11201" stroke="none"/>
<path d="M585.0,374.0 C587.2,372.0 597.3,372.7 600.0,374.0 C602.7,375.3 601.0,379.3 601.0,382.0 C601.0,384.7 600.7,388.0 600.0,390.0 C599.3,392.0 598.7,393.5 597.0,394.0 C595.3,394.5 591.7,394.3 590.0,393.0 C588.3,391.7 587.8,389.2 587.0,386.0 C586.2,382.8 582.8,376.0 585.0,374.0 Z" fill="none" stroke="#000" stroke-width="1.5" stroke-linejoin="round"/>
<path d="M600.9,403.0 C600.9,404.2 600.4,405.6 599.7,406.5 C599.0,407.5 597.7,408.3 596.5,408.7 C595.4,409.1 593.8,409.1 592.7,408.7 C591.5,408.3 590.2,407.5 589.5,406.5 C588.8,405.6 588.3,404.2 588.3,403.0 C588.3,401.8 588.8,400.4 589.5,399.5 C590.2,398.5 591.5,397.7 592.7,397.3 C593.8,396.9 595.4,396.9 596.5,397.3 C597.7,397.7 599.0,398.5 599.7,399.5 C600.4,400.4 600.9,401.8 600.9,403.0 Z" fill="#a11201" stroke="none"/>
<path d="M600.9,403.0 C600.9,404.2 600.4,405.6 599.7,406.5 C599.0,407.5 597.7,408.3 596.5,408.7 C595.4,409.1 593.8,409.1 592.7,408.7 C591.5,408.3 590.2,407.5 589.5,406.5 C588.8,405.6 588.3,404.2 588.3,403.0 C588.3,401.8 588.8,400.4 589.5,399.5 C590.2,398.5 591.5,397.7 592.7,397.3 C593.8,396.9 595.4,396.9 596.5,397.3 C597.7,397.7 599.0,398.5 599.7,399.5 C600.4,400.4 600.9,401.8 600.9,403.0 Z" fill="none" stroke="#000" stroke-width="1.5" stroke-linejoin="round"/>
<path d="M572.8,397.2 C572.8,397.5 572.6,397.8 572.3,398.1 C572.0,398.3 571.5,398.5 571.1,398.6 C570.6,398.7 570.0,398.7 569.5,398.6 C569.1,398.5 568.6,398.3 568.3,398.1 C568.0,397.8 567.8,397.5 567.8,397.2 C567.8,396.9 568.0,396.6 568.3,396.3 C568.6,396.1 569.1,395.9 569.5,395.8 C570.0,395.7 570.6,395.7 571.1,395.8 C571.5,395.9 572.0,396.1 572.3,396.3 C572.6,396.6 572.8,396.9 572.8,397.2 Z" fill="#a11201" stroke="none"/>
<path d="M572.8,397.2 C572.8,397.5 572.6,397.8 572.3,398.1 C572.0,398.3 571.5,398.5 571.1,398.6 C570.6,398.7 570.0,398.7 569.5,398.6 C569.1,398.5 568.6,398.3 568.3,398.1 C568.0,397.8 567.8,397.5 567.8,397.2 C567.8,396.9 568.0,396.6 568.3,396.3 C568.6,396.1 569.1,395.9 569.5,395.8 C570.0,395.7 570.6,395.7 571.1,395.8 C571.5,395.9 572.0,396.1 572.3,396.3 C572.6,396.6 572.8,396.9 572.8,397.2 Z" fill="none" stroke="#000" stroke-width="1.5" stroke-linejoin="round"/>
<path d="M633.7,405.6 C633.7,405.9 633.5,406.2 633.3,406.5 C633.1,406.7 632.7,406.9 632.3,407.0 C631.9,407.1 631.5,407.1 631.1,407.0 C630.7,406.9 630.3,406.7 630.1,406.5 C629.9,406.2 629.7,405.9 629.7,405.6 C629.7,405.3 629.9,405.0 630.1,404.7 C630.3,404.5 630.7,404.3 631.1,404.2 C631.5,404.1 631.9,404.1 632.3,404.2 C632.7,404.3 633.1,404.5 633.3,404.7 C633.5,405.0 633.7,405.3 633.7,405.6 Z" fill="#a11201" stroke="none"/>
<path d="M633.7,405.6 C633.7,405.9 633.5,406.2 633.3,406.5 C633.1,406.7 632.7,406.9 632.3,407.0 C631.9,407.1 631.5,407.1 631.1,407.0 C630.7,406.9 630.3,406.7 630.1,406.5 C629.9,406.2 629.7,405.9 629.7,405.6 C629.7,405.3 629.9,405.0 630.1,404.7 C630.3,404.5 630.7,404.3 631.1,404.2 C631.5,404.1 631.9,404.1 632.3,404.2 C632.7,404.3 633.1,404.5 633.3,404.7 C633.5,405.0 633.7,405.3 633.7,405.6 Z" fill="none" stroke="#000" stroke-width="1.5" stroke-linejoin="round"/>
<path d="M376.0,436.5 C379.0,434.3 389.6,435.5 394.2,435.4 C398.8,435.3 400.8,436.0 403.6,436.0 C406.5,436.0 409.3,436.2 411.3,435.4 C413.3,434.6 414.2,432.6 415.7,431.0 C417.2,429.4 418.5,427.1 420.1,426.1 C421.8,425.1 424.0,424.6 425.6,425.0 C427.2,425.4 429.6,426.8 430.0,428.3 C430.4,429.9 428.5,432.8 427.8,434.3 C427.1,435.9 425.1,436.6 425.6,437.6 C426.2,438.6 430.2,439.4 431.1,440.4 C432.0,441.4 432.4,442.6 431.1,443.7 C429.8,444.8 426.5,446.1 423.4,447.0 C420.3,447.9 416.2,448.8 412.4,449.2 C408.5,449.6 404.5,449.6 400.3,449.5 C396.1,449.4 391.1,449.0 387.0,448.9 C382.9,448.8 377.8,450.8 376.0,448.7 C374.2,446.6 373.0,438.7 376.0,436.5 Z" fill="#a11201" stroke="none"/>
<path d="M376.0,436.5 C379.0,434.3 389.6,435.5 394.2,435.4 C398.8,435.3 400.8,436.0 403.6,436.0 C406.5,436.0 409.3,436.2 411.3,435.4 C413.3,434.6 414.2,432.6 415.7,431.0 C417.2,429.4 418.5,427.1 420.1,426.1 C421.8,425.1 424.0,424.6 425.6,425.0 C427.2,425.4 429.6,426.8 430.0,428.3 C430.4,429.9 428.5,432.8 427.8,434.3 C427.1,435.9 425.1,436.6 425.6,437.6 C426.2,438.6 430.2,439.4 431.1,440.4 C432.0,441.4 432.4,442.6 431.1,443.7 C429.8,444.8 426.5,446.1 423.4,447.0 C420.3,447.9 416.2,448.8 412.4,449.2 C408.5,449.6 404.5,449.6 400.3,449.5 C396.1,449.4 391.1,449.0 387.0,448.9 C382.9,448.8 377.8,450.8 376.0,448.7 C374.2,446.6 373.0,438.7 376.0,436.5 Z" fill="none" stroke="#000" stroke-width="1.5" stroke-linejoin="round"/>
<path d="M630.0,423.0 C630.8,421.8 633.8,421.3 636.0,421.5 C638.2,421.7 640.8,422.8 643.0,424.0 C645.2,425.2 647.7,427.4 649.0,429.0 C650.3,430.6 651.5,432.5 651.0,433.5 C650.5,434.5 648.2,435.1 646.0,435.0 C643.8,434.9 640.5,434.1 638.0,433.0 C635.5,431.9 632.3,430.2 631.0,428.5 C629.7,426.8 629.2,424.2 630.0,423.0 Z" fill="#a11201" stroke="none"/>
<path d="M630.0,423.0 C630.8,421.8 633.8,421.3 636.0,421.5 C638.2,421.7 640.8,422.8 643.0,424.0 C645.2,425.2 647.7,427.4 649.0,429.0 C650.3,430.6 651.5,432.5 651.0,433.5 C650.5,434.5 648.2,435.1 646.0,435.0 C643.8,434.9 640.5,434.1 638.0,433.0 C635.5,431.9 632.3,430.2 631.0,428.5 C629.7,426.8 629.2,424.2 630.0,423.0 Z" fill="none" stroke="#000" stroke-width="1.5" stroke-linejoin="round"/>
<path d="M655.0,429.0 C655.7,428.1 658.3,426.6 660.0,426.0 C661.7,425.4 664.1,424.5 665.0,425.5 C665.9,426.5 666.3,430.8 665.5,432.0 C664.7,433.2 661.6,433.1 660.0,433.0 C658.4,432.9 656.8,432.2 656.0,431.5 C655.2,430.8 654.3,429.9 655.0,429.0 Z" fill="#a11201" stroke="none"/>
<path d="M655.0,429.0 C655.7,428.1 658.3,426.6 660.0,426.0 C661.7,425.4 664.1,424.5 665.0,425.5 C665.9,426.5 666.3,430.8 665.5,432.0 C664.7,433.2 661.6,433.1 660.0,433.0 C658.4,432.9 656.8,432.2 656.0,431.5 C655.2,430.8 654.3,429.9 655.0,429.0 Z" fill="none" stroke="#000" stroke-width="1.5" stroke-linejoin="round"/>
<path d="M596.3,439.6 C596.4,440.2 595.9,441.0 594.9,441.7 C593.9,442.4 592.1,443.2 590.4,443.7 C588.7,444.2 586.5,444.7 584.7,444.9 C582.9,445.1 581.0,445.0 579.8,444.8 C578.7,444.5 577.8,444.0 577.7,443.4 C577.6,442.8 578.1,442.0 579.1,441.3 C580.1,440.6 581.9,439.8 583.6,439.3 C585.3,438.8 587.5,438.3 589.3,438.1 C591.1,437.9 593.0,438.0 594.2,438.2 C595.3,438.5 596.2,439.0 596.3,439.6 Z" fill="#a11201" stroke="none"/>
<path d="M596.3,439.6 C596.4,440.2 595.9,441.0 594.9,441.7 C593.9,442.4 592.1,443.2 590.4,443.7 C588.7,444.2 586.5,444.7 584.7,444.9 C582.9,445.1 581.0,445.0 579.8,444.8 C578.7,444.5 577.8,444.0 577.7,443.4 C577.6,442.8 578.1,442.0 579.1,441.3 C580.1,440.6 581.9,439.8 583.6,439.3 C585.3,438.8 587.5,438.3 589.3,438.1 C591.1,437.9 593.0,438.0 594.2,438.2 C595.3,438.5 596.2,439.0 596.3,439.6 Z" fill="none" stroke="#000" stroke-width="1.5" stroke-linejoin="round"/>
<path d="M540.0,460.0 C541.3,459.1 547.0,457.0 550.0,456.0 C553.0,455.0 556.2,455.5 558.0,454.0 C559.8,452.5 559.7,448.5 561.0,447.0 C562.3,445.5 563.7,445.2 566.0,445.0 C568.3,444.8 572.8,445.0 575.0,446.0 C577.2,447.0 578.5,449.3 579.0,451.0 C579.5,452.7 579.5,454.7 578.0,456.0 C576.5,457.3 573.8,458.1 570.0,459.0 C566.2,459.9 559.7,461.1 555.0,461.5 C550.3,461.9 544.5,461.8 542.0,461.5 C539.5,461.2 538.7,460.9 540.0,460.0 Z" fill="#a11201" stroke="none"/>
<path d="M540.0,460.0 C541.3,459.1 547.0,457.0 550.0,456.0 C553.0,455.0 556.2,455.5 558.0,454.0 C559.8,452.5 559.7,448.5 561.0,447.0 C562.3,445.5 563.7,445.2 566.0,445.0 C568.3,444.8 572.8,445.0 575.0,446.0 C577.2,447.0 578.5,449.3 579.0,451.0 C579.5,452.7 579.5,454.7 578.0,456.0 C576.5,457.3 573.8,458.1 570.0,459.0 C566.2,459.9 559.7,461.1 555.0,461.5 C550.3,461.9 544.5,461.8 542.0,461.5 C539.5,461.2 538.7,460.9 540.0,460.0 Z" fill="none" stroke="#000" stroke-width="1.5" stroke-linejoin="round"/>
<path d="M634.0,450.5 C634.0,451.1 633.7,451.8 633.2,452.3 C632.8,452.7 632.0,453.2 631.2,453.4 C630.5,453.5 629.5,453.5 628.8,453.4 C628.0,453.2 627.2,452.7 626.8,452.3 C626.3,451.8 626.0,451.1 626.0,450.5 C626.0,449.9 626.3,449.2 626.8,448.7 C627.2,448.3 628.0,447.8 628.8,447.6 C629.5,447.5 630.5,447.5 631.2,447.6 C632.0,447.8 632.8,448.3 633.2,448.7 C633.7,449.2 634.0,449.9 634.0,450.5 Z" fill="#a11201" stroke="none"/>
<path d="M634.0,450.5 C634.0,451.1 633.7,451.8 633.2,452.3 C632.8,452.7 632.0,453.2 631.2,453.4 C630.5,453.5 629.5,453.5 628.8,453.4 C628.0,453.2 627.2,452.7 626.8,452.3 C626.3,451.8 626.0,451.1 626.0,450.5 C626.0,449.9 626.3,449.2 626.8,448.7 C627.2,448.3 628.0,447.8 628.8,447.6 C629.5,447.5 630.5,447.5 631.2,447.6 C632.0,447.8 632.8,448.3 633.2,448.7 C633.7,449.2 634.0,449.9 634.0,450.5 Z" fill="none" stroke="#000" stroke-width="1.5" stroke-linejoin="round"/>
<path d="M376.0,491.0 C377.5,489.7 382.3,487.5 385.0,486.0 C387.7,484.5 389.3,483.3 392.0,482.0 C394.7,480.7 396.3,478.8 401.0,478.0 C405.7,477.2 412.9,476.8 420.3,477.0 C427.8,477.2 439.7,477.6 445.7,479.0 C451.7,480.4 452.8,483.6 456.3,485.4 C459.8,487.2 460.2,488.3 466.9,489.6 C473.6,490.9 489.4,491.9 496.5,493.0 C503.6,494.1 507.8,495.2 509.2,496.0 C510.6,496.8 509.2,497.5 505.0,498.0 C500.8,498.5 490.9,499.0 483.8,499.0 C476.7,499.0 469.7,498.6 462.6,498.0 C455.6,497.4 448.6,496.1 441.5,495.5 C434.4,494.9 430.9,494.8 420.0,494.5 C409.1,494.2 383.3,494.6 376.0,494.0 C368.7,493.4 374.5,492.3 376.0,491.0 Z" fill="#a11201" stroke="none"/>
<path d="M376.0,491.0 C377.5,489.7 382.3,487.5 385.0,486.0 C387.7,484.5 389.3,483.3 392.0,482.0 C394.7,480.7 396.3,478.8 401.0,478.0 C405.7,477.2 412.9,476.8 420.3,477.0 C427.8,477.2 439.7,477.6 445.7,479.0 C451.7,480.4 452.8,483.6 456.3,485.4 C459.8,487.2 460.2,488.3 466.9,489.6 C473.6,490.9 489.4,491.9 496.5,493.0 C503.6,494.1 507.8,495.2 509.2,496.0 C510.6,496.8 509.2,497.5 505.0,498.0 C500.8,498.5 490.9,499.0 483.8,499.0 C476.7,499.0 469.7,498.6 462.6,498.0 C455.6,497.4 448.6,496.1 441.5,495.5 C434.4,494.9 430.9,494.8 420.0,494.5 C409.1,494.2 383.3,494.6 376.0,494.0 C368.7,493.4 374.5,492.3 376.0,491.0 Z" fill="none" stroke="#000" stroke-width="1.5" stroke-linejoin="round"/>
<path d="M376.0,509.0 C383.3,504.8 404.2,509.9 420.0,509.5 C435.8,509.1 453.3,507.2 471.0,506.6 C488.7,506.0 509.8,506.4 526.0,505.7 C542.2,505.0 555.7,503.2 568.4,502.3 C581.1,501.4 591.7,500.4 602.3,500.2 C612.9,500.0 618.9,500.6 632.0,501.0 C645.1,501.4 672.8,496.6 681.0,502.3 C689.2,508.0 731.8,529.5 681.0,535.0 C630.2,540.5 426.8,539.3 376.0,535.0 C325.2,530.7 368.7,513.2 376.0,509.0 Z" fill="#a11201" stroke="none"/>
<path d="M376.0,509.0 C383.3,504.8 404.2,509.9 420.0,509.5 C435.8,509.1 453.3,507.2 471.0,506.6 C488.7,506.0 509.8,506.4 526.0,505.7 C542.2,505.0 555.7,503.2 568.4,502.3 C581.1,501.4 591.7,500.4 602.3,500.2 C612.9,500.0 618.9,500.6 632.0,501.0 C645.1,501.4 672.8,496.6 681.0,502.3 C689.2,508.0 731.8,529.5 681.0,535.0 C630.2,540.5 426.8,539.3 376.0,535.0 C325.2,530.7 368.7,513.2 376.0,509.0 Z" fill="none" stroke="#000" stroke-width="1.5" stroke-linejoin="round"/>
<path d="M376.0,520.5 C385.0,520.4 412.7,519.9 430.0,520.0 C447.3,520.1 471.7,520.8 480.0,521.0" fill="none" stroke="#000" stroke-width="1.5" stroke-linejoin="round"/>
<path d="M379.2,346.8 L379.6,346.8 L380.1,346.8 L380.7,346.8 L381.4,356.2 L382.2,368.1 L383.2,379.6 L384.4,390.2 L385.8,399.9 L387.5,409.4 L389.5,418.4 L392.0,427.5 L395.0,436.4 L398.5,444.9 L402.5,452.9 L407.0,460.4 L412.0,467.4 L418.0,474.6 L425.0,481.7 L433.0,488.6 L442.0,495.2 L452.0,501.5 L463.0,507.5 L475.0,513.3 L488.0,518.7 L502.0,523.9 L516.0,528.6 L528.3,532.3 L540.6,528.6 L554.6,523.9 L568.6,518.7 L581.6,513.3 L593.6,507.5 L604.6,501.5 L614.6,495.2 L623.6,488.6 L631.6,481.7 L638.6,474.6 L644.6,467.4 L649.6,460.4 L654.1,452.9 L658.1,444.9 L661.6,436.4 L664.6,427.5 L667.1,418.4 L669.1,409.4 L670.8,399.9 L672.2,390.2 L673.4,379.6 L674.4,368.1 L675.2,356.2 L675.9,346.8 L676.5,346.8 L677.0,346.8 L677.4,346.8 L683.6,346.8 L683.6,533.5 L373.0,533.5 L373.0,346.8 Z" fill="#fff" fill-opacity="0.52" fill-rule="evenodd"/>
<path d="M379.2,346.8 L379.6,346.8 L380.1,346.8 L380.7,346.8 L381.4,356.2 L382.2,368.1 L383.2,379.6 L384.4,390.2 L385.8,399.9 L387.5,409.4 L389.5,418.4 L392.0,427.5 L395.0,436.4 L398.5,444.9 L402.5,452.9 L407.0,460.4 L412.0,467.4 L418.0,474.6 L425.0,481.7 L433.0,488.6 L442.0,495.2 L452.0,501.5 L463.0,507.5 L475.0,513.3 L488.0,518.7 L502.0,523.9 L516.0,528.6 L528.3,532.3 L540.6,528.6 L554.6,523.9 L568.6,518.7 L581.6,513.3 L593.6,507.5 L604.6,501.5 L614.6,495.2 L623.6,488.6 L631.6,481.7 L638.6,474.6 L644.6,467.4 L649.6,460.4 L654.1,452.9 L658.1,444.9 L661.6,436.4 L664.6,427.5 L667.1,418.4 L669.1,409.4 L670.8,399.9 L672.2,390.2 L673.4,379.6 L674.4,368.1 L675.2,356.2 L675.9,346.8 L676.5,346.8 L677.0,346.8 L677.4,346.8" fill="none" stroke="#000" stroke-width="0.7"/>
</g>
<rect x="378.0" y="376.8" width="300.6" height="151.7" fill="none" stroke="#3a3a3a" stroke-width="1.1"/>
<path d="M378.0,400.0h2.5M678.6,400.0h-2.5M378.0,429.1h2.5M678.6,429.1h-2.5M378.0,458.4h2.5M678.6,458.4h-2.5M378.0,487.9h2.5M678.6,487.9h-2.5M378.0,517.5h2.5M678.6,517.5h-2.5" stroke="#444" stroke-width="0.8" fill="none"/>
<text x="370.4" y="399.7" font-size="14.2" text-anchor="end">4</text>
<text x="370.4" y="428.8" font-size="14.2" text-anchor="end">8</text>
<text x="370.4" y="458.1" font-size="14.2" text-anchor="end">16</text>
<text x="370.4" y="487.6" font-size="14.2" text-anchor="end">32</text>
<text x="370.4" y="517.2" font-size="14.2" text-anchor="end">64</text>
<text transform="translate(349.9,489.7) rotate(-90)" font-size="14.4" textLength="90.4" lengthAdjust="spacingAndGlyphs">Period (month)</text>
<text x="393.5" y="541.5" font-size="14.2" text-anchor="middle">2001</text>
<text x="445.8" y="541.5" font-size="14.2" text-anchor="middle">2005</text>
<text x="505" y="541.5" font-size="14.2" text-anchor="middle">2009</text>
<text x="568.8" y="541.5" font-size="14.2" text-anchor="middle">2013</text>
<text x="631.1" y="541.5" font-size="14.2" text-anchor="middle">2017</text>
<text x="679.1" y="541.5" font-size="14.2" text-anchor="middle">2019</text>
<text x="440.2" y="375.0" font-size="14.6" textLength="152.2" lengthAdjust="spacingAndGlyphs">(f) TSA-POL-ONI-DPC6</text>
<g clip-path="url(#cp6)">
<rect x="37.2" y="557.4" width="300.6" height="152.80000000000007" fill="#f05b12"/>
<g filter="url(#bl)">
<rect x="33.2" y="547.85" width="308.6" height="10.05" fill="url(#g6_0)"/>
<rect x="33.2" y="557.40" width="308.6" height="10.05" fill="url(#g6_1)"/>
<rect x="33.2" y="566.95" width="308.6" height="10.05" fill="url(#g6_2)"/>
<rect x="33.2" y="576.50" width="308.6" height="10.05" fill="url(#g6_3)"/>
<rect x="33.2" y="586.05" width="308.6" height="10.05" fill="url(#g6_4)"/>
<rect x="33.2" y="595.60" width="308.6" height="10.05" fill="url(#g6_5)"/>
<rect x="33.2" y="605.15" width="308.6" height="10.05" fill="url(#g6_6)"/>
<rect x="33.2" y="614.70" width="308.6" height="10.05" fill="url(#g6_7)"/>
<rect x="33.2" y="624.25" width="308.6" height="10.05" fill="url(#g6_8)"/>
<rect x="33.2" y="633.80" width="308.6" height="10.05" fill="url(#g6_9)"/>
<rect x="33.2" y="643.35" width="308.6" height="10.05" fill="url(#g6_10)"/>
<rect x="33.2" y="652.90" width="308.6" height="10.05" fill="url(#g6_11)"/>
<rect x="33.2" y="662.45" width="308.6" height="10.05" fill="url(#g6_12)"/>
<rect x="33.2" y="672.00" width="308.6" height="10.05" fill="url(#g6_13)"/>
<rect x="33.2" y="681.55" width="308.6" height="10.05" fill="url(#g6_14)"/>
<rect x="33.2" y="691.10" width="308.6" height="10.05" fill="url(#g6_15)"/>
<rect x="33.2" y="700.65" width="308.6" height="10.05" fill="url(#g6_16)"/>
<rect x="33.2" y="710.20" width="308.6" height="10.05" fill="url(#g6_17)"/>
</g>
<g filter="url(#bl2)">
<rect x="37" y="642.0" width="108" height="7.0" fill="#c3f134"/>
<rect x="50" y="643.7" width="62" height="3.6" fill="#46f884"/>
</g>
<path d="M54.0,564.4 C54.0,565.0 53.8,565.8 53.6,566.3 C53.3,566.8 52.9,567.2 52.5,567.4 C52.1,567.6 51.5,567.6 51.1,567.4 C50.7,567.2 50.3,566.8 50.0,566.3 C49.8,565.8 49.6,565.0 49.6,564.4 C49.6,563.8 49.8,563.0 50.0,562.5 C50.3,562.0 50.7,561.6 51.1,561.4 C51.5,561.2 52.1,561.2 52.5,561.4 C52.9,561.6 53.3,562.0 53.6,562.5 C53.8,563.0 54.0,563.8 54.0,564.4 Z" fill="#a11201" stroke="none"/>
<path d="M54.0,564.4 C54.0,565.0 53.8,565.8 53.6,566.3 C53.3,566.8 52.9,567.2 52.5,567.4 C52.1,567.6 51.5,567.6 51.1,567.4 C50.7,567.2 50.3,566.8 50.0,566.3 C49.8,565.8 49.6,565.0 49.6,564.4 C49.6,563.8 49.8,563.0 50.0,562.5 C50.3,562.0 50.7,561.6 51.1,561.4 C51.5,561.2 52.1,561.2 52.5,561.4 C52.9,561.6 53.3,562.0 53.6,562.5 C53.8,563.0 54.0,563.8 54.0,564.4 Z" fill="none" stroke="#000" stroke-width="1.5" stroke-linejoin="round"/>
<path d="M94.0,556.0 C92.5,557.0 94.8,560.5 96.0,562.0 C97.2,563.5 99.7,563.5 101.0,565.0 C102.3,566.5 103.1,570.5 104.0,571.0 C104.9,571.5 106.2,569.5 106.5,568.0 C106.8,566.5 106.2,564.0 106.0,562.0 C105.8,560.0 107.0,557.0 105.0,556.0 C103.0,555.0 95.5,555.0 94.0,556.0 Z" fill="#a11201" stroke="none"/>
<path d="M94.0,556.0 C92.5,557.0 94.8,560.5 96.0,562.0 C97.2,563.5 99.7,563.5 101.0,565.0 C102.3,566.5 103.1,570.5 104.0,571.0 C104.9,571.5 106.2,569.5 106.5,568.0 C106.8,566.5 106.2,564.0 106.0,562.0 C105.8,560.0 107.0,557.0 105.0,556.0 C103.0,555.0 95.5,555.0 94.0,556.0 Z" fill="none" stroke="#000" stroke-width="1.5" stroke-linejoin="round"/>
<path d="M124.7,572.9 C124.7,573.3 124.5,573.8 124.3,574.1 C124.1,574.4 123.7,574.7 123.3,574.8 C122.9,574.9 122.5,574.9 122.1,574.8 C121.7,574.7 121.3,574.4 121.1,574.1 C120.9,573.8 120.7,573.3 120.7,572.9 C120.7,572.5 120.9,572.0 121.1,571.7 C121.3,571.4 121.7,571.1 122.1,571.0 C122.5,570.9 122.9,570.9 123.3,571.0 C123.7,571.1 124.1,571.4 124.3,571.7 C124.5,572.0 124.7,572.5 124.7,572.9 Z" fill="#a11201" stroke="none"/>
<path d="M124.7,572.9 C124.7,573.3 124.5,573.8 124.3,574.1 C124.1,574.4 123.7,574.7 123.3,574.8 C122.9,574.9 122.5,574.9 122.1,574.8 C121.7,574.7 121.3,574.4 121.1,574.1 C120.9,573.8 120.7,573.3 120.7,572.9 C120.7,572.5 120.9,572.0 121.1,571.7 C121.3,571.4 121.7,571.1 122.1,571.0 C122.5,570.9 122.9,570.9 123.3,571.0 C123.7,571.1 124.1,571.4 124.3,571.7 C124.5,572.0 124.7,572.5 124.7,572.9 Z" fill="none" stroke="#000" stroke-width="1.5" stroke-linejoin="round"/>
<path d="M69.7,585.0 C69.7,585.7 69.3,586.6 68.8,587.2 C68.3,587.8 67.3,588.3 66.5,588.5 C65.6,588.7 64.4,588.7 63.5,588.5 C62.7,588.3 61.7,587.8 61.2,587.2 C60.7,586.6 60.3,585.7 60.3,585.0 C60.3,584.3 60.7,583.4 61.2,582.8 C61.7,582.2 62.7,581.7 63.5,581.5 C64.4,581.3 65.6,581.3 66.5,581.5 C67.3,581.7 68.3,582.2 68.8,582.8 C69.3,583.4 69.7,584.3 69.7,585.0 Z" fill="#a11201" stroke="none"/>
<path d="M69.7,585.0 C69.7,585.7 69.3,586.6 68.8,587.2 C68.3,587.8 67.3,588.3 66.5,588.5 C65.6,588.7 64.4,588.7 63.5,588.5 C62.7,588.3 61.7,587.8 61.2,587.2 C60.7,586.6 60.3,585.7 60.3,585.0 C60.3,584.3 60.7,583.4 61.2,582.8 C61.7,582.2 62.7,581.7 63.5,581.5 C64.4,581.3 65.6,581.3 66.5,581.5 C67.3,581.7 68.3,582.2 68.8,582.8 C69.3,583.4 69.7,584.3 69.7,585.0 Z" fill="none" stroke="#000" stroke-width="1.5" stroke-linejoin="round"/>
<path d="M181.0,580.0 C181.8,577.8 184.3,577.3 186.0,577.0 C187.7,576.7 189.8,577.0 191.0,578.0 C192.2,579.0 193.2,581.0 193.4,583.0 C193.6,585.0 192.9,588.2 192.0,590.0 C191.1,591.8 189.5,593.0 188.0,594.0 C186.5,595.0 184.2,596.7 183.0,596.0 C181.8,595.3 181.3,592.7 181.0,590.0 C180.7,587.3 180.2,582.2 181.0,580.0 Z" fill="#a11201" stroke="none"/>
<path d="M181.0,580.0 C181.8,577.8 184.3,577.3 186.0,577.0 C187.7,576.7 189.8,577.0 191.0,578.0 C192.2,579.0 193.2,581.0 193.4,583.0 C193.6,585.0 192.9,588.2 192.0,590.0 C191.1,591.8 189.5,593.0 188.0,594.0 C186.5,595.0 184.2,596.7 183.0,596.0 C181.8,595.3 181.3,592.7 181.0,590.0 C180.7,587.3 180.2,582.2 181.0,580.0 Z" fill="none" stroke="#000" stroke-width="1.5" stroke-linejoin="round"/>
<path d="M315.0,591.0 C316.2,589.9 317.7,590.6 322.0,590.5 C326.3,590.4 337.8,583.2 341.0,590.5 C344.2,597.8 342.8,626.8 341.0,634.0 C339.2,641.2 333.8,634.3 330.0,634.0 C326.2,633.7 320.5,632.8 318.0,632.0 C315.5,631.2 316.8,629.4 314.8,629.1 C312.9,628.8 310.9,630.0 306.3,630.2 C301.7,630.4 291.4,630.6 287.1,630.2 C282.8,629.8 281.8,629.2 280.7,628.0 C279.6,626.8 279.6,624.1 280.7,622.7 C281.8,621.3 282.8,620.6 287.1,619.5 C291.4,618.4 302.0,617.2 306.3,616.3 C310.6,615.4 312.2,615.2 312.7,614.2 C313.2,613.2 309.9,611.8 309.5,610.0 C309.1,608.2 309.6,605.6 310.5,603.5 C311.4,601.4 314.1,599.2 314.8,597.1 C315.6,595.0 313.8,592.1 315.0,591.0 Z" fill="#a11201" stroke="none"/>
<path d="M315.0,591.0 C316.2,589.9 317.7,590.6 322.0,590.5 C326.3,590.4 337.8,583.2 341.0,590.5 C344.2,597.8 342.8,626.8 341.0,634.0 C339.2,641.2 333.8,634.3 330.0,634.0 C326.2,633.7 320.5,632.8 318.0,632.0 C315.5,631.2 316.8,629.4 314.8,629.1 C312.9,628.8 310.9,630.0 306.3,630.2 C301.7,630.4 291.4,630.6 287.1,630.2 C282.8,629.8 281.8,629.2 280.7,628.0 C279.6,626.8 279.6,624.1 280.7,622.7 C281.8,621.3 282.8,620.6 287.1,619.5 C291.4,618.4 302.0,617.2 306.3,616.3 C310.6,615.4 312.2,615.2 312.7,614.2 C313.2,613.2 309.9,611.8 309.5,610.0 C309.1,608.2 309.6,605.6 310.5,603.5 C311.4,601.4 314.1,599.2 314.8,597.1 C315.6,595.0 313.8,592.1 315.0,591.0 Z" fill="none" stroke="#000" stroke-width="1.5" stroke-linejoin="round"/>
<path d="M50.0,606.0 C51.3,605.0 55.3,604.2 58.0,604.0 C60.7,603.8 63.9,603.8 66.0,605.0 C68.1,606.2 70.0,609.1 70.5,611.0 C71.0,612.9 70.8,615.5 69.0,616.5 C67.2,617.5 62.8,617.4 60.0,617.0 C57.2,616.6 53.7,615.2 52.0,614.0 C50.3,612.8 50.3,611.3 50.0,610.0 C49.7,608.7 48.7,607.0 50.0,606.0 Z" fill="#a11201" stroke="none"/>
<path d="M50.0,606.0 C51.3,605.0 55.3,604.2 58.0,604.0 C60.7,603.8 63.9,603.8 66.0,605.0 C68.1,606.2 70.0,609.1 70.5,611.0 C71.0,612.9 70.8,615.5 69.0,616.5 C67.2,617.5 62.8,617.4 60.0,617.0 C57.2,616.6 53.7,615.2 52.0,614.0 C50.3,612.8 50.3,611.3 50.0,610.0 C49.7,608.7 48.7,607.0 50.0,606.0 Z" fill="none" stroke="#000" stroke-width="1.5" stroke-linejoin="round"/>
<path d="M89.1,625.6 C88.9,626.1 88.3,626.5 87.5,626.7 C86.7,626.9 85.4,626.9 84.3,626.6 C83.2,626.4 81.8,625.9 80.8,625.4 C79.9,624.8 78.9,624.0 78.4,623.4 C77.9,622.7 77.7,622.0 77.9,621.4 C78.1,620.9 78.7,620.5 79.5,620.3 C80.3,620.1 81.6,620.1 82.7,620.4 C83.8,620.6 85.2,621.1 86.2,621.6 C87.1,622.2 88.1,623.0 88.6,623.6 C89.1,624.3 89.3,625.0 89.1,625.6 Z" fill="#a11201" stroke="none"/>
<path d="M89.1,625.6 C88.9,626.1 88.3,626.5 87.5,626.7 C86.7,626.9 85.4,626.9 84.3,626.6 C83.2,626.4 81.8,625.9 80.8,625.4 C79.9,624.8 78.9,624.0 78.4,623.4 C77.9,622.7 77.7,622.0 77.9,621.4 C78.1,620.9 78.7,620.5 79.5,620.3 C80.3,620.1 81.6,620.1 82.7,620.4 C83.8,620.6 85.2,621.1 86.2,621.6 C87.1,622.2 88.1,623.0 88.6,623.6 C89.1,624.3 89.3,625.0 89.1,625.6 Z" fill="none" stroke="#000" stroke-width="1.5" stroke-linejoin="round"/>
<path d="M111.0,631.0 C111.5,629.7 113.7,626.5 116.0,625.0 C118.3,623.5 121.8,622.3 125.0,622.0 C128.2,621.7 132.5,622.0 135.0,623.0 C137.5,624.0 138.9,626.3 140.0,628.0 C141.1,629.7 141.1,631.6 141.7,633.0 C142.3,634.4 141.5,635.0 143.8,636.2 C146.1,637.4 149.7,639.0 155.5,640.4 C161.3,641.8 174.1,643.5 178.7,644.6 C183.3,645.7 182.6,646.1 183.0,646.8 C183.4,647.5 184.1,649.0 180.9,648.9 C177.7,648.8 169.7,647.2 164.0,646.1 C158.3,645.0 152.7,644.0 147.0,642.5 C141.3,641.0 135.0,638.8 130.1,637.2 C125.2,635.6 120.2,633.7 117.4,633.0 C114.6,632.3 114.1,633.3 113.0,633.0 C111.9,632.7 110.5,632.3 111.0,631.0 Z" fill="#a11201" stroke="none"/>
<path d="M111.0,631.0 C111.5,629.7 113.7,626.5 116.0,625.0 C118.3,623.5 121.8,622.3 125.0,622.0 C128.2,621.7 132.5,622.0 135.0,623.0 C137.5,624.0 138.9,626.3 140.0,628.0 C141.1,629.7 141.1,631.6 141.7,633.0 C142.3,634.4 141.5,635.0 143.8,636.2 C146.1,637.4 149.7,639.0 155.5,640.4 C161.3,641.8 174.1,643.5 178.7,644.6 C183.3,645.7 182.6,646.1 183.0,646.8 C183.4,647.5 184.1,649.0 180.9,648.9 C177.7,648.8 169.7,647.2 164.0,646.1 C158.3,645.0 152.7,644.0 147.0,642.5 C141.3,641.0 135.0,638.8 130.1,637.2 C125.2,635.6 120.2,633.7 117.4,633.0 C114.6,632.3 114.1,633.3 113.0,633.0 C111.9,632.7 110.5,632.3 111.0,631.0 Z" fill="none" stroke="#000" stroke-width="1.5" stroke-linejoin="round"/>
<path d="M244.6,602.5 C244.6,602.9 244.3,603.4 243.8,603.8 C243.3,604.1 242.4,604.5 241.6,604.6 C240.8,604.7 239.8,604.7 239.0,604.6 C238.2,604.5 237.3,604.1 236.8,603.8 C236.3,603.4 236.0,602.9 236.0,602.5 C236.0,602.1 236.3,601.6 236.8,601.2 C237.3,600.9 238.2,600.5 239.0,600.4 C239.8,600.3 240.8,600.3 241.6,600.4 C242.4,600.5 243.3,600.9 243.8,601.2 C244.3,601.6 244.6,602.1 244.6,602.5 Z" fill="#a11201" stroke="none"/>
<path d="M244.6,602.5 C244.6,602.9 244.3,603.4 243.8,603.8 C243.3,604.1 242.4,604.5 241.6,604.6 C240.8,604.7 239.8,604.7 239.0,604.6 C238.2,604.5 237.3,604.1 236.8,603.8 C236.3,603.4 236.0,602.9 236.0,602.5 C236.0,602.1 236.3,601.6 236.8,601.2 C237.3,600.9 238.2,600.5 239.0,600.4 C239.8,600.3 240.8,600.3 241.6,600.4 C242.4,600.5 243.3,600.9 243.8,601.2 C244.3,601.6 244.6,602.1 244.6,602.5 Z" fill="none" stroke="#000" stroke-width="1.5" stroke-linejoin="round"/>
<path d="M208.3,620.5 C208.3,621.3 207.6,622.2 206.6,622.9 C205.5,623.5 203.8,624.1 202.1,624.3 C200.4,624.5 198.2,624.5 196.5,624.3 C194.8,624.1 193.1,623.5 192.0,622.9 C191.0,622.2 190.3,621.3 190.3,620.5 C190.3,619.7 191.0,618.8 192.0,618.1 C193.1,617.5 194.8,616.9 196.5,616.7 C198.2,616.5 200.4,616.5 202.1,616.7 C203.8,616.9 205.5,617.5 206.6,618.1 C207.6,618.8 208.3,619.7 208.3,620.5 Z" fill="#a11201" stroke="none"/>
<path d="M208.3,620.5 C208.3,621.3 207.6,622.2 206.6,622.9 C205.5,623.5 203.8,624.1 202.1,624.3 C200.4,624.5 198.2,624.5 196.5,624.3 C194.8,624.1 193.1,623.5 192.0,622.9 C191.0,622.2 190.3,621.3 190.3,620.5 C190.3,619.7 191.0,618.8 192.0,618.1 C193.1,617.5 194.8,616.9 196.5,616.7 C198.2,616.5 200.4,616.5 202.1,616.7 C203.8,616.9 205.5,617.5 206.6,618.1 C207.6,618.8 208.3,619.7 208.3,620.5 Z" fill="none" stroke="#000" stroke-width="1.5" stroke-linejoin="round"/>
<path d="M250.9,657.2 C250.9,657.6 250.3,658.3 249.4,658.8 C248.5,659.3 246.8,659.8 245.3,660.1 C243.7,660.4 241.6,660.6 240.0,660.6 C238.4,660.6 236.7,660.4 235.7,660.1 C234.7,659.9 234.0,659.3 233.9,658.8 C233.9,658.4 234.5,657.7 235.4,657.2 C236.3,656.7 238.0,656.2 239.5,655.9 C241.1,655.6 243.2,655.4 244.8,655.4 C246.4,655.4 248.1,655.6 249.1,655.9 C250.1,656.1 250.8,656.7 250.9,657.2 Z" fill="#a11201" stroke="none"/>
<path d="M250.9,657.2 C250.9,657.6 250.3,658.3 249.4,658.8 C248.5,659.3 246.8,659.8 245.3,660.1 C243.7,660.4 241.6,660.6 240.0,660.6 C238.4,660.6 236.7,660.4 235.7,660.1 C234.7,659.9 234.0,659.3 233.9,658.8 C233.9,658.4 234.5,657.7 235.4,657.2 C236.3,656.7 238.0,656.2 239.5,655.9 C241.1,655.6 243.2,655.4 244.8,655.4 C246.4,655.4 248.1,655.6 249.1,655.9 C250.1,656.1 250.8,656.7 250.9,657.2 Z" fill="none" stroke="#000" stroke-width="1.5" stroke-linejoin="round"/>
<path d="M296.5,654.8 C296.5,655.2 295.6,655.6 294.3,655.9 C293.0,656.1 290.7,656.4 288.6,656.5 C286.4,656.6 283.6,656.6 281.4,656.5 C279.3,656.4 277.0,656.1 275.7,655.9 C274.4,655.6 273.5,655.2 273.5,654.8 C273.5,654.4 274.4,654.0 275.7,653.7 C277.0,653.5 279.3,653.2 281.4,653.1 C283.6,653.0 286.4,653.0 288.6,653.1 C290.7,653.2 293.0,653.5 294.3,653.7 C295.6,654.0 296.5,654.4 296.5,654.8 Z" fill="#a11201" stroke="none"/>
<path d="M296.5,654.8 C296.5,655.2 295.6,655.6 294.3,655.9 C293.0,656.1 290.7,656.4 288.6,656.5 C286.4,656.6 283.6,656.6 281.4,656.5 C279.3,656.4 277.0,656.1 275.7,655.9 C274.4,655.6 273.5,655.2 273.5,654.8 C273.5,654.4 274.4,654.0 275.7,653.7 C277.0,653.5 279.3,653.2 281.4,653.1 C283.6,653.0 286.4,653.0 288.6,653.1 C290.7,653.2 293.0,653.5 294.3,653.7 C295.6,654.0 296.5,654.4 296.5,654.8 Z" fill="none" stroke="#000" stroke-width="1.5" stroke-linejoin="round"/>
<path d="M69.0,675.5 C70.7,674.5 74.8,672.8 80.0,672.0 C85.2,671.2 93.3,670.9 100.0,670.8 C106.7,670.7 114.7,670.9 120.0,671.5 C125.3,672.1 131.2,673.4 132.0,674.5 C132.8,675.6 129.5,677.2 125.0,678.0 C120.5,678.8 112.5,679.2 105.0,679.5 C97.5,679.8 85.8,679.8 80.0,679.5 C74.2,679.2 71.8,678.7 70.0,678.0 C68.2,677.3 67.3,676.5 69.0,675.5 Z" fill="#a11201" stroke="none"/>
<path d="M69.0,675.5 C70.7,674.5 74.8,672.8 80.0,672.0 C85.2,671.2 93.3,670.9 100.0,670.8 C106.7,670.7 114.7,670.9 120.0,671.5 C125.3,672.1 131.2,673.4 132.0,674.5 C132.8,675.6 129.5,677.2 125.0,678.0 C120.5,678.8 112.5,679.2 105.0,679.5 C97.5,679.8 85.8,679.8 80.0,679.5 C74.2,679.2 71.8,678.7 70.0,678.0 C68.2,677.3 67.3,676.5 69.0,675.5 Z" fill="none" stroke="#000" stroke-width="1.5" stroke-linejoin="round"/>
<path d="M178.0,673.5 C179.7,672.7 183.0,671.3 190.0,671.0 C197.0,670.7 210.8,671.1 220.0,671.5 C229.2,671.9 238.8,672.8 245.0,673.5 C251.2,674.2 257.5,675.2 257.5,676.0 C257.5,676.8 251.2,678.0 245.0,678.5 C238.8,679.0 228.3,679.3 220.0,679.2 C211.7,679.1 201.7,678.5 195.0,678.0 C188.3,677.5 182.8,676.8 180.0,676.0 C177.2,675.2 176.3,674.3 178.0,673.5 Z" fill="#a11201" stroke="none"/>
<path d="M178.0,673.5 C179.7,672.7 183.0,671.3 190.0,671.0 C197.0,670.7 210.8,671.1 220.0,671.5 C229.2,671.9 238.8,672.8 245.0,673.5 C251.2,674.2 257.5,675.2 257.5,676.0 C257.5,676.8 251.2,678.0 245.0,678.5 C238.8,679.0 228.3,679.3 220.0,679.2 C211.7,679.1 201.7,678.5 195.0,678.0 C188.3,677.5 182.8,676.8 180.0,676.0 C177.2,675.2 176.3,674.3 178.0,673.5 Z" fill="none" stroke="#000" stroke-width="1.5" stroke-linejoin="round"/>
<path d="M35.0,697.5 C53.8,694.2 114.5,695.7 148.0,695.3 C181.5,694.9 209.0,695.6 236.0,695.3 C263.0,695.0 292.5,693.7 310.0,693.5 C327.5,693.3 335.8,690.4 341.0,694.0 C346.2,697.6 392.0,711.5 341.0,715.0 C290.0,718.5 86.0,717.9 35.0,715.0 C-16.0,712.1 16.2,700.8 35.0,697.5 Z" fill="#a11201" stroke="none"/>
<path d="M35.0,697.5 C53.8,694.2 114.5,695.7 148.0,695.3 C181.5,694.9 209.0,695.6 236.0,695.3 C263.0,695.0 292.5,693.7 310.0,693.5 C327.5,693.3 335.8,690.4 341.0,694.0 C346.2,697.6 392.0,711.5 341.0,715.0 C290.0,718.5 86.0,717.9 35.0,715.0 C-16.0,712.1 16.2,700.8 35.0,697.5 Z" fill="none" stroke="#000" stroke-width="1.5" stroke-linejoin="round"/>
<path d="M38.4,527.4 L38.8,527.4 L39.3,527.4 L39.9,527.4 L40.6,536.8 L41.4,548.7 L42.4,560.2 L43.6,570.8 L45.0,580.5 L46.7,590.0 L48.7,599.0 L51.2,608.1 L54.2,617.0 L57.7,625.5 L61.7,633.5 L66.2,641.0 L71.2,648.0 L77.2,655.2 L84.2,662.3 L92.2,669.2 L101.2,675.8 L111.2,682.1 L122.2,688.1 L134.2,693.9 L147.2,699.3 L161.2,704.5 L175.2,709.2 L187.5,712.9 L199.8,709.2 L213.8,704.5 L227.8,699.3 L240.8,693.9 L252.8,688.1 L263.8,682.1 L273.8,675.8 L282.8,669.2 L290.8,662.3 L297.8,655.2 L303.8,648.0 L308.8,641.0 L313.3,633.5 L317.3,625.5 L320.8,617.0 L323.8,608.1 L326.3,599.0 L328.3,590.0 L330.0,580.5 L331.4,570.8 L332.6,560.2 L333.6,548.7 L334.4,536.8 L335.1,527.4 L335.7,527.4 L336.2,527.4 L336.6,527.4 L342.8,527.4 L342.8,715.2 L32.2,715.2 L32.2,527.4 Z" fill="#fff" fill-opacity="0.52" fill-rule="evenodd"/>
<path d="M38.4,527.4 L38.8,527.4 L39.3,527.4 L39.9,527.4 L40.6,536.8 L41.4,548.7 L42.4,560.2 L43.6,570.8 L45.0,580.5 L46.7,590.0 L48.7,599.0 L51.2,608.1 L54.2,617.0 L57.7,625.5 L61.7,633.5 L66.2,641.0 L71.2,648.0 L77.2,655.2 L84.2,662.3 L92.2,669.2 L101.2,675.8 L111.2,682.1 L122.2,688.1 L134.2,693.9 L147.2,699.3 L161.2,704.5 L175.2,709.2 L187.5,712.9 L199.8,709.2 L213.8,704.5 L227.8,699.3 L240.8,693.9 L252.8,688.1 L263.8,682.1 L273.8,675.8 L282.8,669.2 L290.8,662.3 L297.8,655.2 L303.8,648.0 L308.8,641.0 L313.3,633.5 L317.3,625.5 L320.8,617.0 L323.8,608.1 L326.3,599.0 L328.3,590.0 L330.0,580.5 L331.4,570.8 L332.6,560.2 L333.6,548.7 L334.4,536.8 L335.1,527.4 L335.7,527.4 L336.2,527.4 L336.6,527.4" fill="none" stroke="#000" stroke-width="0.7"/>
</g>
<rect x="37.2" y="557.4" width="300.6" height="152.80000000000007" fill="none" stroke="#3a3a3a" stroke-width="1.1"/>
<path d="M37.2,588.1h2.5M337.8,588.1h-2.5M37.2,619.3h2.5M337.8,619.3h-2.5M37.2,648.4h2.5M337.8,648.4h-2.5M37.2,677.3h2.5M337.8,677.3h-2.5M37.2,706.0h2.5M337.8,706.0h-2.5" stroke="#444" stroke-width="0.8" fill="none"/>
<text x="30.3" y="587.8" font-size="14.2" text-anchor="end">4</text>
<text x="30.3" y="619.0" font-size="14.2" text-anchor="end">8</text>
<text x="30.3" y="648.1" font-size="14.2" text-anchor="end">16</text>
<text x="30.3" y="677.0" font-size="14.2" text-anchor="end">32</text>
<text x="30.3" y="705.7" font-size="14.2" text-anchor="end">64</text>
<text transform="translate(13.5,686.2) rotate(-90)" font-size="14.4" textLength="90.4" lengthAdjust="spacingAndGlyphs">Period (month)</text>
<text x="53" y="721.8" font-size="14.2" text-anchor="middle">2001</text>
<text x="105.8" y="721.8" font-size="14.2" text-anchor="middle">2005</text>
<text x="164.8" y="721.8" font-size="14.2" text-anchor="middle">2009</text>
<text x="228.6" y="721.8" font-size="14.2" text-anchor="middle">2013</text>
<text x="292.1" y="721.8" font-size="14.2" text-anchor="middle">2017</text>
<text x="340.1" y="721.8" font-size="14.2" text-anchor="middle">2019</text>
<text x="97.8" y="555.4" font-size="14.6" textLength="182.2" lengthAdjust="spacingAndGlyphs">(g) POL-AMO-EA/WR-DPC7</text>
<g clip-path="url(#cp7)">
<rect x="378.3" y="556.2" width="301.40000000000003" height="152.0999999999999" fill="#f05b12"/>
<g filter="url(#bl)">
<rect x="374.3" y="546.69" width="309.40000000000003" height="10.01" fill="url(#g7_0)"/>
<rect x="374.3" y="556.20" width="309.40000000000003" height="10.01" fill="url(#g7_1)"/>
<rect x="374.3" y="565.71" width="309.40000000000003" height="10.01" fill="url(#g7_2)"/>
<rect x="374.3" y="575.21" width="309.40000000000003" height="10.01" fill="url(#g7_3)"/>
<rect x="374.3" y="584.72" width="309.40000000000003" height="10.01" fill="url(#g7_4)"/>
<rect x="374.3" y="594.23" width="309.40000000000003" height="10.01" fill="url(#g7_5)"/>
<rect x="374.3" y="603.73" width="309.40000000000003" height="10.01" fill="url(#g7_6)"/>
<rect x="374.3" y="613.24" width="309.40000000000003" height="10.01" fill="url(#g7_7)"/>
<rect x="374.3" y="622.74" width="309.40000000000003" height="10.01" fill="url(#g7_8)"/>
<rect x="374.3" y="632.25" width="309.40000000000003" height="10.01" fill="url(#g7_9)"/>
<rect x="374.3" y="641.76" width="309.40000000000003" height="10.01" fill="url(#g7_10)"/>
<rect x="374.3" y="651.26" width="309.40000000000003" height="10.01" fill="url(#g7_11)"/>
<rect x="374.3" y="660.77" width="309.40000000000003" height="10.01" fill="url(#g7_12)"/>
<rect x="374.3" y="670.27" width="309.40000000000003" height="10.01" fill="url(#g7_13)"/>
<rect x="374.3" y="679.78" width="309.40000000000003" height="10.01" fill="url(#g7_14)"/>
<rect x="374.3" y="689.29" width="309.40000000000003" height="10.01" fill="url(#g7_15)"/>
<rect x="374.3" y="698.79" width="309.40000000000003" height="10.01" fill="url(#g7_16)"/>
<rect x="374.3" y="708.30" width="309.40000000000003" height="10.01" fill="url(#g7_17)"/>
</g>
<path d="M416.0,556.0 C415.1,556.7 416.4,559.1 417.0,560.0 C417.6,560.9 418.7,561.6 419.5,561.5 C420.3,561.4 421.5,560.4 422.0,559.5 C422.5,558.6 423.5,556.6 422.5,556.0 C421.5,555.4 416.9,555.3 416.0,556.0 Z" fill="#a11201" stroke="none"/>
<path d="M416.0,556.0 C415.1,556.7 416.4,559.1 417.0,560.0 C417.6,560.9 418.7,561.6 419.5,561.5 C420.3,561.4 421.5,560.4 422.0,559.5 C422.5,558.6 423.5,556.6 422.5,556.0 C421.5,555.4 416.9,555.3 416.0,556.0 Z" fill="none" stroke="#000" stroke-width="1.5" stroke-linejoin="round"/>
<path d="M521.5,564.4 C521.5,565.1 521.3,565.9 521.0,566.5 C520.6,567.0 520.1,567.5 519.6,567.7 C519.0,567.9 518.4,567.9 517.8,567.7 C517.3,567.5 516.8,567.0 516.4,566.5 C516.1,565.9 515.9,565.1 515.9,564.4 C515.9,563.7 516.1,562.9 516.4,562.3 C516.8,561.8 517.3,561.3 517.8,561.1 C518.4,560.9 519.0,560.9 519.6,561.1 C520.1,561.3 520.6,561.8 521.0,562.3 C521.3,562.9 521.5,563.7 521.5,564.4 Z" fill="#a11201" stroke="none"/>
<path d="M521.5,564.4 C521.5,565.1 521.3,565.9 521.0,566.5 C520.6,567.0 520.1,567.5 519.6,567.7 C519.0,567.9 518.4,567.9 517.8,567.7 C517.3,567.5 516.8,567.0 516.4,566.5 C516.1,565.9 515.9,565.1 515.9,564.4 C515.9,563.7 516.1,562.9 516.4,562.3 C516.8,561.8 517.3,561.3 517.8,561.1 C518.4,560.9 519.0,560.9 519.6,561.1 C520.1,561.3 520.6,561.8 521.0,562.3 C521.3,562.9 521.5,563.7 521.5,564.4 Z" fill="none" stroke="#000" stroke-width="1.5" stroke-linejoin="round"/>
<path d="M553.4,566.5 C553.4,568.0 553.1,569.7 552.7,570.9 C552.3,572.1 551.5,573.2 550.8,573.6 C550.2,574.1 549.2,574.1 548.6,573.6 C547.9,573.2 547.1,572.1 546.7,570.9 C546.3,569.7 546.0,568.0 546.0,566.5 C546.0,565.0 546.3,563.3 546.7,562.1 C547.1,560.9 547.9,559.8 548.6,559.4 C549.2,558.9 550.2,558.9 550.8,559.4 C551.5,559.8 552.3,560.9 552.7,562.1 C553.1,563.3 553.4,565.0 553.4,566.5 Z" fill="#a11201" stroke="none"/>
<path d="M553.4,566.5 C553.4,568.0 553.1,569.7 552.7,570.9 C552.3,572.1 551.5,573.2 550.8,573.6 C550.2,574.1 549.2,574.1 548.6,573.6 C547.9,573.2 547.1,572.1 546.7,570.9 C546.3,569.7 546.0,568.0 546.0,566.5 C546.0,565.0 546.3,563.3 546.7,562.1 C547.1,560.9 547.9,559.8 548.6,559.4 C549.2,558.9 550.2,558.9 550.8,559.4 C551.5,559.8 552.3,560.9 552.7,562.1 C553.1,563.3 553.4,565.0 553.4,566.5 Z" fill="none" stroke="#000" stroke-width="1.5" stroke-linejoin="round"/>
<path d="M616.8,570.3 C616.5,571.9 615.9,573.8 615.3,575.1 C614.7,576.4 613.7,577.5 613.0,577.9 C612.2,578.3 611.3,578.1 610.6,577.5 C610.0,576.9 609.4,575.6 609.2,574.2 C609.0,572.8 609.0,570.8 609.2,569.1 C609.5,567.5 610.1,565.6 610.7,564.3 C611.3,563.0 612.3,561.9 613.0,561.5 C613.8,561.1 614.7,561.3 615.4,561.9 C616.0,562.5 616.6,563.8 616.8,565.2 C617.0,566.6 617.0,568.6 616.8,570.3 Z" fill="#a11201" stroke="none"/>
<path d="M616.8,570.3 C616.5,571.9 615.9,573.8 615.3,575.1 C614.7,576.4 613.7,577.5 613.0,577.9 C612.2,578.3 611.3,578.1 610.6,577.5 C610.0,576.9 609.4,575.6 609.2,574.2 C609.0,572.8 609.0,570.8 609.2,569.1 C609.5,567.5 610.1,565.6 610.7,564.3 C611.3,563.0 612.3,561.9 613.0,561.5 C613.8,561.1 614.7,561.3 615.4,561.9 C616.0,562.5 616.6,563.8 616.8,565.2 C617.0,566.6 617.0,568.6 616.8,570.3 Z" fill="none" stroke="#000" stroke-width="1.5" stroke-linejoin="round"/>
<path d="M653.0,556.0 C651.8,557.2 653.3,561.1 654.0,563.0 C654.7,564.9 655.9,567.2 657.0,567.5 C658.1,567.8 659.8,566.9 660.5,565.0 C661.2,563.1 662.2,557.5 661.0,556.0 C659.8,554.5 654.2,554.8 653.0,556.0 Z" fill="#a11201" stroke="none"/>
<path d="M653.0,556.0 C651.8,557.2 653.3,561.1 654.0,563.0 C654.7,564.9 655.9,567.2 657.0,567.5 C658.1,567.8 659.8,566.9 660.5,565.0 C661.2,563.1 662.2,557.5 661.0,556.0 C659.8,554.5 654.2,554.8 653.0,556.0 Z" fill="none" stroke="#000" stroke-width="1.5" stroke-linejoin="round"/>
<path d="M638.0,593.5 C638.0,594.1 637.7,594.8 637.2,595.3 C636.8,595.7 636.0,596.2 635.2,596.4 C634.5,596.5 633.5,596.5 632.8,596.4 C632.0,596.2 631.2,595.7 630.8,595.3 C630.3,594.8 630.0,594.1 630.0,593.5 C630.0,592.9 630.3,592.2 630.8,591.7 C631.2,591.3 632.0,590.8 632.8,590.6 C633.5,590.5 634.5,590.5 635.2,590.6 C636.0,590.8 636.8,591.3 637.2,591.7 C637.7,592.2 638.0,592.9 638.0,593.5 Z" fill="#a11201" stroke="none"/>
<path d="M638.0,593.5 C638.0,594.1 637.7,594.8 637.2,595.3 C636.8,595.7 636.0,596.2 635.2,596.4 C634.5,596.5 633.5,596.5 632.8,596.4 C632.0,596.2 631.2,595.7 630.8,595.3 C630.3,594.8 630.0,594.1 630.0,593.5 C630.0,592.9 630.3,592.2 630.8,591.7 C631.2,591.3 632.0,590.8 632.8,590.6 C633.5,590.5 634.5,590.5 635.2,590.6 C636.0,590.8 636.8,591.3 637.2,591.7 C637.7,592.2 638.0,592.9 638.0,593.5 Z" fill="none" stroke="#000" stroke-width="1.5" stroke-linejoin="round"/>
<path d="M376.0,590.0 C377.5,585.0 382.5,588.2 385.0,588.0 C387.5,587.8 389.3,587.8 391.0,589.0 C392.7,590.2 394.7,593.0 395.0,595.0 C395.3,597.0 393.8,599.0 393.0,601.0 C392.2,603.0 391.3,605.2 390.0,607.0 C388.7,608.8 386.7,610.3 385.0,612.0 C383.3,613.7 381.5,616.0 380.0,617.0 C378.5,618.0 376.7,622.5 376.0,618.0 C375.3,613.5 374.5,595.0 376.0,590.0 Z" fill="#a11201" stroke="none"/>
<path d="M376.0,590.0 C377.5,585.0 382.5,588.2 385.0,588.0 C387.5,587.8 389.3,587.8 391.0,589.0 C392.7,590.2 394.7,593.0 395.0,595.0 C395.3,597.0 393.8,599.0 393.0,601.0 C392.2,603.0 391.3,605.2 390.0,607.0 C388.7,608.8 386.7,610.3 385.0,612.0 C383.3,613.7 381.5,616.0 380.0,617.0 C378.5,618.0 376.7,622.5 376.0,618.0 C375.3,613.5 374.5,595.0 376.0,590.0 Z" fill="none" stroke="#000" stroke-width="1.5" stroke-linejoin="round"/>
<path d="M410.0,597.0 C410.7,595.8 413.3,594.8 415.0,595.0 C416.7,595.2 417.8,597.2 420.0,598.0 C422.2,598.8 425.3,599.6 428.0,600.0 C430.7,600.4 434.5,599.9 436.0,600.5 C437.5,601.1 438.0,602.7 437.0,603.5 C436.0,604.3 433.2,605.2 430.0,605.5 C426.8,605.8 421.2,605.6 418.0,605.0 C414.8,604.4 412.3,603.3 411.0,602.0 C409.7,600.7 409.3,598.2 410.0,597.0 Z" fill="#a11201" stroke="none"/>
<path d="M410.0,597.0 C410.7,595.8 413.3,594.8 415.0,595.0 C416.7,595.2 417.8,597.2 420.0,598.0 C422.2,598.8 425.3,599.6 428.0,600.0 C430.7,600.4 434.5,599.9 436.0,600.5 C437.5,601.1 438.0,602.7 437.0,603.5 C436.0,604.3 433.2,605.2 430.0,605.5 C426.8,605.8 421.2,605.6 418.0,605.0 C414.8,604.4 412.3,603.3 411.0,602.0 C409.7,600.7 409.3,598.2 410.0,597.0 Z" fill="none" stroke="#000" stroke-width="1.5" stroke-linejoin="round"/>
<path d="M478.4,603.0 C478.4,603.5 478.0,604.1 477.3,604.5 C476.6,604.9 475.5,605.2 474.4,605.4 C473.3,605.5 471.9,605.5 470.8,605.4 C469.7,605.2 468.6,604.9 467.9,604.5 C467.2,604.1 466.8,603.5 466.8,603.0 C466.8,602.5 467.2,601.9 467.9,601.5 C468.6,601.1 469.7,600.8 470.8,600.6 C471.9,600.5 473.3,600.5 474.4,600.6 C475.5,600.8 476.6,601.1 477.3,601.5 C478.0,601.9 478.4,602.5 478.4,603.0 Z" fill="#a11201" stroke="none"/>
<path d="M478.4,603.0 C478.4,603.5 478.0,604.1 477.3,604.5 C476.6,604.9 475.5,605.2 474.4,605.4 C473.3,605.5 471.9,605.5 470.8,605.4 C469.7,605.2 468.6,604.9 467.9,604.5 C467.2,604.1 466.8,603.5 466.8,603.0 C466.8,602.5 467.2,601.9 467.9,601.5 C468.6,601.1 469.7,600.8 470.8,600.6 C471.9,600.5 473.3,600.5 474.4,600.6 C475.5,600.8 476.6,601.1 477.3,601.5 C478.0,601.9 478.4,602.5 478.4,603.0 Z" fill="none" stroke="#000" stroke-width="1.5" stroke-linejoin="round"/>
<path d="M423.9,621.4 C423.9,621.7 423.7,622.0 423.4,622.3 C423.1,622.5 422.6,622.7 422.2,622.8 C421.7,622.9 421.1,622.9 420.6,622.8 C420.2,622.7 419.7,622.5 419.4,622.3 C419.1,622.0 418.9,621.7 418.9,621.4 C418.9,621.1 419.1,620.8 419.4,620.5 C419.7,620.3 420.2,620.1 420.6,620.0 C421.1,619.9 421.7,619.9 422.2,620.0 C422.6,620.1 423.1,620.3 423.4,620.5 C423.7,620.8 423.9,621.1 423.9,621.4 Z" fill="#a11201" stroke="none"/>
<path d="M423.9,621.4 C423.9,621.7 423.7,622.0 423.4,622.3 C423.1,622.5 422.6,622.7 422.2,622.8 C421.7,622.9 421.1,622.9 420.6,622.8 C420.2,622.7 419.7,622.5 419.4,622.3 C419.1,622.0 418.9,621.7 418.9,621.4 C418.9,621.1 419.1,620.8 419.4,620.5 C419.7,620.3 420.2,620.1 420.6,620.0 C421.1,619.9 421.7,619.9 422.2,620.0 C422.6,620.1 423.1,620.3 423.4,620.5 C423.7,620.8 423.9,621.1 423.9,621.4 Z" fill="none" stroke="#000" stroke-width="1.5" stroke-linejoin="round"/>
<path d="M501.1,621.4 C501.1,621.6 500.9,621.9 500.6,622.1 C500.3,622.3 499.8,622.5 499.4,622.5 C498.9,622.6 498.3,622.6 497.8,622.5 C497.4,622.5 496.9,622.3 496.6,622.1 C496.3,621.9 496.1,621.6 496.1,621.4 C496.1,621.2 496.3,620.9 496.6,620.7 C496.9,620.5 497.4,620.3 497.8,620.3 C498.3,620.2 498.9,620.2 499.4,620.3 C499.8,620.3 500.3,620.5 500.6,620.7 C500.9,620.9 501.1,621.2 501.1,621.4 Z" fill="#a11201" stroke="none"/>
<path d="M501.1,621.4 C501.1,621.6 500.9,621.9 500.6,622.1 C500.3,622.3 499.8,622.5 499.4,622.5 C498.9,622.6 498.3,622.6 497.8,622.5 C497.4,622.5 496.9,622.3 496.6,622.1 C496.3,621.9 496.1,621.6 496.1,621.4 C496.1,621.2 496.3,620.9 496.6,620.7 C496.9,620.5 497.4,620.3 497.8,620.3 C498.3,620.2 498.9,620.2 499.4,620.3 C499.8,620.3 500.3,620.5 500.6,620.7 C500.9,620.9 501.1,621.2 501.1,621.4 Z" fill="none" stroke="#000" stroke-width="1.5" stroke-linejoin="round"/>
<path d="M376.0,636.0 C376.8,634.7 381.8,633.0 385.0,632.0 C388.2,631.0 392.6,630.9 395.0,630.0 C397.4,629.1 397.4,627.6 399.2,626.7 C400.9,625.8 402.0,625.1 405.5,624.6 C409.0,624.1 417.1,623.5 420.3,623.5 C423.5,623.5 423.4,623.7 424.5,624.6 C425.6,625.5 426.2,627.2 426.7,628.8 C427.2,630.4 427.2,633.0 427.7,634.0 C428.2,635.0 431.0,633.6 429.8,635.0 C428.6,636.4 420.7,640.7 420.3,642.5 C419.9,644.3 426.1,644.1 427.7,645.7 C429.3,647.3 431.0,650.6 429.8,652.0 C428.6,653.4 425.4,654.5 420.3,654.2 C415.2,653.9 404.8,651.6 399.2,650.0 C393.6,648.4 389.7,646.3 386.5,644.6 C383.3,642.9 381.8,641.4 380.0,640.0 C378.2,638.6 375.2,637.3 376.0,636.0 Z" fill="#a11201" stroke="none"/>
<path d="M376.0,636.0 C376.8,634.7 381.8,633.0 385.0,632.0 C388.2,631.0 392.6,630.9 395.0,630.0 C397.4,629.1 397.4,627.6 399.2,626.7 C400.9,625.8 402.0,625.1 405.5,624.6 C409.0,624.1 417.1,623.5 420.3,623.5 C423.5,623.5 423.4,623.7 424.5,624.6 C425.6,625.5 426.2,627.2 426.7,628.8 C427.2,630.4 427.2,633.0 427.7,634.0 C428.2,635.0 431.0,633.6 429.8,635.0 C428.6,636.4 420.7,640.7 420.3,642.5 C419.9,644.3 426.1,644.1 427.7,645.7 C429.3,647.3 431.0,650.6 429.8,652.0 C428.6,653.4 425.4,654.5 420.3,654.2 C415.2,653.9 404.8,651.6 399.2,650.0 C393.6,648.4 389.7,646.3 386.5,644.6 C383.3,642.9 381.8,641.4 380.0,640.0 C378.2,638.6 375.2,637.3 376.0,636.0 Z" fill="none" stroke="#000" stroke-width="1.5" stroke-linejoin="round"/>
<path d="M627.4,599.7 C627.4,600.2 627.0,600.8 626.5,601.2 C626.0,601.6 625.0,601.9 624.2,602.1 C623.3,602.2 622.1,602.2 621.2,602.1 C620.4,601.9 619.4,601.6 618.9,601.2 C618.4,600.8 618.0,600.2 618.0,599.7 C618.0,599.2 618.4,598.6 618.9,598.2 C619.4,597.8 620.4,597.5 621.2,597.3 C622.1,597.2 623.3,597.2 624.2,597.3 C625.0,597.5 626.0,597.8 626.5,598.2 C627.0,598.6 627.4,599.2 627.4,599.7 Z" fill="#a11201" stroke="none"/>
<path d="M627.4,599.7 C627.4,600.2 627.0,600.8 626.5,601.2 C626.0,601.6 625.0,601.9 624.2,602.1 C623.3,602.2 622.1,602.2 621.2,602.1 C620.4,601.9 619.4,601.6 618.9,601.2 C618.4,600.8 618.0,600.2 618.0,599.7 C618.0,599.2 618.4,598.6 618.9,598.2 C619.4,597.8 620.4,597.5 621.2,597.3 C622.1,597.2 623.3,597.2 624.2,597.3 C625.0,597.5 626.0,597.8 626.5,598.2 C627.0,598.6 627.4,599.2 627.4,599.7 Z" fill="none" stroke="#000" stroke-width="1.5" stroke-linejoin="round"/>
<path d="M657.0,589.0 C658.2,587.9 661.2,587.3 663.0,587.5 C664.8,587.7 665.0,589.2 668.0,590.0 C671.0,590.8 678.8,582.9 681.0,592.0 C683.2,601.1 682.5,635.6 681.0,644.6 C679.5,653.6 676.1,645.9 671.8,645.7 C667.5,645.5 658.9,644.1 655.0,643.6 C651.1,643.1 650.7,642.9 648.6,642.5 C646.5,642.1 644.7,642.2 642.2,641.5 C639.7,640.8 636.3,639.7 633.8,638.3 C631.3,636.9 628.5,634.6 627.4,633.0 C626.3,631.4 627.8,630.5 627.4,628.8 C627.0,627.0 624.9,624.2 625.3,622.5 C625.6,620.8 626.0,619.5 629.5,618.3 C633.0,617.1 642.6,616.9 646.5,615.1 C650.4,613.3 651.4,610.2 652.8,607.7 C654.2,605.2 654.5,602.3 655.0,600.0 C655.5,597.7 655.7,595.8 656.0,594.0 C656.3,592.2 655.8,590.1 657.0,589.0 Z" fill="#a11201" stroke="none"/>
<path d="M657.0,589.0 C658.2,587.9 661.2,587.3 663.0,587.5 C664.8,587.7 665.0,589.2 668.0,590.0 C671.0,590.8 678.8,582.9 681.0,592.0 C683.2,601.1 682.5,635.6 681.0,644.6 C679.5,653.6 676.1,645.9 671.8,645.7 C667.5,645.5 658.9,644.1 655.0,643.6 C651.1,643.1 650.7,642.9 648.6,642.5 C646.5,642.1 644.7,642.2 642.2,641.5 C639.7,640.8 636.3,639.7 633.8,638.3 C631.3,636.9 628.5,634.6 627.4,633.0 C626.3,631.4 627.8,630.5 627.4,628.8 C627.0,627.0 624.9,624.2 625.3,622.5 C625.6,620.8 626.0,619.5 629.5,618.3 C633.0,617.1 642.6,616.9 646.5,615.1 C650.4,613.3 651.4,610.2 652.8,607.7 C654.2,605.2 654.5,602.3 655.0,600.0 C655.5,597.7 655.7,595.8 656.0,594.0 C656.3,592.2 655.8,590.1 657.0,589.0 Z" fill="none" stroke="#000" stroke-width="1.5" stroke-linejoin="round"/>
<path d="M604.5,666.8 C604.5,667.0 604.2,667.2 603.8,667.4 C603.4,667.5 602.7,667.7 602.1,667.8 C601.4,667.8 600.6,667.8 599.9,667.8 C599.3,667.7 598.6,667.5 598.2,667.4 C597.8,667.2 597.5,667.0 597.5,666.8 C597.5,666.6 597.8,666.4 598.2,666.2 C598.6,666.1 599.3,665.9 599.9,665.8 C600.6,665.8 601.4,665.8 602.1,665.8 C602.7,665.9 603.4,666.1 603.8,666.2 C604.2,666.4 604.5,666.6 604.5,666.8 Z" fill="#a11201" stroke="none"/>
<path d="M604.5,666.8 C604.5,667.0 604.2,667.2 603.8,667.4 C603.4,667.5 602.7,667.7 602.1,667.8 C601.4,667.8 600.6,667.8 599.9,667.8 C599.3,667.7 598.6,667.5 598.2,667.4 C597.8,667.2 597.5,667.0 597.5,666.8 C597.5,666.6 597.8,666.4 598.2,666.2 C598.6,666.1 599.3,665.9 599.9,665.8 C600.6,665.8 601.4,665.8 602.1,665.8 C602.7,665.9 603.4,666.1 603.8,666.2 C604.2,666.4 604.5,666.6 604.5,666.8 Z" fill="none" stroke="#000" stroke-width="1.5" stroke-linejoin="round"/>
<path d="M560.0,677.0 C560.8,676.0 565.0,675.6 570.0,675.3 C575.0,675.0 584.2,674.8 590.0,675.0 C595.8,675.2 601.9,675.8 605.0,676.5 C608.1,677.2 609.4,678.0 608.6,679.0 C607.8,680.0 604.8,681.9 600.0,682.5 C595.2,683.1 585.8,683.0 580.0,682.8 C574.2,682.5 568.3,682.0 565.0,681.0 C561.7,680.0 559.2,678.0 560.0,677.0 Z" fill="#a11201" stroke="none"/>
<path d="M560.0,677.0 C560.8,676.0 565.0,675.6 570.0,675.3 C575.0,675.0 584.2,674.8 590.0,675.0 C595.8,675.2 601.9,675.8 605.0,676.5 C608.1,677.2 609.4,678.0 608.6,679.0 C607.8,680.0 604.8,681.9 600.0,682.5 C595.2,683.1 585.8,683.0 580.0,682.8 C574.2,682.5 568.3,682.0 565.0,681.0 C561.7,680.0 559.2,678.0 560.0,677.0 Z" fill="none" stroke="#000" stroke-width="1.5" stroke-linejoin="round"/>
<path d="M379.5,526.2 L379.9,526.2 L380.4,526.2 L381.0,526.2 L381.7,535.6 L382.5,547.5 L383.5,559.0 L384.7,569.6 L386.1,579.3 L387.8,588.8 L389.8,597.8 L392.3,606.9 L395.3,615.8 L398.8,624.3 L402.8,632.3 L407.3,639.8 L412.3,646.8 L418.3,654.0 L425.3,661.1 L433.3,668.0 L442.3,674.6 L452.3,680.9 L463.3,686.9 L475.3,692.7 L488.3,698.1 L502.3,703.3 L516.3,708.0 L529.0,711.8 L541.7,708.0 L555.7,703.3 L569.7,698.1 L582.7,692.7 L594.7,686.9 L605.7,680.9 L615.7,674.6 L624.7,668.0 L632.7,661.1 L639.7,654.0 L645.7,646.8 L650.7,639.8 L655.2,632.3 L659.2,624.3 L662.7,615.8 L665.7,606.9 L668.2,597.8 L670.2,588.8 L671.9,579.3 L673.3,569.6 L674.5,559.0 L675.5,547.5 L676.3,535.6 L677.0,526.2 L677.6,526.2 L678.1,526.2 L678.5,526.2 L684.7,526.2 L684.7,713.3 L373.3,713.3 L373.3,526.2 Z" fill="#fff" fill-opacity="0.52" fill-rule="evenodd"/>
<path d="M379.5,526.2 L379.9,526.2 L380.4,526.2 L381.0,526.2 L381.7,535.6 L382.5,547.5 L383.5,559.0 L384.7,569.6 L386.1,579.3 L387.8,588.8 L389.8,597.8 L392.3,606.9 L395.3,615.8 L398.8,624.3 L402.8,632.3 L407.3,639.8 L412.3,646.8 L418.3,654.0 L425.3,661.1 L433.3,668.0 L442.3,674.6 L452.3,680.9 L463.3,686.9 L475.3,692.7 L488.3,698.1 L502.3,703.3 L516.3,708.0 L529.0,711.8 L541.7,708.0 L555.7,703.3 L569.7,698.1 L582.7,692.7 L594.7,686.9 L605.7,680.9 L615.7,674.6 L624.7,668.0 L632.7,661.1 L639.7,654.0 L645.7,646.8 L650.7,639.8 L655.2,632.3 L659.2,624.3 L662.7,615.8 L665.7,606.9 L668.2,597.8 L670.2,588.8 L671.9,579.3 L673.3,569.6 L674.5,559.0 L675.5,547.5 L676.3,535.6 L677.0,526.2 L677.6,526.2 L678.1,526.2 L678.5,526.2" fill="none" stroke="#000" stroke-width="0.7"/>
</g>
<rect x="378.3" y="556.2" width="301.40000000000003" height="152.0999999999999" fill="none" stroke="#3a3a3a" stroke-width="1.1"/>
<path d="M378.3,585.0h2.5M679.7,585.0h-2.5M378.3,616.2h2.5M679.7,616.2h-2.5M378.3,644.6h2.5M679.7,644.6h-2.5M378.3,674.3h2.5M679.7,674.3h-2.5M378.3,703.9h2.5M679.7,703.9h-2.5" stroke="#444" stroke-width="0.8" fill="none"/>
<text x="373.1" y="584.7" font-size="14.2" text-anchor="end">4</text>
<text x="373.1" y="615.9" font-size="14.2" text-anchor="end">8</text>
<text x="373.1" y="644.3" font-size="14.2" text-anchor="end">16</text>
<text x="373.1" y="674.0" font-size="14.2" text-anchor="end">32</text>
<text x="373.1" y="703.6" font-size="14.2" text-anchor="end">64</text>
<text transform="translate(353.9,676.2) rotate(-90)" font-size="14.4" textLength="90.4" lengthAdjust="spacingAndGlyphs">Period (month)</text>
<text x="396.8" y="721.2" font-size="14.2" text-anchor="middle">2001</text>
<text x="449.6" y="721.2" font-size="14.2" text-anchor="middle">2005</text>
<text x="509" y="721.2" font-size="14.2" text-anchor="middle">2009</text>
<text x="572.9" y="721.2" font-size="14.2" text-anchor="middle">2013</text>
<text x="636.6" y="721.2" font-size="14.2" text-anchor="middle">2017</text>
<text x="683.9" y="721.2" font-size="14.2" text-anchor="middle">2019</text>
<text x="443.6" y="555.2" font-size="14.6" textLength="162.9" lengthAdjust="spacingAndGlyphs">(h) WP-AO-EA/WR-DPC8</text>
<rect x="683.9" y="16.3" width="9.5" height="150.4" fill="url(#cbg)"/>
<line x1="693.4" y1="16.3" x2="693.4" y2="166.7" stroke="#555" stroke-width="0.6"/>
<text x="694.0" y="20.6" font-size="11">1</text>
<text x="694.0" y="35.4" font-size="11">0.9</text>
<text x="694.0" y="50.3" font-size="11">0.8</text>
<text x="694.0" y="65.1" font-size="11">0.7</text>
<text x="694.0" y="80.0" font-size="11">0.6</text>
<text x="694.0" y="94.8" font-size="11">0.5</text>
<text x="694.0" y="109.6" font-size="11">0.4</text>
<text x="694.0" y="124.5" font-size="11">0.3</text>
<text x="694.0" y="139.3" font-size="11">0.2</text>
<text x="694.0" y="154.2" font-size="11">0.1</text>
<text x="694.0" y="169.0" font-size="11">0</text>
<rect x="683.6" y="199.4" width="9.3" height="150.8" fill="url(#cbg)"/>
<line x1="692.9" y1="199.4" x2="692.9" y2="350.2" stroke="#555" stroke-width="0.6"/>
<text x="693.5" y="203.7" font-size="11">1</text>
<text x="693.5" y="218.6" font-size="11">0.9</text>
<text x="693.5" y="233.5" font-size="11">0.8</text>
<text x="693.5" y="248.3" font-size="11">0.7</text>
<text x="693.5" y="263.2" font-size="11">0.6</text>
<text x="693.5" y="278.1" font-size="11">0.5</text>
<text x="693.5" y="293.0" font-size="11">0.4</text>
<text x="693.5" y="307.9" font-size="11">0.3</text>
<text x="693.5" y="322.7" font-size="11">0.2</text>
<text x="693.5" y="337.6" font-size="11">0.1</text>
<text x="693.5" y="352.5" font-size="11">0</text>
<rect x="684" y="377" width="9.0" height="150.7" fill="url(#cbg)"/>
<line x1="693" y1="377" x2="693" y2="527.7" stroke="#555" stroke-width="0.6"/>
<text x="693.6" y="381.3" font-size="11">1</text>
<text x="693.6" y="396.2" font-size="11">0.9</text>
<text x="693.6" y="411.0" font-size="11">0.8</text>
<text x="693.6" y="425.9" font-size="11">0.7</text>
<text x="693.6" y="440.8" font-size="11">0.6</text>
<text x="693.6" y="455.7" font-size="11">0.5</text>
<text x="693.6" y="470.5" font-size="11">0.4</text>
<text x="693.6" y="485.4" font-size="11">0.3</text>
<text x="693.6" y="500.3" font-size="11">0.2</text>
<text x="693.6" y="515.1" font-size="11">0.1</text>
<text x="693.6" y="530.0" font-size="11">0</text>
<rect x="683.5" y="556.2" width="8.8" height="150.4" fill="url(#cbg)"/>
<line x1="692.3" y1="556.2" x2="692.3" y2="706.6" stroke="#555" stroke-width="0.6"/>
<text x="692.9" y="560.5" font-size="11">1</text>
<text x="692.9" y="575.3" font-size="11">0.9</text>
<text x="692.9" y="590.2" font-size="11">0.8</text>
<text x="692.9" y="605.0" font-size="11">0.7</text>
<text x="692.9" y="619.9" font-size="11">0.6</text>
<text x="692.9" y="634.7" font-size="11">0.5</text>
<text x="692.9" y="649.5" font-size="11">0.4</text>
<text x="692.9" y="664.4" font-size="11">0.3</text>
<text x="692.9" y="679.2" font-size="11">0.2</text>
<text x="692.9" y="694.1" font-size="11">0.1</text>
<text x="692.9" y="708.9" font-size="11">0</text>
</svg></body></html>
